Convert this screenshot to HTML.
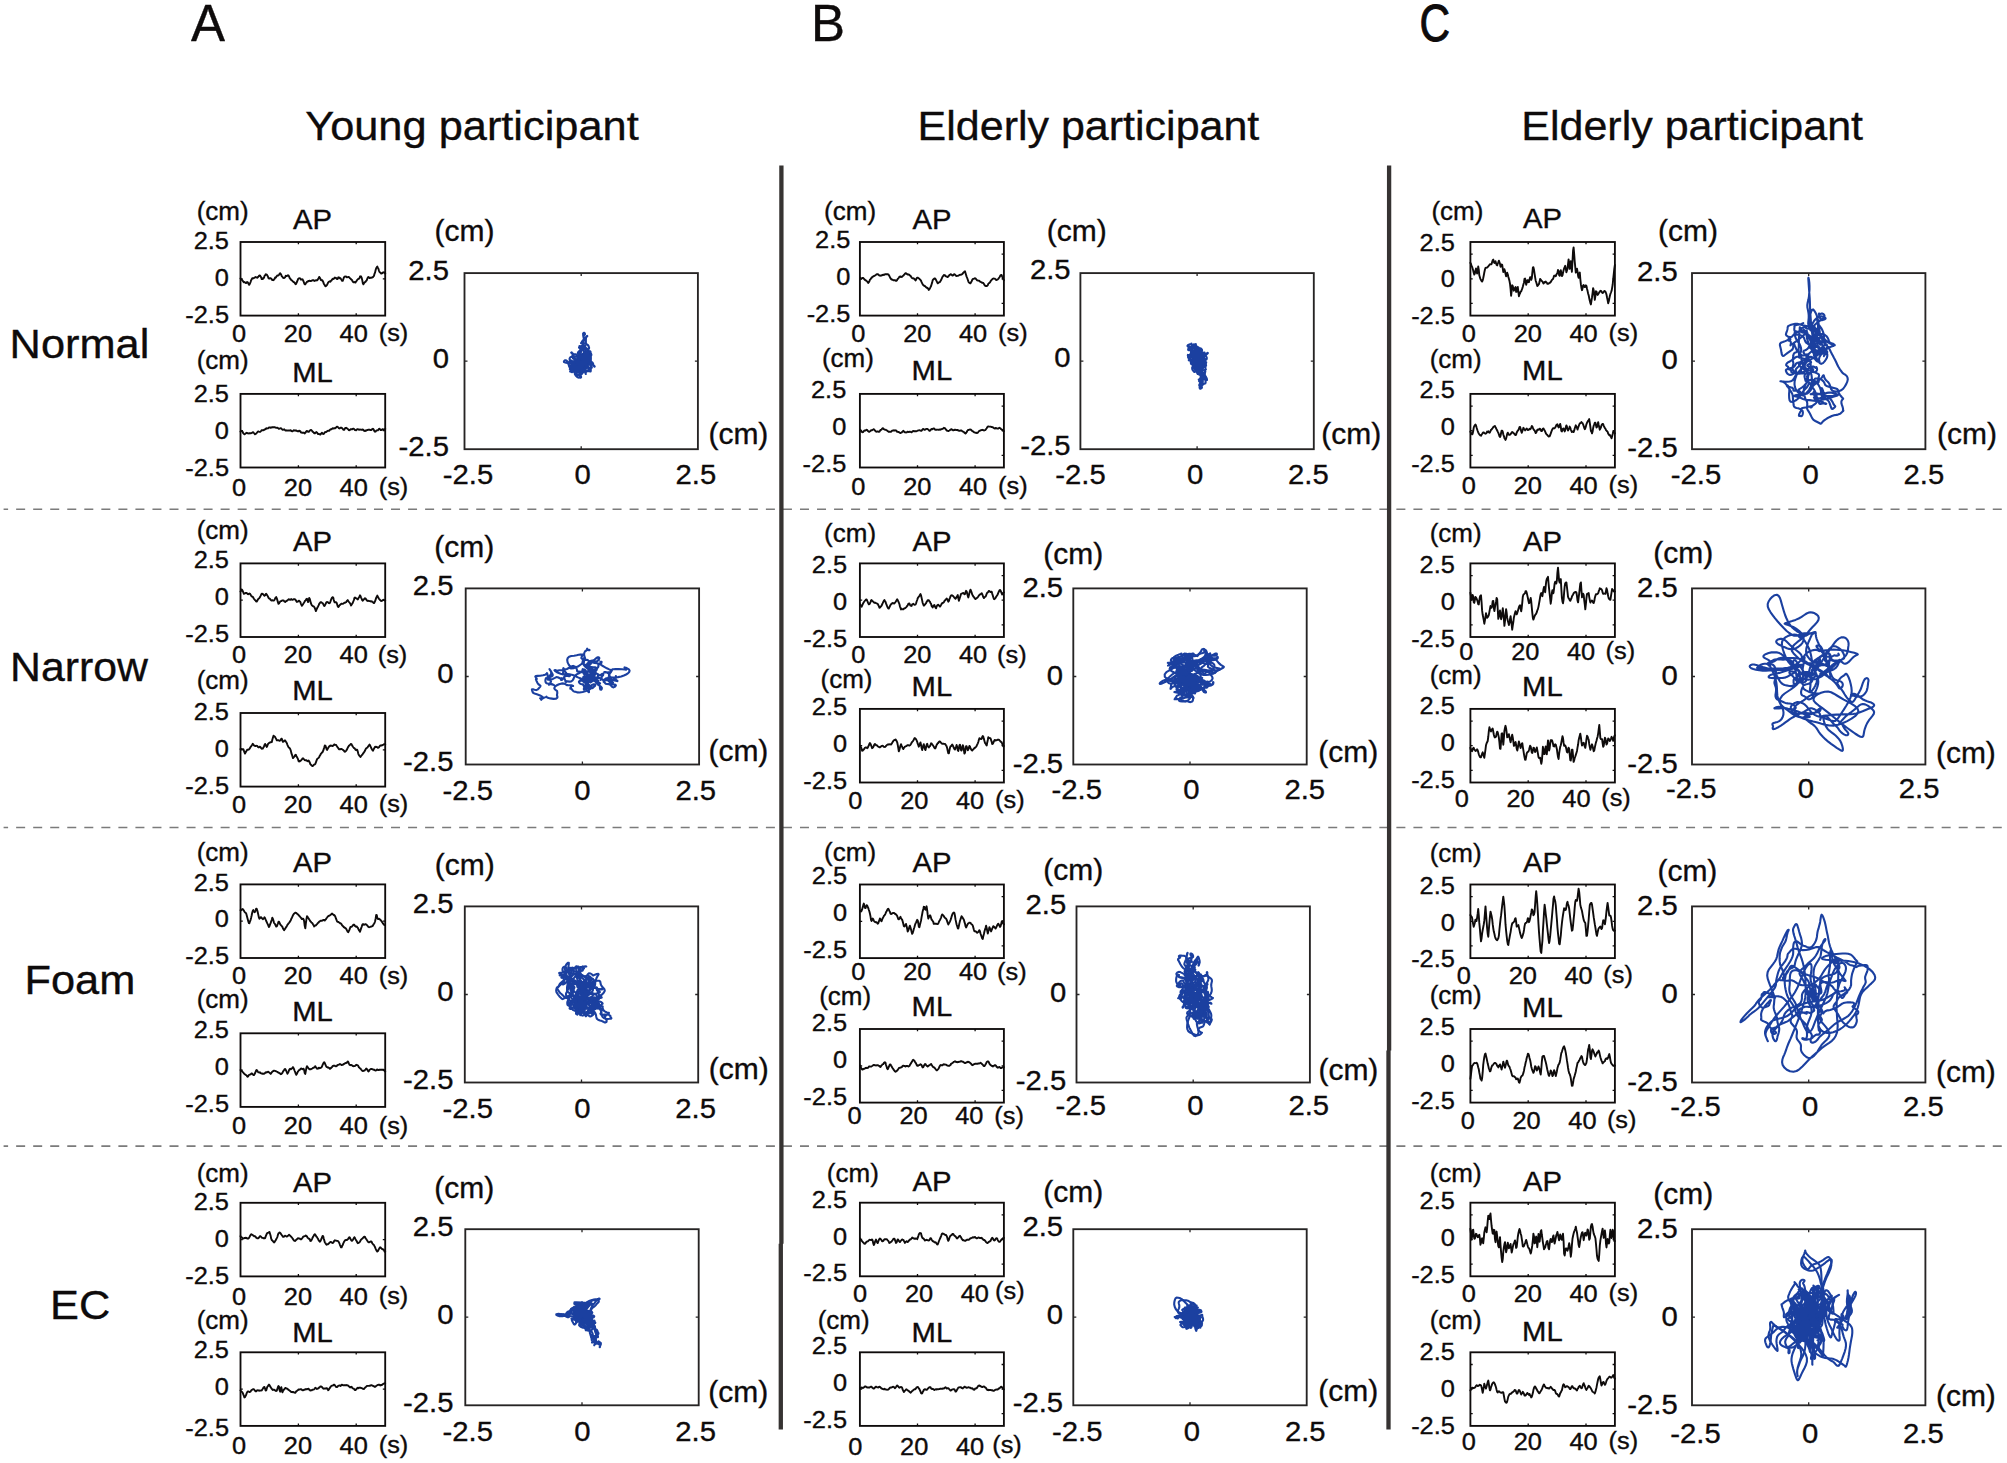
<!DOCTYPE html>
<html lang="en"><head><meta charset="utf-8"><title>Figure</title>
<style>html,body{margin:0;padding:0;background:#fff}svg{display:block}text{stroke:#0e0b0b;stroke-width:.35px}</style></head>
<body>
<svg width="2007" height="1463" viewBox="0 0 2007 1463" font-family='"Liberation Sans", Arial, Helvetica, sans-serif' fill="#0e0b0b">
<rect width="2007" height="1463" fill="#fff"/>
<line x1="3.6" y1="509.3" x2="2004.2" y2="509.3" stroke="#7b7b7b" stroke-width="1.6" stroke-dasharray="9 8.04" stroke-dashoffset="4.5"/>
<line x1="3.6" y1="827.5" x2="2004.2" y2="827.5" stroke="#7b7b7b" stroke-width="1.6" stroke-dasharray="9 8.04" stroke-dashoffset="4.5"/>
<line x1="3.6" y1="1146.1" x2="2004.2" y2="1146.1" stroke="#7b7b7b" stroke-width="1.6" stroke-dasharray="9 8.04" stroke-dashoffset="4.5"/>
<path d="M781.4 165.5V1243.7M780.8 1243.7V1429.5M1389.1 165.5V1050.5M1388.5 1050.5V1429.5" stroke="#363332" stroke-width="4.3" fill="none"/>
<text transform="translate(191 40.6) scale(1.0 1)" font-size="51">A</text>
<text transform="translate(811 40.6) scale(1.0 1)" font-size="51">B</text>
<text transform="translate(1419.6 40.9) scale(0.83 1)" font-size="51" style="stroke-width:.9px">C</text>
<text transform="translate(305.2 140.3) scale(1.045 1)" font-size="41.5">Young participant</text>
<text transform="translate(917.6 140.2) scale(1.036 1)" font-size="41.5">Elderly participant</text>
<text transform="translate(1521.3 140.2) scale(1.036 1)" font-size="41.5">Elderly participant</text>
<text transform="translate(9.6 358) scale(1.045 1)" font-size="41.5">Normal</text>
<text transform="translate(10 680.5) scale(1.031 1)" font-size="41.5">Narrow</text>
<text transform="translate(24.5 994.3) scale(1.045 1)" font-size="41.5">Foam</text>
<text transform="translate(50 1319.4) scale(1.045 1)" font-size="41.5">EC</text>
<path d="M240.5 278.4l.6 .8 .5 .7 .6 .1 .5 .7 .6 .9 .6 .7 .5-.4 .6 .6 .5 .3 .6 .3 .5-.7 .6-.4 .6 .3 .5 1.1 .6 1.3 .5 0 .6-1.3 .6-1.4 .5-1.8 .6-.8 .5-1.1 .6 .1 .5-.2 .6 0 .6-.6 .5-.2 .6-.4 .5 .4 .6 .1 .6 .2 .5-.4 .6-.6 .5-.8 .6-.4 .5-.1 .6 1 .6 1.1 .5 1.6 .6-.4 .5 .3 .6-1 .6-.2 .5-1.9 .6-.6 .5-1 .6 .2 .5 0 .6 1 .6 .9 .5 1.7 .6 .4 .5 .1 .6-.5 .6 .1 .5 .3 .6 1 .5 .5 .6 0 .6 .2 .5-.8 .6-.6 .5-1.3 .6 .2 .5-.8 .6-.7 .6-.8 .5 .1 .6-.2 .5-.5 .6-.9 .6-.7 .5 .7 .6 1.1 .5 1.3 .6 .4 .5 .9 .6 .4 .6 0 .5-.4 .6-.4 .5-1.4 .6 .2 .6-.2 .5 0 .6-.6 .5 .4 .6 .9 .5 1.4 .6 .7 .6 .9 .5 .5 .6 .4 .5 .5 .6 .5 .6 .7 .5 .1 .6 .7 .5 .9 .6 .4 .5-.9 .6-1.3 .6-1.3 .5-1.5 .6-.7 .5-.3 .6 .2 .6 .1 .5 1.1 .6-.2 .5 .1 .6-.2 .6 1.1 .5 1.1 .6 1.7 .5 1 .6 .1 .5-1.2 .6-.2 .6-1.2 .5 0 .6-.7 .5 .2 .6-.4 .6 0 .5 .2 .6 0 .5-.1 .6-.3 .5-.5 .6 0 .6 .1 .5 .8 .6-.4 .5 0 .6-.4 .6-.1 .5 .4 .6-.7 .5-.8 .6-1 .5-1.1 .6 .8 .6 1.1 .5 1.3 .6 .2 .5-.3 .6 .7 .6 1.2 .5 1.5 .6 1 .5 1 .6 .9 .5-.2 .6-.6 .6-.7 .5-1.1 .6-1.2 .5-.6 .6-.2 .6-.4 .5 .4 .6-1 .5-.3 .6-1 .6-.6 .5 .3 .6-.6 .5 .1 .6-1 .5 .3 .6 0 .6 .9 .5 .3 .6-.3 .5-1.3 .6-.2 .6 .4 .5 .7 .6-.2 .5 .8 .6 .9 .5 1 .6-.1 .6-1.5 .5-1.5 .6-1 .5-.3 .6 .1 .6-.1 .5 .8 .6-.1 .5-.1 .6-.1 .5 0 .6 .6 .6 .7 .5 .3 .6 .8 .5 .2 .6 1 .6 .9 .5 .8 .6 0 .5-.1 .6-.2 .5 .5 .6-1.1 .6-.6 .5-.9 .6-.6 .5-.4 .6-.3 .6-.3 .5-1.8 .6-.2 .5 .2 .6 1.4 .6 2.5 .5 2.8 .6 1.1 .5-1 .6-.7 .5-.6 .6-.2 .6-1.1 .5-.3 .6-1.7 .5-1.1 .6-.7 .6 .6 .5 .5 .6 0 .5-.4 .6 0 .5 .1 .6-.5 .6 .1 .5-.8 .6-.7 .5-2 .6-1.4 .6-2.6 .5-1.6 .6-1.1 .5-.6 .6 1.4 .5 .9 .6 2 .6 1.2 .5 .4 .6 .6 .5 .6 .6-.2 .6-.5 .5-.4 .6 .1 .5-.4 .6 .6 .6 .8" fill="none" stroke="#0e0b0b" stroke-width="1.9" stroke-linejoin="round" stroke-linecap="round"/>
<rect x="240.5" y="242" width="144.7" height="73.6" fill="none" stroke="#0e0b0b" stroke-width="1.85"/>
<path d="M298.4 242.0v2.3M298.4 315.6v-2.3M356.2 242.0v2.3M356.2 315.6v-2.3M240.5 278.8h2.3M385.1 278.8h-2.3" stroke="#0e0b0b" stroke-width="1.3" fill="none"/>
<text transform="translate(229 249.2) scale(1.045 1)" font-size="24.3" text-anchor="end">2.5</text>
<text transform="translate(229 286) scale(1.045 1)" font-size="24.3" text-anchor="end">0</text>
<text transform="translate(229 322.8) scale(1.045 1)" font-size="24.3" text-anchor="end">-2.5</text>
<text transform="translate(239 341.9) scale(1.045 1)" font-size="24.3" text-anchor="middle">0</text>
<text transform="translate(297.9 341.9) scale(1.045 1)" font-size="24.3" text-anchor="middle">20</text>
<text transform="translate(353.7 341.9) scale(1.045 1)" font-size="24.3" text-anchor="middle">40</text>
<text transform="translate(378.7 341.4) scale(1.045 1)" font-size="24.3">(s)</text>
<text transform="translate(196.7 219.8) scale(1.045 1)" font-size="24.900000000000002">(cm)</text>
<text transform="translate(312.5 229.4) scale(1.045 1)" font-size="28" text-anchor="middle">AP</text>
<path d="M240.5 431.6l.6-.6 .5-.2 .6 .3 .5 .9 .6 1.3 .6 .5 .5 .5 .6-.3 .5-.3 .6-.6 .5-.3 .6 .2 .6 .4 .5 0 .6 .1 .5-.4 .6 .2 .6-.2 .5 .1 .6-.3 .5-.3 .6-.4 .5 0 .6 .8 .6 .7 .5 .6 .6-.4 .5-.2 .6-.7 .6-.7 .5-.6 .6-.2 .5 .2 .6 .2 .5 0 .6-.5 .6-.6 .5-.6 .6 .2 .5-.1 .6-.1 .6-.4 .5 .1 .6-.7 .5-.1 .6-.9 .5 .4 .6-.2 .6 0 .5-.4 .6-.6 .5 .1 .6 0 .6 .3 .5-.4 .6 .2 .5-.4 .6 .1 .6-.2 .5 .3 .6-.1 .5 .1 .6 .3 .5 .2 .6-.1 .6-.1 .5 .5 .6 .3 .5 .4 .6-.2 .6-.3 .5-.1 .6 .1 .5 .6 .6 .8 .5 0 .6-.2 .6-.3 .5 .4 .6 .6 .5 .2 .6 0 .6-.2 .5 .2 .6 .1 .5-.1 .6 0 .5-.1 .6 .1 .6-.3 .5 .7 .6 .4 .5 0 .6-.3 .6-.7 .5 0 .6 .3 .5-.1 .6 .2 .5-.3 .6 .5 .6 .4 .5 0 .6 0 .5-.6 .6 .3 .6 .1 .5 1.3 .6 .1 .5 .3 .6-.2 .6 0 .5 .3 .6-.1 .5 .6 .6-.6 .5-.6 .6-1 .6-.2 .5 .1 .6 .8 .5 0 .6-.4 .6-.9 .5-.5 .6-.1 .5 .2 .6 .6 .5 .8 .6 .4 .6 .5 .5 .8 .6 .1 .5-.4 .6-.7 .6-.3 .5 .7 .6 .7 .5 .7 .6-.1 .5 .3 .6 0 .6 .2 .5-.9 .6-.3 .5-.6 .6 .9 .6 .4 .5-.1 .6-.8 .5-.8 .6-.1 .5-.2 .6-.2 .6-.6 .5-.3 .6-.1 .5 .1 .6-.1 .6-.9 .5-.5 .6-.1 .5 0 .6-.5 .6-.6 .5 0 .6 .4 .5-.4 .6 .2 .5-.4 .6-.3 .6-.9 .5-.2 .6 .2 .5 .7 .6 .7 .6 .3 .5-.3 .6-.4 .5-.3 .6 .3 .5 .4 .6 .6 .6 .9 .5 0 .6 .1 .5-1.4 .6-.4 .6-.2 .5 .3 .6 .5 .5 .2 .6 .7 .5 .6 .6 .2 .6-.4 .5-.6 .6-.1 .5 0 .6 .2 .6-.6 .5-.2 .6 .3 .5 .5 .6 .7 .5 0 .6 .2 .6-.6 .5-.5 .6-.1 .5 .4 .6 .2 .6 0 .5-.2 .6 .1 .5 .1 .6 .1 .6-.1 .5-.2 .6 .4 .5 .7 .6 .3 .5 .2 .6-.6 .6 .2 .5-.5 .6-.1 .5-.3 .6-.2 .6 .2 .5-.2 .6 .4 .5-.1 .6 .2 .5-.6 .6-.4 .6-.3 .5 .3 .6 1.2 .5 .9 .6 .5 .6-.2 .5-.7 .6-.4 .5 0 .6-.1 .5-.6 .6-.8 .6-.1 .5 .6 .6 .7 .5 0 .6-.2 .6-.7 .5 .1 .6 .2 .5 0 .6 .1 .6-.6" fill="none" stroke="#0e0b0b" stroke-width="1.9" stroke-linejoin="round" stroke-linecap="round"/>
<rect x="240.5" y="393.9" width="144.7" height="73.6" fill="none" stroke="#0e0b0b" stroke-width="1.85"/>
<path d="M298.4 393.9v2.3M298.4 467.5v-2.3M356.2 393.9v2.3M356.2 467.5v-2.3M240.5 430.7h2.3M385.1 430.7h-2.3" stroke="#0e0b0b" stroke-width="1.3" fill="none"/>
<text transform="translate(229 402.3) scale(1.045 1)" font-size="24.3" text-anchor="end">2.5</text>
<text transform="translate(229 439.1) scale(1.045 1)" font-size="24.3" text-anchor="end">0</text>
<text transform="translate(229 475.9) scale(1.045 1)" font-size="24.3" text-anchor="end">-2.5</text>
<text transform="translate(239 495.6) scale(1.045 1)" font-size="24.3" text-anchor="middle">0</text>
<text transform="translate(297.9 495.6) scale(1.045 1)" font-size="24.3" text-anchor="middle">20</text>
<text transform="translate(353.7 495.6) scale(1.045 1)" font-size="24.3" text-anchor="middle">40</text>
<text transform="translate(378.7 495.1) scale(1.045 1)" font-size="24.3">(s)</text>
<text transform="translate(196.7 368.7) scale(1.045 1)" font-size="24.900000000000002">(cm)</text>
<text transform="translate(312.5 382.3) scale(1.045 1)" font-size="28" text-anchor="middle">ML</text>
<path d="M574.3 364.7l-.2-.6-.6-.4-.8-.1-.9 .1-1 0-.9 0-.7 .1-.1-.1 .4-.1 .5-.3 .6-.1 .6 .4 .5 .7 .4 .9 .2 .5-.3 .4-.5 .1-.2-.1-.2-.2-.3-.1-.2 .2 .1 .6 .3 .6 .4 .1 .3-.6 .2-1 .5-.6 .7 .3 .3 1.1 0 1.3 .2 .9 .8 .3 1.5 .1 1.6 .2 1.1 0 0 .1-.7 .3-.9 .4-.8 .4 0 .1 .6-.2 .1-.5-.8-.5-1.6-.2-1.7-.2-1.2-.1-.6 0-.3 0-.3-.1-.3 0-.2 .2-.1 .2 .3 .1 .9-.5 1.8-.9 2.4-1 2-.5 1.4 .1 .7 .6 .4 .9 .2 .7 .1 .1 0-.6-.2-1.5-.6-2-1-2-1-1.3-.9-.5-.7 .1-.7 .2-.6 .1-.8-.1-.9 0-.5 .2-.1 .4 .1 .4 .5 .3 .9 0 1-.3 .9-.3 .1-.3-.7-.2-1.3 .1-1.3-.1-1.1-.2-.4-.3 .2 0 0 .2-.2 .1-.4-.3-.6-1.1-.1-1.3 .6-1.1 1-.6 .9 .2 .6 .4 .3 .3 .1 0 .3-.3 .3-.3-.3-.2-.7-.3-.4-.3 .3-.3 1 0 1.1 .2 .8 .3-.1 .3-.5 .1 .1-.1 1.2 0 1.8 .3 1.8 .1 1.5 0 1.3-.2 1.1 0 1.1 .3 .7 .8 .3 .9 .2 .4-.2-.3-.5-.5-1-.3-1.1 0-.8 .5-.4 .9-.1 .6 .2 .1 .8 0 1-.1 .8 .2 .5 .2 .1 .2 .2-.2 .6-.6 .5-.4 0-.3-.3-.1-.7 .1-.6 0-.7-.3-.5-.9 0-1.2 .3-1.1 .6-.5 .5 .4 .2 1-.5 .9-.4 .6-.2 .5 .2 .4 .8 .1 1.2-.4 1-1.2 .9-1.6 .9-1.5 .4-1.1 .2-.6 .3-.1 .3-.2 .1-.6-.3-.6-.9-.1-1 .7-.6 1-.1 .7 .1 .4 .2-.1 .4 0 .1 .6-.1 .9 0 .7 .3 .2 .7-.2 .9-.3 .7-.3 0-.2-.4-.1-.6 .2-.6 .5-.1 .6 .2 .6 .4 .5 .2 .7 0 1-.1 .6-.4 .5-.8 .4-1 .2-.4 .1 0 .2 .2 .2-.1 .3-.3 .3-.5 0 .1-.1 .5 .2 .7 .4 .8 .5 .9 .3 1 .4 1.4 .6 1.3 .7 1 .9 .3 .5-.2 0-.4-.3-.5-.6-.3-.6-.1-.8-.2-.9-.7-.9-1.2-.9-1.5-.9-1.7-.8-1.7-.6-1.5-.3-1.1-.1-.4 .1 .5 .3 1.1 .5 1.5 .8 1.2 .9 1.1 .4 1.2-.5 .8-1.3 .2-1.5-.4-1.1-1.1-.7-1.2-.1-1.1-.2-.9-.4-1-.3-1.1-.3-1.3-.5-1.6-.6-1.4-.7-.8-.6 .1-.4 1.1-.3 1-.8 .5-.9-.1-1-.1-.7 0-.4-.1-.4-.1-.5 .1-.7 .7-.2 1.6 .5 2 1.2 2 1.5 1.6 1.5 1.2 1.1 .7 1.1 .3 1-.2 .8-1 .2-1.6 .2-1.8 .7-1.4 1.4-.4 1.6 .1 1.2 .2 .4-.2-.3-.4-.6-.3-1 .1-1.3 .6-1.5 .6-1.3 .3-.6 .2 0 .1 .4 0 .5 .1 .6 .5 .4 .8 .1 .2-.1-.4 .2-1.1 .4-1.4 .6-1.2 .7-.7 .3-.8 .1-1 0-.9 0-.8 .1-.4 .3 .1 .3 .4 .3 .3 .3-.1 .1-.3-.1-.1-.6 .1-.7 .4-.3 .4 .1 .5 .4 .1 .4-.3 .1-.8-.1-.8-.2-.2 .2 .3 .3 .5 .5 .3 .5 .2 .5 .3 .3 .2 0-.1-.2-.1-.4 .2 0 .2 .2 .2 .6-.1 .9-.4 .7 0 .3 .3-.1 .1-.5 0-.4-.3-.2-.3 .4 .2 .8 .9 .7 1.1 .5 1.1 .2 1 .2 .7 .4 .3 .8-.3 1.3-1.2 1.2-1.7 1.1-1.3 1-.3 .7 .4 .7 .6 .9 0 .7-.8 .3-.9-.3-.6-.8-.2-1.1-.1-1-.1-.9-.4-1.1-.7-1-.4-1 .2-.8 .8-.7 .7-.3 .2-.2-.1 0-.4 .2 .1-.1 .6-.5 .5-.9 .4-1 .2-1.1 .2-1 0-.7 0-.5-.4-.5-.5-.6-.1-.5 .2-.3 .5 .2 .6 .4 0 .1-.9-.2-1 0-.8 .2-.5 .6-.3 .6-.3 .8-.1 .7 .1 .5 .6 0 .6-.2 .2-.2-.4-.1-.6 .2-.9 .5-.5 .7 .3 .9 .8 .8 1.1 .4 .9 .5 .3 .6-.2 .9-.6 1.1-.9 1.2-1.1 .8-1.3 .6-1.7 .7-1.7 .5-1.5 .2-.9-.1 .1-.3 1-.2 1.8 .1 2.2 .3 2.1 .1 1.6 0 .7-.2-.1-.4-.6-.3-.7-.1-.4 0-.4 0-.2-.1 .3-.3 .8-.3 .9-.3 .4-.2 .1 0 0 .1 .2 .1 .5-.2 .4-.6-.4-.6-1-.4-1 .1-.6 0 .2-.3 .3-.5 .1-.6-.3-.4-.6-.4-.4-.7-.3-.7-.2-.5 .1-.3 .3 0 .3 .1 .3-.1 1-.2 1.1-.3 .9-.2 .5-.1-.3 .1-.7 0-.5-.3-.4-.1-.6 .3-.9 .7-1 .8-.6 .5-.1 .4 .4 .3 .7 .2 .6-.3 .4-.8 .1-.6-.5-.1-.9 .4-1 .3-.3-.2 .5-.6 .8-.4 .6 .1 .3 .8-.2 1.1-.5 .8-.4 .5-.4 .1-.1-.2 .2-.2 .1-.2-.4-.1-.6 .2-.7 .3-.7 .2-.2 0 .2 0 .3 .1 .4 .3 .2 .6-.3 .8-1 .7-1.3 .3-1.3-.4-1.1-1.1-.8-1.7-.4-1.5-.5-1.1-.8-.6-1.2-.3-1.3-.3-.9-.4-.1-.6 .6-.7 .8-.5 .7 .1 1 .8 1.6 1.3 2.3 1.4 2.2 1.2 1.6 .7 .4 .4-.1-.1-.3-.3-.5-.4-.8-.2-.9 .1-.6 .3 .5 .6 1.4 .9 1.6 1.3 1.3 1.2 .5 1-.2 .4-.5 .3-.4 .7 .1 1.3 .2 1.6 .4 1.1 .5 .2 .6-.6 .8-.7 1.1-.6 1-.1 .2 .4-.3 .7-.4 .8-.3 1 .1 .7 .5 .1 .5-.5-.1-1-.7-1-1.3-.7-1.5-.2-1.1-.2-.4-.2 .1-.3 .2-.3 0 .2-.1 .1 .3-.3 .2-.4 .2-.5 .3-.5 .6-.7 .9-.8 1.2-1.1 1.6-.7 1.2-.5 .7-.2 .2-.1-.5-.2-.5-.3-.3-.4 0-.4-.2-.5 0-.9 .2-.9 .6-1 .9-1 .7-.6 .5-.2 .6-.1 .7 .1 .7 .1 .3 0 .1-.2 .1-.3 .4-.3 .7-.3 .5-.1 .1-.2-.5-.3-.7-.3-.6-.2-.3-.1-.2 .2-.2 .4-.3 .3-.4 .4-.4 .3-.5 .2-.4-.1-.5-.3-.2-.3 .4-.1 .5-.1 1-.1 1.1 0 .7 .1-.2 .1-.6 .1-.7 0-.1-.1 .3 .1 .7 .2 .9 0 .8-.3 .6-.4 .1-.3-.3-.3-.3-.4 0-.7 .3-.8 .3-.7 .1-.6-.2-.5-.2-.8 0-1.2-.2-1.3-.3-1.1-.5-.6-.3 .3 0 1.1 .4 1.4 .4 1.3 .1 1.2-.3 1.1-.8 1.1-.9 1-.5 .9 .2 1 .7 1.4 .6 1.5 .3 1.2 0 .6-.2-.2-.2-.7-.2-.6-.2-.3 .4 .1 .5 .3 .6-.1 .6-.4 .4-.7 .1-.9-.5-.9-.9-.7-.9-.7-.3-.5 0 .1 0 .3-.7 .1-1-.5-.6-1.1 0-1.1 .6-.5 .6-.1 .1 .1-.4 .1-.4 0-.3 .1-.2 .3-.1 .2-.4 0-.3-.2-.4 0-.5 .4-.3 .6-.2 .2 .1-.3 .5-.5 .6-.3 .6 0 .7 .2 1-.1 .6-.5 0-.6-.4-.3-.7 .1-.6 .2-.1 .2 .1 .4-.3 .7-.7 .7-1 .9-.9 .7-.3 .2 0 .2 .3 .4 .3 .8 .3 .8 .7 .9 .9 .7 1 .3 1.3 .2 1.1-.2 .6-.5 0-.5 .1-.1 .3 .2 .4 .3-.2 .3-1.1 .4-1.2 .3-.6 .3 .2 .4 .3 .3-.3 0-.7 0-.3 0 .3 .2 .7 .5 .4 .7 0 .6-.5 .5-.6 .3-.4 .2-.4 .3-.1 .4 0 .7 .4 .7 .8 .3 1.3 .1 1.4 0 1 .2 .5 .2 .4-.1 .2-.7-.2-1.2-.9-1.2-1.5-1.1-1.7-.6-1.2-.3-.6-.4 0-.4 .6-.4 1.2-.5 1.4-.7 1.2-.7 .5-.7-.1-.7-.5-.4-1.1 .1-1.6 0-1.7-.2-1.4-.6-1-1.1-.6-1-.1-.5 .4-.2 .5-.5 .7-.8 .5-.4 .6 .1 .8 .6 1 .9 .6 .8-.2 .8-.7 1.2-.7 1.2-.4 1-.3 .9-.5 .8-.2 .9 .1 .8 .1 .6-.2 .4-.7 .5-.9 .9-.8 1-.3 1-.1 .9 .3 .8 .8 .4 1-.1 .8-.5 .5-.7 .1-.2-.4 .4-1.3 .6-1.8 .4-1.6-.2-1-.6-.2-.4 .6-.4 1-.8 1-1.4 .6-1.7 .1-1.5-.5-.9-.7-.4-.5 0-.4 .1-.2 .1 .1-.2 .4-.7 .7-.9 .7-.9 .4-.7 .2-.3 .2 0 .1 .1 .3 .2 .7 .2 .9 .3 .5 .3 .2 .3-.3 .6-.4 .8 .3 .8 .7 .5 .4-.2-.3-.7-1.1-.9-1.3-.9-1.1-1.2-.9-1.2-.5-1-.2-.1-.2 .7-.4 1-.5 .4-.5-.5 .1-1 .8-.8 1.2-.1 1.4 .5 1.2 .6 .9 .3 .6-.1 .1-.3-.3-.2-.4-.1-.4-.3-.6-.6-1.1-1-1.5-1.1-1.6-1.2-.8-1.4 .4-1.2 1.2-1.2 1.6-1.2 1.6-1.2 1-1.3 .2-1.4-.4-1.3-.9-.8-.9-.5-.5-.1 .4-.6 .7-1.2 .9-1.2 .6-.6 .3-.3 0-.4-.3-1.4-.4-2.1-.1-1.8 .6-.9 .7 .1 .5 .7 .1 .7-.7 .7-.6 .9 0 1.2 .6 1.4 .8 1.5 .6 1.5 .1 1.1-.5 .6-.6 .3-.6 .1-.6-.1-.4 0 0 .5 .3 1.1 .4 1.3 0 1.2-.6 .8-1.3 .3-1.4 0-1-.5-.5-.6 .3-.6 .8-.1 1.3 .2 1.6-.2 1.5-.6 .9-.8 .2-.2-.4 .7-.8 1.3-.7 1.3-.3 .9 0 .1 .4-.3 .5-.7 .1-.7 .1-.3-.2 .5-.4 1-.2 1.1 .2 .9 .1 .8-.2 .8-.4 .8-.5 .6-.5 0" fill="none" stroke="#1b40a0" stroke-width="2.1" stroke-linejoin="round" stroke-linecap="round"/>
<path d="M574.1 364.6l0-.2 0-.3-.1-.2-.4-.2-.5-.2-.3 .1-.2 .3-.2 .3-.3 0-.4-.3-.4-.4-.2-.3 0-.2-.2-.1-.2 0 .2 .2 .4 .4 .5 .5 .4 .6-.1 .3-.4 .3-.3 .4-.2 .5-.1 .7-.2 .4-.3 .3-.4 .2 .3 0 .3-.1 .2-.1 .1-.1-.2-.1 .1-.3 .4-.3 .5 .1 .3 .5 .1 .9-.4 1.1-.4 .9-.1 .7 .2 .5 .3 .3 .3 .2 0 .2-.2 .1-.1 0 .1-.2 .4-.3 .6-.2 .5-.2 .2-.4-.2-.7-.2-.8 0-.8 .4-.3 .6 .2 .4 .5 .3 .2 0 .1-.1-.3-.2-.4 0-.5 .3-.4 .3-.4 .3-.5-.1-.8-.5-.8-.5-.8-.2-.7 .1-.5 .2-.5 .3-.4 .2-.5 0-.6 0-.6 .1-.5 .2-.4 .4-.4 .3-.4-.1-.2-.7-.1-.7 .2-.7 .1-.4-.1-.4-.3-.2-.4-.3-.7 .1-.9 .2-1.2 .2-1-.2-.8-.6-.4-.6-.1-.4-.1-.1-.2 .3-.2 .2-.1 .1 .2 .1 .6 .3 .6 .5 .3 .8 .2 .9-.1 .9 0 .6 .2 .5 .4 .4 .4 .3 .5 .5 .6 .7 .5 1.1 .5 1 .2 .4 0 0-.1-.4 .2-.3 .5-.4 .6-.5 .8-.5 .7-.6 .4-.3 .2 0 .2 .2 .2 .9 .3 1.3 .3 1.8 .2 1.6 0 1.1 .1 .7-.1 .2-.1-.1-.2-.4-.2-.5-.3-.5-.4-.1-.6 .3-.9 .5-1.1 .5-1.2 .2-1 .3-.7 .3-.6 .3-.5 .4-.5 .3-.6 .2-.6 .3-.4-.1-.2-.5 .1-.8 .2-.7 .3-.4 0-.1-.1 0-.1 0 .2 .3 .3 .8 .1 .7 0 .4-.3 .2-.3 .3-.1 .4 .2 .4 .3 0 .2-.5 .2-.8 0-.8 0-.7-.2-.5-.1-.4 .2-.4 .5-.1 .7 .1 .5 .6 .4 .8 .3 .9 .5 .6 .7 .4 .6 .5 .3 .7 .1 .7 .2 .5 .5 .2 .8 .2 .7 .1 .4 .1 .2-.3 .2-.5 .3-.3 .5-.1 .3 .1 .2 .2 0 .1-.1 .1-.1 0 .2 .1 .4-.1 .5-.2 .7 0 .8 .2 .7 .3 .5 .2 .4 .3 .6 .3 .7 .4 .6 .3 0 0-.6-.2-1-.3-.9 0-.7 .2-.5 .2-.3 .2-.3-.1-.5-.4-.7-.7-.7-.4-.4-.1-.2 .2-.2 .1-.6 0-1-.2-1.2-.2-1 .1-.5 0-.3-.1-.2-.1-.3-.2-.1-.2 .1 0 .3-.1 .4-.4 0-.7-.6-.5-.7-.3-.8-.2-.8-.2-.9-.4-1-.4-1.1-.2-1.1 0-1-.3-.7-.6-.5-.6-.2-.3 .2 .1 .4 .4 .8 .3 1 .1 .9 .4 .8 .9 .7 1.1 .7 .7 .8-.1 .6-.8 .5-1 .4-.8 .3-.5 .1-.3 .4-.3 .6-.2 .8 0 .8 .2 .7 .4 .7 .4 .7 0 .6-.4 .2-.5-.3-.2-.5 .3-.6 .5-.5 .7-.6 .5-.8 .3-.5-.1-.2-.6-.1-1 0-1-.1-.8-.2-.3-.4 .1-.4 .4-.4 .3-.5 .2-.2-.1 0-.2 .3-.2 .3-.2 .2-.3 .1-.3 .1-.3 .3-.4 .4-.4 .2-.4 .2-.4 .1-.3 .1-.1 .3 0 .2 .2 0 .4-.2 .6 0 .6 .3 .4 .5 .2 .7 .5 .6 .9 .4 1.1 .4 1 .6 .8 .8 .1 .8-.5 .9-.7 .6-.7 .5-.6 .4-.3 0-.2-.2-.4-.4-.3-.3-.1 .2 .2 .5 .1 .4 0 .2-.2 .3-.3 .4-.2 .5 .1 .3 .2 .1 0-.1-.1-.1-.1 .2-.2 .1-.1 .2 0 .2-.1 .3-.4 .4-.3 .2 .1-.2 .1 0-.1 .1-.4 .3-.5 .1-.2-.4-.1-.6 .1-.7 .2-.7 .2-.4-.2-.2-.3 .1-.3 .2 .3-.4 .4-.6 0-.7-.2-.7-.3-.5-.2-.4-.1-.4-.3-.5-.7-.5-.7-.4-.4-.4-.1-.3 .1-.4 0-.7-.2-.7 .2-.5 .4-.2 .5 .1 .4 .1 .3 0 .2 0 .2 .2-.2 .3-.4 .6-.8 .7-.8 .8-.8 .9-.6 .7-.5 .5-.1 .3 .1 .2 .3 .1 .4 .2 .4 .3 .4 .3 .4 .3 .5 .3 .4 .3 .3 .7 0 .9-.4 .9-.6 .8-.6 .5-.7 0-.7-.2-1.1-.4-1.1-.3-.7-.2-.2 0 .4 .2 .6 .4 .4 .3 .3 .1 .3-.2 .5 .1 .5 .3 .5 .7 .2 .5-.1 .2-.3 0-.1-.3 .2-.4 .3-.5 .1-.4 0-.4-.2-.2 .2 0 .5 0 .3-.1 .1-.2-.3-.1-.7 0-.9-.2-.5-.3 0-.3 .3-.2 .2 0 .1 .1-.1-.2 0-.4 0-.4 .1-.5 .3-.2 .3-.2 .3-.2 .2-.4 .1-.4-.2-.4-.2-.2-.2 0-.1 0-.1-.2 .1-.2 .2 0 .3 .1 .3 .1 .6 .2 .6 .2 .5 .1 .3 0 .2-.1 .2-.2 .3 0 0 .3-.3 .8-.6 .8-.4 .8-.1 .5 .2 .3 0 .3-.1 .2-.4 .3-.4 .2-.6 .3-.6 .4-.6 .2-.5 0-.6-.1-.5-.1-.6-.1-.5-.1 0-.3 .1-.7 .2-.9 0-.9-.3-.7-.4-.5-.5-.4-.4-.3-.2-.4 .2-.4 .5-.4 .7-.3 .3 0-.1 .2-.4 .2-.5-.1-.6-.4-.6-.3-.4-.2-.2-.3 .1-.2 0-.1-.2 0-.4 .3-.4 .4 0 .5 .3 .6 .6 .8 .6 .9 .6 .8 .5 .8 .6 .8 .6 .9 .4 1 0 .7-.6 .4-.8 0-.7-.2-.4 0 .1 .2 .3 .6 .4 .5 .3 .3 .4 .1 .4 .2 .5 .5 .5 .8 .3 1 .1 1 .5 .8 .6 .8 .7 .7 .7 .6 .8 .4 .6 .1 .5-.3 .4-.6 .1-.8 0-1 0-1.1-.2-.9-.4-.7-.6-.5-.7-.3-.5-.2-.4-.1-.1-.2 .1-.3 .4-.3 .7-.3 .7-.3 .6-.5 .1-.5-.1-.4 .1-.3 .3-.4 .2-.6 0-.7-.1-.7-.1-.6 0-.3 .2-.2 .3-.2 .3-.3 .4-.3 .7-.5 .9-.5 .8-.6 .6-.6 .2-.4 0-.1-.1 .2-.1 .2 0 .2 0-.1 .2-.3 .3-.5 .4-.5 .3-.4 .2 0 0 .1-.1 .1 .1 0 .4-.2 .6-.3 .5-.4 .4-.5 .2-.6 .3-.7 .3-.6 .4-.3 .3 .2 .1 .7 .1 .7 .1 .4 0 .2 .1-.1-.1 .1-.1 .2-.2 .3 0 .1 .4 0 .6-.2 .5-.4 .4-.5 0-.6 .1-.3 .1-.1-.3 0-.6 .1-.5-.3 0-.6 .4-.8 .5-.5 .2-.1 .2 .3 .1 .4-.1 .2-.7 .1-.9 .3-.8 .6-.1 .9 .4 .9 .3 .9 .2 .7 .1 .6 .1 .5 .2 .5 .2 .5 .1 .5 0 .6 0 .5 .1 .3 .1-.1 0-.4-.1-.6-.2-.6-.3-.7-.4-.7-.1-.3 .2 .1 .6 .5 .3 .5-.2 .1-.8-.3-1-.7-.7-.9 .1-.5 .5-.2 .6-.1 .5 .1 .2-.1-.3-.3-.7-.3-.9-.3-.9-.3-.6-.4-.3-.3 0-.2 .2 .1 .4 .3 .4 .5 .4 .4 .2 .2 .2 0 0-.2-.3-.5-.4-.4-.4-.4-.2-.1 .1 .2 .4 .1 .3 0 .3-.2 0-.1-.2 .1-.1 .2 .1 .1-.2 0-.4 .2-.4 .7-.1 .6 .4 .5 .4 .1 .1-.2-.3-.2-.6-.1-.6 .1-.1 .2 .3 .2 .6 .3 .6 .3 .2 .5-.1 .9-.1 1-.1 .9 0 .6 .1 .3 .2 .2 .1 .2-.2 .2-.4 .2 0 .2 .4 .6 .5 .7 .5 .9 .2 .6 .2 .1 .6-.3 1-.1 .8 0 .3 .4-.2 .5-.4 .4-.7 .3-.9 .3-.9 .6-1 .7-.8 .8-.3 .9 .1 .6 .1 .4-.1 .2-.1-.2-.1-.3-.3-.6-.1-.8 0-.9 .2-1.1 .3-1 .4-1.1 .1-1.2-.3-1.3-.6-1.1-.7-.9-.7-.5-.8-.5-.9-.4-.7-.4 0-.3 .6-.5 1-.5 .9-.5 .9-.4 .9-.3 1.1-.3 1.1-.8 .7-1.1 .2-1-.4-.5-.9 .1-1.1 .8-1.1 1.1-.8 1.3-.3 1.3 0 1.1-.3 .9-.7 .7-.6 1.1-.2 1.1 .2 .9 .3 .6-.1 .7-.4 .7-.4 1.1-.3 1-.2 .7-.1 .3 .1 .1 0-.1-.1-.3-.1-.3-.2-.4-.2-.3-.2-.1-.2 0-.2-.1-.2-.2-.2-.2-.2-.4 .1-.1 .5 .1 .9 .3 .6 .1 .1-.2-.4-.7-.5-1-.5-1.1-.2-1-.1-.6 0-.4 .2-.2 .7-.2 .8-.1 .8-.1 .5 0 .4-.2 .5-.4 .6-.7 .5-.7 .1-.5-.1-.1-.2 .3 .1 .4 .2 .2 .2-.3 .1-.5-.1-.4-.4-.3-.6-.1-.7 0-.3-.2 .3 0 .5 .1 .2 .2-.3-.1-.5-.6-.3-.6-.1-.5 .1-.1 .2 0 .1 .2-.1 .2 0-.2-.1-.3-.3-.6-.3-.6-.3-.4-.5-.3-.5-.3-.5-.3-.4-.6-.2-.9 .1-1 .1-1.1 .1-1.2 .3-1 .5-1.2 .6-1.2 .6-1.4 .4-1.3 0-1-.2-.8-.1-.8 0-.7 .3-.7 .4-.7 .3-.5 .3-.6 .3-.6 .6-.7 .9-.6 .8-.6 .4-.4-.2-.3-.4 .2-.5 .6-.2 1-.1 1.4-.1 1.5-.2 1.2-.1 1 .3 .7 .8 .6 1 .7 .8 .9 .4 1.1 .3 1.1-.1 .8-.5 .4-.7 0-.8-.3-.8-.5-.8-.4-.9-.5-1.3-.3-1.5-.4-1.2-.4-.9-.3-.1 .1 .5 .5 .6 .6 .2 .5-.2 .4-.4 .2-.1 .1 .2 0 .2-.1 0-.3 0-.6 .2-.6 .5-.6 .5-.2 .6 .1 .5 .4 .2 .4 .1 .5-.2 .6-.3 .8-.5 .9-.6 .8-.6 .8-.6 .9-.2 1 .2 .9" fill="none" stroke="#1b40a0" stroke-width="2.1" stroke-linejoin="round" stroke-linecap="round"/>
<rect x="464.5" y="273.1" width="233.4" height="176.1" fill="none" stroke="#262424" stroke-width="1.85"/>
<path d="M581.2 273.1v3.0M581.2 449.2v-3.0M464.5 361.2h3.0M697.9 361.2h-3.0" stroke="#262424" stroke-width="1.3" fill="none"/>
<text transform="translate(449 279.6) scale(1.045 1)" font-size="28" text-anchor="end">2.5</text>
<text transform="translate(449 367.7) scale(1.045 1)" font-size="28" text-anchor="end">0</text>
<text transform="translate(449 455.7) scale(1.045 1)" font-size="28" text-anchor="end">-2.5</text>
<text transform="translate(468 484.2) scale(1.045 1)" font-size="28" text-anchor="middle">-2.5</text>
<text transform="translate(582.7 484.2) scale(1.045 1)" font-size="28" text-anchor="middle">0</text>
<text transform="translate(695.9 484.2) scale(1.045 1)" font-size="28" text-anchor="middle">2.5</text>
<text transform="translate(434.5 240.6) scale(1.045 1)" font-size="28.7">(cm)</text>
<text transform="translate(708.4 444.2) scale(1.045 1)" font-size="28.7">(cm)</text>
<path d="M240.5 591.5l.6-.7 .5-1.4 .6 .6 .5 .9 .6 1.4 .6 1.5 .5-.2 .6-.2 .5-.5 .6 .1 .5 0 .6 .5 .6 .6 .5 .1 .6-.4 .5-.3 .6 .4 .6 .9 .5 .8 .6 .8 .5 .2 .6 .3 .5 .7 .6 1.1 .6 .8 .5 .6 .6 .5 .5 .8 .6 .2 .6-.8 .5-1.1 .6-.9 .5-.3 .6-.6 .5-.9 .6-1.1 .6-1.2 .5-1 .6 .1 .5 .3 .6 .5 .6 .7 .5 .5 .6-.5 .5-1 .6-.5 .5 .7 .6 1 .6 .8 .5 1.3 .6 .8 .5 .2 .6 .5 .6 .8 .5 .5 .6 .2 .5-.4 .6 .3 .6 .1 .5-.1 .6-.8 .5-1.1 .6-1 .5-.6 .6 1.4 .6 1.9 .5 1.9 .6 1.6 .5-.3 .6-1.2 .6-.7 .5-.4 .6-.2 .5-.2 .6-.4 .5 0 .6 0 .6 .7 .5 .6 .6 .3 .5-.4 .6-.5 .6-.4 .5-.2 .6-.7 .5-.5 .6 .1 .5 .1 .6 .4 .6-.4 .5-.4 .6 .6 .5 .2 .6-.2 .6-.6 .5 .1 .6 .1 .5 .1 .6 .8 .5 .9 .6 .9 .6-.3 .5-.2 .6-.6 .5-.2 .6 .6 .6 .6 .5 1.6 .6 1.4 .5 .9 .6-.8 .6-.9 .5-.8 .6-.8 .5-1.2 .6-.5 .5-.7 .6-1 .6-.4 .5 1.5 .6 1.9 .5-1.7 .6-2.4 .6 1 .5 2 .6 2.2 .5 1.3 .6 .9 .5 .5 .6 .4 .6 .1 .5 .6 .6 1 .5 1.5 .6 1.6 .6-1.4 .5-1.2 .6-1.3 .5-.8 .6-1.2 .5-1.3 .6-.8 .6-.7 .5-.3 .6 .3 .5 .5 .6 .2 .6 .9 .5 1 .6 1 .5-.5 .6-1.1 .5-1.1 .6-1.2 .6-.1 .5 .1 .6 .5 .5 .5 .6 .1 .6-.3 .5-1.3 .6-1.7 .5-1.3 .6-1.1 .6-.3 .5 .4 .6 2.4 .5 1.8 .6 .7 .5-.3 .6-.1 .6 .6 .5 1.6 .6 2 .5 .8 .6-.6 .6-1 .5-.4 .6-.7 .5-.4 .6-.4 .5 .3 .6 0 .6-.3 .5-.4 .6-.6 .5 .2 .6-.3 .6-.3 .5-.8 .6-.8 .5-.5 .6 .9 .5 .7 .6 .8 .6 .7 .5 1 .6 1.3 .5-.9 .6-.8 .6-1.1 .5-1.2 .6-1.5 .5-1.9 .6-.5 .5 .4 .6 .2 .6 .4 .5 .4 .6 .4 .5-.8 .6-1.2 .6-1 .5-1.1 .6 1 .5 1.3 .6 1.3 .6 1.4 .5 .4 .6-.7 .5-.6 .6-.7 .5-.5 .6 .4 .6 .9 .5 .8 .6 .6 .5-.3 .6 .3 .6 .1 .5 .1 .6 0 .5 .3 .6 .2 .5-.4 .6 .5 .6 .4 .5 .7 .6 .3 .5-.7 .6-1.2 .6-1.8 .5-1.6 .6-1.2 .5-1 .6 1.2 .5 1.1 .6 .9 .6 .7 .5 .5 .6 .5 .5 .5 .6-.1 .6-.4 .5-.4 .6-.3 .5 .4 .6 .2 .6 .4" fill="none" stroke="#0e0b0b" stroke-width="1.9" stroke-linejoin="round" stroke-linecap="round"/>
<rect x="240.5" y="563.4" width="144.7" height="73.6" fill="none" stroke="#0e0b0b" stroke-width="1.85"/>
<path d="M298.4 563.4v2.3M298.4 637.0v-2.3M356.2 563.4v2.3M356.2 637.0v-2.3M240.5 600.2h2.3M385.1 600.2h-2.3" stroke="#0e0b0b" stroke-width="1.3" fill="none"/>
<text transform="translate(229 567.9) scale(1.045 1)" font-size="24.3" text-anchor="end">2.5</text>
<text transform="translate(229 604.7) scale(1.045 1)" font-size="24.3" text-anchor="end">0</text>
<text transform="translate(229 641.5) scale(1.045 1)" font-size="24.3" text-anchor="end">-2.5</text>
<text transform="translate(239 663.3) scale(1.045 1)" font-size="24.3" text-anchor="middle">0</text>
<text transform="translate(297.9 663.3) scale(1.045 1)" font-size="24.3" text-anchor="middle">20</text>
<text transform="translate(353.7 663.3) scale(1.045 1)" font-size="24.3" text-anchor="middle">40</text>
<text transform="translate(377.7 662.8) scale(1.045 1)" font-size="24.3">(s)</text>
<text transform="translate(196.7 539.2) scale(1.045 1)" font-size="24.900000000000002">(cm)</text>
<text transform="translate(312.5 550.8) scale(1.045 1)" font-size="28" text-anchor="middle">AP</text>
<path d="M240.5 749.1l.6-.2 .5 .2 .6 0 .5 0 .6 .1 .6 1.5 .5 1.5 .6 1.4 .5-1.1 .6-.9 .5-.9 .6-.9 .6-.1 .5 0 .6-.2 .5-.6 .6-1 .6-1 .5-.5 .6-.9 .5-.7 .6-1 .5 .9 .6 .6 .6 .5 .5 0 .6 .2 .5-.2 .6 .1 .6 .1 .5 .8 .6 .3 .5 .3 .6-.6 .5-.1 .6 .5 .6 .9 .5 .7 .6-.3 .5 .1 .6-1.2 .6-1 .5-1.4 .6-1.1 .5 .8 .6 1.3 .5 .9 .6-1 .6-1.7 .5-.6 .6-.6 .5-.3 .6-.2 .6-.3 .5 0 .6-.2 .5-2.2 .6-2 .6-2.1 .5 .4 .6 .4 .5 .4 .6 1.3 .5 .8 .6 1.4 .6-.1 .5 .1 .6-.2 .5 .4 .6 .2 .6-.3 .5-.6 .6-1.1 .5-.1 .6 1.9 .5 1.2 .6-.2 .6-.7 .5-.5 .6 .1 .5 1.1 .6 .6 .6 1.2 .5 1.4 .6 1.3 .5 1.1 .6 .6 .5 .3 .6 .9 .6 1.6 .5 2.3 .6 1.7 .5 1.7 .6 1.8 .6-.7 .5-.5 .6-1 .5-.8 .6-.4 .5 1.2 .6 1 .6 1.2 .5 1.1 .6 1.9 .5 .4 .6-.1 .6-.8 .5 .1 .6-.7 .5-.6 .6-.9 .6-.2 .5 .5 .6 .7 .5 .6 .6 .2 .5-.1 .6-.1 .6 .7 .5 .4 .6 .2 .5-.8 .6 .8 .6 1.1 .5 1.6 .6 .6 .5 .6 .6 .5 .5 .2 .6-.2 .6-.8 .5-.4 .6-.2 .5-.6 .6-1.5 .6-1.6 .5-1.3 .6-.9 .5-.3 .6-.4 .5-.8 .6-1.3 .6-.8 .5-1.2 .6-.5 .5-.8 .6-.3 .6-1.4 .5-1.6 .6-1.8 .5-1.8 .6 .1 .5 1.4 .6 2 .6 .9 .5-.9 .6-1.2 .5-.6 .6-1.1 .6-.1 .5-.5 .6 .3 .5-.2 .6 .2 .6 .2 .5-.5 .6-.4 .5-.7 .6 .4 .5 .1 .6 0 .6 .9 .5 .7 .6 1 .5 .4 .6 1 .6 .5 .5-.1 .6-.1 .5-.2 .6 0 .5 .3 .6 .4 .6 .4 .5 .6 .6 .7 .5 .4 .6-.4 .6-.6 .5-.7 .6-1.1 .5-1.2 .6-1.1 .5-.8 .6-.4 .6-.7 .5-.5 .6-.4 .5 .4 .6 1.3 .6 .9 .5 .7 .6 .8 .5 .2 .6 .7 .5 .9 .6 .2 .6-.4 .5 .3 .6 1.7 .5 2.2 .6 1.2 .6 .9 .5 .5 .6 .5 .5-.9 .6-.7 .6-.6 .5-.8 .6-.7 .5-.9 .6-.7 .5-1.1 .6-1.2 .6-1 .5-.3 .6-.3 .5-.8 .6-.8 .6-.7 .5-.8 .6 1 .5 .9 .6 1.5 .5 .9 .6 1.1 .6 .7 .5-.9 .6-1.2 .5-.9 .6-1 .6 .3 .5-.2 .6 .3 .5 .1 .6 .7 .5-.2 .6-.4 .6-1 .5-.6 .6-.2 .5 .1 .6-.3 .6-.1 .5-.3 .6-.2 .5-.5 .6 0 .6 .3" fill="none" stroke="#0e0b0b" stroke-width="1.9" stroke-linejoin="round" stroke-linecap="round"/>
<rect x="240.5" y="713" width="144.7" height="73.6" fill="none" stroke="#0e0b0b" stroke-width="1.85"/>
<path d="M298.4 713.0v2.3M298.4 786.6v-2.3M356.2 713.0v2.3M356.2 786.6v-2.3M240.5 749.8h2.3M385.1 749.8h-2.3" stroke="#0e0b0b" stroke-width="1.3" fill="none"/>
<text transform="translate(229 720.2) scale(1.045 1)" font-size="24.3" text-anchor="end">2.5</text>
<text transform="translate(229 757) scale(1.045 1)" font-size="24.3" text-anchor="end">0</text>
<text transform="translate(229 793.8) scale(1.045 1)" font-size="24.3" text-anchor="end">-2.5</text>
<text transform="translate(239 812.9) scale(1.045 1)" font-size="24.3" text-anchor="middle">0</text>
<text transform="translate(297.9 812.9) scale(1.045 1)" font-size="24.3" text-anchor="middle">20</text>
<text transform="translate(353.7 812.9) scale(1.045 1)" font-size="24.3" text-anchor="middle">40</text>
<text transform="translate(378.7 812.4) scale(1.045 1)" font-size="24.3">(s)</text>
<text transform="translate(196.7 689.2) scale(1.045 1)" font-size="24.900000000000002">(cm)</text>
<text transform="translate(312.5 700.4) scale(1.045 1)" font-size="28" text-anchor="middle">ML</text>
<path d="M589.4 649.8l.2 .3-.2 .2-.7-.1-.9-.7-.6-.7-.1-.2 0 .4 .1 .6-.2 .5-.7 .4-.8 .5-.6 .6-.5 1-.3 1.4 .1 1.4 .4 1.3 .4 1.4 0 1.3-1.1 1.9-2.4 2.7-3.6 2.6-3.9 1.5-2.9 .3-1.3-.5-.1-.5 .3-.5-.2-.7-1.1-1.6-1.1-2.2-.4-2.5 .6-2 1.3-1.2 2.2-.7 2.8-.3 2.6-.4 1.9-.5 1.1-.3 .3-.1 0 .1 .2 .2 .6 0 .7-.1 .5-.2 .4 .3-.1 .8-.6 1.4-.4 1.2 .7 .7 1.4 .4 1.8 .4 1.6 .3 .8 .1 .1-.1 .2 .3 .7 .7 1.1 1 1.1 1 .1 .9-1.1 .9-1.5 .7-1.3 .5-.3 .3 .3 .3 .1 .3-.5 0-.5-.5-.1-.7 .3-.7 .9-1.1 1.4-1.4 1.7-1.3 2-.5 2.2 .4 1.6 1.2 1.1 1.2 1.1 .7 1.4 0 1.2-.4 .5-.8-.2-.6-.6-.4-.2-.1 .5 0 .7 .1 0 .3-.9 .6-1.1 .8-.9 .8-.3 .8 0 .7 0 .7-.5 .8-1.1 1-1.6 1.2-1.8 .9-2.1 .7-1.8 .1-1.4-.1-1 .3-.3 .8 .4 1 .5 .9 .1 1-.9 1-1.7 1.1-1.4 1.2-.4 1.2 1 .9 1.4 .7 1.2 .4 .8-.1 .4-.1 .1-.2-.3-.4-.7-.7-1.1-.9-.9-1-.3-1.1-.2-1.2-.2-.9-.2-.8-.3-.4-.4-.2 0-.3 .2-.2 .6 .1 1.1 .5 1.3 .5 1.3 .3 1.6-.2 1.4-.5 .9-.7 .3-.7-.3-.7-.5-.8-.4-.5-.8-.5-1.3-.5-1.8-1-1.7-1.5-1.6-1.8-1-1.8-.4-1.7 .3-1.3 .5-1.1 .2-.9 .2-.2 0 .6 0 1 .2 1.3-.1 1.3-.6 .7-.3 .3 .6 .5 1.6 1 1.9 .6 1.4 0 .6-.7 .4-1.1 1.3-1 2.2-.6 2.4-.4 1.5-.5 .8-.4 .5-.5 .4-.4 .4-.1-.1 .2-.4 .3-.2 0-.1-.4 .2-.4 .2-.5 .4-.3 .3-.2 0-.5-.5-.6-.9-.2-1 .5-1.4 1.1-1.6 1.4-1.6 1.2-1.1 .6 0 .3 1.3 .2 2.2 .4 2.4 .4 1.9 .4 1.4 .7 1.6 1.1 2.3 1.3 2.6 1.5 2.3 1.1 1.4 .6 .2 .4-.1 .5 .3 .7 0 .5-.3 .3-.8 0-1.5 0-1.8 .1-1.6 0-.8-.1 .1-.3 1.2-.1 1.6 .5 1.6 1 .8 1.3 0 1.3-.7 1.1-1 .7-1 .3-.7 .1-.4 .3-.2 .3 .4 .3 1 .1 1.3-.4 1.1-.7 1.3-.5 1.7-.2 2.5-.1 3.2-.3 3.2-.6 2.7-1 2.2-1 1.8-1.1 1.3-1.4 .4-1.4-.5-1-1.1-.8-1.3-.7-1.1-.4-.9-.3-.2 .1 .4 .6 .6 .9 .7 .6-.1 .1-1.4-.2-2.6-.3-3.4-.2-3.2 .1-2.1 .1-1 0-.3 .6-.5 1.2-1 1.4-.9 1.2-.5 .9-.2 .6 0 .7 .6 .7 .8 .6 .7 .3 .5 .2 .1 .4-.3 .5-.6 .8-.2 1.1 .5 1.2 1 .7 .9 .2 0-.1-.8-.3-.8-.2 .1-.3 .6-.6 .6-.8 .7-.6 .8-.4 .9-.6 .7-1 .2-1.1-.1-.5 0 .5 0 1.5-.2 1.7-.4 1-.5 0 .1-.2 .8-.2 1.1 .1 .7 .4 0 .3-.7-.1-1.2-.4-1.6-.4-2.2-.4-2.7 0-2.5 .3-1.7 .5-.8 .5-.4 .6-.1 .2 .2-.5 .2-.8 .5-1.1 .9-.5 1.4 .5 1.7 1.4 1.7 1.5 1.6 1.3 1.4 .8 1.3 .1 1 .2 .4 .6-.4 .7-.9 .8-1.1 .5-.9-.3-.9-.7-.9-1-.9-.9-1.3-.4-1.5-.1-1.4-.3-.9-.9-.7-1.4-1.2-1.6-1.8-1.3-2.2-.7-1.9 .1-1.1 .4-.6 .4-.5-.1-.5-1-.3-1.6 .1-1.3 .3-.6 .1-.2-.1-.1 0-.2 .2-.4 .6 .1 .5 .6-.2 .5-1.1 0-1.4-.2-1.4-.1-1.5 .5-1.4 1-1.8 1.3-2.1 1.2-2 .7-1.6-.1-1.6-.6-1.6-.7-1.4-.7-1.4-.8-1.6-.6-1.9-.6-2.1-.4-2-.2-1.4-.1-.3-.1-.2 .1-.8 .3-1.7 .1-2.6-.6-3.1-1.3-2.3-1.3-.8-1 .7-.1 1.3 .4 .9 .4 .2 .1 0-.3 .6-.2 1.3-.2 1.4-.1 1.3 0 1.4 .3 1.6 1.1 1.1 1.3 .2 1.3-.7 1.2-1.2 1.2-1.1 1.4-1 1.4-1 .6-.5-.2-.1-.7 .3-.5 .4-.4 .2 .2-.2 .5 0 .3 .6 .3 .4 .1-.3-.2-1-.6-1.8-.8-1.7-.8-1.3-.1-1.5 .8-2 1-2.1 .7-1.7 0-.6-.6 .3-.6 .3-.2-.5 0-.9 .1-.9 .2-.5-.1-.2-.3-.1 0-.2 .5-.3 1-.1 1.2 .2 1.2 .3 .7 .6 .5 1.2 .3 1.5 .4 2 .3 1.9 .5 1 .4-.7-.3-1.1-.6-1.1-.4-.9 .2-1 .5-.4 .2 .3-.4 .6-.8 .7-.9 .4-.7 .1-.2-.2-.3-.2-.4-.2-.4 0-.1 0-.2-.1-.5-.4-1-.4-1.2 0-.8 .6-.1 1.1-.1 .8-.4 .6-.6 .2-.6-.2-.7-.3-.7-.4-.6-.5-.3-.3 .1 .3 .3 .2-.2 0-.5-.6-.9-.9-1.3-.6-1 0-.1 .5 .7 .9 1.3 .5 1.5-.3 1.4-.9 1.3-1.1 1.3-.6 1.3-.3 1.2-.1 .7-.1-.1-.2-1.1-.1-1.8-.1-1.8-.3-1.2-.2-.5-.2-.1-.1 .2-.4 .5-1.2 .8-2.2 .5-2.8 .5-2.6 .2-1.8 .2-.5 .5 .6 .9 .7 .9 .2 .7-.5 .2-.4 0 .1 .2 .3 .9 .6 1.4 .8 1.5 1 1.2 1.1 .7 .7 .6-.2 .8-.9 1-1 1.1-1 .9-1.2 .5-1.7-.4-1.5-.4-1-.1-.1 .5 .3 1.1 .5 1.3 .5 .8 1.3 .6 2.4 .7 3.2 1.2 2.4 1.4 .7 1.3-1 .4-1.4-.1-.7-.2 .4 .3 .6 .8 .2 .5 .1-.2 .6-.7 1.3-.8 1.7-.7 1.2-.5 .3-.2 .1 .4 1.2 .7 2.5 .6 3.2 .5 2.6-.3 1.3-1 0-1.1-.4-1 0-.9 .2-.8 .1-.9-.1-1-.1-.9-.9-.7-1.2-.8-.7-1.1 .4-1.4 1.7-1.5 2.6-1.3 2.9-.8 2.2 .2 1.5 .7 1.3 .8 1.4 .2 1.6-.1 1.4 0 1 .3 .6 .4 .2 .1-.1-.3-.6 0-1 .6-.8 1-.3 1 .1 .5 .2-.2 .2-.5 .2-.1 .2 .4 .5 .7 .6 .9 .8 .9 .9 .6 .9 .2 .6 .1 .8 .3 1.1 .3 2.2 .1 3.1-.5 3.2-.9 2.9-1.3 1.9-1.1 .8-.9 0-.7-.2-.8 0-.8 .6-.6 1.3-.5 1.4 0 .7 .7-.3 .8-.7 .6-.8 .5-.5 .5-.1 .3-.4 .3-.9-.4-1.1-1.2-1.4-1.5-1.6-1-1.6-.8-1.5-.9-1.3-1-1-.9-.6-.5-.2 .1 0 .2 .2-.1 .6-.1 .7 0 .6 0 1.1-.2 1.6-.3 2.1-.3 2.6 .2 2.5 .9 1.9 1.1 1.4 .6 1.2 .4 .8 .2 .6 .2 .6 .3 .3 .3 0 .2-.4-.2-.5 0-.4 0-.2-.4-.5-.7-1.2-1-1.7-.9-1.4-.9-.5-.6 .5-.7 .7-1.1-.1-1.3-.6-1.3-.7-1-.3-.6 .3-.7 .4-.7 .1-.9 0-.7 .2-.5 .4-.1-.1 .4-.7 1.1-.9 2-.4 2.2 .4 1.7 .9 1.1 1 .8 1 .8 1.1 1 1.2 .6 .7-.1-.2-.5-.7-.3-.6 .3 .1 .6 .1 .2-.2-.3-.9-.5-1.8-.1-2 .2-1.7 .3-1.3 .6-.9 .9-.1 1.3 .2 1.4 .1 .9 .1 .7 .1 1-.1 1.4 .1 1.4 .3 1.1 0 .7-.4-.2-.7-.8-1.2-1.3-1.3-1.5-1-1.5-.3-1.1 .1-.2-.1 .8-.1 1.5-.2 1.2 .2 .3 .6-.3 .9-.5 .4-.1 .2 .1 .3-.1 .4-.4 .7-.4 .9-.3 .5-.1 .3 0 .5 0 .8-.1 .6-.2-.3-.4-1.5-.4-1.9-.4-1 0-.2 .2-.2-.1-.2-.5-.1-.7 .3-.5 .5 0 .5 .7 .3 1 .3 .7 .1 .2-.5 .1-1.3-.2-1.5-.5-1-.7-.3-.6 .2-.4-.3-.1-.9-.1-1.3-.3-1-.7-.6-.7-.3-.7 .2-.5 .8-.6 .8-.4 .2-.1-.5 0-.5 .2 0 .4 1.2-.1 1.9-.7 1.8-1.1 1.4-1.3 .9-.6 .5 .3 .3 .9 .4 .6 .4 0 .1-.5-.2-.7-.7-.9-.6-.9-.2-.7 .3-.1 .9 .6 1.5 .9 1.9 1.1 1.7 1.2 1.3 1.4 .7 1.2 .6 .6 .6-.1 .7-.2 .4 .4 .4 .8 .2 .8-.1 .3-.3 0-.1 .3 .4 .5 1.2 .7 1.5 1 1 1.3-.2 1.1-.6 .7-.7-.2-.4-1-.1-1.3 .1-.9-.5-.6-.7-.7-1-.7-1-.8-.9-1-.4-.9-.2-.8-.5-.6-.7-.4-.8-.7-.8-1.2-.5-1.6-.4-1.8-.6-1.5-1.1-1-1.7-.5-1.8-.3-1.6-.2-1.3-.4-.5-.6 .3-.5 .8-.1 1 .5 .4 .9-.4 .9-.9 .7-.4 .6 .2 .5 .5 .3 .3-.1 .2-.4 .2-.1 .2 .4 .2 .5-.1 0-.8-.8-1.6-.9-2.1-.6-2.1-.2-1.4-.1-.4-.5-.1-1-.4-1.3-.9-1.3-1.2-1-1.2-.5-.9 .2-.9 .4-.5 .2-.1-.3 0-.1-.7 .6-1.4 1.1-1.9 1-1.7 .5-1.1-.4-.5-.6-.2-.3-.2 .5 0 1.1-.2 1.7 .2 1.7 .9 1.2 1.6 .6 2 .3 1.6 .2 .7 .3-.3 .3-.8 0-1.4-.2-1.4-.1-1.1 .4-.7 1 .2 1.6 .9 1.8 .7 1.2 .1 .3-.5-.3-.3-.4 .5-.2 1.7 .2 2 .2 1.6-.2 1.3-.9 .9-1.4 .8-1.9 1.2-1.9 1.7-1.2 1.9-.9 1.7-.8 1.3-1.1 .5-1.2 .1-.8 .1-.2 .1 .5 0 .7 .2 .5 .4 .1 .5-.1 .7-.2 .4 0 .4 .8 .7 1.5 1.1 2 1.2 2.1 .7 1.4 0 .4-.5-.2-.2-.3 .1-.1 .2 .3 .3 .4 .5 .2 .7-.1 .8-.4 .9-.2 .8-.1 .9 .2 1.1 .4 1 .4 .8 .3 .1 .3-1.1 .4-1.7 .3-1.7 .7-1.1 .7-.4 .3-.4-.3-.9-.4-1.3-.6-1.1-.4-.5 0-.1 0-.1 .1-.1 0 .1-.1 .2-.3-.5-.3-1-.2-1.2 0-.8 .2-.2 .3 .2-.2 .3-.4 .4-.9 .2-1.1-.1-.7-.3-.2-.2 .8 .3 1.6 .9 1.9 .8 1.5 .4 .9 .2 .4 .2 0 .1-.6-.1-1.1 .1-1.3 .3-1.3 1.2-1.1 2.2-.8 2.2-.9 1.5-1.1 .6-.8 .1-.4 .1-.2 .7-.2 .8-.5 0-1.2-.6-1.5-1.2-1.1-1.7-.7-1.5-.4-1-.3-.6-.5-.5-.7-.5-.7-.7-.6-.2-.4 .7 .2 1.1 .5 1.4 .5 1.8 .3 1.7 .2 1.4 .2 1.1 .6 .4 1.1-.5 1.2-1.2 1-1.3 .3-1.2-.2-.4-.1 .2 .5-.1 .8-.9 .9-1.2 .8-.7 1 .2 1 .5 .8 .4 .7 .1 .5 .1 .2 .8 .1 1.5-.3 1.5-.5 .8-.3 .4 .1 .5 .1 .8-.3 .7-1 .2-1.3-.3-.9-.2-.3 .5 .4 1.1 .6 1.1 .4 .6-.1-.1-.1-.2-.2 .2-.1 .4-.2 .6-.4 .8-.5 .6 .1 .1 .6-.3 .9-.6 .6-.6 .2-.1 .1 0 .8-.2 1.5-.9 1.4" fill="none" stroke="#1b40a0" stroke-width="2.1" stroke-linejoin="round" stroke-linecap="round"/>
<rect x="465.7" y="588.4" width="233.4" height="176.1" fill="none" stroke="#262424" stroke-width="1.85"/>
<path d="M582.4 588.4v3.0M582.4 764.5v-3.0M465.7 676.5h3.0M699.1 676.5h-3.0" stroke="#262424" stroke-width="1.3" fill="none"/>
<text transform="translate(453.4 594.9) scale(1.045 1)" font-size="28" text-anchor="end">2.5</text>
<text transform="translate(453.4 683) scale(1.045 1)" font-size="28" text-anchor="end">0</text>
<text transform="translate(453.4 771) scale(1.045 1)" font-size="28" text-anchor="end">-2.5</text>
<text transform="translate(467.8 800.4) scale(1.045 1)" font-size="28" text-anchor="middle">-2.5</text>
<text transform="translate(582.5 800.4) scale(1.045 1)" font-size="28" text-anchor="middle">0</text>
<text transform="translate(695.7 800.4) scale(1.045 1)" font-size="28" text-anchor="middle">2.5</text>
<text transform="translate(434.2 557.1) scale(1.045 1)" font-size="28.7">(cm)</text>
<text transform="translate(708.4 760.6) scale(1.045 1)" font-size="28.7">(cm)</text>
<path d="M240.5 910.2l.6 .1 .5-.8 .6 .1 .5-.6 .6 .8 .6 .8 .5 1.1 .6 .6 .5 .5 .6 .4 .5 1.8 .6 2.2 .6 2.3 .5 1.9 .6 1.7 .5 .1 .6-1.9 .6-1.5 .5-1.9 .6-2.6 .5-2.5 .6-2 .5-.7 .6 1.2 .6 .9 .5-.3 .6-1.6 .5-1.5 .6 0 .6 1.8 .5 1.9 .6 2.6 .5 2.5 .6 1.1 .5-.5 .6-1 .6 .1 .5 .6 .6 .8 .5 .5 .6-.5 .6-.5 .5-.9 .6 1 .5 1.2 .6 1.5 .5 1 .6 1.4 .6 1.1 .5 1.3 .6 1.2 .5-.9 .6-1.8 .6-1.4 .5-1.5 .6-1.7 .5-2.1 .6 1.2 .6 1.9 .5 2.1 .6 .7 .5 .8 .6 1.2 .5 1 .6-.2 .6-1.5 .5-1.3 .6-1.8 .5 0 .6 1.3 .6 1.3 .5 .8 .6 .5 .5 .5 .6 .8 .5 1.3 .6 1.1 .6 .9 .5-.9 .6-.5 .5-1.1 .6-.8 .6-1 .5-1 .6-.8 .5-.7 .6-.6 .5-.6 .6-1.1 .6-.9 .5-1.4 .6-1.1 .5-1.1 .6-1.4 .6-.9 .5-.7 .6-.4 .5-.5 .6 .1 .5 .2 .6 .7 .6 .3 .5 .5 .6 .5 .5 .8 .6 .5 .6 .7 .5 .7 .6 .7 .5 .7 .6-.4 .6 0 .5 .6 .6 2.3 .5 4.3 .6 2.5 .5-4.4 .6-4.6 .6-3.1 .5 .4 .6 1.2 .5 .5 .6 1.1 .6 .8 .5 .9 .6 .5 .5 .8 .6 .3 .5 .6 .6 1.1 .6 .9 .5 1.1 .6-.9 .5-.1 .6-.2 .6-.7 .5-.5 .6-.7 .5-.6 .6-.4 .5-.8 .6-.3 .6-.4 .5-.2 .6 0 .5 0 .6-.2 .6-.6 .5 .1 .6 0 .5 .5 .6-.8 .5-.4 .6-1 .6-.8 .5-.7 .6-.6 .5-.2 .6-.4 .6-.3 .5-.4 .6-.5 .5-.4 .6-.5 .6 .8 .5 .1 .6 .8 .5-.2 .6 .8 .5 1.1 .6 1.8 .6 1.5 .5 1.3 .6 .4 .5 0 .6 .4 .6 .4 .5 .5 .6 .1 .5 .3 .6 .7 .5 1 .6 .7 .6 .4 .5 .8 .6 .1 .5 .7 .6 0 .6 .8 .5 .9 .6 1.2 .5 .9 .6 .4 .5-1 .6-1.3 .6-1.8 .5-1.1 .6-.2 .5-.1 .6-.5 .6-.6 .5-.9 .6-.1 .5 .3 .6 1.2 .5 .1 .6 .6 .6-.4 .5 .8 .6 .6 .5 1 .6 1.3 .6 .8 .5 .9 .6-1.8 .5-1.6 .6-1.7 .6-1.9 .5-.7 .6 .1 .5 .6 .6-.3 .5 0 .6-.4 .6 .5 .5 .2 .6 .8 .5 .5 .6 .8 .6 .3 .5-.1 .6-.2 .5-.2 .6-.1 .5-.1 .6-.3 .6-.5 .5-1.1 .6-.8 .5-.8 .6-1.7 .6-3.1 .5-3.3 .6 .2 .5 3 .6 1 .5-.2 .6-.2 .6 .6 .5 .2 .6 .7 .5 .6 .6 .8 .6 .9 .5 .9 .6 .5 .5 .8 .6 .4 .6 0" fill="none" stroke="#0e0b0b" stroke-width="1.9" stroke-linejoin="round" stroke-linecap="round"/>
<rect x="240.5" y="884.4" width="144.7" height="73.6" fill="none" stroke="#0e0b0b" stroke-width="1.85"/>
<path d="M298.4 884.4v2.3M298.4 958.0v-2.3M356.2 884.4v2.3M356.2 958.0v-2.3M240.5 921.2h2.3M385.1 921.2h-2.3" stroke="#0e0b0b" stroke-width="1.3" fill="none"/>
<text transform="translate(229 890.6) scale(1.045 1)" font-size="24.3" text-anchor="end">2.5</text>
<text transform="translate(229 927.4) scale(1.045 1)" font-size="24.3" text-anchor="end">0</text>
<text transform="translate(229 964.2) scale(1.045 1)" font-size="24.3" text-anchor="end">-2.5</text>
<text transform="translate(239 984.3) scale(1.045 1)" font-size="24.3" text-anchor="middle">0</text>
<text transform="translate(297.9 984.3) scale(1.045 1)" font-size="24.3" text-anchor="middle">20</text>
<text transform="translate(353.7 984.3) scale(1.045 1)" font-size="24.3" text-anchor="middle">40</text>
<text transform="translate(378.7 983.8) scale(1.045 1)" font-size="24.3">(s)</text>
<text transform="translate(196.7 861.2) scale(1.045 1)" font-size="24.900000000000002">(cm)</text>
<text transform="translate(312.5 871.8) scale(1.045 1)" font-size="28" text-anchor="middle">AP</text>
<path d="M240.5 1070l.6 .5 .5 .5 .6 .4 .5 .6 .6 .7 .6 .7 .5 .6 .6 .3 .5 .4 .6 .4 .5 .4 .6 1 .6 .3 .5-.7 .6-1 .5-.5 .6 0 .6-.2 .5-.6 .6-.4 .5 .2 .6 .7 .5 .8 .6 0 .6-.9 .5-.9 .6-1.5 .5-1.3 .6-.6 .6 1 .5 .7 .6 .7 .5 .1 .6 .2 .5-.3 .6 .8 .6 .2 .5 .2 .6 0 .5 .4 .6-.1 .6 .1 .5-.5 .6-.3 .5-.8 .6-.2 .5 .4 .6-.4 .6-.3 .5 0 .6 .6 .5 .3 .6 .6 .6 .6 .5-.7 .6-.9 .5-.6 .6-.5 .6-.2 .5-.4 .6 .3 .5 0 .6 .2 .5 .2 .6 .3 .6 .2 .5 .5 .6 .3 .5 .3 .6 .4 .6 .2 .5 .7 .6-.2 .5-.4 .6-.7 .5-1.1 .6-1 .6-.7 .5-1 .6-.1 .5 .8 .6 1.2 .6 1.4 .5 1.4 .6-1 .5-1 .6-1.7 .5-.8 .6-.5 .6 .5 .5-.4 .6-.4 .5-.7 .6-.7 .6 1.1 .5 1.2 .6 1.6 .5 1.2 .6 1.7 .5 .9 .6-1 .6-1.4 .5-.9 .6-.8 .5-.6 .6-.3 .6-.4 .5-.7 .6-.2 .5 .3 .6 .4 .6-.3 .5-.1 .6 1.5 .5 2.7 .6 .9 .5-2.8 .6-3.3 .6-1.6 .5 .7 .6 .8 .5 1 .6 .2 .6 .5 .5-.1 .6-.1 .5-.3 .6-.3 .5-.3 .6-.4 .6 0 .5-.7 .6-.5 .5-.5 .6 1.2 .6 .6 .5 .8 .6-.2 .5 0 .6-.9 .5 .5 .6-.4 .6 .2 .5-.3 .6-.3 .5-.9 .6-1.6 .6-1.3 .5-1 .6-.4 .5 1 .6 1.4 .5 1.1 .6 1.1 .6 .3 .5 .4 .6-.1 .5 .3 .6 .4 .6 .7 .5-.2 .6-.5 .5-.7 .6-.5 .6-.8 .5-.3 .6 0 .5-.1 .6 .1 .5 .3 .6 .3 .6-.2 .5-.8 .6-.4 .5-.1 .6-.3 .6-.3 .5-.3 .6 .4 .5 .2 .6 .5 .5-.1 .6-.3 .6-.2 .5-.5 .6-.2 .5-.4 .6-.4 .6 0 .5-.1 .6-.7 .5-.8 .6 .6 .5 1.4 .6 1.2 .6 .4 .5 .2 .6-.3 .5 .2 .6 .4 .6 .5 .5 .2 .6-.1 .5 0 .6-.2 .5-.3 .6-.6 .6-.2 .5 .3 .6 .2 .5 .8 .6 1.2 .6 .5 .5 .5 .6 .3 .5 .9 .6 .7 .6 .5 .5 .4 .6-.3 .5-.2 .6 0 .5-.6 .6-.7 .6-.8 .5 .3 .6 .9 .5 .9 .6 .8 .6-.5 .5-1 .6-.4 .5-.4 .6-.2 .5 0 .6 .4 .6 .1 .5 .3 .6-.1 .5 .4 .6 .4 .6 .2 .5-.3 .6-.6 .5-.2 .6 .5 .5-.1 .6 .2 .6-.5 .5 .1 .6-.1 .5 0 .6 .3 .6-.2 .5-.1 .6 .1 .5 .5 .6 .8 .6 .5" fill="none" stroke="#0e0b0b" stroke-width="1.9" stroke-linejoin="round" stroke-linecap="round"/>
<rect x="240.5" y="1033.3" width="144.7" height="73.6" fill="none" stroke="#0e0b0b" stroke-width="1.85"/>
<path d="M298.4 1033.3v2.3M298.4 1106.9v-2.3M356.2 1033.3v2.3M356.2 1106.9v-2.3M240.5 1070.1h2.3M385.1 1070.1h-2.3" stroke="#0e0b0b" stroke-width="1.3" fill="none"/>
<text transform="translate(229 1038) scale(1.045 1)" font-size="24.3" text-anchor="end">2.5</text>
<text transform="translate(229 1074.8) scale(1.045 1)" font-size="24.3" text-anchor="end">0</text>
<text transform="translate(229 1111.6) scale(1.045 1)" font-size="24.3" text-anchor="end">-2.5</text>
<text transform="translate(239 1134) scale(1.045 1)" font-size="24.3" text-anchor="middle">0</text>
<text transform="translate(297.9 1134) scale(1.045 1)" font-size="24.3" text-anchor="middle">20</text>
<text transform="translate(353.7 1134) scale(1.045 1)" font-size="24.3" text-anchor="middle">40</text>
<text transform="translate(378.7 1133.5) scale(1.045 1)" font-size="24.3">(s)</text>
<text transform="translate(196.7 1008.1) scale(1.045 1)" font-size="24.900000000000002">(cm)</text>
<text transform="translate(312.5 1020.7) scale(1.045 1)" font-size="28" text-anchor="middle">ML</text>
<path d="M582.7 966.7l-.3-.1 .9 .1 1.6 0 1.4-.2-.3-.2-2.2 .2-3.4 .6-3.5 .7-2.6 .6-1.7 .6-1.1 .5-.8 .2-.6 .2-.1 0 .2-.2-.1-.3-.6 0-.9 .2-1 .4-1 .2-.7 0-.3 0 0 .4 .5 .7 .3 1.1-.4 1.1-1 .7-.7 .6-.4 .5-.2 .5-.3 .8-.7 .9-.8 .4-.5-.3 .1-.4 .9-.3 1.4 0 1.6 .2 1 .6-.2 .8-1.4 1.2-1.9 1.4-1.7 1.4-1.3 1.3-.7 1.5-.5 1.2-.5 .7-.4 .1-.5 0-.5 .5-.4 1.2-.2 1.5 .2 1.4 .7 1.3 1 1.4 1.2 1.6 1.3 1.4 1 1 .9 .5 .9-.3 1.2-.8 1.4-.9 1.5-.8 .9-.3 .7-.1 1.3-.1 1.3-.4 .5-.5-.8-.7-1.6-.9-1.7-1.2-1-1.4-.1-1.7 .1-2.1 .4-2.1 .5-2.1 .3-1.9-.5-1.6-.6-1.3-.4-1.7-.4-1.9-.5-2-.6-1.6-.5-1.6 .3-2.2 1.2-2.4 1.6-1.7 .9-.1 0 1.5-.3 2-.2 1.3 .2 .2 .9 0 1 .2 1 .3 .7-.1 .2-.4-.1-.1-.1 .3 .2 .5 .9 .2 1.5-.6 1.8-.5 1.6 .1 1 .8 .5 .7 .5 .4 .3-.2-.1-.4-.2-.2-.5 0-.6 .1-.2 .1-.2 .2 0 .4 .2 .6 .2 .9-.6 1.1-1.8 1.1-2.5 1-2.3 1.1-1.3 1.1-.1 1.2-.1 1.3-1 1.3-1.7 1.2-1.9 1-1.5 .8-.9 .7-.5 .5 .2 .1 .9-.5 1.6-1 1.3-1.3 .4-1.2 0-.7 .7-.3 1.8 .2 1.9 .8 1.3 1 .2 1-.3 .9 0 .7 .8 .3 1.1-.1 .5-.5-.5-.3-1 .2-1.4 .4-1.2 0-.5-.6-.4-.9-.7-.3-.7 .7-.8 1.3-.6 1.1 .1 .4 .7-.2 1.1-.7 1.3-.7 1.6-.5 1.5-.4 1.5-.4 1-.5 .5-.5-.1-.2-.1 .3-.3 .8-.1 1 .4 .8 .6 .6 .5 .5 .4 .7 .5 .9 .6 .6 .3 0 .2-.1 .1 .6 .6 1.6 .7 2.5 .5 2.7-.1 2-.9 1.4-1.2 1.1-1.3 1.2-.8 .8 0 .4 .5 .5 .5 .5-.2 .9-1.1 1.4-1.2 1.3-.6 1.2 0 1 .7 .8 .9 .4 .6 .5 .4 .2 .8-.8 1.1-1.8 1.2-2 .7-1.8-.5-1-1.8-.3-2.7-.2-3.2-.6-3.1-1.5-2.6-2.3-1.4-2.6-.2-2.1 .4-1.2 .5-.7 .5-.9 .5-1.4 .7-1.9 .9-1.7 .8-1.2 .9-.5 .7 .3 .7 1.4 .5 1.9 .2 2.1-.3 2-.5 1.8 0 1.4 .4 1 .6 .4 .3 0-.1 .2 .1 .7 .9 1.1 1.6 1.2 1.8 .7 1.5-.1 .6-.6-.4-.7-.8-.4-.3 .1 .3 .5 .7 .6 .3 .8-.4 .9-.5 1-.1 1.1 .2 1.2 .5 1.7 .4 2.2 .1 2.3-.1 2 0 1.5 .1 .5 .5-.4 .5-1.1 .3-1.7 0-2.5 .1-2.8 .3-2.4 .4-2-.1-1.5-.5-1.4-.4-1.3-.2-1.1-.4-.5-1.2 .2-1.7 .8-1.9 1-1.6 1-1.1 .8-1 .5-1.4-.1-1-.2-.6-.1-.3 .1-.1 .2-.2 .1-.2 .4 .1 .7 .2 1.2-.1 1.2 0 .7 .3 .1 .8-.3 1.4-.2 1.5 .1 1 .1 .6 0 .5 .3 .3 .8 .2 1.2 0 1.2-.2 .4 .5 .2 .8 .8 1.1 1.5 1.2 1.7 1.2 1.3 1.2 .7 1 .6 .6 .2 .4-.2 1-.4 1.7-.8 2.4-1.2 2.6-1.2 1.7-1.3 0-1-1.3-.8-1.9-.6-1.9-.4-.9 .2 .1 .6 .4 .2 .1-.5-.2-1.3-.4-1.8-.5-1.5-.3-.6-.2-.3-.8-.3-1.3-.8-1.3-.7-.9-.4-.6 .3-.7 .5-.7 .5-.7 .1-.9-.5-.4-1 0-1.2 .1-1.3 .3-1.1 .5-.5 .4 .2 .2 .4 .4 .6 .7 .2 1.2-.5 1.6-1.2 1.7-1.2 1.1-.6 0-.3-1-.2-1.6-.5-1.5-.8-.9-.9 .3-.9 1.1-.8 1.3-.7 1.7-.5 1.8-.5 2-.9 2.2-1.3 1.8-1.4 .9-1.3 .3-1.1 0-1.3-.3-1.2-.6-.8-.8-.2-1.2 0-1.6-.2-2-.7-2.1-.8-2.1-.8-1.5-1.1-.9-1.6-.7-1.7-.6-1.3-.2-.8-.4-.4-.2-.4 .3-.5 .7-.4 .6-.3-.5-.2-1.5-.2-2.3 .1-2.3 .8-2.5 1.6-3 2-3.1 2.1-3 1.3-1.9 .4-.3-.3 1-.1 1.3 0 1.3 .1 1.2 .3 1.1 .2 1.3 .4 1.8 .4 1.5 .6 1.2 .9 1.2 1.4 1.4 1.9 1.2 1.7 1.4 .9 1.4-.3 1.7-1 1.6-.7 .7 .1-.5 0-.8-.4-.5-.8-.2-.6 .1 .1-.1 .3-.4 .1-.3-.1 .2 .1 .6 .7 1.1 1 1.4 .8 .9 .3 .7 .4 .7 .8 .5 1 .3 1 .2 1-.2 .8-.5 .8-.4 1 0 1 .3 1 .9 .8 .8 .6-.5 .6-1.7 .3-2 .1-1.1-.1 .2-.4 1-.7 .5-.9-.3-1.3-.6-1.5-.8-.9-.6-.1-.6 .7-1 1.5-1.2 2.2-1.1 2.7-.9 3-.7 3-.7 2.6-.6 1.6-.1 .6 .9-.5 1.5-1.9 2-2.7 2.2-2.6 2.6-1.9 3-1.3 3.1-1.2 2.3-1.8 1.3-2.5 .2-2.5-.8-1.5-1.8-.6-2.1-.5-2.1-.6-1.5-.6-.6-.4-.2 .1-.2 .5-.5 .3-1 0-1.3 .1-1 .4-.4 .6 .1 .4 .8-.2 .7-.5 .6 .2 .9 1.3 1.2 1.9 1.1 1.7 .9 .6 .8-.1 .3 0-.1 .5-.4 .9-.9 1-1.2 .6-.7 .5-.7 .5-.6 .6-.7 .6-.4 .3-.1 .2 .7 .4 1.4 1 1.6 1.7 .8 1.4-.3 .5-.5-.1-.3-.2 .3 .4 1.5 1.1 1.8 1.4 1.2 1.3 .2 .9-.2 .2 .1-.2 .9-.6 1.6-.6 1.3-.4 .2-.1-.5-.1-.7-.3-.6-.7-.5-1.2 .5-1.3 1-.8 1 .1 .3 .1-.8-.3-1.3-.2-1.2 .1-.2 .8 .8 1.2 1.3 1.8 .9 1.6 .2 1.2-.4 .4-.6-.5-.4-1.2-.3-1.1-.2-.8 .2-.5 1.1-.8 1.5-.8 .8-.8-.4-1-1.3-.8-1.5-.5-1.5-.2-1.6-.2-1.7-.4-1.5-.6-.9-.6-.6-.4-1-.5-1.6-.6-1.2-.7-.4-.5 .3 .1 .9 .7 1.3 .4 1.5 0 1.5-.5 1.1-.3 .5 .5-.5 1.1-1.4 1.1-1.7 .7-1 .4 .2 0 1.5-.6 2.6-1.1 2.1-1.5 .9-1.3 .5-.5 .8 .2 1.2 .6 1.6 .5 1.6 .4 .9 .6 0 1 0 1 .6 .3 1-.4 1.4-.8 .7-.4-.3 .2-.4 0 .5-.2 1.7-1.1 1.9-1.9 1.1-2-.4-1.6-1.3-1.5-1.3-1.4-.9-1.5-.4-1.8-.3-1.5-.8-.7-1.3-.1-1.4 .1-.9 .3-.5 .9-.1 1.2-.2 1.4-.6 1.4-.8 1.1-.7 .6-.9 .3-.9 .5-.7 .8-.8 .6-.4 .1 .1-.4 .5-.8 .9-.7 1.3-.7 1.2-.8 .4-1-.8-.6-1.6-.2-1.9-.1-1.8-.6-1.7-1.5-1.4-2.1-1.4-1.9-1.7-1.1-1.8-.3-2-.1-1.4-.4-.5-.7 .2-.6 .9-.4 1.6-.1 2.1 .4 2.7 .7 2.5 .2 1.5-.7 .7-1.2 1.1-.9 1.7 .1 1.5 1 .7 .9 .8 0 1.3-.7 1.8-.6 1.6-.2 .3 .5-.8 1.3-1.1 1.9-.7 1.9-.8 1.3-1.2 .7-1.4 .4-1.8 .7-2.2 1.4-2.2 1.8-1.3 1.5-.2 .5 .7-.2 .8-.3 .8-.4 .6-.2 .9 0 1.5-.2 1.5-.3 1-.1 .2 .3-1 .9-1.5 1.4-1 1.8 .2 1.7 1.3 1.2 1.4 1 .7 .9-.6 1-1.4 .9-1.3 .7-.3 .6 1.1 .5 2.1 .4 2.2 .4 1.6 .1 .9-.2 .7-.5 .4-.9-.1-1 .1-.7 0-.3 0 .4-.2 .6-.2 .5 0 .1 .1 0-.2 .2-.8 .3-1.5 .2-1.4-.1-.5-.5 .2-.5 .5-.1 .4 .4 .3 .7 .1 .9 .3 .8 .6 .6 .3 .4-.2 .5-.8 1-.6 1.1 .2 1.1 1.3 1 1.9 .7 1.5 .3 .8-.2 0-.2-.4 .1-.1 .5 0 .7 .4 .6 .9 .3 .9 .1 .8 .3 .2 .4-.4 .2-.8 .2-.5 .3-.2 .9-.1 1.2-.1 1.2-.4 .6-.3-.3 .2-.5 .4 0 .4 .6 .1 .8 .1 .7 .4 .1 .6-.3 .7-.4 .9-.2 .9 0 1.1 0 1.2-.3 .9-.6 .2-.2-.5 .4-1.2 .9-1.3 1-.7 .9 .2 1 .9 1.3 .8 1.6-.2 1.2-.9 .6-.8 0-.7-.2-.8-.5-1.3-.6-2-.6-1.9-.8-1.3-1.1-.5-1.6-.3-1.9-.6-1.8-1-1.5-1.1-1.2-.8-.8-.3-.5-.4-.5-.4-.3-.2 0 .2-.1 .6-.1 .6 0 .2 0-.4-.2-.5-.3-.1-.5 .6-.7 1.1-.5 1.8-.4 2.2-.6 1.3-.8 .1-.5-1-.2-1.1 .1-.6 .1 .1-.2 .3-.5 0-.5 0 .3 .1 1.2-.1 1.5-.1 1.3-.5 .2-.6-1 .2-1.4 .9-1.1 1-.4 .5-.3-.1-.4 .4-.7 1.2-.2 1.7 .5 1.2 .9 .2 .6-.5 .4-.5 .3-.2 .5 .1 .2 .2-.1 0-.2-.6 .3-1.2 1.3-1.5 1.4-1 .7-.3-.4-.3-.8-.8-.4-1.5 .6-1.7 1.4-1.1 1.4 0 1 .4 .6 .2 .5 0 .4-.4 .4-.4 .4 .2 .1 .4-.3 .5-.5 .8-.2 .5 .3-.1 1-.8 1-1.1 .9-1 .5-.7 .2-.6-.2-.9-.6-1.6-.9-2-.8-1.8-.8-1.4-1.2-.9-1.6-.1-1.6 .6-1.5 .9-1.1 .7-.8 .1-1.1 0-1.4-.1-1.8-.3-1.5-.5-1.2-.6-.5-.4 .1 0 .5 .7 .8 .9 .6 .6 .4 .2 .6 .1 .7 0 .9 0 .9 .2 .7 .5 .5 1 .1 1.5-.5 1.3-1.6 .5-1.9-.3-1.3-.8-.1-1.5 .4-1.4 .4-1.4 .4-1.3 .8 0 1.5 1.2 2.2 1.5 2.2 .8 1.3-.5 .3-2.1 0-2.9-.1-2.3 .1-1.5 .4-.7 .6 .2 .2 .7-.1 .4-.7-.4-.9-1.1-.8-1.3-.3-.3 .4 1.2 .7 1.9 .5 1.9 .2 1.4-.2 1-.2 1.1-.2 1 0 .4 .3-.6 .5-1.2 .7-1.2 .6-.3 .1 .8-.4 .9-.4 .5-.3 .2 .3 .3 .9 .6 1.2 1 .8 .8 .3 .4-.3 .6-.7 1-.8 .9-.9 .3-1.1-.5-.7-.9 0-1 .1-.9-.2-.5-.9 .1-1.8 .3-2 .2-1.4-.5-.7-.6-.2-.4-.1-.1 .1 .1 .3 0 .5 0 .3 .1 0 .6-.3 .9-.3 1-.2 .3-.1-.8-.4-1.8-1.2-1.7-2-.3-2.8 .8-3.2 .8-3.3-.3-2.9-1.3-2.8-1.8-3-1.9-2.9-1.6-2.2-.9-.8 0 .9 .7 2.4 .8 2.7 .5 2.5 .3 2.1 .6 1.2 1.4 .6 1.5 .4 1.2 .2 .5 .2 .1 .3 .1 .5 .5 .7 1.2 .8 1.2 .8 .7 .4 .3-.1-.3-.6-.6-.4-.7-.4-.3 0 .1 .7 .3 1 .2 .8-.4 .5-1.2 .1-1 .3-.7 .7-.5 .8-.1 .3-.1-.1-.2 .1 .3 .3 .6 .3 1 0 1.2-.5 .6-.8-.1-.5-.6 0-.7 .3-.2 .7 .5 1.2 .7 1.2 0 1-1 .7-1.9 .3-2.3 .1-1.5 .1-.5 .2 .7 .6 1.5 .6 1.4 .4 .4-.2-.5-.4-1-.3-.8 .5-.3 1.1 .3 .9 .6 .3 .3-.3" fill="none" stroke="#1b40a0" stroke-width="2.1" stroke-linejoin="round" stroke-linecap="round"/>
<path d="M584 968.4l-.5-.9-.7-.3-.6 .1-.5 0-.3-.1 .1 .2 .5 .5 .6 .9 .5 .9-.1 .4-.5 0-.4-.1-.1 .1 .2 .2 .4 .2 0 .1-.5 .1-1.2 .3-1.6 .6-1.5 .7-.9 .4-.2-.1 .3-.6-.1-.6-.8-.1-1.4 .2-1.1 .7-.4 1-.2 1.2-.5 1.3-1.4 1-1.9 .6-1.7 0-1-.1-.7 .1-.8 .2-.8 .1-.7 .1-.3 .2 .3 .6 .3 .9 .3 1-.1 .8-.6 1-1.2 1.2-1.7 1.4-1.8 1.4-1.1 1.2-.4 1 .3 .9 .7 .9 .6 1 .7 1 1 1 1.2 1 1 1 .9 .9 .7 .9 .8 .6 1.4 .3 1.8-.2 1.9-.6 1.8-1.1 .8-1.4-.3-1.4-.9-1.3-.7-.9-.4-1-.2-.9-.1-.8-.3-.6-.3-.6 0-.6 .3-.7 .1-.7 0-.6 .2-.9 .3-1.6 .3-2 0-1.9-.5-1.7-.9-1.7-1-1.9-.7-2.1-.8-2-.8-1.4-1-.6-1.1 .1-1 .8-.5 1.3 0 1.4 .4 1 1 .5 1.5-.1 1.6 0 1.4 .4 1.1 .8 .6 1 .5 .3 .4-.5 .2-1.1 .1-1.2 .4-1.1 1-.8 1.3-.6 1.4-.6 1.2-.8 1-.7 .7-.3 .1 0-.4 .1-.7-.2-.7-.2-.5 .3-.1 1.1 .3 2.1 .6 2.1 .6 1.6-.1 1.1-.9 1-1.4 1.3-1.4 1.6-1 1.5-.6 1-.7 .5-.7 .6-.5 1 0 1.5 .2 1.5 .2 1.2-.1 .7-.3 .2 .2-.1 .6-.2 .7-.2 .6-.2 .1-.3-.1-.5-.4-.7-.3-.8-.4-.7-.5-.6-.5-.7-.6-.8-.3-.7 .2-.4 .5 .3 .4 .7 0 1.2-.4 1.3-.6 1.4-.1 1.1 .1 .8 .2 .5 .6 .2 .8 0 .8-.3 .5-.4-.2-.6-.7-.6-.8-.5-.2-.6 .5-.9 .7-.7 .7-.6 .4-.1 .2 .3 .2 .9 .1 .9-.1 1.1 0 1.2 0 1.2 .4 1.2 .5 .9 .4 .6 0 .1-.1 0 .4 .1 .6 .3 .5 .7 .1 1-.3 1.4-.4 1.5-.1 1.1 .3 .9 .3 .5 .4 .9 .3 1.1 .3 1.1 .3 .8 .1 .5-.1 .4 0 .8 .2 1 .5 .9 .3 .6-.3 .4-1 .1-1.7-.1-2.2-.4-2.2-.7-1.4-.7-.9-.8-.4-.9-.1-1.2 .2-1.1 .1-1 .3-1 .1-1 .2-1.2 .3-1.4 .6-1.4 .8-1.2 .7-1.2 .6-1.1 .3-.9 .2-1 .1-.8 .4-.9 .8-.7 .8-.3 .2 .6-.6 1.4-1.2 1.7-1.3 1.6-1 1.5-.2 1.2 .4 1.2 .5 1.3 .6 1.1 .8 .8 1 .4 .9 .4 .7 .5 .5 .7 0 .7 .2 .6 .3 .4 .4 .4 .4 .7 .4 .9 .1 1.2-.2 1.8-.4 2.2-.3 1.9 .1 1.4 .4 .8 .4 .3 0-.4-.2-.8-.3-1.4-.4-1.4-.4-1-.3-.6-.2-.6 0-1 .2-1.5 0-1.6-.2-1.5-.5-1.4-.7-1.4-.3-1.3 .3-1.3 .4-1-.1-.6-.9-.2-1.3-.1-1.3-.1-.8 0-.5 .2-.3 .6-.3 1.1-.4 1.3-.4 1-.5 .8-.5 1-.2 1.1 0 1.3 .2 1 .3 .5 .5 .1 .6 .1 .4 .3 .4 .6 .5 .8 .9 .8 .8 .7 .6 .7 .6 .6 .6 .2 .9 .4 .9 .5 .6 .8 .2 .5 .1 .2 .1-.1-.2 0-.3 .5 .1 .8 .6 .4 1.3-.4 1.4-1.1 1-1.4 .5-1 .4-.5 .4-.4 .3-.8-.1-1-.7-.7-.8-.3-.8 0-.9 .1-.9 0-.9 .1-.8-.2-.8-.4-.7-.8-.9-.7-1-.5-1-.2-1.1-.3-1.2-.3-.9-.1-.3-.1 .6 0 1-.4 1.1-.7 .9-.7 .8-.7 .6-.5 .8-.3 1.2-.6 1.7-.8 1.9-.8 1.6-.2 1 .1 .1 .4-.3 .3-.1 .1 .4-.3 .7-.7 .8-.8 .5-1 .3-1 .6-.8 1-.8 1.3-.7 1-.5 .9-.4 .7-.4 .5-.7 .6-.8 .1-.9-.4-.9-.6-1-.5-1.1-.4-1.1-.2-1 .2-.7 .6-.6 .8-.6 .7-.5 .5-.5 .2-.6 .1-.5-.1-.5-1-.5-1.9-.4-2.1-.6-1.7-.7-1.2-.9-1.6-1-2.2-1.2-2.4-1.3-2.3-1-1.4-.6-.9-.3-1-.1-1.2 .1-1.4 .2-1.6 .5-1.8 .5-2 .5-1.9 .4-1.7 .2-.9 .3 .2 .4 1.2 .6 1.8 .8 1.8 .7 1.1 .7 .6 .5 .6 .5 1.2 .4 1.6 .5 1.6 .6 1.5 .7 1.8 .8 2.1 .9 2.2 .8 1.8 .5 1.3 .4 .6 0 .2-.2 .3-.1 .2-.2-.2-.2-.4-.3-.6-.2-.8 .2-.9 .8-.6 1-.4 .7 .2 .1 .9-.4 1.6 0 1.8 .5 1.4 .9 .6 .8 0 .4-.1 .3 .2 .1 .3 .1 .1 .1-.3-.1-.7-.3-.6-.3-.4 0-.1 .2-.1 .4-.3 .1-.4 0-.5-.1-.5 0-.6 .1-.8 .1-1.1 .3-.9 .7-.8 1.8-.5 2.8-.8 3.3-1.4 3.3-2 2.9-2 2.3-1.3 2.1-.3 1.6 1 .5 1.8-.7 2.3-1.6 2.5-1.9 2.6-1.9 2.3-2.1 2.2-2.8 2.4-3.5 2.7-3.4 2.5-2.9 1.9-2 .8-1.1-.2-.6-.9-.3-1.4-.1-1.9 0-1.9 .3-1.7 .6-1.2 .6-1.1 .6-1.3 .5-1.6 .4-1.5 .2-1.2 0-.7-.1-.6-.2-.1-.4 .6-.1 1.2 .2 1.5 .6 1.3 .8 .6 .9 .3 .6 .2 .6 .4 .9 .6 .9 .6 .7 .3 .5 .1 .5 .1 .6 .1 1.1 .3 1.2 .6 1 .6 .8 .5 .6 .1 .5-.3 .6-.4 .7-.2 .4 .2 .4 .7 .2 .9 .3 .8 .6 .4 .7 .1 .7 .1 .6 .1 .5 .2 .1 0 .1-.1 .3-.1 .5 .4 .4 .9 .4 1.2 .3 1.2 .2 .8 .3 .6 .2 .6-.3 .6-.7 .3-.8-.2-.9-.6-.8-.7-.7-.7-.6-.6-.4-.7-.2-.7-.1-.7-.3-.7-.2-.5-.3-.1-.3 .5-.4 1-.6 .9-.7 .2-.7-.5-.8-.7-.4-.5-.2-.2 .1-.2 .3-.4 .1-.7-.2-.7-.1-1 .2-1.1 .5-1.4 .5-1.5 .3-1.1-.1-.7-.5-.6-.4-.4-.6 0-.9 .8-1.3 1.4-1.2 1.4-.7 1.4-.3 .9-.1 .9 .1 1.5 .1 2.1 .1 1.9 .1 1.2 .2 .4 .3-.3 .1 .1-.1 1-.4 1.2-.4 1.1-.4 .4-.3-.1-.4-.4-.6-.4-.7-.5-.6-.3-.7 .1-.4 .4-.2 .8 0 1.1 .1 1.1 .2 1 .2 .7 0 .3 0 .2-.3 .3-.4 0-.1-.6 0-.9 .2-1 .4-.9 .3-.5 .4-.5 .3-.6-.1-.4-.5 .1-.7-.1-.8-.4-.7-.9-.3-1.3-.3-1.4-.3-1.4-.5-1.4-.7-1.3-.4-.9 .1-.7 .5-.8 .5-1.1 .1-1.4-.5-1.1-.8 0-.8 1.2-.5 1.6-.3 1.5-.5 1-.8 .7-1 .6-.6 0-.2-.5 0-.8-.3-.7-.7-.3-.6-.1-.3-.4-.1-.7 .1-.3 0 .2-.1 .7-.2 .8 0 .5 .1 .2-.1 .2-.4 .1-.5-.1-.5 .1-.3 0-.2 0-.1-.1-.1-.3 .1-.1 .1 .5 .1 .8 .1 .8 .6 .7 .8 .5 .8 .5 .4 .6 .2 .8 .6 .6 1.2 .6 1.5 .4 1.3 .1 .7-.1 .5-.4 .4-.6 .4-.5 .3-.2 .4 .2 .3 .3 .4 .1 .5 .1 .2 .4 .1 .9 0 .9 .3 .6 .6 .6 .9 .8 .9 .9 .7 .7 .6 0 .5-.5 .2-.5 .2-.2 .6 .1 .9 .3 1 .3 .5 .2-.1 0-.4 0-.2-.3 .3 0 .8 .1 .7 .1 .3 .3 .1 .2 .1 0 .2 .1 .2 .5 .1 .7-.1 .5-.3-.2-.4-.4-.6-.4-.5-.2-.1-.3 .2-.3 .7-.3 .9-.4 .9-.5 .9-.9 .8-1 .6-.3 .6 .5 .6 .9 .6 .7 .4 .1 .2-.1 .2 .1 .4 .5 .6 .5 .6 .2 .2-.2 .2-.8 0-.9 .1-.8 .2-.6 0-.3 .2 .4 .1 .9 .1 1.6 .1 1.7 0 1.2 .1 .6 .2 0 .6-.3 .8 0 .8 .2 .7 .5 .6 .7 .6 1 .7 1.2 .7 1 .4 .9 .2 .6 .1 .3-.1 .1 0-.3 .3-.2 .8 .4 1 .8 .7 .6 .3 .3 .2 0 .5 0 .7 .4 .6 .5 .5-.4 .3-1.3 .2-1.9 .2-2.1-.3-1.9-.7-1.1-1-.4-1-.1-.7-.1-.4-.2-.4-.4-.6-.2-.9-.1-1-.2-.9-.4-.9-.5-.8-.9-.7-1.1-.5-1.4 .1-1.5 .7-1.5 .9-1.4 .7-1.3 .2-1.1-.3-.4-.5 .4-.7 .8-1.2 1.1-1.3 1-1.4 .6-1.1 .1-.7-.5-.5-1.2-.3-.9-.1 .3 .4 1.3 .6 1.4 .6 .9 .2 0-.2-.3-.3 0-.2 .2 .1 0 .1 .1-.1 .3-.1 .4-.1 .4 .1 0 .4-.6 .5-1.3 .4-1.1 .4-.7 .3-.1 .1 .5-.1 .5-.3 .3-.2 .2 .1 .4 .6 .8 .7 1 .6 1 .3 .8-.1 .6-.4 .6-.4 .5-.4 .3-.2-.1 .1-.7 .2-1.1 .4-1.3 .4-1 .4-1 .3-1.1 .5-.9 .9-.4 1.1 .2 1 .3 .5-.3 .1-.7 .1-.8 .5-.8 .6-1.1 .4-1.2 .3-1.1 .5-.8 .9-.1 .7 .3 .3 .3-.3 0-.9-.5-1-.6-1.1-.4-1.3 0-1.4 .1-1.7-.2-1.5-1-1.2-1.5-.8-1.3-.7-.7-.6-.2-.7 0-.6 .3-.3 .1 .1-.1 .4 0 .7-.1 .5-.5 .5-.9 .6-1 .5-.5 .1 .4-.2 1-.4 1-.3 .8 .1 .3 .1 .2-.4 .3-.5 .1-.3-.2 .2-.1 .3 .2 0 .5-.3 .7-.4 .5 0 .2 .3 .3 .3 .6 .1 .4 0 .3 0 .1 .3-.1 .5-.3 .6-.5 .5-1 .4-1.5 .1-1.6 .1-1.3 .1-.8 .4-.4 .7 0 .9 .3 .9 .2 .9 .2 .7 0 .6-.1 .2 .1 .1 .7-.1 .9-.2 .9-.2 1-.5 .6-.8 .2-1 .1-.9 .4-.6 .5-.1 .5 .1 .6 0 .8-.2 1-.2 .8 0 0 .3-.6 .4-1 .1-.8-.2-.4-.5-.1-.7 0-.6 .1-.1-.2 .1-.3 .2-.2 0 .1-.4 .5-.7 .8-.9 .5-1 .2-.7-.3-.3-.7-.2-1.2-.2-1.4-.3-1.2-.6-.7-1-.1-1.2 .3-1.3 .1-.8-.5-.3-.9-.4-.8-.9-.7-1.3-.5-1.5 .1-1.4 .6-1.3 1.3-1.8 1.8-2 1.8-2 1.1-2 .8-1.7 .8-1.3 .6-.5 .5 .6 0 1.5-.6 1.7-1.3 1.6-1.4 1.7-1.2 1.8-.5 1.7 .1 1 .6 .2 .9-.2 .7-.3 .6 0 .3 .4 .1 .7 .1 .4 .4 .2 .6-.1 .8 .1 .5 .6 0 1-.5 .6-.4-.1-.6-.4-.6-.4-.4 0-.1 .1 .1-.2 0-.2-.1-.5-.1-.7-.1-1.1-.1-1-.6-.7-.7-.3-.4 .3 .1 .5 0 .8-.4 1-.8 1.3-1 1.2-1.2 .6-1.3 .1-1 .1-.6 0 .1 .2 .4 .5 .4 .6 .2 .6 .1 .8 .3 .8 .4 .5 .6 .3 .5 0 .3 .2 .1 .6 .1 .9 0 .7-.1 .1-.5-.6-.7-.8" fill="none" stroke="#1b40a0" stroke-width="2.1" stroke-linejoin="round" stroke-linecap="round"/>
<rect x="464.8" y="906.4" width="233.4" height="176.1" fill="none" stroke="#262424" stroke-width="1.85"/>
<path d="M581.5 906.4v3.0M581.5 1082.5v-3.0M464.8 994.5h3.0M698.2 994.5h-3.0" stroke="#262424" stroke-width="1.3" fill="none"/>
<text transform="translate(453.5 912.9) scale(1.045 1)" font-size="28" text-anchor="end">2.5</text>
<text transform="translate(453.5 1001) scale(1.045 1)" font-size="28" text-anchor="end">0</text>
<text transform="translate(453.5 1089) scale(1.045 1)" font-size="28" text-anchor="end">-2.5</text>
<text transform="translate(467.7 1118.4) scale(1.045 1)" font-size="28" text-anchor="middle">-2.5</text>
<text transform="translate(582.4 1118.4) scale(1.045 1)" font-size="28" text-anchor="middle">0</text>
<text transform="translate(695.6 1118.4) scale(1.045 1)" font-size="28" text-anchor="middle">2.5</text>
<text transform="translate(434.8 875.1) scale(1.045 1)" font-size="28.7">(cm)</text>
<text transform="translate(708.7 1078.6) scale(1.045 1)" font-size="28.7">(cm)</text>
<path d="M240.5 1236.2l.6 .7 .5 .5 .6 .4 .5 .8 .6-.1 .6-.1 .5-.5 .6 .1 .5-.2 .6 0 .5 .2 .6 .5 .6-.1 .5 .1 .6-.5 .5-.8 .6-1.2 .6-1 .5-.7 .6 .1 .5 .5 .6 .1 .5 .6 .6 .3 .6 .5 .5-.1 .6 .5 .5 .8 .6 .4 .6 .3 .5-.2 .6 .2 .5-.7 .6-.8 .5-.6 .6 .1 .6 .6 .5 .5 .6 .5 .5 0 .6 .3 .6 .1 .5 .1 .6-.3 .5-1.5 .6-1.5 .5-1.1 .6-1 .6-.1 .5-.3 .6-.4 .5-.3 .6 2.1 .6 2.1 .5 2.6 .6 1.4 .5 .3 .6 .7 .6 .7 .5 .6 .6-.5 .5-.8 .6-.8 .5-1.1 .6-1.1 .6-1.3 .5-1.9 .6-1.6 .5-.3 .6-.6 .6 .6 .5 .5 .6 1 .5 .6 .6 .7 .5 .9 .6 .1 .6-.2 .5-.6 .6-.3 .5 .3 .6 .3 .6 .3 .5-.4 .6-.4 .5-.5 .6-.5 .5 .4 .6 .4 .6 .8 .5 .4 .6 .7 .5 .7 .6 .9 .6 1 .5 .5 .6 .3 .5 .1 .6-.8 .5-.4 .6-.7 .6-.4 .5-.5 .6 .3 .5-.1 .6 .2 .6 .5 .5 .3 .6-.1 .5-.8 .6-.7 .6-.9 .5-.5 .6 0 .5-.2 .6-.2 .5-.6 .6 .5 .6 .6 .5 1.1 .6 .6 .5 .5 .6 .1 .6 .5 .5 1.6 .6 .1 .5-.7 .6-1.2 .5-1.3 .6-1.1 .6-1 .5-.9 .6-.6 .5 .5 .6 1 .6 1.1 .5 .3 .6 1.1 .5 .8 .6 1.3 .5 .6 .6 .9 .6-.6 .5-1 .6-1.5 .5-1.4 .6-1.4 .6 .4 .5 2.2 .6 1.9 .5 1.9 .6 .7 .5 1 .6 .8 .6-.4 .5-.2 .6 0 .5-.5 .6-.8 .6-.6 .5-.3 .6 0 .5 .5 .6 .1 .6 .5 .5-.5 .6-.7 .5-1.2 .6-.4 .5 .2 .6 .1 .6 .2 .5 .1 .6 0 .5 .4 .6 .8 .6 1.2 .5 1.5 .6 1.4 .5 1.2 .6-.1 .5-1.2 .6-1 .6-1.7 .5-1.1 .6-1 .5-.7 .6-.5 .6-.3 .5 .3 .6-.2 .5-.5 .6-.8 .5-.7 .6-.7 .6 .7 .5 1.1 .6 1 .5 .8 .6-.1 .6-.7 .5-.9 .6-1 .5-.9 .6 .9 .5 1 .6 1.1 .6 .9 .5 1.2 .6 .9 .5-.2 .6-.3 .6-.4 .5-.8 .6-1.2 .5-.6 .6-.7 .6-.3 .5-.7 .6-.4 .5-.8 .6-.2 .5 .2 .6 1.5 .6 .7 .5 .8 .6 .8 .5 1 .6 .6 .6 0 .5 0 .6-.3 .5-.5 .6 .1 .5 .5 .6 1.3 .6 .7 .5 .7 .6 .3 .5 1.2 .6 1.1 .6 1.5 .5 1.1 .6 1 .5 .7 .6-.5 .5-1.1 .6-1.1 .6-1 .5-.7 .6 .4 .5 .6 .6 .6 .6 .5 .5-.1 .6 .4 .5 .6 .6 1.4 .6 .3" fill="none" stroke="#0e0b0b" stroke-width="1.9" stroke-linejoin="round" stroke-linecap="round"/>
<rect x="240.5" y="1202.8" width="144.7" height="73.6" fill="none" stroke="#0e0b0b" stroke-width="1.85"/>
<path d="M298.4 1202.8v2.3M298.4 1276.4v-2.3M356.2 1202.8v2.3M356.2 1276.4v-2.3M240.5 1239.6h2.3M385.1 1239.6h-2.3" stroke="#0e0b0b" stroke-width="1.3" fill="none"/>
<text transform="translate(229 1210) scale(1.045 1)" font-size="24.3" text-anchor="end">2.5</text>
<text transform="translate(229 1246.8) scale(1.045 1)" font-size="24.3" text-anchor="end">0</text>
<text transform="translate(229 1283.6) scale(1.045 1)" font-size="24.3" text-anchor="end">-2.5</text>
<text transform="translate(239 1304.7) scale(1.045 1)" font-size="24.3" text-anchor="middle">0</text>
<text transform="translate(297.9 1304.7) scale(1.045 1)" font-size="24.3" text-anchor="middle">20</text>
<text transform="translate(353.7 1304.7) scale(1.045 1)" font-size="24.3" text-anchor="middle">40</text>
<text transform="translate(378.7 1304.2) scale(1.045 1)" font-size="24.3">(s)</text>
<text transform="translate(196.7 1181.6) scale(1.045 1)" font-size="24.900000000000002">(cm)</text>
<text transform="translate(312.5 1191.5) scale(1.045 1)" font-size="28" text-anchor="middle">AP</text>
<path d="M240.5 1390.4l.6 .7 .5 .5 .6 .6 .5 .6 .6 1.6 .6 1.6 .5 1.4 .6-.3 .5-1.1 .6-1 .5-1.6 .6-1.3 .6-.6 .5 0 .6 .1 .5 .5 .6-.2 .6-.4 .5-.9 .6-.5 .5-.4 .6-.4 .5-.2 .6 .1 .6 .8 .5 .8 .6 .5 .5 .1 .6-1 .6 0 .5-.1 .6 .3 .5-.2 .6 .4 .5-.3 .6 .1 .6-.1 .5-.1 .6-.9 .5-.7 .6-1.1 .6-.7 .5 0 .6 1.8 .5 1.7 .6-.1 .5-1.6 .6-2 .6-.6 .5-.9 .6-.7 .5 .6 .6 1 .6 1.2 .5 .6 .6 .9 .5 .6 .6 .5 .6-.3 .5 0 .6 .3 .5 .4 .6 .4 .5 .2 .6-.4 .6-1.9 .5-1.5 .6-1.2 .5 .6 .6 3.7 .6 1.4 .5-3.1 .6-1.4 .5 2.3 .6 2.9 .5-1.3 .6-.8 .6-.9 .5-.5 .6-.9 .5 0 .6 .3 .6 .4 .5 0 .6 .6 .5 .6 .6 .3 .5 .4 .6 .4 .6 .6 .5 .5 .6-.2 .5 .3 .6-.3 .6 .2 .5 .4 .6 .2 .5 .2 .6-.8 .5-.9 .6-.2 .6-.7 .5-.2 .6-.7 .5 .2 .6-.1 .6-.1 .5-.2 .6 0 .5 .7 .6 .3 .6 .1 .5-.4 .6-.1 .5 .1 .6-.7 .5 .1 .6-.2 .6 .3 .5-.5 .6-.1 .5-.1 .6 .9 .6 .4 .5 .5 .6-.1 .5-.1 .6-.1 .5-.5 .6-.1 .6 0 .5-.4 .6-.6 .5-.8 .6 .4 .6 .3 .5 .5 .6-.3 .5-.2 .6-.3 .5-.9 .6-.2 .6-.6 .5 0 .6 .2 .5 .4 .6 .7 .6 .7 .5 .2 .6-.1 .5-.2 .6 .2 .5 0 .6-.5 .6 .3 .5 .7 .6 1.1 .5-.4 .6-1 .6-.9 .5-.8 .6-.9 .5-.3 .6-.2 .6-.2 .5-.2 .6-.5 .5-.1 .6 .7 .5 .6 .6 .9 .6 .1 .5 0 .6-.5 .5-.7 .6-.2 .6-.1 .5 .2 .6 .3 .5-.5 .6-.8 .5 0 .6 .5 .6 .2 .5-.2 .6-.1 .5 .3 .6-.2 .6 .1 .5-.3 .6 .3 .5 .1 .6 .4 .5 .5 .6 .5 .6 .6 .5-.4 .6 0 .5-.2 .6 1.1 .6 .4 .5 .3 .6 .1 .5 .8 .6 .6 .5 0 .6-.7 .6-.8 .5-.4 .6-.4 .5 .4 .6-.4 .6 0 .5-.2 .6 .1 .5 .3 .6 .2 .6 .2 .5 .4 .6 0 .5 .2 .6-.6 .5-.7 .6-.6 .6-.4 .5-.5 .6-.3 .5 0 .6 0 .6 0 .5-.1 .6-.1 .5-.2 .6-.3 .5-.1 .6 .6 .6 0 .5 .4 .6 .1 .5 .7 .6-.1 .6-.3 .5-.6 .6-.4 .5-.3 .6-.2 .5-.3 .6 .1 .6 0 .5 .6 .6-.4 .5 .2 .6-.2 .6-.4 .5-.6 .6-.3 .5 0 .6-.4 .6 .1" fill="none" stroke="#0e0b0b" stroke-width="1.9" stroke-linejoin="round" stroke-linecap="round"/>
<rect x="240.5" y="1352.3" width="144.7" height="73.6" fill="none" stroke="#0e0b0b" stroke-width="1.85"/>
<path d="M298.4 1352.3v2.3M298.4 1425.9v-2.3M356.2 1352.3v2.3M356.2 1425.9v-2.3M240.5 1389.1h2.3M385.1 1389.1h-2.3" stroke="#0e0b0b" stroke-width="1.3" fill="none"/>
<text transform="translate(229 1357.6) scale(1.045 1)" font-size="24.3" text-anchor="end">2.5</text>
<text transform="translate(229 1394.8) scale(1.045 1)" font-size="24.3" text-anchor="end">0</text>
<text transform="translate(229 1436.2) scale(1.045 1)" font-size="24.3" text-anchor="end">-2.5</text>
<text transform="translate(239 1453.9) scale(1.045 1)" font-size="24.3" text-anchor="middle">0</text>
<text transform="translate(297.9 1453.9) scale(1.045 1)" font-size="24.3" text-anchor="middle">20</text>
<text transform="translate(353.7 1453.9) scale(1.045 1)" font-size="24.3" text-anchor="middle">40</text>
<text transform="translate(378.7 1453.4) scale(1.045 1)" font-size="24.3">(s)</text>
<text transform="translate(196.7 1328.5) scale(1.045 1)" font-size="24.900000000000002">(cm)</text>
<text transform="translate(312.5 1341.6) scale(1.045 1)" font-size="28" text-anchor="middle">ML</text>
<path d="M577 1306.5l-1.3-.2-1.3 .4-1.3 .9-1.3 .8-.8 .6-.1 .5 .1 .7 .1 1-.2 1.2-.5 1-.6 1-.4 1.2-.3 1.1-.6 .6-.8 0-1-.5-1-.5-.9-.4-.6-.1-.6 .1-1 .4-1.6 0-1.9-.2-1.8-.6-1-.7 0-.5 1-.2 1.2-.2 1.4 .2 2 .3 2.5 .2 1.9 .1 .7 .2-.3 .2-.6 0-.2-.1 .6-.4 .7-.6 .8-.3 .9-.1 .9-.1 .7-.1 .1-.3-.5-.2-.3-.1 .2 .2 .4 .4 .9 .4 1.2 .3 1.6 0 1.5-.3 1.2-.1 .7 .2 .4 .3 .5-.1 .9-.5 1.1-1 .7-.9-.1-.9-.4-1-.4-1 .1-1 .5-.9 .3-.9 .2-1 0-1.2 .1-.7-.1 0-.6 .7-1 .5-.9 0-.3-.4 0-.2 .3 .7 .4 1.3 .3 1.5 .5 .8 .5 .2 .5-.3 .5-.5 .5-.5 .2-.6-.1-.5-.2-.3-.3 .4-.7 .9-1.2 1.1-1.7 1-1.9 .8-1.5 .4-1.1 .3-1 .2-1.1 0-1.4 .3-1.6 .5-1.4 .9-.8 1.2-.2 .7 .3 .1 .8-.2 1.4-.2 1.7-.1 1.9-.3 1.5-1 1.1-1.4 1.2-1 1.4-.2 1.4 .8 1.1 1.2 1.1 .8 1 0 .7-.5 .5-.8 .3-.8 .1-.3-.1 .1-.5 .4-.9 .2-1.2 0-1.8-.1-2-.2-1.7-.3-1.2-.2-.4 0 .4 .1 .9 .3 1 .5 .8 .2 .1-.5-.2-1 .1-1 .6-.4 1 .3 1.1 .9 .8 .9 .5 .8 .6 .5 1 .4 1.2 .3 1.2 .2 1.1 .2 1.1 .4 1.1 .2 1.1 .2 .9 .1 .8 0 .9-.4 .5-.8-.5-.8-1.8-.7-2.5-.3-2.9 0-2.5-.1-1.9-.6-1.7-1-1.3-1-1-.9-.6-.7 0-.4 .5 0 1.2 0 1.8-.1 2.3-.4 2.1-.6 1.4-.9 1-.9 1.2-1 1.8-1.1 2.5-.9 2.4-.6 1.8-.4 1.1 0 .7 .3 .6 .2 .7 0 .7-.4 .2-.6-.5-.2-.9 .4-1.2 .9-1.1 1.4-1.1 1.6-1.4 1.7-1.4 1.9-1 2-.6 2.1-.5 2.2-.8 2-1.1 1.3-.9 .9-.5 .6 .1 .8 0 .9 .1 .7-.1 .2-.4-.2-.5-.1-.5 0-.3 0 .1 0 .3 .2-.1 .2-.6 .5-1 .7-.9 .9-.5 .8-.3 .5-.6 .1-.6-.4-.4-.9 .1-.8 .4-.5 .1-.2-.5 .1-1.1 0-1.4 0-1.1 .1-.3 .3 .2 .6 .2 .2-.2-.5-.8-1.1-1.3-1.1-1.1-1.1 .1-1.3 1.4-1.8 2.3-2.3 2.6-2.4 2.2-2 1.9-1.5 2.1-1.1 2.2-.8 2.1-.8 1.4-.4 .6-.2-.3 0-.7-.2-1.5-.3-2.4-.3-2.6-.2-2.9-.2-3.2 .1-2.9 .3-1.7 .5 .1 .4 1.9 .4 2.7-.1 2.8-.4 3.1-.3 2.8-.1 1.3 .3-.8 .9-2.6 1.1-3.4 1-2.8 1-2 .7-1.7 .3-1.8 .2-1.6 .3-1 .1-.1-.1 1.2-.3 2-.3 2.3-.2 2-.1 1.6 .1 1.1 .3 .9 .6 .8 .9 .2 1-.3 .5-.7 0-.5-.4 .1-.6 .3-.8 .3-.6 .3-.4 .7-.3 .6-.2 .3-.3 .1-.2-.2 0-.2 0-.3-.2-.4-.5-.7-.8-.8-.8-.4-.6 .4-.3 .9-.3 .8-.3 0-.2-.8 .1-1.1 .3-.7 .3-.1 .3 .2 .3 .2 .4 .1 .5-.2 .3-.3 .4-.1 .6 .4 .5 .6 .4 .2 .5-.4 .3-.8 0-.8-.2-.6-.3-.4 .2-.3 .8-.3 .9-.3 .9-.5 .8-.5 1.1-.4 1.6-.2 1.8 .1 1.4 .5 .7 .7 .4 .5 .1 .2-.1-.6-.2-1.3-.3-1.6-.4-1.4-.1-1.2 .1-.8 .2-.2 .2 .4 .4 .8 .4 .8 .1 .2-.2-.3-.4-.6-.2-.7 .3-.2 1 .6 1.4 .9 1.6 .8 1.2 .7 .3 .5-.5 .6-.8 .7-1.1 .9-1.1 .9-1.1 .8-.9 .7-.8 0-.5-.7-.7-.9-1-.6-1.3 .3-1.4 .5-1-.1-.4-.7-.3-.9-.1-.5 .2 .2 .5 .8 .8 .5 1.2-.3 1-.7 .5-.3 .4 1 .5 2.3 .3 2.9 0 2.4-.1 1.5-.1 .5-.1-.1 0-.7 0-1.3-.2-1.4-.3-1.1-.1-.7-.1-.4-.1 0-.4 .1-.9 .1-1 .2-.7 .2-.4-.2 0-.2 0-.2 0-.2-.1-.3-.4-.4-.5-.3-.7-.2-.6-.1-.4-.1-.4-.2-.3 .1-.1 .1 .2 0 .2-.3 .3-1-.1-1.5-.7-1.3-.8-.5-.5 .3-.3 .5-.3 .5-.6 .1-1.2 0-1.5 .2-.6 .3 .3 .2 1.2 0 1.3 0 1.1 .3 .5 .6 .1 1.1 0 1.4-.1 1.7 0 1.4 .3 .5 .8-.4 .9-.9 1.1-.6 1.1-.2 1-.2 1.1-.6 .8-.5 .7-.2 .4 0 .5-.3 .7-.9 .8-.8 .8-.3 .7 .5 .7 .5 .6 .2 .2-.7-.1-1.2-.3-1.2-.2-.8 0-.5-.2-.4-.5 .1-1 .4-1.5 .2-2-.1-1.9-.7-1.7-1-1.5-.2-1 .5-.7 .6-.4 .5-.4 .6-.4 1.2-.3 1.4-.4 1.3-.2 .7 .4 0 .5-.3 .3-.1 .1 .3-.2 .6-.6 .7-.7 1.4-.8 1.9-.7 1.8-.6 1.5-.2 1.1 .3 .5 .7-.2 .8-.6 .8-.9 1-1.1 1.5-1.3 1.5-1.3 1.1-1.3 .6-1.3 .5-1.2 1-.9 1.8-.5 2 .3 1.8 1.2 1.4 1.4 .7 1.4-.1 1-.6 .9-.6 .9 0 .6 .5-.1 .6-.9 .2-1 .1-.2 .1 .7 .4 1.1 .5 .7 0 .1-1 0-1.7 .4-1.9 .5-1.7 0-1.3-.7-.9-1.1-.9-.7-1.4-.2-1.7-.2-1.6-.6-1.1-.8-1-.7-.8-.5-.9-.4-1-.2-.7 .1-.3 .2 .2 0 .9-.1 1.9-.1 2.6 .2 3 .4 3 .2 2.7-.1 2.3-.4 2.5-.4 2.1-.1 1.6 .7 .8 1.5 .4 1.8 .5 1.9 1.2 1.6 1.5 1 1 0 .2-.8-.5-1.2-.6-1-.4-.4 0 .3 .1 .9-.3 .9-.3 .6-.3 .1-.2-.3-.4-.7-.7-1-.8-.5-.7-.3-.6-.6-.8-1.1-.8-1.5-.2-1.2 .2-.3 .2 .8-.1 .9-.6 .2-.7-.3-.3-.3 .2 .1 .2 .6 0 1.1-.1 1.3-.3 1.1 0 1.2 .1 1.2 .2 1.1 .2 .6 .2-.2 .4-.6 .6-.5 .7 .1 .3 .3 .1 .1-.2-.1-.1 .3 .1 .6 .1 .8-.1 .3-.1-.5-.1-1-.3-1.1-.8-.7-1.1 .2-1.2 .8-.9 .8-.4 .6 .1 .4 .5 .2 .6 .1 .5 0 .6-.3 .3-.2 .3-.4 .4-.8 .5-1.2 .4-1.4 0-.5-.8 .3-1.2 .5-1.2 0-.8-.9-.5-1.6-.1-1.3 .3-.5 .7 0 .8 .3 .7 .6 .1 .9-.5 1.3-.7 1.4-.6 1.1 .1 .6 .9 0 1.3-.5 1.3-.7 .8-.4 .4-.1 .6 .2 .7 .2 .6 .3 .4 .7 .3 1.3 .4 2 .6 1.9 .8 1.3 .8 .5 .8 0 1-.5 1.3-.6 1.3-.1 1.3 .5 1.1 .8 .6 .5-.3-.1-1-.6-1.7-.8-1.9-.6-1.6-.7-1.3-.2-1 .1-1-.2-1-.7-.5-1 0-1.2 .3-1.1 .2-.7 .2-.3-.1 0-.3 .2-.3 0-.5-.7-.7-.8-.7-.4-.5 .2-.5 .4-.6 .3-.5 .1-.5 .2-.3 .5-.5 .4-1 .3-1.6 .2-1.4-.1-1-.1-.3-.2 0 .1 .2 .1-.1-.2-.7-1-.9-1.4-.6-1.2 .1-.2 .6 .8 .5 1.2 .3 1 .2 .5 .4 .2 .9 0 1 0 .6 .3-.1 .3-.7 .4-.7 .4-.2 .6 .4 .4 .7-.1 .2-.7-.2-.8-.2-.8 .1-.5 .7-.5 1.2-.9 1.2-1 1-1 .7-.9 .5-.9 .4-.9 .3-.8 .1-.3-.3 0-.6 .1-1 .3-1.3 .4-1.3 .4-1 0-.8-.3-.4-.6-.3-.6-.4-.5-.5-.2-.6 .1-.6 .4-.6 .6-.3 .2-.1-.4-.2-.8-.5-1-.4-.8-.2-.2 .3 .3 .9 .3 1.3 .1 1.7 0 1.9 .2 1.7 .5 1.3 .8 1 1 .9 1.2 .7 1.3 .1 .9-.5 .1-.8-.6-.4-1.1 .1-1.1 .4-1 0-.9-.7-.4-1.3 .2-1.4 .9-.8 1-.1 .6 .4 .4 .6 .5 .3 .8-.3 .6-.5-.2-.3-.9 0-1 .2-.7 0-.2-.6 0-1 .1-.7 .1-.4 0-.2-.2 0-.1-.1-.1-.1-.2-.1 .2-.2 .8-.4 1.5-.3 1.6 0 1.1 .3 .2 .3-.1 .1 .4 .1 .8-.1 .5-.2-.1-.2-.4-.1-.7-.2-.4-.5 .1-.7 0-.6-.5-.1-.6 .6-.5 .5-.3 .1 .3-.4 .5-.4 .4 0 .6 .2 .5 .4 .3 .4 .1 .5 .3 .6 .2 .6 .4 .6 .6 .2 .5 .1 .3 .1 .2 .2 .2 .2-.1 .2-.5 .5-.8 .6-.5 .7 .1 .8 .8 .6 .8 .6 .4 .6-.2 .2-.6-.2-.9-.6-.9-.4-.5 .2-.1 .7 .2 .7 .2 .1 .1-.5 0-.6 .1 0 .2 .6 .1 .6-.2 .3-.1-.1-.2-.1-.5 .1-.6 0-.1 0 .5 0 .9 0 .3 .1-.5 .2-1 .1-.8 .2-.2 .5 .3 .8 .4 1.1 .4 1.2 .4 1.2 0 .9-.6 .7-.9 .3-1 .1-.5 .1 .2-.2 .7-.2 .7 .1 .8 .5 .9 .5 1.2 .4 1.1 .3 .7 .6 .3 1.2 .6 1.8 1 1.9 1 1.6 .5 1.3-.4 1-1.2 .7-1.3 .5-.6 .3 .3 0 .7-.1 .7-.5 .5-1 .2-1.2 .3-1.4 .5-1.2 .5-.8 .2-.1-.2 .2-.4 .3-.8 .4-1.1 .2-1.4-.1-.8-.3 .1-.9 .6-.9 .5-.5-.2 0-.6 .3-.1 .9 1 1.2 1.5 1.2 1.4 1.3 .7 1.1-.2 .7-.3 .1-.1-.1 .2 .1 .4 .6 .4 .7 .1 .6 .2 .4 .5 .1 .7 0 .7-.2 .3-.5 .1-.8-.2-.7-.2-.3-.2 .1-.3 .3-.2 .3 .2 .2 .4 0 .5 .2 .4 .4 .1 .5 0 .4-.2 .3-.4 .4" fill="none" stroke="#1b40a0" stroke-width="2.1" stroke-linejoin="round" stroke-linecap="round"/>
<path d="M578.6 1306.6l0 .4-.2 .5-.7 .4-1.1 .4-1.1 .3-1 .4-.6 .3-.5 .4-.7 .5-1.2 .6-1.4 .5-1.1 .7-.6 .7-.3 .7-.1 .6-.3 .3-.6 .2-1.1 .1-1.2 0-.9-.1-.5-.2-.5-.1-.8 .1-.8 .1-.5 .2 .3 .2 1 .3 .9 .2 .6 0 .2-.3 .1-.3 .4-.1 .7 .1 1.1 .2 1.2 .3 1.3 .3 1.1 .4 .9 .3 .9 .1 .7 0 .8 0 .7 .1 .6 .4 .3 .5 .5 .4 .3 .4 .2 .5-.1 .6-.2 .5-.2 .1 .2-.5 .2-1 .1-1.1 .2-.9 .5-.8 1-1.1 1.3-1.4 1.2-1.6 .8-1.8 .5-1.6 .2-1.5 0-1.4 .1-1 .2-.5 .2-.1 .5 .5 .7 .8 .7 1 .6 .8 0 .7-.5 .4-.5 0-.6-.4-.7-.6-1.2-.5-1.3-.3-1.3-.1-.8 0-.3 .1 .3 0 .6-.1 .9-.1 1.1 .1 1 .6 .5 .9 .3 1.2-.3 1.1-.6 1-.9 .7-.9 .5-.8 .5-1 .5-1.2 .5-1.4 .2-1.1 0-.6 0 .1 .3 .5 .4 .5 .3 .3 0 .1-.2 .2-.5 .4-.6 .5-.6 .4-.3 .4-.3 .5-.2 .9-.1 1.1 0 1.2-.1 1.1-.1 .8-.3 .7-.2 .5-.1 .6 .1 .3 .2-.2 .3-.5 .4-.4 .4-.2 .2-.1-.1-.3-.1-.5-.1-.3-.1-.3 .2-.2 .2-.5 .3-.7 .3-.6 .4-.2 .4 .1 .6 .2 .4 .6 .2 .9-.1 .9-.4 .6-.5 .5-.5 .3-.5 .7-.3 .9-.2 .9-.3 .6-.3 .5-.2 .7-.1 .9 .1 1 .2 1 .2 .5 .3-.1 .7-.7 .6-.9 .5-1 .3-1-.2-.6-.6-.2-.9-.1-.9-.3-.9-.5-.8-.5-1-.3-1.1 .2-1.2 .9-1.1 1.5-1.1 1.6-1.2 1.5-1.2 .9-.8 .2-.5-.2-.2 .1-.2 .4-.2 .6-.1 .6-.1 .6-.1 1-.1 1.5 0 1.6 .3 1 .6 .1 .7-.6 .7-.8 .8-.8 .8-.6 .9-.8 .9-1 .8-1.1 .7-.9 .8-.7 .9-.5 1.4-.2 1.6-.2 1.7-.3 1.5-.7 1.1-1 .8-1.2 .5-1.2 .7-1 .7-.9 .8-.8 .8-.6 .7-.6 .8-.5 .7-.4 .7-.4 .5-.4 .5-.3 .7-.3 .5-.2 .1 0-.4-.2-.8-.1-.8-.1-.7-.1-.7-.1-.5-.3-.3-.6-.3-.5-.1-.4-.2 0-.3 .4-.4 .5-.5 .1-.7-.2-1-.2-1.2 0-1.4 .5-1.5 1.1-1.8 1.2-1.7 1.3-1.3 1.4-1.2 1.6-1.1 1.3-1.3 .8-1.5 .2-1.3 .3-.5 .8 .3 1.4 .9 1.6 .9 .3 .3-1.3-.3-2.5-.5-2.8-.6-2.9-.4-3.1-.3-2.9-.2-1.8 0 .2 .2 1.9 .5 2.6 .5 2.7 .3 2.8 .3 2.4 .6 1.5 .8-.3 .9-1.9 .8-2.7 .7-2.8 .6-2.7 .5-2.7 .4-2.6 .3-1.9 0-.5-.2 .9-.4 1.6-.3 1.6 0 1.1 .2 .8 .2 .4 .1 .2-.1 .1-.4 0-.5 .1-.4 .2-.4 .5-.2 .9-.1 1.3 0 1 .1 .6 .2 .4 .2 .3 .1 .2 .2 .4 0 .6 .1 .5 0 .5-.2 .3-.1 .3 0 .3 .2 .3 .2 .2 0-.3-.3-.8-.5-1.2-.4-1.1-.3-.5-.2-.1-.1 .1 0-.4-.2-.8-.4-.8-.4-.6-.1-.4 .4 .1 .8 .3 1 .2 .7 .2 .6 0 .4 .1 .4 .1 .5-.1 .4-.7 .4-.9 .4-.8 .1-.3 0 .1 0 0 .1-.2 .4-.5 .7-.2 .7 .2 .5 .4 .2 .2 .3 0 .4 .1 .6 .1 .6 .2 .6 .1 .4-.2 .4-.4 .3-.5 .2-.6 .4-.6 .5-.4 .5-.2 .3 .2 .3 .3 .3 .3 .6 .3 .8 .1 .7-.1 .3 .2-.3 .2-.5 .2-.6 .4-.6 .3-.9 .2-.8 .5-.8 .3-.8 .2-1 0-1.1 0-1-.1-.7-.1-.2 0-.2 .2-.1 .4 0 .8 .3 .8 .2 .5 .3 .1 .2 .1 .3 .4 .7 .3 .8 0 .8-.6 .5-1 .2-1.1-.1-.9-.3-.5-.1-.3 .2 0 .5 .4 .5 .6 .3 .5-.1 .3-.6 0-.7-.3-.8-.3-.5-.1-.1-.1 .1-.2 0-.2 0-.1-.2 .1-.4 .3-.5 .4-.7 .3-.8 .2-1 0-.8 0-.6 0-.4-.1-.1-.2-.1-.2-.3-.4-.4-.5-.5-.1-.6 0-.7-.1-.7-.1-.7-.3-.3-.2 0 .1 .2 .7 .2 1 .1 .9-.1 .5-.1 .4 .1 .5 .1 .6 .2 .5 .1 .1 .2-.5 .6-.7 .8-.4 1.2-.1 1.2 .1 .9-.2 .8-.5 .3-.6 .1-.6 .1-.5 .1-.4 .3-.3 .5 .1 .7 .3 .7 .4 .9 .4 1 0 1-.2 1.1-.1 .9 .1 .7 .3 .7 .5 .5 .7 0 .6-.3 .3-.6 .2-.6-.3-.4-.8-.3-1.1-.7-1.1-1.1-.7-1.3-.3-1.3 0-1.4 0-1.1 .1-.8 .7-.4 1.1-.2 1.3-.2 1.2-.5 .8-.8 .4-1.1 .2-.9-.2-.9-.6-.8-.5-.8-.3-.6 0-.6 .1-.4 .2-.3 .2-.2 .5 0 .8 .4 1 1 .8 1.1 .2 1.3-.2 1.2-.5 1.1-.2 .9 0 .9 .2 .7 0 .6-.1 .6-.1 .6-.1 .7-.2 .6-.2 .3 0 .2 .3 .2 .6 .4 .7 .6 .7 .8 .6 .7 .4 .7 .2 .9 0 1 .1 .8 .4 .5 .6 .3 .5 .2 .4 .2 .1 .3-.2-.3-.3-.8-.6-1.2-.9-1.4-.9-1.4-.8-1.4-.5-1.3-.3-1.2-.2-.9-.5-.7-.4-.7-.2-1.1 .4-1.3 .6-1.5 .3-1.3 .1-1-.1-.5 .1 0 .1 .6 .1 1.5-.2 1.9-.3 1.8-.1 1.5 .1 1.5 0 1.6-.1 1.7-.5 1.7-.6 1.5-.5 1.4-.2 1.1 .4 1 .6 .7 .7 .5 .8 .8 .7 .8 .8 .7 .7 .6 .5 .5 .1 .7-.1 .7-.2 .4-.2 .1-.4-.2-.6-.4-.8-.5-.6-.7-.6-.6-.6-.3-.9-.1-1-.2-1.2-.6-1.1-.8-.6-.9 .1-.5 .7-.2 .9-.1 1.1-.1 1-.2 1.1-.5 1-.3 .8-.2 .5 .1 .3 .4 .5 .4 .7 .3 .8 .3 1 .2 1.1 .2 .7 .1 .2 .1-.2 .1-.3 .1-.3 0-.1 .2 .1 .1 .1 .1 .2-.3 .4-.3 .4-.4 .2-.2-.1-.1-.3-.1-.2-.3 .1-.4 .5-.1 .7-.1 .9 0 .9 0 .6-.3 .1-.5-.3-.5-.6-.4-.6-.2-.4 0-.3 .1-.3 0 .2-.2 0-.3-.3-.2-.6-.2-.7 0-.7 0-.5 0-.4-.1-.5-.1-.7 0-.6 .2-.5 .5-.1 .4 .2 .1 .5-.2 .4-.2 .1 0 0 .4 .2 .6 .6 .6 .9 .4 1.2 .4 1.3 .5 .9 .6 .6 .6 .4 .8 .1 .9 .1 1.1-.1 1.2 .1 1.2 .3 1.1 .4 1.1 .5 1 .2 .7-.1 .3 .1 0 .6-.2 .8-.3 .7-.5 .1-.6-.6-.8-.8-1-.9-1-.9-1-.9-.9-.5-.8-.2-.9 .1-1 .2-1-.2-1-.2-.7-.2-.4 .1-.2 .1 .1-.3-.1-.5-.4-.7-.6-.3-.7 0-.5 .2-.6 .1-.6 .1-.8 .1-.7 0-.7 .1-.5 0-.3-.2-.2-.1 0-.1 .1 0 .1 0-.1 .1 .1 .2 .3 .3 .4 .4 .4 .4 .1 .3-.1 .3-.3 .2-.4 0-.4-.5-.3-.9-.4-1.2-.4-1-.4-.8-.5-.6-.4-.8 .1-.7 .6-.5 .8 0 .7 .1 .4 .2 .4 .1 .4 0 .6 .1 .6-.1 .6-.1 .6-.1 .7 .1 .7 .1 .8 .1 .8-.1 .6-.6 .2-.9-.3-.8-.7-.5-1-.2-1.1 0-1.1 0-1-.2-.9-.2-1.1-.2-.9-.2-.7 0-.4 .1-.4 0-.4-.4-.4-.4 0-.4 .3 0 .4 .4 .5 .5 .7 .4 .6 .2 .5-.1 .2-.2 .1 .2 .1 .4 .4 .4 .5 .2 .5-.1 .7-.3 .9-.2 1 .3 1 .4 .5 .3 .2 .2-.1 .1-.1 .4-.2 .5-.2 .7-.2 .1-.3-.4-.5-.4-.4-.3-.6 0-.5 .2-.3 .2-.2-.3-.1-.7-.2-.9-.4-.6-.6-.2-.6 .2-.6-.1-.3-.5-.2-.6-.2-.5-.1-.2-.4-.1-.3-.2-.1-.2 .2-.3 .4-.3 .1-.2-.1 .3-.1 .8 .2 1.1 .4 1 .4 .7 .1 .5-.2 .5-.4 .8-.6 .8-.5 .6-.3 0-.2-.4-.1-.5-.2-.5 0-.4-.1-.4-.3-.3-.7-.4-.8-.1-.5 .3 .2 .5 .7 .6 .6 .5 .2 .4 .1 .2 0 .1 .3 0 .6 .1 .8 .3 .8 .5 .8 .5 .7 .4 .5 .4 .2 .4-.1 .6 0 .5 .2 .1 .4-.4 .3-.6 0-.8-.4-.7-.3-.3 0-.1 .6 .1 1.2 .3 1.2 .5 1 .5 .4 1 0 1.4-.1 1.3-.1 .7-.1 .1 0-.5-.1-.4-.2 .2-.4 .4-.3 .2-.1-.2 .2-.7 .4-.9 .4-1 .3-.6 .3-.1 .4 .3 .6 .7 .7 .6 .7 .5 .5 .4 .5 .1 .5-.1 .6-.3 .8-.3 .7-.2 .6-.2 .5-.6 .4-.8 .6-.9 .8-.4 .9 .1 1.1 .4 1.1 .3 1.1 .4 1.2 .4 1.2 .2 1.2 .1 .9 .2 .6 .3 .4 .6 .4 .8 .5 .7 .6 .5 .8 .1 .6-.1 .7-.4 .7-.2 .2 .1-.3 .4-.5 .6-.6 .4-.5 0-.4-.2-.5-.2-.5-.1-.6 .2-.7 .3-.7 .1-.8 .1-.8 .2-.7 .3-.4 .1-.3-.4-.3-.8-.4-.8-.2-.4 .3 0 .5 0 .5-.4 .3-.7 .2-.8 .2-.5 .3 0 .2 .5 0 .8 0 .9 .5 .8 .9 .8 .7 .4 .4 .2 .3-.1 .2 .2 .4 .4 .4 .8 .1 1-.2 1-.2 .8 .3 .6 .6 .1 1-.3 .9-.4 .9-.3 .7-.2 .5 0 .2 .2 0 0-.1" fill="none" stroke="#1b40a0" stroke-width="2.1" stroke-linejoin="round" stroke-linecap="round"/>
<rect x="465.3" y="1229.2" width="233.4" height="176.1" fill="none" stroke="#262424" stroke-width="1.85"/>
<path d="M582.0 1229.2v3.0M582.0 1405.3v-3.0M465.3 1317.2h3.0M698.7 1317.2h-3.0" stroke="#262424" stroke-width="1.3" fill="none"/>
<text transform="translate(453.4 1235.7) scale(1.045 1)" font-size="28" text-anchor="end">2.5</text>
<text transform="translate(453.4 1323.8) scale(1.045 1)" font-size="28" text-anchor="end">0</text>
<text transform="translate(453.4 1411.8) scale(1.045 1)" font-size="28" text-anchor="end">-2.5</text>
<text transform="translate(467.7 1441.4) scale(1.045 1)" font-size="28" text-anchor="middle">-2.5</text>
<text transform="translate(582.4 1441.4) scale(1.045 1)" font-size="28" text-anchor="middle">0</text>
<text transform="translate(695.6 1441.4) scale(1.045 1)" font-size="28" text-anchor="middle">2.5</text>
<text transform="translate(434.2 1198.1) scale(1.045 1)" font-size="28.7">(cm)</text>
<text transform="translate(708.2 1401.6) scale(1.045 1)" font-size="28.7">(cm)</text>
<path d="M859.9 277.6l.6 .5 .5 .8 .6-.6 .5-.2 .6-.2 .5 0 .6 .8 .5 .4 .6 .9 .6 0 .5 .6 .6 .4 .5 .3 .6 1 .5 .6 .6-.6 .6-1 .5-1.6 .6-.4 .5-1 .6-.4 .5-.8 .6-.3 .5-.5 .6-.1 .6-.3 .5-.2 .6-.6 .5-.3 .6-.4 .5-.2 .6-.1 .5 .4 .6 .5 .6 .5 .5 .1 .6 .1 .5-.2 .6 .1 .5-.6 .6 0 .6-.3 .5 .4 .6-.7 .5 .1 .6-.4 .5 .3 .6-.1 .5 0 .6-.1 .6 .2 .5 .7 .6 1 .5 1 .6 1.2 .5 .8 .6 .5 .5-.1 .6 .4 .6 .2 .5 .3 .6-.2 .5 0 .6 .2 .5 .6 .6-.3 .6-.8 .5-.9 .6-.6 .5-.7 .6-.9 .5-.1 .6-.2 .5 .5 .6-.2 .6-.1 .5-.7 .6-.3 .5-.8 .6-.5 .5-.7 .6-.5 .5 0 .6 .5 .6 .5 .5 .4 .6-.2 .5 .3 .6 .1 .5 .7 .6 .4 .6 .9 .5 .8 .6 .6 .5 0 .6 .1 .5 .2 .6 .5 .5 .5 .6 .9 .6-.8 .5-1.2 .6-.7 .5 0 .6 .3 .5 .3 .6 .6 .5 .5 .6 .6 .6 .9 .5 1.3 .6 1.2 .5 1 .6 .7 .5 .3 .6 .6 .6-.1 .5 .8 .6 .6 .5 .4 .6 .1 .5 .3 .6 1 .5 .8 .6-.7 .6-1 .5-1 .6-1.2 .5-1.7 .6-1.9 .5-2.3 .6-.6 .5-.5 .6-.5 .6-.1 .5 .6 .6 1.2 .5 1 .6 1.2 .5 .9 .6-.3 .5-.5 .6-.3 .6-.3 .5-.8 .6-1 .5-1.2 .6-1.2 .5-1.4 .6-.3 .6-1 .5 .3 .6-.2 .5 1 .6 .3 .5 .1 .6 .4 .5 .2 .6-.8 .6-.4 .5-1 .6 0 .5-.7 .6 .2 .5 .2 .6 .9 .5 0 .6-.1 .6-1.1 .5-.2 .6 .6 .5 .5 .6 .7 .5 .1 .6-.1 .6-.1 .5-.2 .6-.3 .5-.4 .6 0 .5-.3 .6 .2 .5-.3 .6-.4 .6-.6 .5-.8 .6-.5 .5-.6 .6-.3 .5 1.7 .6 2 .5 1.6 .6 1.4 .6 1.8 .5 1.5 .6 1.2 .5 .3 .6 .4 .5 .1 .6-1.2 .6-.9 .5-1.3 .6-1 .5 0 .6 0 .5-.5 .6-.1 .5 .1 .6 .8 .6 .6 .5 .6 .6 .1 .5 .1 .6 .1 .5 .2 .6 .6 .5 .4 .6 .2 .6 .5 .5 .1 .6 .1 .5 .2 .6 .8 .5 1.1 .6 .7 .6 .4 .5 0 .6 .1 .5-.3 .6-.6 .5-1.5 .6-.4 .5-.5 .6-.4 .6-1.1 .5-.9 .6-.6 .5-.5 .6-.5 .5-.3 .6 .1 .5 0 .6 .1 .6 .8 .5 .4 .6 .1 .5-.4 .6-.2 .5-.5 .6-.9 .6-.8 .5-.9 .6-1 .5-.4 .6 .3 .5 1.4 .6 1.3 .5 1.6 .6 .7" fill="none" stroke="#0e0b0b" stroke-width="1.9" stroke-linejoin="round" stroke-linecap="round"/>
<rect x="859.9" y="242" width="144" height="73.6" fill="none" stroke="#0e0b0b" stroke-width="1.85"/>
<path d="M917.5 242.0v2.3M917.5 315.6v-2.3M975.1 242.0v2.3M975.1 315.6v-2.3M859.9 278.8h2.3M1003.9 278.8h-2.3M1003.9 303.4h-2.3M1003.9 254.2h-2.3" stroke="#0e0b0b" stroke-width="1.3" fill="none"/>
<text transform="translate(850.4 248.2) scale(1.045 1)" font-size="24.3" text-anchor="end">2.5</text>
<text transform="translate(850.4 285) scale(1.045 1)" font-size="24.3" text-anchor="end">0</text>
<text transform="translate(850.4 321.8) scale(1.045 1)" font-size="24.3" text-anchor="end">-2.5</text>
<text transform="translate(858.4 341.9) scale(1.045 1)" font-size="24.3" text-anchor="middle">0</text>
<text transform="translate(917.3 341.9) scale(1.045 1)" font-size="24.3" text-anchor="middle">20</text>
<text transform="translate(973.1 341.9) scale(1.045 1)" font-size="24.3" text-anchor="middle">40</text>
<text transform="translate(998.1 341.4) scale(1.045 1)" font-size="24.3">(s)</text>
<text transform="translate(824.1 219.8) scale(1.045 1)" font-size="24.900000000000002">(cm)</text>
<text transform="translate(931.9 229.4) scale(1.045 1)" font-size="28" text-anchor="middle">AP</text>
<path d="M859.9 429.8l.6 .1 .5 1.3 .6 .5 .5 .4 .6 .1 .5-.2 .6-.8 .5-.6 .6-.2 .6 .2 .5-.4 .6-.4 .5 .1 .6 .8 .5 .6 .6 .4 .6 0 .5-.4 .6-.3 .5-.8 .6 0 .5 0 .6-.4 .5-.3 .6-.3 .6 .6 .5 .5 .6 .9 .5 .4 .6 .1 .5-.2 .6 0 .5 .1 .6 .3 .6-.3 .5-.7 .6-.9 .5-.1 .6-.5 .5-.7 .6-.5 .6 .2 .5 .8 .6 .3 .5 .2 .6 .2 .5-.1 .6 .6 .5 .1 .6 .7 .6 .3 .5 .4 .6-.2 .5 .1 .6-.1 .5 0 .6-.5 .5-.5 .6-.1 .6-.3 .5 .2 .6-.2 .5 .2 .6-.2 .5 .2 .6 .4 .6 1 .5 0 .6 .1 .5 0 .6 .5 .5 .3 .6 .3 .5-.5 .6 0 .6-.7 .5-.3 .6-.9 .5 .8 .6 .2 .5 .6 .6 .1 .5 .1 .6-.1 .6-.5 .5-.2 .6 .2 .5 .2 .6-.2 .5-.3 .6 .3 .6 .2 .5 .2 .6-.7 .5-.3 .6-.4 .5 .4 .6-.2 .5 .2 .6-.2 .6 .2 .5-.2 .6-.2 .5-.2 .6-.3 .5 0 .6-.1 .5 .1 .6 .2 .6 .2 .5-.1 .6-.8 .5-.6 .6-.4 .5 .4 .6 .5 .6-.1 .5-.3 .6-.5 .5 0 .6 0 .5 .2 .6 .6 .5 .5 .6 .6 .6-.1 .5-.6 .6-.7 .5-.5 .6 .3 .5-.1 .6-.5 .5-.2 .6 .4 .6 .8 .5 .1 .6 .2 .5-.2 .6-.1 .5 0 .6 .2 .5 0 .6-.1 .6-.3 .5 .3 .6-.3 .5-.2 .6-.2 .5-.3 .6-.2 .6-.7 .5 .2 .6 .1 .5 1 .6 .4 .5 1.1 .6 .1 .5 .2 .6 .1 .6-.2 .5-.3 .6-.4 .5-.5 .6-.3 .5 0 .6 .5 .5 .1 .6 .5 .6-.3 .5 0 .6-.5 .5 .3 .6 .2 .5-.1 .6 0 .6 0 .5 .5 .6 .2 .5 .1 .6 0 .5-.4 .6 .2 .5-.1 .6 .8 .6 .1 .5 .5 .6 .1 .5 .8 .6 .2 .5 .5 .6-.5 .5-.7 .6-1.3 .6-.8 .5-.2 .6-.2 .5-.2 .6-.1 .5 .2 .6 .1 .6 .7 .5 .4 .6 .5 .5 0 .6 .7 .5 .3 .6 .2 .5 .1 .6-.1 .6 .5 .5-.1 .6-.3 .5-.7 .6-.8 .5-.3 .6-.3 .5-.1 .6-.4 .6-.1 .5-.2 .6 .2 .5 .2 .6 .3 .5-.1 .6-.2 .6-.5 .5-.7 .6-.8 .5-.9 .6-.7 .5-.2 .6 .2 .5 0 .6 0 .6 0 .5 .2 .6 .2 .5 .2 .6 0 .5 .3 .6 .6 .5 .2 .6 .2 .6-.6 .5 .3 .6-.1 .5 .5 .6 0 .5 0 .6-.5 .6-.3 .5 .4 .6 .2 .5 .8 .6 .2 .5 .5 .6 .3 .5 .9 .6 .1" fill="none" stroke="#0e0b0b" stroke-width="1.9" stroke-linejoin="round" stroke-linecap="round"/>
<rect x="859.9" y="393.9" width="144" height="73.6" fill="none" stroke="#0e0b0b" stroke-width="1.85"/>
<path d="M917.5 393.9v2.3M917.5 467.5v-2.3M975.1 393.9v2.3M975.1 467.5v-2.3M859.9 430.7h2.3M1003.9 430.7h-2.3M1003.9 455.3h-2.3M1003.9 406.1h-2.3" stroke="#0e0b0b" stroke-width="1.3" fill="none"/>
<text transform="translate(846.3 397.9) scale(1.045 1)" font-size="24.3" text-anchor="end">2.5</text>
<text transform="translate(846.3 434.7) scale(1.045 1)" font-size="24.3" text-anchor="end">0</text>
<text transform="translate(846.3 471.5) scale(1.045 1)" font-size="24.3" text-anchor="end">-2.5</text>
<text transform="translate(858.4 494.7) scale(1.045 1)" font-size="24.3" text-anchor="middle">0</text>
<text transform="translate(917.3 494.7) scale(1.045 1)" font-size="24.3" text-anchor="middle">20</text>
<text transform="translate(973.1 494.7) scale(1.045 1)" font-size="24.3" text-anchor="middle">40</text>
<text transform="translate(998.1 494.2) scale(1.045 1)" font-size="24.3">(s)</text>
<text transform="translate(821.9 366.7) scale(1.045 1)" font-size="24.900000000000002">(cm)</text>
<text transform="translate(931.9 380) scale(1.045 1)" font-size="28" text-anchor="middle">ML</text>
<path d="M1201.3 356.4l.5-.2-.3-.1-1.1 .1-1.1 .5-.6 .6 .1 .9 .5 1 .2 .9-.3 .8-.7 .6-.7 .5-.7 .4-.8 .3-.6 .3-.2 .3 .1 .4 .4 .7 .6 .8 .2 .5 .2-.1 .6-.7 1-.9 .9-.8 .6-.8 0-.8-.5-.6-.6-.5-.2-.1 0 .5-.2 .2-.5 0-.5 .2 0 .6 .5 .7 .7 .8 .5 1 .3 .9 .3 .9 .2 .7-.3 0-.5-.4-.6-.4-.4-.3-.4-.2-.2-.1-.2-.1 0 .3 .2 .9-.2 1.5-.8 1.6-.9 1.2-.7 .8-.5 .3-.5-.2-.6-.7-.8-1-.5-1.2 0-1.1 .4-.9 .5-1.1 .6-1.2 .5-1 .3-.6 0-.5-.2-.5-.3-.6-.3-.7-.4-.4-.6 .3-.6 .9 0 1.3 .9 1.2 1.6 .8 1.8 .1 1.8-.3 1.2-.5 .5-.7-.2-.9-.2-1.2-.3-1.3-.5-1.3-.8-1.2-1.1-.8-1.3-.4-1-.1-.3 .2 0 .2 .2-.3 0-.8 0-.8-.2-.6-.2-.4-.2-.2-.2-.5-.1-.9 .4-.9 .6-.5 .2-.2-.4 .2-1.1 .2-1.5 0-.8 .1 .4 .3 1 .1 .8-.2 .5-.4 .1-.4-.3-.2-.7 .3-.8 .8-.5 .9-.2 .6 .7 0 1.2-.5 .8-.5 .1-.4-.5-.3-.8-.3-.6-.2-.2 0 0 .1 .2 .3 .3 0 .3-.3 .3-.4-.2 .6 0 1.1 .5 .9 .6 .1 .5-.6 .4-.9 .4-.3 .7 .2 1.1 .5 1.2 .3 .9-.2 .6-.2 .7-.1 .8 0 .4 .3-.2-.1-.8-.3-1.2-.4-1.4-.2-1.5 .2-1.4 .4-.8 .5 .3 .5 1 .2 1.2-.3 .9-.5 .7-.7 .4-.5 .5-.4 0-.3-.6-.5-.8-.5-.6-.3-.6-.3-.8 0-.9 .1-.4 .1 .4 0 .8 .2 .6 .4 .1 .8-.5 .9-.6 .8-.6 .7-.7 .9-.7 .9-.5 .8-.4 .6-.5 .2-.4 .2-.1 .6 .4 .6 1 .4 1.3-.2 1.2-.6 1.1-.5 .4-.4-.1-.1 0-.2 .2-.1 .6-.2 .9 .2 1.1 1.1 .8 1.4 .9 1.2 .9 .7 .7 .2 .4 0 .2 .3-.1 .3-.3 .2-.5 .3-.6 .3-.3 .2 .3-.1 1-.3 1.2 .2 .7 .9-.4 1.2-1 .9-.9 .5-.6 .2-.4 .4-.2 .4-.1 0-.3-.3-.2-.1-.1 .4-.2 .6 .1 .5 .1 .4-.3 0-1 .1-1.2 .1-1 0-.4 .2 .5 .3 .4 .3-.4-.1-1.2-.7-1.5-1-1.1-1.3-.4-1.2 0-1.1-.1-1.1-.3-1-.3-.7-.3-.2-.3 .4-.4 1-.4 1.3 .1 1 .7 .5 .9-.3 .5-.6 0-.7-.6-1-1.2-1.2-1.6-1.3-1.2-1.1-.5-.7 .3-.3 .5-.1 .1-.2-.5-.3-.5-.4-.1-.6 .7-.5 1.1-.2 1.3 .2 1.3 .7 1.1 .5 .7 .1 .5-.5 .3-.9-.1-.9-.3-.9-.2-.6-.1-.1-.2 .3-.1 .6 .1 .6 .3 .5 .6 0 .5-.5 .2-.9 .2-1.3 .2-1.2 0-1-.3-.8-.5-.6-.7-.6-.7-.7-.8-.8-1-.8-.7-.9 0-.6 .2-.3 0 .2-.5 .3-1 .3-1.2 .4-.9 .5-.5 .6 .4 .5 1.4 .4 1.8 .1 1.3 0 .6 .2 .3 .1 .5 0 .4-.1 .1-.1-.4 .1-1 .5-1.4 .7-1.1 .5-.7 .2-.3-.1 .1-.2 .5 .1 .6 .6 .8 .8 .7 .9 .5 .9-.1 .6-.6 .4-.7 .3-.5 .3-.1 .2 .4 .1 .6 0 .5 .1 .3 .3-.3 .2-.7-.1-.5-.1 .1 .1 .9 .5 1.7 .5 1.7 .7 .9 .7-.3 .8-.8 .8-.6 .7-.1 .4 .1 .3 .2 .4 0 .3-.2 .3-.2 .5 .1 .9 .3 .9 .3 .7 .2 .5 .2 .5 .5 .5 1.3 .4 1.6 .5 1.1 0 .2-.4-.6-.9-1-1.4-.7-1.5-.4-1.3-.5-.9-.4-1.1-.6-1.2-.8-1.2-.7-.8-.4 0 0 1.1 .7 1.7 1.2 1.5 1.4 .9 1.4 .5 1.1-.1 .9-.1 .9 .3 .8 .4 .6 .3 .4 .1 0-.1 .1-.3 .4-.1 .4 0 .1 .1-.7 .1-1.4 .3-.6 .7 .5 1.4 1 1.7 .3 1.4-.9 .5-1.9-.4-1.8-.8-.8-.5-.2 .2-.3 .8-.3 1-.2 1 .2 1 1.1 .9 2.2 1 2.3 .9 1.6 .7 .4 .7-.6 .8-.9 1-.5 1.1 0 1-.4 .8-.9 .4-1.3 .2-1.1 .1-.4 0 .3 0 1.1-.2 1.5-.3 1.7-.2 1.3 .3 .7 .7 .3 1.1 0 1.4-.3 1-.9 .4-1.3 0-1.3-.3-.9-.2-.5-.1-.4-.1-.2 0 .4 .3 1 .4 1.2 .2 .8 .1 0 .2-.8 .5-1.2 .8-1 .8-.6 .9 .1 .9 .5 .6 .4 0 .1-.6-.1-1-.7-.8-.6-.8-.1-.7 .4-.7 .8-.8 1.2-1 .7-1.4 0-1.1 0-.7 .1-.3-.3-.6-.2-.9-.2-1.1-.3-1.1-.5-1.5-.5-1.9-.6-2.3-.6-2.2-.5-1.6-.5-1.2-.3-1 .3-1 1-.6 1.2-.3 .6 .1-.4 .1-.5 0 .3-.2 1.3-.3 1.5-.2 1 0-.2 .1-.8 .3-1.1 .2-.9 0-.7-.2-.7-.2-.8 .1-.7 .6-.6 .5-.5 .3-.7 .1-.4 .2 0 .7 .4 1.3 .7 1.4 .5 .9 0 .5-.2 .7-.1 1 .2 1.1 .5 .9 .8 .6 .7 .5 .6 .3 .7-.1 .7-.7 .5-.6-.1-.3-.4 .1-.3 .3 0-.2 0-.5-.2-.8-.5-.5-.4-.2 0-.2 .7-.4 1-.7 .9-.7 .7-.3 .5 0 .6-.3 .6-.9 .2-1.5-.1-1.7-.2-1.4 0-.8 .2-.3 .1-.1-.1-.3 0-.5-.3-.5-1-.6-1.6-.7-1.5-.8-.7-.6 .2-.4 .6 0 .2 .5 .2 .7 .4 .7 .6 .3 .7-.3 .5-.7 .2-.9 0-.8 0-.4-.3-.1-.3 .2-.2 .5 0 .6 0 .5-.1 .3-.7-.2-1.2-.4-1.3-.6-.7-.4 .1-.3 .4 .2 .3 .3-.2 .1-.4-.3-.5-.5-.1-.6 .1-.5 .1 0 0 .3 .2 .4 .2 .6 0 .5-.2 .2-.4-.2-.2-.7 .1-.7 .3-.6 .7-.6 .7-.5 .6-.4 .5-.2 .3-.2 0-.3 0-.4 .1-.3-.4 .3-.7 .6-1.1 .3-1.1-.5-.3-.8 .7-.5 1.3 .2 1.3 .3 .7-.2-.2-.7-.6-.8-.6-.4-.3 .2-.3 1.1-.5 1.4-.6 1.1-.7 .6-.1-.2 .7-.6 .9-.3 .4 .2-.5 .5-1.2 .4-1.3 .3-1.2 .2-.7 .1-.2 .3 .2 .1 .6 .1 .6 .3 .3 .5 .6 .7 .9 .8 1.1 .7 .9 .6 .4 .3-.3 .2-.9 .4-1.1 .4-.9-.1-.8-.9-.4-1.5 .1-1.4 .4-.9 .6-.4 .9-.3 .9-.6 .8-.7 .5-.7 .1-.4-.3 0-1 .3-1 .6-.8 .3-.4 0 .3-.2 .9-.2 .9 0 .4 .1-.1 0-.4-.1-.7 .2-.3 .7-.3 .8-.5 .4-.5-.3-.3-.9 0-1.4 .2-1.5 .4-1.4 .2-1.1 0-.5-.3-.1-.7 .2-.5 .4-.2 .1 .1-.4 .2-.9 0-1.1-.1-.7 0-.2 0 .2-.1 .4-.2 .1-.4-.2-.7 0-.5 .1-.6 .3-.7 .9-.5 1.6-.5 2-.2 2.2 .5 1.7 1 1.4 1.4 1 1.7 .8 1.6 .4 1.4 .1 1.2 .1 .8 .2 .5 .7 .4 1.4 .7 2.1 .6 1.8 .1 1.2-.6 .6-1.4 .4-1.9 1-1.9 1.5-1.3 1.2-.3 .4 .4-.1 .7-.5 .4-.3-.2 0-.7 .2-.6 .2-.5 .5-.1 .8 .5 .7 .9 .7 .8 .8 .5 .4 .1 0-.4-.5-.6-1-.6-1.2-.6-.9-.5-.5-.2-.3-.2-.7-.4-1.3-.3-1.6 0-1.8 .4-2.1 .7-2 .6-1.2-.3-.1-1 .7-1.1 .8-1.2 .3-1 0-1 0-1.1 .2-.6 .3 .1 .1 .6 .2 .6 .1 .3 0 .1 .1 .5 .1 1.2 .2 1.8-.2 1.5-.3 .2 0-1.2 .5-2.2 .9-1.4 .7 0 .6 1.1 .5 1.2 .8 1.1 .9 1 1 .9 .6 1.1 0 .7-.4 .1-.6-.3-.5-.6-.2-.8 .2-.6 .2 .1-.2 .9-.4 1-.4 1-.4 .9-.1 .5 .3 .1 .5-.6 .5-1 .3-.8 .1-.3 0 0 .3 .2 .3 .2 .3 .1 .5 .3 1 .2 1.3 .2 1.3 .5 .9 .8 .2 .9 0 .9 .2 .8 .8 .1 1 0 1.1-.1 .9 .1 .6 .2 .1 .5-.3 .5-.8 .1-1.1-.1-.9-.4-.4-.3 .4-.1 .6 .3 .2 .6-.1 .5 0 .1 .5-.2 .7-.2 .6-.3 .1-.1-.3-.3-.2-.1 .1 .2 .3 .2 .2 .1 0 .1 0 .4 .1 .7 .3 .3 .5-.2 .4-.2 .5 .1 .6 .6 .6 .8 .3 .4 .3 .1 .1 0-.2-.1-.6-.3-1-.6-1.2-.9-1.2-1.1-.9-.9-.6-1-.5-1.1-.4-.9-.6-.5-.8-.1-1.1 .5-.8 .9-.4 .6-.2 .2-.5-.1-.6 0-.7 .5-.7 .7-.2 .5 .3 0 .7-.4 .7-1 .3-1.1-.5-.7-1-.1-.8 .5-.4 .9-.1 .6-.3 .1-.6-.4-1-.7-1.2-.7-1.2-.2-1.1 .5-.7 .8-.2 .5 0-.1 0-.5-.1-.2-.2 .3-.2 1 .1 1.1 .4 .4 .6-.6 .7-1.3 .6-1.2 .2-.7-.3 .1-.7 .7-.8 .8-.4 .4 .4 .1 .8 .1 .8-.2 .2-.2-.1-.3-.3-.5-.2-.6-.4-.4-.9-.1-1 .2-1.1 .8-.8 1.4-.6 1.5-.6 1.6-.9 1.5-.8 .8-.7 .1-.4-.2 0-.4 .3-.7 .3-.7 .5-.7 .6-.3 .5 0 .5-.1 .5-.1 .5-.3 .3-.5 0-.6-.6-.9-1.1-.7-1.2-.2-1.2 .2-.8 .4 .1-.1 1-.6 1.3-.5 1.2 0 .8 .1 .6-.1 .9-.4 1.3-.1 1.6 0 1.5-.2 1.2-.7 .6-1.4 .1-1.5-.3-.9-.4 0-.3" fill="none" stroke="#1b40a0" stroke-width="2.1" stroke-linejoin="round" stroke-linecap="round"/>
<path d="M1199.4 356.3l-.2-.1-.2-.4-.1-.4-.1-.2 0 .2-.2 .7-.4 .8-.7 .9-.8 .7-.7 .4-.6 .2-.7 .4-.6 .5-.3 .5-.1 .5 .2 .3 .4 .2 .3 .1 .3 .2 .4 .2 .4 .4 .4 .5 .3 .7 0 .5-.4 .3-.4 .2-.4 .3-.4 .4-.3 .4-.2 .1 0-.2 .2-.1 .2-.4 .4-.2 .8 .2 1.1 .7 1.2 .8 .8 .8 .2 .5-.2 .3-.4 .2-.2 .1-.2-.2-.1-.1 0 .1-.1 .4-.2 .4-.1 .3-.1 .1 0 .1-.1 0-.2-.1-.2-.2-.4 0-.5 0-.9-.1-1.1-.3-1-.6-.4-.9 .2-1.1 .5-.7 .7-.4 .7-.2 .6-.3 .5-.7 .2-.9-.1-.9-.2-.9-.3-.9-.1-.9 0-.5 0-.4 0-.3 0-.3 0-.4 .1-.5 .1-.1 .3 0 .4-.2 .5-.2 .4-.3 .4-.4 .4-.4 .5-.3 .3-.3-.1-.6-.3-.5-.4-.2-.4-.1-.2 .2 .2 .2-.4-.1-.6-.2-.9-.2-.6-.4 .2-.5 .7-.7 .6-.6 0-.3-.6-.1-.7-.1-.4-.4 0-.3 .4-.1 .4 .2 .1 .5-.5 .4-.8 .1-1 0-.8 .1-.3 .1-.1-.1-.2 0-.2 .1-.5 .3-.4 .4-.1 .2 .1 .1 0 .1-.1 .2 0 .4 .1 .3 .1 .1 .1-.2 .2-.1 .8 0 1.2 .4 1.3 .4 1.1 .3 .9 .2 .7 0 .4 .3 .5 .4 .6 .2 .8-.2 .7-.6 .5-.7-.2-.6-.5-.2-.6-.2-.3-.2-.2-.3 0-.3 0-.1-.1 0-.1 .1 0 .1 .1 0-.1-.1-.2-.3-.3-.3 .1-.4 .5-.5 .6-.3 .5-.2 0-.1-.2-.3-.3-.6-.4-.8-.5-.6-.5-.3-.4 .1 .1 .5 .4 .5 .5 .3 .3 .5-.1 .5-.1 .6-.3 .6-.3 .3-.6 .2-.7 .1-.8 .2-.6 .3-.5 .4-.4 .5-.3 .5-.5 .5-.4 .5-.1 .3 0 .5 .1 .6 .1 .7 .1 .6 .1 .5 .3 .6 .7 .6 1.1 .6 1.2 .3 1.1 .3 .8 .3 .5 .5 .1 .5-.1 .3-.3 0-.2-.2-.4 .1-.5 .4-.6 .6-.5 .5-.1 .3 .1 .1 .1 .2 .1 .3 .4 .5 .5 .4 .6 .4 .4 .3 .3 .4-.1 .3-.2 .2-.4 0-.3 0-.3-.1-.2 .1-.4 .1-.5 .3-.2 .3 0 .3 .1 .2 0 .3-.1 .4-.3 .5-.5 .4-.6 0-.5-.4-.4-.6 0-.6 .2-.5-.1-.6-.3-.8-.4-.8-.5-.6-.3-.3-.3-.3-.3-.4-.2-.7-.2-.7-.2-.6-.3-.4-.4-.6-.4-.9-.5-1.1-.4-1-.1-.9-.1-.6-.3-.3-.6-.2-.6-.3-.4-.1 0 .3 .2 .6 .3 .7 .5 .5 .6 0 .5-.3 .2-.3-.1-.3 0-.6 .4-.8 .7-1 .8-1.1 .8-.9 .7-.6 1-.3 1.2-.1 1.1 .1 .8 .2 .2 .1 0 .1 .1 .1-.2 .2-.7 0-1-.1-1.2-.1-1.2-.3-1.1-.2-.9-.5-.6-.7-.5-1-.5-1-.6-.6-.6-.3-.3-.1 .1 0 .1 0 0 .1 0 .4 0 .5-.1 .5-.2 .6-.2 .6-.1 .6 .5 .3 .8 .1 1-.1 1-.1 .9 .1 .7 .4 .6 .4 .6 .3 .4-.1 .1-.2-.3-.3-.6 .1-.6 .3-.3 .2-.1 .2 0 .1-.2 0 0 .1 .1 .2 .4 .2 .5 0 .4-.1-.1 .3-.4 .4-.5 .6-.1 .6 .6 .4 .9 .4 .8 .6 .3 .8 0 .8-.1 .6 .4 .5 .5 .4 .4 .6 .2 .7 .5 .6 .9 .6 1.1 .6 .7 .5 .1 .6-.2 .7-.2 .7-.1 .7 0 .4-.1 0-.1-.1 .1 0 .2 .1 .1 .1 .1-.2 0-.5 0-.7 .2-1 .2-1.2 .3-1.2 .4-1 .6-.7 .1-.7-.3-.6-.6-.3-.4-.1-.2 .2 0 .3-.4 .3-.9 .3-.9 .3-.6 .4 0 .5 .3 .6 .2 .8 0 .9-.2 .9-.1 .8-.1 .8 .2 .6 .7 .4 .9 .3 .6 .3 .4 .3 0 .4 0 .3 .3 .1 .5 0 .4-.1 .1-.1 0 .2 0 .5 0 .8-.1 .9-.4 .9-.5 .8-.2 .5 0 .2 .1 .2 .1 .2 .1 .6 .1 .9 .3 1.1 .4 1 .5 1.1 .8 .8 .8 .6 .4 .1-.1-.2-.3-.1-.3 .2-.3 .4-.3 .5-.6 .5-.8 .4-.6 .3-.5 .3-.3 .2-.2 .1-.4 .1-.4 .2 0 .2 .5 .3 .9 .1 .7 0 .4-.1-.1 0 .1 .3 .2 .7 .1 .9-.3 .9-.6 .7-.5 .7 .2 .5 .5 .5 .6 .6 .3 .5-.2 .3-.3 0-.1-.2 0-.4 .3-.9 .4-1.2 .4-1.5 .2-1.6 0-1.4-.2-1.4-.4-1.5-.7-1.4-1-1.3-.9-1-.5-.8-.1-.9 .1-1.1 .2-1.4-.1-1.5-.1-1.3-.3-1.2-.2-1.1 .1-1 .3-.9 .7-.7 .8-.4 .6-.1 .3 .1 .2 .3 .1 .3 .2 0 0-.4 0-.6 0-.7-.5-.6-1-.4-1.1-.3-1-.2-.3-.1 .4 .3 .8 .4 1 .6 .9 .8 .5 .8 0 .8-.3 .8-.5 .9-.3 1-.2 1 0 1.1 .1 1.1 .1 1.1 .2 1.1 .2 .9 .1 .7-.2 .3-.2-.1-.2-.2 0-.1 0-.1-.3 0-.2-.1 0-.2 .3-.2 .5-.1 .2-.2-.3-.3-.6-.2-.6-.2-.6-.3-.4-.3-.4-.6-.5-.7-.4-.9 0-.9 .4-.8 .7-.6 1-.8 1.1-1.1 .9-1.4 .5-1.6 0-1.5-.1-1.3-.1-1.1 .4-.9 .6-.7 .6-.4 .5-.1 .4 .2-.3-.3-.7-.4-.9-.4-1-.1-.7 .1-.5-.1-.3-.3 0-.4 .1-.4 .1-.1-.2 .2-.2 .5 0 .6 .4 .7 .6 .7 .5 .5 .1 .3-.4 .3-.5 .4-.3 .6-.1 .5 .2 .3 .4 .2 .2 .2 .1 .5 0 .5 0 .4 0 .1-.1-.3-.3-.7-.7-.9-.7-.9-.7-.8-.5-.6-.3-.7-.2-.6-.2-.4 0-.1 .1 .1 .2-.2 .4-.5 .6-.8 .5-.8 .2-.6-.1-.3-.3-.2-.4 0-.3 .1-.2 .1-.3-.1-.1-.3 .1-.5 .4-.4 .5-.1 .7 .1 .6 .2 .6 .1 .6 .1 .4 .5 .3 .9 .3 1.1 .6 .8 .7 .2 .6-.1-.1-.1-.8 .1-1.1 .4-1 .3-.7 .1-.5 0-.7 0-.9 .1-.5 .3 .1 .3 .5 .2 .5 .1 .2 .2 .3 0 .2-.1 .1-.2-.1-.2-.2-.1-.2 .2-.1 .2 0 .2 .1 .1 .3-.1 .5-.4 .6-.5 .5-.5 .3-.5 .1-.7-.4-.9-.4-1.3-.4-1.1-.3-.7-.4-.1-.5 .3-.5 .4-.1 .5 .1 .4 0 .4-.4 .3-.6 .1-.6-.1-.2-.2 .3-.2 .6 .1 .9 .2 1 .3 .6 .2 .3 .1 .1 0-.1-.2-.2-.5-.4-.8-.5-.9-.7-.7-.7-.4-.7-.1-1 0-1.2-.1-1.3-.1-.9-.3-.4-.3 0-.2 .3 0 .5 0 .4-.1 .5-.3 .4-.5 .4-.7 0-.6-.4-.4-.7 .2-.7 .7-.5 1.1-.2 .9-.1 .6-.1 .5 0 .6 .1 1 .2 1.4 .3 1.5 .2 1.6 .2 1.2 .4 1 .7 .9 .9 1.1 .9 1.3 .6 1.4 .3 1.3 .4 1.3 .6 .9 .8 .9 .8 .8 .6 .8 .6 .8 .5 .7 .3 .5 .2 .3 .1 .1 .4 0 .5 0 .1-.1-.5-.2-.8 0-.9-.2-.9-.4-.4-.7-.2-.8-.3-.4-.6-.2-.8-.1-.7-.3-.7-.6-.5-.7-.3-.6-.2-.5-.2-.5-.3-.4-.3-.6-.4-.9-.2-.9-.1-.6 .1-.2-.2 .1-.3 .3-.5 .3-.5 .2-.4-.1-.4-.1-.5-.2-.5-.2-.3-.3 0-.3 .2-.2 .4-.1 .5 .3 .5 .7 .5 .6 .6 .3 .4 0 .3-.1 .3-.1 .5 .1 .7 .1 .6 0 .5 .1 .3 .3 .1 .4-.1 .7-.3 .7-.5 .4-.7 0-.8-.4-.7-.4-.1-.1 .3 .4 .5 .6 .7 .5 .6 .3 .6 .3 .9 .3 .8 .4 .5 .4-.1 .4-.6 .2-.6 .1-.2 0 .1-.1 .2 .1 .3 .3 .7 .1 1-.1 .9 0 .7 .3 .5 .5 .1 .6-.2 .5-.6 .4-1 .3-.9 .4-.6 .6-.3 .8 0 .8 .2 .7 .1 .5 .3 .3 .4 .1 .5 0 .4 .1 .1 .3 .1 .3 .2 .1 .4-.1 .4 0 .3 .2 .1 .6 .1 .7 0 .6-.1 .5-.2 .6-.3 .5-.1 .3 .3 .1 .8-.1 1.1-.1 .9-.1 .6-.2 .2-.4 0-.4 .2-.3 .2-.1 .2-.3 .1-.4-.1-.9 .1-1.2 .3-1.2 .3-1.1 .1-.7-.1-.3-.4 0-.5-.1-.5-.3-.1-.3 .3-.2 .7-.2 .8-.2 .4-.3-.1-.3-.2-.3-.1-.4-.1-.5 0-.6 0-.6 .2-.5 .4-.6 .1-.5-.3-.4-.2-.5 0-.6 .3-.5 .3-.5 0-.4-.6-.2-.7-.2-.5-.2-.3-.4-.1-.4 0-.3-.1 .1-.1 0 .3 0 .4 .2 .3 .2 .2 0-.2-.1-.4-.1-.2 .3 0 .5 .1 .4-.2-.3-.1-.4 0-.2 .2 .1 .1 .3-.4 .3-.6 .2-.4-.1 0-.6 0-.8 .2-1 .3-.6 .7 0 .8 .4 .9 .3 .7-.1 .2-.6 .1-.7-.1-.8-.4-.7-.4-.7-.1-.6 0-.6 .2-.6-.1-.4-.4-.2-.5-.3-.5-.3-.1-.2 0-.2 .1 0-.1 0-.3 0-.7 .2-1 .3-1.2 .2-1.2 .3-1 .3-.8 .6-.4 .8 0 .9 .2 1 0 1.2 0 1.2-.2 1.1-.1 1-.1 1-.3 .9-.4 .7-.1 .5 .4 0 .3-.2" fill="none" stroke="#1b40a0" stroke-width="2.1" stroke-linejoin="round" stroke-linecap="round"/>
<rect x="1080.4" y="273.1" width="233.4" height="176.1" fill="none" stroke="#262424" stroke-width="1.85"/>
<path d="M1197.1 273.1v3.0M1197.1 449.2v-3.0M1080.4 361.2h3.0M1313.8 361.2h-3.0" stroke="#262424" stroke-width="1.3" fill="none"/>
<text transform="translate(1070.6 279) scale(1.045 1)" font-size="28" text-anchor="end">2.5</text>
<text transform="translate(1070.6 367.1) scale(1.045 1)" font-size="28" text-anchor="end">0</text>
<text transform="translate(1070.6 455.1) scale(1.045 1)" font-size="28" text-anchor="end">-2.5</text>
<text transform="translate(1080.5 484.2) scale(1.045 1)" font-size="28" text-anchor="middle">-2.5</text>
<text transform="translate(1195.2 484.2) scale(1.045 1)" font-size="28" text-anchor="middle">0</text>
<text transform="translate(1308.4 484.2) scale(1.045 1)" font-size="28" text-anchor="middle">2.5</text>
<text transform="translate(1046.8 240.6) scale(1.045 1)" font-size="28.7">(cm)</text>
<text transform="translate(1321.3 444.2) scale(1.045 1)" font-size="28.7">(cm)</text>
<path d="M859.9 604l.6 1.1 .5 .8 .6 .9 .5-1.1 .6-1.4 .5-1.1 .6-1 .5-.7 .6-.8 .6-.4 .5-.8 .6 0 .5 1 .6 1.4 .5 1.2 .6 1.2 .6-.2 .5-.7 .6-1.3 .5-1.5 .6-.5 .5 .7 .6 .4 .5 .5 .6 .5 .6 .7 .5-.1 .6 0 .5 .3 .6 .2 .5 .3 .6 .2 .5 1.2 .6 1 .6 1.7 .5-.1 .6-.7 .5-.6 .6-.7 .5-1.1 .6-1.3 .6-1.4 .5-1 .6-.8 .5 1 .6 .9 .5 1.5 .6 1.5 .5 1.3 .6 1.4 .6 1 .5 0 .6-1.2 .5-1.2 .6-1.2 .5-.6 .6-.7 .5-.2 .6-.5 .6 .2 .5 .3 .6 0 .5-.7 .6-.8 .5-.8 .6-1 .6-1 .5 1 .6 1.2 .5 1.2 .6 1.4 .5 2.3 .6 1.6 .5 1.6 .6-.7 .6 .3 .5 .2 .6 .1 .5-.6 .6-.4 .5-.1 .6-.4 .5-.5 .6-.6 .6-.9 .5-.6 .6-1.4 .5-.3 .6-.2 .5 1.4 .6 .8 .6 .1 .5 .2 .6-1.6 .5-.2 .6-.3 .5 .6 .6 .3 .5 0 .6-.2 .6-1.2 .5-1.8 .6-1.5 .5-1.7 .6-.9 .5-.7 .6-.7 .5-1 .6-.9 .6 1.5 .5 2.3 .6 2.7 .5 2.4 .6 1.5 .5 1.1 .6-.3 .6-.8 .5-.8 .6-.5 .5-1.3 .6-.7 .5-1.1 .6 0 .5 0 .6 1.3 .6 .4 .5 1.4 .6 .7 .5 2 .6 .9 .5 .7 .6-1.4 .5-.8 .6-.3 .6 1.6 .5 1.1 .6 .6 .5-1.9 .6-1 .5-.5 .6-.1 .5 .7 .6 .2 .6 .9 .5-.6 .6-1.1 .5-1.1 .6-.8 .5 .2 .6-.6 .6-.4 .5-1.2 .6-.5 .5-.8 .6-.6 .5-.6 .6 .6 .5 1.3 .6 1.3 .6-.8 .5-1.7 .6-1.3 .5-1.6 .6-.8 .5-.2 .6 .1 .5 .3 .6 .5 .6 .8 .5 .8 .6 .5 .5 .5 .6-.8 .5-1.1 .6-.8 .6-1 .5 3 .6 2.6 .5-1.5 .6-1.9 .5-1.6 .6-1.9 .5-.2 .6-.2 .6-.3 .5-.1 .6 .6 .5 .7 .6-.2 .5-1.7 .6-1.6 .5 .5 .6 2.3 .6 2.4 .5 1.4 .6-2.2 .5-2.1 .6-2.2 .5-1.2 .6 1.5 .6 1.5 .5 1.7 .6 1.2 .5 .8 .6 .5 .5 1 .6 .8 .5 .4 .6-.6 .6-.4 .5-.3 .6-.7 .5-.6 .6-1 .5-.4 .6-.7 .5-.3 .6-.4 .6-.5 .5 1 .6 1.5 .5 1.4 .6 1 .5-.6 .6-.7 .6-.3 .5-1.1 .6-1.7 .5-.9 .6-.4 .5-.6 .6-.9 .5 .2 .6 .6 .6 .4 .5-.4 .6 0 .5 1.9 .6 1.9 .5 1.8 .6 1.7 .5 .2 .6-.6 .6-.7 .5-1 .6-.9 .5-.7 .6-1.1 .5-1.4 .6-1.3 .6-1.2 .5-.4 .6 .7 .5 1.2 .6 1.6 .5 1.1 .6-.5 .5-1.2 .6-.5" fill="none" stroke="#0e0b0b" stroke-width="1.9" stroke-linejoin="round" stroke-linecap="round"/>
<rect x="859.9" y="563.4" width="144" height="73.6" fill="none" stroke="#0e0b0b" stroke-width="1.85"/>
<path d="M917.5 563.4v2.3M917.5 637.0v-2.3M975.1 563.4v2.3M975.1 637.0v-2.3M859.9 600.2h2.3M1003.9 600.2h-2.3M1003.9 624.8h-2.3M1003.9 575.6h-2.3" stroke="#0e0b0b" stroke-width="1.3" fill="none"/>
<text transform="translate(847.1 573.2) scale(1.045 1)" font-size="24.3" text-anchor="end">2.5</text>
<text transform="translate(847.1 610) scale(1.045 1)" font-size="24.3" text-anchor="end">0</text>
<text transform="translate(847.1 646.8) scale(1.045 1)" font-size="24.3" text-anchor="end">-2.5</text>
<text transform="translate(858.4 663.3) scale(1.045 1)" font-size="24.3" text-anchor="middle">0</text>
<text transform="translate(917.3 663.3) scale(1.045 1)" font-size="24.3" text-anchor="middle">20</text>
<text transform="translate(973.1 663.3) scale(1.045 1)" font-size="24.3" text-anchor="middle">40</text>
<text transform="translate(997.1 662.8) scale(1.045 1)" font-size="24.3">(s)</text>
<text transform="translate(824.1 541.7) scale(1.045 1)" font-size="24.900000000000002">(cm)</text>
<text transform="translate(931.9 550.8) scale(1.045 1)" font-size="28" text-anchor="middle">AP</text>
<path d="M859.9 745.7l.6 .6 .5 1.1 .6 1.3 .5 2 .6-.1 .5-.6 .6-.5 .5-.6 .6-1.1 .6-.3 .5-.1 .6 .2 .5 .6 .6-.4 .5-1.2 .6-1 .6-1.9 .5-.7 .6 .8 .5 1.4 .6 1.5 .5 1.5 .6-.4 .5-.7 .6-1.1 .6-1.6 .5-.4 .6 .5 .5 .7 .6 .1 .5 .1 .6 .8 .5 .4 .6 .3 .6 .3 .5 .1 .6-.3 .5-.6 .6-.5 .5 0 .6-.1 .6 .5 .5 .6 .6 0 .5 .1 .6-.5 .5-.5 .6-.7 .5-.5 .6-.3 .6-.2 .5 .2 .6-.2 .5 .1 .6-.1 .5 .2 .6-.6 .5-.9 .6-1.1 .6-1 .5-.5 .6-.3 .5-.2 .6-.5 .5 .7 .6 .9 .6 1.3 .5 2.4 .6 3.4 .5 3.3 .6-1.6 .5-2.1 .6-2.1 .5-1.4 .6 1.4 .6 1.2 .5 1.3 .6 1 .5-1 .6-.8 .5-.7 .6-.1 .5-.3 .6-.2 .6-.7 .5-.1 .6 0 .5 .2 .6 .2 .5-.3 .6-.7 .6-.9 .5-.9 .6-.9 .5-.5 .6-.9 .5-.8 .6-1.3 .5-.3 .6 .6 .6 .7 .5 1 .6 1.4 .5 1.9 .6 1.4 .5 1.6 .6-1.4 .5-1.4 .6-1.5 .6 2.8 .5 2.9 .6 2 .5-2.3 .6-2.3 .5-1.3 .6 2.6 .6 2.4 .5 .9 .6-2.8 .5-2.4 .6-1.1 .5 1.7 .6 1.4 .5 .6 .6-1 .6-.4 .5-1.2 .6-1.6 .5 .2 .6 .9 .5 .6 .6 .8 .5 1 .6 1 .6 .7 .5-.4 .6-1.7 .5-1.4 .6-.9 .5-.9 .6-.2 .5-1 .6-.5 .6-.1 .5 .8 .6 .6 .5 .7 .6 .1 .5 .2 .6-.2 .6 .3 .5 0 .6 0 .5 .7 .6 1 .5 .6 .6 2 .5 2.5 .6 2.7 .6-.1 .5-2.7 .6-2.8 .5-1.4 .6-.3 .5-.7 .6-.9 .5 .7 .6 1.4 .6 1.5 .5 .9 .6 .6 .5-1.7 .6-1.4 .5-1.5 .6 2 .6 3.3 .5 .7 .6-2.6 .5-3 .6-.7 .5 2.8 .6 2.8 .5 .2 .6-3 .6-2.3 .5 .9 .6 4 .5 3.5 .6-.8 .5-3.4 .6-3.3 .5 .1 .6 2 .6 2.1 .5-.7 .6-2 .5-1.7 .6 .7 .5 1.6 .6 1 .6 1 .5 .4 .6-.8 .5-.5 .6-.5 .5-.8 .6-.2 .5-.6 .6-.4 .6-1.1 .5-1.1 .6-1.3 .5-1.3 .6-2.2 .5-1.5 .6 .1 .5 .5 .6 .2 .6-.4 .5-1.7 .6-1 .5 .6 .6 2.5 .5 1.7 .6 2.1 .6 .7 .5 1 .6 .9 .5-2.8 .6-2.7 .5-2.8 .6 .6 .5 .2 .6 .1 .6 .5 .5 1.6 .6 1.6 .5 2.2 .6-.1 .5-1.1 .6-1.4 .5-1.1 .6-.4 .6 .6 .5-.1 .6-.3 .5-.1 .6-.4 .5 .2 .6 0 .6 .5 .5 .5 .6 .8 .5 .4 .6 .2 .5 1.5 .6 1.6 .5 1 .6-.3" fill="none" stroke="#0e0b0b" stroke-width="1.9" stroke-linejoin="round" stroke-linecap="round"/>
<rect x="859.9" y="708.9" width="144" height="73.6" fill="none" stroke="#0e0b0b" stroke-width="1.85"/>
<path d="M917.5 708.9v2.3M917.5 782.5v-2.3M975.1 708.9v2.3M975.1 782.5v-2.3M859.9 745.7h2.3M1003.9 745.7h-2.3M1003.9 770.3h-2.3M1003.9 721.1h-2.3" stroke="#0e0b0b" stroke-width="1.3" fill="none"/>
<text transform="translate(847.1 715.4) scale(1.045 1)" font-size="24.3" text-anchor="end">2.5</text>
<text transform="translate(847.1 752.2) scale(1.045 1)" font-size="24.3" text-anchor="end">0</text>
<text transform="translate(847.1 789) scale(1.045 1)" font-size="24.3" text-anchor="end">-2.5</text>
<text transform="translate(855.4 808.8) scale(1.045 1)" font-size="24.3" text-anchor="middle">0</text>
<text transform="translate(914.3 808.8) scale(1.045 1)" font-size="24.3" text-anchor="middle">20</text>
<text transform="translate(970.1 808.8) scale(1.045 1)" font-size="24.3" text-anchor="middle">40</text>
<text transform="translate(995.1 808.3) scale(1.045 1)" font-size="24.3">(s)</text>
<text transform="translate(820.5 687.9) scale(1.045 1)" font-size="24.900000000000002">(cm)</text>
<text transform="translate(931.9 696.3) scale(1.045 1)" font-size="28" text-anchor="middle">ML</text>
<path d="M1186.7 687l-.4-1.7-1.1-1.4-1.7-.3-1.5 .8-.9 1.2-.3 1.1 0 .6-.3 0-1.2-.5-2.1-.6-2.3-.1-2 .6-1.3 1.1-.8 .9-.3 .1 .1-.7 .3-.9 .1-1 .1-1.1 .3-1.3 1-1.4 1.9-1.2 2-.7 1.6-.1 1 0 .4-.3 .2-.5 .5-1.2 1.2-1.5 1.6-1.6 1.8-1 1.4 0 .3 1.2-.8 1.5-1.3 1-1.5 .3-1.8-.2-1.6-.4-.7-.2 .2 0 1-.2 .8-.4 0-.9-.6-1.3-1-1.2-1-.5-.6 .2-.4 .7-.4 1.1-.4 .9-.4 1-.3 1 .2 1.2 1 1.2 1.6 1.3 1.6 1.1 1.6 1.2 1.6 1 1.5 .8 1.1 .6 .8 .4 .7 .3 1.1 .4 1.8 .2 2.9-.2 3.1-.5 1.8-.6 .2-.8-1.1-.8-1.7-1-1.5-1.1-.6-1-.5-.6-1.3-.6-1.8-.7-1.6-1.1-.3-1 .9-.6 1.2 0 .2 .2-1.3-.1-2.1-.4-1.8-.5-.8-.3-.2-.3-.1-.4 .2 .1 .3 1.1 .4 1.7 .7 1.9 1 1.5 1.3 .8 1.5 .6 1.6 .7 1.4 .4 .5-.3-.6-.7-.9-1.1-.5-.9-.2-.6 0-.7-.5-.7-1.4-.5-1.6 0-.7 1-.1 1.7 .7 1.5 .9 .6 .8 .2 .7-.2 .4-.4 .2-.4-.1-.3-.7-.1-1.7 .3-2.3 .4-2.2-.4-1.4-.9-.5-.9 .1-.3 .3 .4 .1 .8-.3 1.3-.6 1.6-.7 1.2-.5 .6 .5-.1 .6 .6 .4 1.6-.1 1.6-.2 .6 0-.1 .4-.4 .1-.1-.5 .4-1.6 .7-2.2 .6-1.7 .3-.6 .2 .6 .2 1.2 .1 1.3 .2 .9 0 .9-.6 1.4-.9 2.2-.6 2.4-.1 1.9 0 1.5-.5 .9-1.1 .4-1.5 0-1-.5-.4-.8-.3-.5-.3 0-.3-.1-.5-.4-.8-.7-1.2-.8-1.6-.7-1.4-.2-1 .2-.7 .6-.4 .7-.1 .7 0 .5 .1 .6 .2 .5 .3-.1 .3-1.1 .5-1.4 .7-1.1 .6-.2 1 .5 1.1 .7 .8 .7 .6 .5 .6 .7 1 .6 1.6 .5 1.6 .7 1 .5 .5 .1 .3-.4 .5-.7 .8-.5 .6 0 .2 .2-.2 0-.2 .2 0 .5 .1 1.1 .3 1.7 .5 1.5 .5 .8 .3-.1-.2-.9-.5-1.2-.4-.9 .3-.4 .6-.2 .5-.3 .3-.5 0-.4-.2 .5-.2 .8-.6 .7-1.4 0-2.1-.9-2.4-.9-2.2-.3-1.4 .1-.7 .2-.2 0-.1-.2 .1 0 .8 .3 1.3 .1 1.2 .1 .5 .7 .3 1.7 .1 1.8-.3 1.9-.7 2.1-.7 2.4-.6 2.8-.1 2.7 .6 1.4 .4 .2-.2-.1-.5-.2-.6-.6-.7-1-.2-1 .1-.6 .1 .2-.2 .7-.3 .6-.2 .2-.1-.3 .2-.6 .3-.6 0 0-.3 .7-.5 1.1-.4 1.1 0 .8 .1 .8-.3 1.2-.8 1.3-1.3 .5-1.6-.6-1.7-1.3-1.6-1.2-1.7-1.4-1.6-2-.8-2.9 .3-3.7 1-3.6 1.4-2.7 1.4-2.1 1.1-2 .7-2.7 .7-3.2 .9-3.6 1.2-3.1 1.3-1.9 1.2-.3 1.3 .6 1.2 1 1.6 .9 1.8 1 1.4 1 1 1 .6 1 .5 1.2 .8 1.4 1.2 1.7 1.2 2.4 1.2 2.5 .8 1.8 .5 1.2 .4 .6 .4-.1-.1-.5-.8-.6-1-.8-.1-.8 .9-1 1.8-1.8 1.9-2.7 1.1-3.1 0-2.3-.3-.9-.6 .1-.6 .5-.5 .5-.6 .2-.7 0-.6-.1 0 0 .4 .3 .5 .5 .5 .6 0 .5-.8 .2-1.2-.3-1.1-.6-1-.6-.8 0-.5 .6 0 .7 .5 .4 1 .1 1.1-.1 1.1 0 .7 .6 .4 1-.3 1.6-.6 1.7-.3 1.2 .3 .6 .3 .3-.6 .4-1.4 .1-1.7 .4-1 .5-.3 .9-.1 .9-1.1-.1-2.2-1.1-2.2-1.4-1.1-1.3 0-.7 .9-.2 .5-.3-.1-.2 .1 .6 .4 1.5 .3 2.2 .1 1.9-.2 .9-.3-.1 0-.2 .5 .5 .9 1 1 .8 .7 .2 0 .1-.7 .5-.6 1-.4 1.2-.3 .6-.2-.3-.3-.7-.1-.9-.3-1.1-.5-1.1-.8-.7-.6 .1-.1 .7 .5 1 1.1 .7 1.3 .4 1 .8 .3 1.6-.4 1.8-1.2 1.4-1.2 1-.9 1.5-.4 2.2-.2 2.4-.4 1.7-1 .5-1.2-.1-1 .1-.3 .3 .2 0 .7-.2 1-.4 .6-.6 .1-1-.2-1.1-.4-1 0-.6 .7-.4 1.1-.9 .8-1.2 0-.8-.8-.6-1.5-.8-1.6-1-1.5-1.2-1.2-1.3-1.2-1.3-1.5-2.1-1.6-3.4-1.2-3.3-.8-2.3-.5-.7-.4 .6-.2 .7 0 .1 .1-.4-.4-.4-1.4 0-1.8 .3-1.5 .8-.9 1.1-.3 1.1 0 .6-.3 .5-.2 .7 .2 1.3 .3 1.5 .1 1-.4 .5-.7 .4-.6 .3-.2-.6 .3-1.7 .7-2.5 1.5-2.7 2.1-2 2.2-1.1 1.5-.8 .8-1.1 .8-1.4 1.2-1.2 1.5-.9 1.2 0 .9 .8 .4 .6 .3 .2 .3 .6 .7 1.5 1.3 2.5 1.8 2.9 1.4 2.7 .5 1.6 0 .2-.1-1.3 .1-2.5 .1-3.4-.3-4-.8-4-.9-3.5-.6-2.7-.2-2.1 .2-1.9 0-1.6-.6-1.1-1.3 .2-1.5 1.8-.8 2.2 .3 1.7 1.4 1.8 1.4 2.5 1 3 .5 3.1 .2 2.7 .1 1.8 .2 1-.1 .2-.3-.8-.5-1.7-.8-1.3-1.2-.1-1.2 .3-1.2-.3-1.2-1.8-1-3.1-1-2.9-1.2-.9-1.1 1.6-.6 3 .3 3.3 1 2 1 .5 1.1 .3 1.6 .8 2 1.6 2.4 1.4 2.1 1.1 1.1 1 .4 1.5-.2 1.6-.4 .9-.8-.4-.7-.9-.2-.2 .5 .5 .9 .7 1 .1 1-.8 .8-1.8 .5-1.9 .4-1.4 .3-.6 .5 .2 .6 .2 .8-.6 .8-1.2 .7-.7 .2 0-.3 .2-.7 .1-1-.3-.8-1-.7-.7-.3-.2 .4 0 .8 .3 .4 .6-.4 .3-.8-.5-.8-1.2 0-2.2 .8-2.7 1.2-1.8 1.2-.8 1 0 .8 .4 .4 1.1 .4 1.4 .4 1.6 .4 1.6 .4 1.4-.1 1.2-.5 1-.6 1.3-.8 1.5-.8 1.8-.5 2-.4 1.7-.4 .5-.2-.2 0-.2 0 .2 .1 .9-.1 1.3-.7 1.3-1.1 1-.8 .6 .1 .5 .8 .5 1.4 .9 1.2 1.2 .5 .8-.2-.2-.9-1.1-1.1-1.3-.9-.7-.4-.3 .1-1.6 0-2.2-.4-1.3-.6-.1-.6 .3-.8 .2-1-.4-1.2-.7-1.3-.5-1.2-.3-.6-.4 .1-.1 .2 .5 .1 1 0 .9-.2 .8-.1 1-.1 .6 .3 .4 .3 .7 .2 .6-.4-.2-1-.6-1.4-.9-1-.9-.4-.2-.2 .9 0 1.1 0 .7 0 .3 0 .2 .1-.1 .1-.8-.2-1.6-.3-2.2-.4-1.8-.6-1-.7-.7-.6-.7-.6-1-.2-1.2-.1-1.1 .1-.9-.3-.8-.8-.8-1-1-.6-1.9 .1-2.8 .8-3.1 1.3-2.6 1.4-1.9 1.2-1.7 1.4-2.2 1.6-3 1.5-3.3 1.5-2.7 1.1-1.4 .3-.2-.6 .8-1 1.6-1.1 1.7-.9 1.8-.7 1.9-1.2 2.1-1.7 2-1.9 2.3-1.5 2.7-1.3 3.1-1.5 3-2.3 2.2-2.5 1.2-1.9 .6-.5 .4 .7 .5 .8 .4 .1-.2-.6-.4-.3-.3 .7 .1 1.4 .2 1.2 .1 .8-.2 .4 0 .1 .2 .2 .5-.1 .8-.4 .6-.5-.1-.4-.6-.4-.9-.3-1.2 .2-1.4 .9-1.5 1.4-1.8 1.2-2 .5-1.5-.4-.8-.8-.4-.5-.3 .2-.3 1-.4 1.4-.1 1.5 .9 1.1 1.7 0 1.5-.7 1-.9 .4-.5 .4 0 1.4 .5 2.2 .2 2.3-.3 1.6-.4 .5-.2-1-.3-2.2-.9-3.2-1.4-3.6-1.4-3.2-.7-2.3 .2-1.7 .7-1.7 1.1-2.2 1.2-2.5 1.4-1.7 2.2 .1 2.4 2.4 2.3 4.3 1.9 4.6 1 3.6-.4 1.8-1.6 .8-2.1 .6-2.1 1-1.6 1.1-.9 .6-1 .1-1.2-.6-1.4-1.2-1-1.9-.5-2.5-.4-2.6-1.1-2.2-1.9-1.8-1.8-1.3-1.4-.7-1 .1-.9 .6-.8 .9-.8 1.5-.2 2.1 .5 2.6 1.1 2.9 1.4 2.9 1.4 3.1 .9 3.2 .2 3-.1 2.1-.2 .6-.3-1.3-.3-2.7-.1-3.7 0-3.7 0-3.5 .3-2.8 .5-2.2 .9-2 1.1-1.8 1.2-1.6 .8-1.1 .4 0-.2 1.3-.4 2.2-.9 2.1-1 1.8-1 1.7-1.4 1.9-2.1 2.5-2.5 2.9-2.6 2.3-1.6 1.4-.1 .7 .9 .1 .9-.9 .1-1.7-.6-2.7-.4-3.3 .9-3.3 2-3.3 2.4-3.4 1.8-2.6 .9-1.6 .3-.4 0 1.2 .6 2.3 .9 2.5 .7 2.6-.1 2.3-.8 2-1.5 2.1-1.9 2.8-1.8 2.7-1.7 2.1-1.6 1.2-1.1 .4-.2-.3 .3-.8 .3-1.1 0-1.5-.6-1.9-.7-2-.1-1.4 .8-1 1.1-.8 .9-1.1 .5-1.8 .1-2.1 .5-1.5 1-.6 1 .3 1.2 1.3 1.2 1.6 1.4 1.8 1.9 1.8 2.3 1.4 2.3 .9 2 .5 1 .2-.1-.1-.9-.6-.9-1.1-.2-1.1 .3-.4 .5 .1 .4 .6-.4 .8-1.1 .7-1.4 .4-.8 .2-.1-.1 .9 0 2 .9 2.4 1.8 2 1.7 1.1 .8-.5-.2-1.5-.5-1.9 0-2 .7-2 .6-1.7 .2-1.2 0-.6 .5-.5 1.1-.8 1.5-.8 1.4-.1 1.2 1.1 .9 1.9 .6 2 .8 1.7 .9 .9 .8 0 .9-.8 .8-1 .6-.9 1-.9 1.6-1.1 2-2 2-2.7 1.9-2.6 .9-1.8-.2-1-.8-.6-1.2-.4-1.5-.2-1.2 .1-.2 .2 .3 .2 .7 .2 .8 .5 .4 .8-.5 .8-1 .3-1 0-.1 .2 1.4 .5 2.7 .6 2.9 .1 2.1-.4 1.3 .4 1.2 1.7 1.8 2.2 2.2 2 2.1 1.3 1 .7-.4 .6-1.8 1-2.3 1.3-2.1 1-1.6 1-1 .8-.8 .4-1.1-.3-1.3-.8-1.9-.9-2.4-.7-2.5-.4-2.7-.4-2.6-.5-2-.6-1.2-.3-.5 .2-.4 .3-.4 .3-.7 .1-.9-.4-.7-.9-.9-1.2-1.4-1-1.7-.8-1.5-.7-.3-.5 1-.3 2.1 0 2.3 .1 1.9 0 1.7-.5 1.8-.6 2-.8 2-.9 2-.6 2.1-.2 2-.1 1.4-.5 .4-1.4 .2-2.1 .3-1.7 .1-.5 .2 .7 0 1.3-.2 1.1-.1 .4 .9-.6 1.4-1.1 1.5-.9 1.3-.7 1.1-.1 .6 .3 .1 .8-.5 .8-1.5 .4-2.6-.3-2.6-.9-1.9-.6-1.4 .5-1.5 1.4-1.5 1.7-1.6 1.1-1.8 .8-1.3 1-.7 1.3-.4 1.5-.1 1.6 .2 1.2 .3 .9 .6 .8 .9 .9 1.1 .8 1 .9 .7 1.3 .7 1.2 1 .6 1.1-.3 1.3-1.1 1.3-1.1 1.4-.6 1.3-.2 1.3-.2 1.1-.4 .7-.4 .4-.3 0 .1-.2 .2-.1-.2 0-.6 0-.6-.5-.9-1.3-1-1.3-1-.6-.9-.1-1.1 .2-.7-.1-.6-.8-.4-.7 0-.3 .2 .3 .2 .8 0 1-.3 .8-.5 0-.8-.9-.9-1.2-1.2-1-1.5-.5-1.9-.5-1.9-.5-1.5-.7-1-.9-.6-.6-.4-.4-.3 .1 .2 .2 .7 .2 .8 .1 .4 .1 .3 .1 .3-.4 .7-1.4 .8-2.1 .6-1.8 .7-1 1-.4 .8-.4-.1-1-.6-1.7-.8-1.6 .1-.9 1.2 .1 1.7 .5 1.6 .1 1.1-.9 .6-1.7 .3-1.4 .1-.6-.2 0-.1 .2-.3 0-.8 0-1.2-.2-1.3 .2-.9 .6-.3" fill="none" stroke="#1b40a0" stroke-width="2.1" stroke-linejoin="round" stroke-linecap="round"/>
<path d="M1189 685.7l-.9-.5-1.1 .3-1.3 .6-1.1 .7-.8 .5-.6 .8-.1 1.2 .1 1.6-.2 1.4-.6 .9-1.2 .3-1-.1-.7-.2-.4-.3-.2-.4-.3-.6-.5-.7-.6-.6-.7-.6-.3-.5 .3-.8 1-1.3 1.5-1.8 1.2-1.8 .3-1.4-.1-1 .1-.5 .8-.1 1 .2 .7 .3-.1 .2-.7-.4-.6-.9-.1-.9 0-.8-.2-.7-.4-.7-.3-.9 .1-.8 .7-.5 .7-.3 .7-.5 .3-.5-.2-.3-.8 .1-1.3 .5-1.5 .8-1 .7-.5 .5-.1 .5 .3 .6 .5 .6 .8 .7 1.3 .6 1.5 .6 1.4 .6 1.2 .5 1.1 .6 1.2 .6 1.7 .7 2.3 .6 2.5 .4 2.4-.1 1.6-.6 .6-.9 0-.7 0-.6-.2-.5-.4-.5-.8-.3-1.4-.2-1.5 0-1.1 0-.8 0-1 .2-1.1 .4-.9 .1-.8-.5-.6-.7-.6-.3-1.1 0-1.3 .1-1.2 0-.8-.1-.4-.1-.1 .3 .1 .5 .2 .7 .5 .8 .5 1.1 .7 1 .8 .7 1 .1 1.3-.4 1.3-.3 1.3 0 .8 .6 .4 1 .2 .7 .2 .1-.2-.2-.5-.3-.3-.3 0-.1 .2 0 .2 0 .1-.2-.1-.2-.3-.1-.4-.2-.6-.6-.6-1.1-.4-1.3-.1-1 .4 .1 .6 .8 1 1 .9 .6 .3 .1-.8 .2-1.4 .7-1.4 1.1-1 .9-.7 .3-.7-.1-.8 0-.5 .4-.1 .9 .1 1.1 0 1.1-.4 1-.7 .9-.3 .7 0 .7 .4 .6 .3 .4 .2 0 .1-.5 .1-.9 .1-1 .2-1.1 0-1.1 0-1.2-.1-1.5 .2-1.4 .7-1.1 1-.4 .9 0 .5 .5 .1 .6-.1 .7 .3 .5 .6 .3 .6 0 .9-.1 1-.4 1-.7 .6-.8-.2-.9-1.1-1-1.2-.9-.7-1-.2-1.2 .2-1.2 .1-1-.2-.8-.3-.3-.4 .2-.5 .4-.7 .9-.7 1.1-.5 1.1-.3 1.1-.1 .9-.1 .5-.4 .1-.2-.1 .3 0 .7 .3 .6 .5 .3 1-.3 1.1-.3 1.1 0 .9 .4 .5 .4 .2 .5 .5 .4 .8 .7 .8 .7 .4 .8 .1 .8 .1 .8 .4 .9 .6 1.1 .6 1 .3 .4 .3-.4 .3-1.1 .3-1.6 .2-1.6 0-.8-.1-.3-.2 .2-.3 .6-.6 .7-.5 .6-.4 .4-.4 .1-.3-.1-.4 .1-.7 .2-.7 .3-.4 .5-.4 .4-.3 .2-.1 .3-.1 .3 0 .7-.1 1.1-.3 1.1-.3 .5-.2-.3 .2-.9 .2-1 .2-.6-.1 .1-.2 .9-.4 1.1-.2 1.2-.3 1.4-.6 1.5-.8 1.3-.6 1.2-.3 .7 .1 .3-.1 .4-.1 .6-.4 .6-.4 .7-.3 .7-.1 .3 .1 .1 .7-.2 1.1 0 .9 .3 .3 .3-.2-.1-.5-.7-.7-1.1-.9-1.4-1-1.4-.9-1.3-.4-1.4 0-1.1 .1-.7-.4-.4-.9-.6-.7-.7-.4-1.3 0-1.8 .2-1.7 .3-1.5 .1-1.6 0-2.2 0-3 .1-3.5 .2-3.2 0-2.4 .1-1.1 .4 .1 .8 1 1.4 1.5 1.6 1.7 1.5 1.6 1.4 1.7 1.7 1.8 1.8 1.8 2 1.7 1.9 1.6 1.2 1.6 .9 1.5 .9 .9 1.1 .3 1.4-.2 1.4-.5 1-.8 .6-1.1 .3-1.1-.1-1.1-.4-.9-.3-.7-.2-1.2 .1-1.5-.2-1.6-.5-1.6-.8-1.9-.6-2-.2-1.5 .3-.8 .1 .3-.5 .8-1.1 .7-1.2 .5-.8 .5-.2 .8-.3 1-.6 1-.7 .7-.4 .7 0 .7 .2 .6 .3 .6 .3 .7 .4 .7 .1 .7-.2 .7-.5 .6-.5 .2-.1 .2 0 0-.1-.2 .1-.2 .1 0 .2 .5 .2 .6-.1 .6-.4 .4-.6 .2-.5 0-.4 .3-.5 .7-.6 1.1-1 1.3-.9 1.1-.4 .3 0-.5 .3-.9 .2-.7-.1-.1-.5 .3-.7 .4-.8 .3-.7 .1-.4 .4 0 .8 .2 1 .3 .9 .6 .6 .7 .5 .7 .4 .4 .3 .3 0 .2-.7 .2-.8 .1-.6 0-.5-.3-.1-.2 .6-.2 .9-.2 1.3-.3 1.4-.2 1.4 0 1.6-.2 1.7-.2 1.7-.1 1 0 .1 0-.2-.2 .4-.2 .6-.4 .4-.5-.1-.6-.5-.4-.2-.2 .6 0 1.1 .1 1.1-.1 .6-.2 .1-.1-.4 0-1.1 .1-1.4 .1-1.6-.1-1.7-.5-1.2-.5-.6-.7 0-.6 .3-.7 .3-.7-.4-.6-1-.8-.9-.7-.3-.8 0-.8 .1-.6-.3-.5-.1-.4 .2-.4 .1-.4-.3-.7-.8-.8-1.5-1.1-1.6-1.3-1.6-1.1-1.7-1-1.8-1.2-1.6-1.3-1.1-1.1-.8-.9-.3-.2 .2 0 .5-.3 1.1-1 1.8-1.4 2.6-1.1 2.7-.5 2.2 0 1 0-.2 .1-1.1 .4-1.4 .6-1.7 1-2 1.1-2.4 1.2-2.9 1.1-2.8 1.2-2.4 1.6-2.1 1.8-1.8 1.9-1.3 1.6-.4 1.4 .5 1.4 1.1 1.4 1.4 1.3 1.4 1.4 1.6 1 1.9 .9 2.6 1.2 2.8 1.6 2.5 1.9 1.4 1.8-.2 1.2-1.2 .5-1.8 .2-1.8 0-1.7-.3-1.8-.5-1.9-.3-1.8-.1-1.8 .1-1.9-.1-1.5-.8-.5-1.5 .9-1.4 1.8-1 2.4-.4 2.1-.1 2-.2 1.8-.5 1.5-.8 1.2-.8 1-.5 1-.2 .8 0 .1-.2-.8-.1-1.7-.3-1.9-.5-1.8-.7-1.6-.9-1.7-.9-1.6-1-1.1-.9-.3-.5 .3-.1 .6 .3 .6 .6 .6 .4 .8 .5 1.2 .8 1.3 .8 1.3 .6 1.1 .5 .8 .3 .8 .6 .8 1 1 1.1 1.3 .9 1.4 .8 1.2 .5 .7 .5 .1 .5-.4 .6-.6 .5-.6 .3-.2 .3-.1 .3-.2 .6-.6 .8-.8 .7-.9 .7-.9 .4-.9 0-1-.3-1.1-.3-1-.5-.6-.5-.1-.5 .2-.2 .2-.2-.1 .1-.3 0-.3-.4-.3-.7-.4-.6-.8-.3-1.1 .1-1.1 .5-1 .7-.7 1-.3 1.1 .1 1.2 .5 1.1 .7 1 1.1 1 1.5 .6 2.1 0 2.5-.4 2.5-.8 1.8-1.1 1.1-1.2 .8-.8 1.1-.6 1.5-.3 1.4-.1 1.1-.4 .7-.5 .5-.5 .1-.2-.4 .1-.8 .4-1 .3-.8 .1-.6 0-.6 0-.8-.1-.4-.5 .3-.8 .9-.7 1.1-.4 .8 .1 .5 .4 .4 .5 1 .4 1.4 .3 1.1 .1 .3 .2-.7 .1-1.3-.2-.9-.3-.2-.6 .2-.7 0-.7-.6-.5-1.3-.7-1.4-.8-1.5-.9-1.5-.9-1.4-.9-1-.6-.5-.4 0-.1 .4 0 .6 .1 .7 .3 .4 .1 .3 0 .4-.2 .8-.4 .9 0 .4 .1 .2 .2 0 .4 .3 .5 .5 .4 .5 .4 .5-.1 .6-.4 .8-.8 .6-.9 0-.7-.7-.6-1.1-.3-1.3-.4-1.4-.6-1.4-.7-1.5-.4-1.1 0-.9 .5-1 .5-1.5 .1-2-.3-2-.5-1.4-.2-.8 .3-.4 .7-.7 .5-1.2 .1-1.4 0-1.7 .4-2.1 .8-2.5 .9-2.4 .4-1.4-.2 .2-.7 1.4-.9 1.6-.9 1.7-1.1 1.7-1 2.1-1.2 2.6-1.3 2.6-1 2.3-1 1.9-1.2 1.5-1.5 .9-1.6 .3-1.5 0-1.2-.2-.8-.3-.4-.4-.1-.6 .1-.3 .1 .1 0 .6 0 .5 .3 .4 .6 .2 .5 .1 .2 .2 0 0 .4-.1 .9-.4 1.3-.7 1-.9 .6-1.1 .3-1.4 .3-1.7 .3-1.5 .2-1.2 .2-.8 0-.8 .1-.9 .2-.9-.1-.6-.3 .1-.3 .4-.1 .7 .2 1.1 .5 1.6 .6 1.9 .3 1.7 .1 1-.2 .4-.5 .4-.8 .6-.4 .9 0 1.2 .1 1-.2 .4-.9-.5-1.1-1.5-.9-2.4-.4-2.8 .1-2.8-.1-2.7-.2-2.6-.2-2.5 .3-2.1 1-.9 1.4 .9 1.6 2.3 1.4 2.7 1.3 2.4 1 2.2 .4 2.2-.3 2.3-.6 2.4-.9 2.2-.7 1.8-.7 1.1-.5-.2-.7-1.5-.7-2.2-.9-2.1-.9-1.3-.9-1-.9-1.4-1.2-2.1-1.1-2.3-1.1-1.9-.6-1-.1-.1 0 .7-.2 1-.3 .9-.4 .9-.3 1-.3 1.2-.4 1.6-.3 2.2-.3 2.6-.4 2.7-.3 1.8-.2 .2-.1-1.6 .3-2.9 .8-3.4 1-3.3 .9-2.9 .9-2.8 .9-2.5 .8-2.1 .8-1.5 .7-.8 .3 .5-.4 1.5-1 2.2-1.5 2.4-1.6 2.2-1.3 2.4-.9 2.9-.8 3.2-1 3.1-1.4 2.5-1.4 1.7-.8 .8 0 .1 .5-.6 .9-1.8 1-2.7 1.2-3 1.3-3.1 1.3-2.8 1.1-2 1.1-1.3 1.2-.6 1.5 0 1.6 .7 1.5 1.2 .9 1.9 0 2.1-.8 2-1.2 1.9-1.3 1.8-1.4 1.4-1.3 1.1-1.2 .6-.7-.1-.2-.8-.1-1.5-.4-2-.9-2.1-1.2-1.5-1.2-.6-1.1-.3-1 0-.7 0-.3-.5 .1-.9 .4-1.6 .7-2.3 .9-1.9 1.1-.8 1.5 .4 1.9 .7 1.7 .6 1.3 .2 1 .1 .8 .5 .7 .8 .8 .6 .7 .5 .4 .8 .2 .8 .1 .8 .3 .4 .6-.2 .7-.9 .7-.7 .5-.3 .5 .2 .3 .8 .1 .8-.1 .5 0 .3 .3 .6 .8 .9 .9 1.3 .5 1.5 .1 1.3-.5 1.2-.9 1.3-1.1 1.2-1.1 1-1 .6-.8 0-.6-.5-.4-.4-.4-.2-.5 .1-.5 .3-.3 .6 0 1.2 .3 1.8 .2 1.8-.4 1.4-.7 .9-.8 .8-.4 .8-.2 .6-.5 .4-.5 .5-.3 .9 .2 1.5 .5 1.9 .5 1.7 .1 1-.2 .3-.3-.2-.4-.1-.5 .3-.8 .4-.9 0-.7-.7-.3-1.3 0-1 .2-.4 .3 .1 .1 .4 .3 1 .4 1.2 .4 1.4 .7 1.6 .7 1.3 .7 .8 .9 .2 1.1 .1 1.1 .5 .7 1.4 .4 1.7 .3 1.4 .4 .4 .7-.8 .7-1.5 .2-1.8 .1-2 .3-2.3 .7-2.2 .6-1.9 0-1.6-.6-1.4-.8-1.6-.7-1.9-.4-1.8-.4-1.3-.8-1.1-.9-.9-.9-.6-.6-.5-.4-.6-.3-.7-.4-1.2-.5-1.8-.8-1.8-.8-1.4-.8-.8-.5-.1-.1 1.2 .2 2.2 .3 2.7 .2 3.1 .3 2.9 0 2.6-.3 2.7-.4 2.9-.5 3.1-.5 3.1-.4 2.6-.4 1.7-.8 .7-.9 0-.8-.2-.5-.2 0-.1 .3-.2 .1 .1 0 .3-.1 .1 .2-.6 .5-1.2 .6-1.4 .3-1.1 0-.6-.3-.4-.6-.3-.3-.5 0-1.1 .4-1.5 .4-1.6 .2-1.3 0-1-.3-.7-.1-.9 .2-1.3 .6-1.7 1.1-1.9 1.3-1.9 1.4-1.6 1.2-.8 .8 .2 .6 1.1 .2 1.5 .3 1.3 .7 .6 1.3 .3 1.5 .3 1.4 .4 1.3 .7 1.2 1.1 1.2 1.7 .7 2.4 0 2.9-.4 2.8-.6 1.9-.4 1.1-.5 .8-.4 .4-.5 .1-.4-.4-.5-1-.8-1.7-1-1.9-1-1.5-.7-1-.6-.4-.9 .2-1.1 .3-1.1 0-.9-.1-.6-.3-.1-.5 .1-.3-.2 .2-.4 .5-.7 .7-.4 .4 .1-.1 .4-.5 0-.6-.7-.6-.9-.7-1-.4-.6-.2-.5 0-.8-.1-.9-.2-1.2-.2-1.5-.2-1.7-.4-1.4-.9-.9-1.1-.2-.9 .4-.4 .7-.4 1-.9 1.2-1.2 1.5-1.5 1.3-1.6 .8-1.8 .3-1.5 .2-1 .3-.4 .4 0 .6-.1 .7-.3 .6-.3 .7-.2 .5 0 .2 .1-.3 .2-.4 0-.3-.1 .2-.1 .4 0 .5-.1-.1-.6-.7-.6-.8" fill="none" stroke="#1b40a0" stroke-width="2.1" stroke-linejoin="round" stroke-linecap="round"/>
<rect x="1073.3" y="588.4" width="233.4" height="176.1" fill="none" stroke="#262424" stroke-width="1.85"/>
<path d="M1190.0 588.4v3.0M1190.0 764.5v-3.0M1073.3 676.5h3.0M1306.7 676.5h-3.0" stroke="#262424" stroke-width="1.3" fill="none"/>
<text transform="translate(1063.1 597.1) scale(1.045 1)" font-size="28" text-anchor="end">2.5</text>
<text transform="translate(1063.1 685.2) scale(1.045 1)" font-size="28" text-anchor="end">0</text>
<text transform="translate(1063.1 773.2) scale(1.045 1)" font-size="28" text-anchor="end">-2.5</text>
<text transform="translate(1076.8 798.5) scale(1.045 1)" font-size="28" text-anchor="middle">-2.5</text>
<text transform="translate(1191.5 798.5) scale(1.045 1)" font-size="28" text-anchor="middle">0</text>
<text transform="translate(1304.7 798.5) scale(1.045 1)" font-size="28" text-anchor="middle">2.5</text>
<text transform="translate(1043.3 563.5) scale(1.045 1)" font-size="28.7">(cm)</text>
<text transform="translate(1318.3 762.4) scale(1.045 1)" font-size="28.7">(cm)</text>
<path d="M859.9 910.6l.6 .4 .5 .5 .6-.7 .5-1.4 .6-2.2 .5-1.8 .6-1.8 .5 1.5 .6 2.8 .6 .2 .5-1.5 .6-1.3 .5 .1 .6 1.4 .5 1.1 .6 1.9 .6 1.7 .5 2 .6 2.9 .5 3.4 .6 1.2 .5-1.5 .6-1 .5 .6 .6 1.6 .6 .8 .5 .4 .6 .3 .5-.1 .6 .1 .5 .7 .6 .8 .5-.4 .6-1.6 .6-1.7 .5-1.5 .6 1 .5 1.2 .6 .5 .5-1.5 .6-1.5 .6-1 .5-1.1 .6-.5 .5-.8 .6-1.2 .5-1.4 .6-1 .5-.9 .6-1.2 .6-.4 .5 1 .6 1.2 .5 .8 .6 1.9 .5 .4 .6-.2 .5-.5 .6-.1 .6-.3 .5 .1 .6 .2 .5 .6 .6 .2 .5 .5 .6 .6 .6 1 .5 1.4 .6 1.7 .5 .2 .6-.8 .5-.7 .6-1.1 .5 1.4 .6 .8 .6 .9 .5 1.6 .6 2.2 .5 2.3 .6 .5 .5-.9 .6-.8 .5-.9 .6 2.4 .6 2.5 .5 2.8 .6-1.2 .5-1.3 .6-2.3 .5-1.1 .6 1.8 .6 2.2 .5 2.2 .6 2 .5-.9 .6-2 .5-2 .6-1.8 .5-1.9 .6-1.8 .6-1.2 .5-1.1 .6-1.4 .5 .5 .6 2.9 .5 3.5 .6 .5 .5-2.1 .6-2.5 .6-2.4 .5-3.1 .6-3.1 .5-2.8 .6-2.2 .5-2.2 .6 .2 .6 2.1 .5 .7 .6-1.8 .5-1.7 .6 4 .5 4.4 .6 3.9 .5-1.2 .6-1.3 .6-.8 .5 .8 .6 1.9 .5 1.7 .6 .4 .5 .9 .6 .9 .5 2 .6-.4 .6 .3 .5-.2 .6 .1 .5 .2 .6 .2 .5-.1 .6-.5 .5-1.3 .6-1.4 .6-.8 .5-1.2 .6-1.2 .5-1.9 .6-1.3 .5 .4 .6 .7 .6 .7 .5 1 .6 .7 .5 .3 .6 .5 .5 .9 .6 1.8 .5 1.5 .6 1.6 .6-1.1 .5-.9 .6-1.2 .5-1.2 .6-1.7 .5-1.8 .6-1.9 .5-1.1 .6-.7 .6-.4 .5 .4 .6 3.1 .5 3.4 .6 2.7 .5 2.4 .6 1.7 .6 2.1 .5 .2 .6-2.8 .5-2.3 .6-2.6 .5-1.4 .6-1.9 .5-1.3 .6 .8 .6 1 .5 .9 .6 .8 .5 2.2 .6 1.7 .5 2.5 .6 1.4 .5-1 .6-1.4 .6-1 .5-.8 .6-.3 .5-.4 .6 .2 .5 .1 .6 .9 .6 .6 .5 .2 .6 1.1 .5 1.9 .6 2.2 .5 1.5 .6 0 .5 0 .6 .3 .6 .8 .5 .4 .6-.5 .5-.3 .6-1.2 .5-.6 .6 1.3 .5 2 .6 1.8 .6 1.7 .5 1.5 .6 .4 .5-2.7 .6-2.2 .5-2.2 .6-2.2 .6-1.9 .5-2 .6 2.3 .5 2.6 .6 2.9 .5-2 .6-2 .5-2.4 .6 1.5 .6 1.6 .5 1.2 .6-1.4 .5-1.4 .6-1.3 .5-1.1 .6 .3 .5 .8 .6 .5 .6 .8 .5-1.1 .6-1 .5-1.3 .6-1 .5-.5 .6 1.1 .6 1.1 .5 1 .6-.8 .5-1.9 .6-2.5 .5-.6 .6 1.2 .5 1.5 .6 .5" fill="none" stroke="#0e0b0b" stroke-width="1.9" stroke-linejoin="round" stroke-linecap="round"/>
<rect x="859.9" y="884.5" width="144" height="73.6" fill="none" stroke="#0e0b0b" stroke-width="1.85"/>
<path d="M917.5 884.5v2.3M917.5 958.1v-2.3M975.1 884.5v2.3M975.1 958.1v-2.3M859.9 921.3h2.3M1003.9 921.3h-2.3M1003.9 945.9h-2.3M1003.9 896.7h-2.3" stroke="#0e0b0b" stroke-width="1.3" fill="none"/>
<text transform="translate(847.1 884.2) scale(1.045 1)" font-size="24.3" text-anchor="end">2.5</text>
<text transform="translate(847.1 921) scale(1.045 1)" font-size="24.3" text-anchor="end">0</text>
<text transform="translate(847.1 957.8) scale(1.045 1)" font-size="24.3" text-anchor="end">-2.5</text>
<text transform="translate(858.4 980.4) scale(1.045 1)" font-size="24.3" text-anchor="middle">0</text>
<text transform="translate(917.3 980.4) scale(1.045 1)" font-size="24.3" text-anchor="middle">20</text>
<text transform="translate(973.1 980.4) scale(1.045 1)" font-size="24.3" text-anchor="middle">40</text>
<text transform="translate(997.1 979.9) scale(1.045 1)" font-size="24.3">(s)</text>
<text transform="translate(824.1 861.4) scale(1.045 1)" font-size="24.900000000000002">(cm)</text>
<text transform="translate(931.9 871.9) scale(1.045 1)" font-size="28" text-anchor="middle">AP</text>
<path d="M859.9 1065.3l.6 1.1 .5 1.4 .6 .9 .5 .8 .6 0 .5-.5 .6-.2 .5 .1 .6-.4 .6-.5 .5-.2 .6 .1 .5 .2 .6-.2 .5-.3 .6-.9 .6-.3 .5 0 .6 .2 .5 0 .6-.3 .5-.3 .6-.4 .5-.4 .6-.2 .6-.1 .5 .4 .6 .1 .5 .1 .6-.1 .5-.3 .6 .2 .5 0 .6 .6 .6 0 .5 .7 .6 .4 .5-.8 .6-.9 .5-.5 .6-.7 .6 0 .5-1 .6-.5 .5-.4 .6 .5 .5 2.3 .6 1.6 .5 1.8 .6 .8 .6-1.1 .5-1.2 .6-1.4 .5-1 .6 0 .5 1 .6 .9 .5 1 .6 .9 .6 .8 .5 .8 .6 .8 .5 .6 .6 .5 .5-.3 .6-.4 .6-.5 .5-.7 .6-.9 .5-.8 .6-.3 .5-.1 .6-.3 .5 0 .6-.4 .6-.4 .5-.9 .6-.2 .5 .2 .6 .2 .5-.1 .6 .7 .5-.4 .6-.3 .6 .1 .5 .2 .6 .3 .5-.2 .6-.4 .5-.8 .6-1.1 .6-.9 .5-.9 .6-1 .5-.9 .6-.5 .5 .5 .6 .5 .5 .9 .6 .9 .6 .9 .5 1.3 .6 1 .5 .1 .6-.3 .5-.5 .6-.1 .5-.1 .6-.7 .6 .5 .5 .5 .6 1.5 .5 .8 .6-.3 .5-1.2 .6-1.1 .6-.9 .5 .1 .6 1 .5 .7 .6 .2 .5 .5 .6-.5 .5-.6 .6 0 .6-.6 .5-.4 .6-.5 .5 .9 .6 .9 .5 .9 .6 .4 .5 .4 .6 .1 .6 .9 .5 .6 .6 .8 .5 .5 .6-.1 .5-.5 .6-.7 .5-.8 .6-1.4 .6-1.1 .5-.7 .6 .3 .5 0 .6 .1 .5-.4 .6-.6 .6-.1 .5 .3 .6-.1 .5 .1 .6 .1 .5 .5 .6 .3 .5 .2 .6 .2 .6-.2 .5 .1 .6-.5 .5-.3 .6-1.3 .5 0 .6-.6 .5-.2 .6-.6 .6-.5 .5-.2 .6-.3 .5 .2 .6 .5 .5-.1 .6 .4 .6-.3 .5 .1 .6-.4 .5 .2 .6-.2 .5-.2 .6-.4 .5 .1 .6 .4 .6 .1 .5 .2 .6 .5 .5 .3 .6 .4 .5-.1 .6-.3 .5-.4 .6-.1 .6-.4 .5 0 .6 .2 .5 .4 .6 .4 .5 .4 .6 .5 .6 1 .5 .5 .6-.2 .5-.4 .6-.4 .5-.1 .6-.4 .5 .1 .6-.1 .6 .2 .5-.1 .6 0 .5-.3 .6 .1 .5-.3 .6-.2 .5-.3 .6 .5 .6 .5 .5 .4 .6 .6 .5 .7 .6 .6 .5 0 .6-.9 .6-1 .5-.8 .6-1.4 .5-.3 .6-.3 .5 .1 .6 .9 .5 1.2 .6 .7 .6 .8 .5 .3 .6 .4 .5 .4 .6 .3 .5-.5 .6-.1 .5-.6 .6 0 .6 0 .5 .6 .6 1 .5 .5 .6 .3 .5-.2 .6-.3 .6-.2 .5 .4 .6 .6 .5 .1 .6-.3 .5-.4 .6-.2 .5-.1 .6 .1" fill="none" stroke="#0e0b0b" stroke-width="1.9" stroke-linejoin="round" stroke-linecap="round"/>
<rect x="859.9" y="1029" width="144" height="73.6" fill="none" stroke="#0e0b0b" stroke-width="1.85"/>
<path d="M917.5 1029.0v2.3M917.5 1102.6v-2.3M975.1 1029.0v2.3M975.1 1102.6v-2.3M859.9 1065.8h2.3M1003.9 1065.8h-2.3M1003.9 1090.4h-2.3M1003.9 1041.2h-2.3" stroke="#0e0b0b" stroke-width="1.3" fill="none"/>
<text transform="translate(847.1 1031.3) scale(1.045 1)" font-size="24.3" text-anchor="end">2.5</text>
<text transform="translate(847.1 1068.1) scale(1.045 1)" font-size="24.3" text-anchor="end">0</text>
<text transform="translate(847.1 1104.9) scale(1.045 1)" font-size="24.3" text-anchor="end">-2.5</text>
<text transform="translate(854.6 1124.4) scale(1.045 1)" font-size="24.3" text-anchor="middle">0</text>
<text transform="translate(913.5 1124.4) scale(1.045 1)" font-size="24.3" text-anchor="middle">20</text>
<text transform="translate(969.3 1124.4) scale(1.045 1)" font-size="24.3" text-anchor="middle">40</text>
<text transform="translate(994.3 1123.9) scale(1.045 1)" font-size="24.3">(s)</text>
<text transform="translate(819.2 1004.8) scale(1.045 1)" font-size="24.900000000000002">(cm)</text>
<text transform="translate(931.9 1016.4) scale(1.045 1)" font-size="28" text-anchor="middle">ML</text>
<path d="M1188.9 966.5l.5-1.1 .7-.3 .9 .6 .9 1.3 1.2 1.4 1.3 .8 .9 .4-.3 .1-1.5 .2-2.4 .2-2.8 0-2.6-.5-2.2-1.2-1.7-1.9-1.4-2.3-1-2-.8-1.5-.6-.9 .1-.7 .8-.7 1-.6 .3-.5-.5-.3-.7-.4-.1-.5 .7-.5 1.4-.1 1.4 .2 1.1 .1 .9 .1 1.1 .5 1 1.1 .7 1.4 .6 1.5 .9 1.1 1.1 .4 1.2 0 .8-.2 0-.4-.6-.4-.4-.3 .3-.7 .4-.9 .3-1-.1-1.1-.7-1.2-.6-1.3 .1-.8 .9-.1 1 .8 .7 1.5 0 1.2-1.2 .8-1.7 .2-1.3 .3-.5 .6 .2 1.1 .7 1.4 .5 1.4-.1 1.2-.7 1-1.2 1.5-1.7 1.8-1.1 1.6-.1 1.3 .5 .9 .4 1 .2 1.9 .1 2.7 .2 2.8 .6 2.4 1 1.7 1.5 .8 1.9 .4 1.9 .5 1.1 1.1-.1 1.7-.6 1.8-.3 1.6 .5 1.2 .7 .3 .1-.4-1.2-1-2.2-1.5-2.3-1.9-2-1.6-1.3-1.2-.3-.7 .6-.1 1.1 .5 1.8 .6 2.1 .8 1.7 .9 .8 .6-.3 .4-1.6 .3-2.2 .6-1.5 .8-.3 .6 .6 .4 .3 .4-.5 .4-1.5 .9-1.5 .9-.6 .8 .4 .5 .8 .8 .6 .9 .2 .7-.1 .5 0 .1 .3-.4 1-.6 1.7-.5 1.8 0 1.7 .2 1.3 .1 1.1-.2 1.3-.3 1.7 .2 1.7 1 1.1 1.2 .6 1 0 .6-.2 .1 .2-.4 .3-.7-.3-1.1-1.2-1.2-1.7-1-2.1-.9-2.2-1.1-2.4-.8-2.1-.6-2-.6-1.7-.7-1.3-.7-.7-.5 .2 .1 1 .8 1.2 .7 .8-.1 .6-1 .8-.8 1.3 0 1.7 .9 1.8 .9 1.4 .3 1.3-.2 1.1-.3 .6-.3 .1-.2 .2 0 .5 .4 1.2 .3 1.7-.1 1.5-.8 .6-1.2 .1-1.1 0-.9 .3-.9 .6-1 .6-.7 .1-.4-.1 .2-.4 .2-1 .1-1.7-.1-1.7-.6-1.4-1-.3-1 .9-.8 1.3-.7 .9-.5 .3-.5-.1-.8-.5-1.3-.9-1.9-.9-2-.8-1.8-.7-.9-.6 .5-.2 1.5-.4 1.5-1.6 .6-2.7-.6-3.3-1.2-2.9-1.1-1.6-.6-.2-.5 .5-.5 0-.5-.3-.2-.5 .2 0 .1 1-.2 2.1-.2 2.3 .2 1.8 .5 .8 .7-.7 .5-1.8 .7-1.7 1.5-.9 1.9 .1 1.4 1 .3 .9-.3 .5-.2 .8 .5 1.2 .6 1.7 .4 1.5-.3 .8-.8-.2-1-.2-.8 0-.4 .1-.2-.5-.1-1.5-.3-2.1-.4-1.7-.6-1-.9-.5-.6-.3 .1-.5 .8-.2 1.2 .4 1.2 .9 .7 1.1 .3 .9 0 .5-.3 0-1 .1-.9 .1-.2-.4 .3-1.2 .6-2 .3-2-.3-1.1-1-.3-.7-.3-.4-.7-.3-.9-.5-1.1-.5-1.2-.6-1.3-.1-1.4 .6-1 1.2 .2 1.3 1.4 1.1 1.9 .8 1.9 .6 1.8 .8 1.7 1.6 1.3 2.2 .7 2.2 .2 1.6-.5 .6-.8-.3-1-.2-1.3 .2-1.8 .5-1.9 .5-1.6-.1-1.2-.5-.6-.7 .4-.9 1.1-.9 1.8-.6 1.5-.1 1 .7 .4 1.2 .7 1 1.5 .4 1.5 0 .4 .4-.6 .8-1 .6-.3-.2 .9-1.1 1.3-1.4 .5-1.1-.7-.5-1.1 .1-.9 .3-.7 .9-.8 1.4-1.2 2-1.2 1.9-.8 1.3 0 .4 .3-.1 .6-.4 1 0 1.3 .5 .9 .9 .1 1.4-.2 1.6 .1 1.5 .9 1 1.6 .5 1.6 .1 1.4 .5 1.3 1.2 1.2 1.6 .9 1.7 .5 1.4 .3 .7 .4 .4 .9 .2 1.3 0 1.1-.3 .2-.6-.7-1.3-1.2-2-1.3-2.3-1.3-1.8-1.3-.5-1.3 .9-1.1 1.9-.8 2.3-.4 2.2 .3 2.2 .6 1.9 .5 1.5 .2 1.2-.7 .9-.9 .6 .3 .7 1.8 .6 2.8 .5 2.9 .6 2.5 .5 1.5-.3 .6-1.5-.4-2.1-1.2-2.4-1.1-2.2-.5-1.4 .2-.9 .5-.8-.2-.7-.7-.2-.9 .2-.4 .2 .4 0 1.4-.3 2-.1 1.5 .9 .8 1.8 .3 2.1 .2 1.5 .4 .7 1 .4 .9 .1 .6 .3 .5 .7 .3 .9 0 1-.2 1.3-.1 1.7 .4 2 1.2 1.6 1.6 .4 1.2-.7 .1-1.5-.9-1.5-1.3-.4-1.4 .2-1.1 .1-.9-.6-.9-1.5-.5-2 .1-2-.1-1.8-.7-1.5-1.4-1.2-1.4-1.1-.5-1.1 .9-1.3 1.3-1.8 .3-1.8-.9-1.2-1.6-.7-1.6-.3-1.3-.3-1.1-.1-1.1 0-1.1 .3-1.1 .7-1.1 .6-.8 .4-.1-.3 .5-.9 .6-1.3 .1-1.1-.9-.8-1.5-.3-1.3 .2-.2 .4 .8 .3 1.5 .2 1.3 .5 1.1 1.1 1.1 2.7 1.7 3.7 2.4 3.7 2.2 2.9 1.3 2.3 0 1.9-.6 1.5-.5 .7 .3-.5 1-1.6 .9-2.4 .3-2.5-.5-2.6-.6-2.9-.3-2.8-.5-2.3-1.1-1.8-2.1-1.5-2.5-1.5-1.8-1.9-1-2.2-.5-2.4-.6-2.4-.8-2.8-.5-3 .1-2.9 .7-2.3 1-1.7 1-1.4 .7-1.4 .8-1.3 .5-1.2-.1-.9-.6-.7-.8-.3 .1-.1 1.2-.5 1.7-1.2 1-1.9-.1-1.9-.5-.9-.3 .3-.1 .9-.1 .7-.4 .4-.7 .8-1 1.2-.9 1.7-.8 1.5-.6 .8 .1 0 .5-.8 .4-1.4 .5-1.8 .7-1.7 1-1.4 1.1-1 1-.4 .3 .3-.8 1.1-1.3 1.7-1.3 1.6-.9 1.4-.6 1-.4 1.4-.4 2.4-.1 3.3 .3 3.9 .4 3.6 .5 2.4 0 .9-.8 0-1.5-.4-1.4-.2-.8 0 .2 0 0-.1 .5 0 1.2 0 1.8 0 1.5-.4 .9-.6 .3-.4 .7 .2 1.2 .9 1.4 1.3 1.3 1.3 .8 1 .2 .8 0 .4-.1 .3 .2 .2 .1 .4-.3 .8-.9 1.2-.9 1.3-.8 1.3-.6 1.1-.9 .8-1.3 .4-1.3 .3-1.1 .5-.4 .7-.1 .8 .2 .9 .5 1 .5 1 .2 1.1-1 .8-2.4 .5-3-.1-2.4-.5-1.5-.7-1.1-.9-1.1-1.3-1.2-1.5-.5-1.7 .6-1.6 1.3-1.3 .9-.8 .5-.6 0-.1-.1 .6-.5 1.6-.6 1.8-.4 1.5-.3 .8 0-.1 .3-.5 .6-.7 .7-.4 .6 .2 .5 .6 .7 .5 .7-.3 .6-1.2 .3-1.7 0-1.4-.3-1.1-.5-1.1-.2-.9-.1-.3 .1 .3 .2 .6-.4 .7-1.3 .2-1.5-.5-.8-.5 .6-.4 2.1-.4 2.9-.5 2.6-.7 2-.9 1.9-.9 2.1-1 2.7-1.2 2.3-1.2 .7-1-.9-.7-1.5-.7-.9-.7 .3-1 1.5-1 1.5-1 .6-1.2 .1-1.2-.3-.6-.4-.3-.3 .1 .2 .4 .2 .4-.2 .3-.7 0-.9-.3-.5-.1 .2 .6 .3 1.3-.2 1.3-.9 1.1-.5 .7 .1 .2 .8 .3 1.3 1 1.1 1.5 .8 1.4 .5 1.1 .3 .3-.3-.4-.8-.1-1.1 .7-.9 .8-.6 .8-.3 .8-.4 .7-.8 .5-1.4-.1-1-.2-.3-.2 0 .4-.4 1-.6 1.1-.5 .8-.2 1 .5 1.5 .3 1.4-.3 1.4-.3 1-.2 .9 0 .9 .1 1.1-.2 .7-.5-.3 .2-1.3 .8-1.8 1.2-1.9 1.6-1.4 1.7-1.1 .9-.8 .3-.6 0-.4 .2-.3 .8-.2 1.2-.4 .8-.3 .1-.4-.2-.4 .2-.6 .7-.7 1-.6 1-.9 .7-1.1 .2-1.3-.5-1.4-.6-1.4-.6-1.3-.2-1.1-.2-1.1-.4-.8-.5-.6-.6-.3-.7 0-1-.3-1-.5-.2-.3 .8-.1 1.8-.1 2.3-.1 1.9-.7 1.3-1.4 .4-1.3-.3-.8-.3 .2 .3 1.5 .7 2 .6 2.3-.2 2.2-1.1 2.1-1.3 2.1-.7 2.4 .2 2.6 .8 2.7 .8 3.2 0 3.4-.2 3.3-.2 2.3-.1 .8-.3-.5-.5-.9-.5-.6-.1-.1 .2 .1-.4 .2-.9 .2-.8 .7-.7 .7-.4 .5 .4-.1 .6-.7 .6-1.1 1.1-1.2 1.7-1.1 2.3-1 2.4-1.1 1.7-.8 .1-.5-1.1-.6-1.4-.9-.9-.7-.5-.6-.5-.6-.5-.7 0-1 .1-.6-.3-.4-.9-.4-1.3-.7-1-.6-.1-.3 .5 .1 .6 .1 .5-.2 .5-.9 .3-1.2-.2-1.2-.6-.9-.4-.4-.3 0-.2 .5-.4 .5-.3 .4 .2 .3 .6 .2 .5 .5-.3 .6-1.1 .9-.9 1.1 .1 1.3 .7 1.6 .7 1.5 .3 .9-.1 .8-.3 1.1-.1 1.5 .1 1.7 .5 1.4 .8 .7 1.4 .2 1.4 0 1.1 .4 .8 .3 .5 .1-.1-.4-.9-.6-1.7 0-2.2 1.2-1.5 2.1-.5 2.4 .2 1.7-.1 .7-.8 0-1.7-.2-1.8-.1-1.2-.3-.3-.7 .4-.8 .7-.5 .4-.4-.3-.9-.9-1.8-.6-2.6-.1-2.4 .8-1.4 1.2 .2 1.1 1.1 .9 1.1 1.2 .2 1.4-.4 1.4-.7 1-.5 .3-.1-.5-.2-.8-.2-1.1 0-1.5 .3-1.4 .4-1.5 0-1.5-.4-1.6-.8-1.5-.6-1.3-.1-.7 .4-.4 .7-.2 1.2 .3 1.4 .3 1.8 .1 2.6 0 2.6 .4 2 1.1 1.2 1.6 .5 1.7-.1 1.2-.3 .2-.3-.5-.4-.3-.5 .2-.1 .8 .3 1.5 .6 1 .6-.2 .3-1-.2-1.3-.4-1 0-.7 .5-.4 .6-.4 .3-.2-.3 .3-.4 .4 0-.4 .9-1.1 1.2-1.3 1.1-.8 1 0 1.7 .7 2.3 1.3 1.9 1.9 .8 2.3-.7 2.2-1.3 1.8-.5 1.4 .7 1.3 1.3 1.1 .9 .2 .1-.5-.6-1.2-.7-1.3-.7-1-.4-.7-.4-.6-.6-.7-.2-.5 0-.6 .1-.8-.1-.8 0-1 .2-.9 .8-.8 1-.4 .6-.2-.1-.1-.3-.2 0-.2 .6 0 1.2 .3 1.7 .5 2 1 2 1 1.4 1 .7 .9 .4 .4 .1-.1 0-.3 .4-.7 .8-1.1 .9-1.9 .5-2.5-.5-2.6-1-2.2-1-1.4-.8-.7-.6-.3-.4-.3-.6-.5-1-.3-1.8 .1-2.8 .6-3.1 .9-2.7 .8-2 .8-1.2 1-.6 1.1-.3 1-.4 1.2-.5 1.7-.5 2.3-.1 2.5 .2 2-.1 1.3-.7 .4-1.2 0-1.1-.2-.2-.3 .9-.3 1.4-.5 1.4-1 1-1.3 .8-1 1-.5 1.1 .3 1.5 1 1.6 1 1.2 .6 .4 .1-.4-.4-1.3-.8-2.1-.8-2.3-.8-2.5-.3-2.2 .9-1.8 1.9-1.2 1.9-.8 1.1-.4-.4 .3-1.6 .7-2.1 .6-1.9 .1-1-.2 1.1 .5 1.3 .8 .4 1-.6 1.4-1.2 1.8-1.6 1.6-1.6 .9-1.9 0-2.4-.5-2.4-.8-1.6-1.1-.8-1.2 .2-1.1 1.4-1.1 1.6-1.3 1.3-1.2 .7-.9-.1-.7-1-.3-1.3-.3-1.2-.5-.8 0 0 .6 0 .8-.3 .7-.7 .2-.9-.4-.5-.6 .4-.3 1-.1 1.6-.1 1.9 0 2-.3 2-.4 1.5-.4 .6-.2-.3 0-.9 .1-.9 0-.9 .1-1.2-.1-1.7-.3-1.6-.5-.9-.5-.2-.5 .5-.4 .5-.1-.1 0-.4 0-.4-.5-.4-1.2-.5-1.5-.8-.9-1.1 .2-1 1 .1 1.1 1.3 .7 1.6 .2 .8 .1-.3 .2-1.3 .5-1.2 .8-.4 1 .2 .7 .1 .2 .3-.1 .2 .1 .3 .6 .6 .8 .8 .2 .8-.6 1-1.3 1.1-1.4 1-1.6 .4-1.9 .1-2 .1-1.9 .3-2 0-1.9-.6-1.6-.8-.8-.5 .4 .3 1 .5 .9 .3 .3 .1 0 0 .3 0 1-.1 1.5 0 1.7-.1 1.5-.2 1-.5 .5-1.1 .3-1 .4" fill="none" stroke="#1b40a0" stroke-width="2.1" stroke-linejoin="round" stroke-linecap="round"/>
<path d="M1190.9 969.1l0 .2-.4 .1-.8 .2-.6 0 0 .1 .5 .1 .3 0-.3-.3-.7-.6-.7-.7-.6-.8-.5-.7-.8-.6-.9-.5-.8-.6-.3-.8 .3-1.3 .6-1.6 .7-1.7 .4-1.6 .4-1.4 .1-1 .1-.9 .1-.8 .3-.7 .2-.3 .1 0-.1 .4-.3 .9-.3 1.2-.4 1.5-.1 1.6 .2 1.6 .2 1.7 .4 1.5 .4 1.1 .3 .4 .1-.3 .3-.7 .2-.7-.2-.7-.2-.6-.3-.7-.4-.4-.4 0-.1 .1 0 .3 .2 .3 .5 .3 .3 .2-.1 .2-.4 .1-.3 .3 .4 .2 .9 0 .9-.3 .4-.3 0-.1-.3 .1-.4 .4-.2 .8-.4 1.3-.2 1.8 .1 2.1 .2 2.1 .2 2.2-.1 2.2-.3 1.9-.4 1.7-.2 1.4 .1 1.3 .3 1.5 .5 1.8 .5 1.8 .5 1.7 .5 1.7 .6 1.4 .3 1 .2 .7-.1 .2-.4-.3-.5-.6-.3-.5-.5 0-.4 .4-.4 .4-.4 .1-.3-.4 .3-.8 .6-.5 .6 .2 .4 .6 0 .9 .1 .7 .6 .5 1.4 .3 1.7 0 1.6-.3 1-.6 .8-.5 .8-.2 .8 0 .6 .2-.2 .1-.9 .2-1.3 .5-1 .7-.3 .5 0 .6-.1 .7-.3 .8-.1 .9 .2 .7 .3 .5 .2 .5 .4 .5 .6 .4 .6 .5 .6 .5 .1 .5-.4 .2-.9 0-1 .1-.9 .3-.8 .3-.6-.1-.3-.7-.3-1.1 0-1.1 .1-.8-.1-.4-.6-.3-.9-.6-.7-1.3-.3-2.1-.1-2.1-.2-1.7-.8-1.1-1-.5-.5 .1 .2 .5 .8 1.2 1.1 1.3 1.1 1.1 1 .7 1 .6 .7 .7 .4 .9 .3 .7 .6 .1 .9-.4 .8-.8 .7-.9 .5-1.1 .6-1.3 1-1.6 1.1-1.8 .8-1.8 0-1.7-.8-1.1-.8-.6-.5-.3 .2-.3 .6-.6 .5-1 .4-1.1 .4-1 .3-.7-.1-.6-.3-.5-.2-.2 .2-.1 .3 0 .4 0 .2 0-.3-.1-.7-.1-1-.1-1.3-.5-1.1-.7-.5-.8-.1-.6 0-.5-.2-.4-.4-.6-.7-1-.9-1.2-1.3-.9-1.8-.7-2-.5-2-.4-1.4-.4-.7-.6-.2-.8 0-.5 .4-.1 .9 .7 1.6 1.1 1.8 1.2 1.5 .8 1 .8 .8 .7 .9 .7 1.1 .8 .9 .7 .6 .7 .4 .6 .4 .4 .5 .2 .2 .2-.5 .4-1.2 .7-1.5 .9-1.6 .7-1.1 .1-.6-.3-.5-.4-.5-.2-.5 0-.6 .1-.6 0-.5-.1-.6-.3-.9-.5-.8-.6-.6-.6-.4-.4-.2-.2 .2-.3 .3-.1 .3 .2 .2 .7-.2 1.1-.7 1-1.2 .6-1.5 .1-1.5-.2-1.2-.3-.8-.2-.5-.4-.3-.6 0-.5 .1-.3 .4-.2 .1-.2-.1-.2-.7 0-.9 .8-.8 1.4-.3 1.6-.1 1.6 .1 1.4 .5 1.3 .5 .7 .4 .3 .1 0 .1 .1 .2 .5 .5 .6 .6 .6 .6 .2 .4-.1 .4-.3 .2-.5-.2-.2-.7 .2-1.1 .5-.8 .4-.3-.1 .3-.9 .7-1.5 1-1.5 1.4-1.2 1.2-.3 .9 .3 .5 .7 .1 .7 .2 .6 .4 .4 .5 .2 .5-.1 .7-.1 .8-.2 .5 0 0 .1-.4 .5-.5 .9-.3 1.3 .2 1.3 .5 1 .4 .8 .1 .7 .1 .6 .3 .3 .5 .2 .8 .3 .8 .8 .6 1.5 .1 1.9-.2 2.2 .2 2.2 .7 2 1.3 1.9 1.6 1.6 1.6 1.2 1.3 .7 .7-.1 .4-.4-.1-.6-.4-.5-.7-.2-.9-.2-.7-.4-.7-.5-.9-.8-1.3-.9-1.4-.8-.9-.6 .1-.2 .9 .4 1.2 1 .9 1.4 .5 1.6 .2 1.7 .2 1.9 0 2-.1 1.9 .1 1.8 .2 1.8 .4 1.5 .2 1.1-.3 .4-.7-.3-.5-.8 0-.8 .3-1 .2-1.5 .1-2 .1-2.1 .7-2.1 1.2-1.9 1.3-1.6 1.2-1 .8-.7 .7-.4 .7-.1 .6 0 .4-.1 .4 .1 .4 .4 .6 .8 .7 1 .6 1.3 .4 1.6 .4 1.9 .4 2 .4 2.2 .4 2.2 .4 1.8 .5 1.7 .7 1.8 .8 1.6 .7 1.1 .2 .3 .1-.4 .4-1 .7-1.2 .6-1.2 .3-1.1-.4-1.1-.3-.9 0-.7 .2-.7 0-1.1-.2-1.3-.6-1.4-.6-1.3-.7-1.3-.9-1.3-.9-1.3-.7-1.4-.7-1-.5-.8-.8-.9-1.3-1.3-1.4-1.4-1-1.3-.5-.9-.1-.6 .2-.5-.2-.8-.7-1.1-.8-1.3-.9-1.3-1-1.2-.8-1.2-.6-.7-.8-.2-1 .6-.8 1.2-.3 1.4 .2 1.2 .9 1.2 1 1.2 1 1.5 .7 2 .3 2.3 .2 2.3 .7 2.1 1 1.5 .9 .3 .7-.5 .2-1-.2-1-.1-1 .4-1.1 .5-1.3 .2-1.8-.1-2-.3-2-.2-2.1 .1-2 .1-1.5-.6-1.4-1.3-1.7-1.5-1.9-1-2-.7-1.8-.2-1.6-.1-1.6-.6-1.8-.9-1.8-1-1.7-.6-1.8 .2-1.8 .7-1.5 .4-1 0-.6 0-.8 .2-1.3 .8-1.8 .8-1.8 .6-1.4 .3-.5 0 .2 0 .6 .1 .8 .4 .6 .8 .5 .8 .8 .6 .9 0 1.1-.4 .7-.2 .1 .2-.7 .5-1.1 .5-1.5-.1-1.5-.4-1.5-.4-1.3-.4-1-.4-.3-.6 .7-1.1 1.9-1.4 2.8-1.5 3.1-1.3 3.2-1 3.2-.9 3.4-1 3.3-1 3.1-.9 2.6-.6 2.2-.5 1.7-.2 1.1 .3 .3 .9-.4 1.1-.9 1.1-1 1.2-1 1.4-.7 1.7-.4 1.8-.1 1.3 .1 .5 0 .1-.2-.5-.3-.5-.3-.4-.2-.5 0-.4 .3-.3 .3-.3 .3-.3 .2 .1 .3 .8 .5 .6 .9 .1 1.3-.7 1.1-1.3 .9-.9 .6-.1 .4 .6 .6 .4 1 0 1.4-.5 1.4-.9 1.2-1 1.2-.8 1.1-.4 1.2-.1 1 0 .7-.3 .6-.5 .4-.7 .1-.6-.2-.8-.5-.7-.4-.5-.5-.1-.8-.1-1.1-.3-1-.7-.5-.8-.1-.4 0 0-.3-.2-.2-.4-.1-.7 .1-1.1 .3-1.3 .4-1.2 .3-.6 0 .2-.1 .8-.2 .9-.1 .8 .1 .4 .3 0 .4-.5 .1-.4-.3-.2-.8 .3-.9 .6-.7 .6-.7 .3-.9 .3-1 .4-1 .9-.8 1.4-.7 1.8-.5 1.7-.4 1.6-.2 1.9-.1 1.8-.3 1.4-.5 .5-.4-.3-.1-.6-.1-.3-.1-.1-.3-.1-.8-.6-1.1-1-1.3-1.1-1.2-.5-1.2 .3-1.1 1-1 1.6-.9 1.6-.6 1.6-.3 1.4 .2 .8 .7 .2 .7-.1 .3 .1-.2 .5 0 .7 .2 .5 .3 .3 .2 .1 .1-.6 .4-1.1 .5-1.2 .5-1.2 .7-.9 .7-.4 .8-.1 .7 0 .4 .1 .3 .1 .3 0 .7 0 .9 .4 .9 .9 .9 1.4 .9 1.1 1.2 .4 1.3-.6 1.2-1.1 .9-.9 .5-.3 .2 .1 .1 0 .1-.4 .3-.8 .6-.7 .9-.3 .8-.2 .5-.2 .2-.2 0-.1 0 .4-.2 1-.4 .8-.2 .4 0 .3 .2 .3 .2 .3-.3 .3-.8-.3-1-.8-.9-.7-.6 0-.6 .4-.6 .3-.9-.2-1.1-.6-1.4-.7-1.5-.1-1.6 .4-1.4 .5-1.1 .5-1 .7-1.1 .8-1.3 .7-1.4 .2-1.4-.3-1-.4-.6-.1-.3 .4 .1 .7 0 .5-.4 .1-.4 .3-.3 .9 0 1.5 .1 1.4-.3 .8-.6 0-.4 .1 .1 .8 .5 1.5 .9 1.8 1.2 1.5 1.2 .7 1.2 0 1.5-.4 1.5-.3 1.7 .1 1.7 .3 1.8 .2 1.7-.2 1.8-.7 1.8-.9 1.5-1.1 1-1.3 .6-1.3 .9-1 1.5-.3 1.8-.1 1.7-.2 1.2-.5 .7-.6 .6-.3 .8 .2 1.3 .5 1.4 .5 1.2 .5 .7 .5-.1 .7-.8 .8-1.4 .7-1.7 .3-1.5-.3-1-.3-.6-.2-.7 .4-1.1 .6-1.6 .4-1.7-.1-1.3-.7-.8-1.1-.5-1-.5-.5-1-.5-1.6-.5-1.9-.1-2 .5-1.5 1.1-1.2 1.1-.8 .7-.6-.1-.5-.6-.3-.7 0-.4 .5-.1 .8 .5 .9 .4 .6-.1 .1-.9-.2-1.4 0-1.7 .2-1.5 .5-.8 .4-.2 .4 .3 .2 .3 .6 .2 .9-.1 1.2 0 1.3 .3 1.3 .4 1 .3 .9 .4 .9 .9 1 1 1.3 1.1 1.4 1.1 1.5 .8 1.6 .6 1.7 .1 1.8-.3 1.7-.4 .8 .1 0 .7-.6 .8-.8 .3-.8-.4-.6-.8-.5-.6-.6-.1-.6 .3-.6 .2-.7 .1-.7-.2-.5-.4-.1-.5 .2-.6 .4-.7 .5-.7 .5-.5 .2-.3 .1 0-.1 .6-.4 .6-.6 .3-.5 0-.4-.2-.4-.6-.5-.8-.5-.8-.5-.9 0-.9 .3-.7 .2-1 .1-1.5 .2-1.9 .2-2 .1-1.7-.1-1.2-.5-.6-.5-.1-.1 .3 .5 .4 .4 .5 .1 .5 .2 .8 .5 1.1 1 1.2 1.2 1.1 .8 1.1 .3 1.4 .2 1.9 .6 1.7 .9 1.1 .8 .4 .6 .2 .3-.1 0-.6 .1-1.5 .2-2.1 .5-1.8 1-.9 1.2 .1 1.5 .5 1.6 .3 1.6 .2 1.2 .3 .9 .8 .5 1.3 .2 1.1 .2 .7 .4 .1 .5-.3 .4-.5 .1-.5 0-.5-.1-.4-.1-.3 0-.3-.3-.2-.6-.2-.5-.2-.5-.2-.5-.3-.6-.2-.5 .1-.3 .5 0 .7 .2 .9 .3 1 .1 1-.2 1.3-.3 .9-.2 .5 .2-.3 .9-.6 1.4-.2 1.3 .3 .9 .3 .6 0 .6-.2 .9-.3 1-.3 1-.3 .7-.5 .6-.8 .5-1.3 .5-1.3 .5-1 .6-.5 .8 .1 1.2 .3 1.2 0 1-.3 .9-.6 1.1-.8 1-1.2 .5-1.4-.3-1.3-1.5-1.1-2.1-1.1-2-.9-1.6-.6-1.2-.4-1.4-.7-1.9-.7-2.2-.7-2.2-.3-1.8 .6-1.5 1.3-1.2 1.6-1.1 2.1-1.1 2.3-.9 2.1-.6 1.5-.5 1.2-.8 .7-1.2 .6-1.8 .8-1.7 1.1-1.2 1.2-.4 1.2 .1 .8 .4 .2 .8 .1 1.2 .6 1.5 .7 1.7 .7 1.5 .6 1.7 .3 1.8 .2 1.7 .2 1.6-.3 1-.8 .2-1.1-.7-.7-1.2-.2-1.1 0-.7 0-.3-.3 0-.3-.1 0-.7 .1-1.2 0-1.5-.3-1.2-.6-.7-.5 0 .1 .3 .2 .4 .1 .7 0 1.1-.4 1.4-.6 1.4-.9 1.2-1.5 .9-1.8 .9-1.4 .6-.8 .1-.1-.4 .2-.9-.1-1-.5-1.2-.7-1.4-.9-1.3-1.1-1.4-1-1.4-.9-1.3-.4-1 0-.8 .3-.5 .6-.3 .7-.3 .2 0-.3 .3-.8 .4-1.2 .3-.9 .3-.6 .3-.3 .1 .1 0 .4 0 .3 .2 .3 .3 .4 .3 .5 .2 .7-.2 .5-.5 .4-.5 .4-.3 .2 0 .1 .2 0 .2-.2 .1-.2-.1-.2-.3-.1-.7 0-.8 .4-1.2 .5-1.3 .2-1.4-.5-1.3-.9-1.2-.9-.9-.4-.4-.1-.1-.1 .2-.3 .2-.6 .2-.4 .3-.1 .8 .1 1.4-.3 1.4-1 1.2-1.6 .9-1.9 .8-1.5 1-.8 .9-.1 .7 .2 .2 .4-.5 .3-1 .3-1.1 .2-1.2 0-1.4 .2-1.5 .5-1.7 1.1-2 1.2-2.1 1-1.8 .6-1.3 .1-.6-.4 .1-.6 .7-.5 .9-.4 .9-.1 .9 0 .8 .2 .9 .7 1 .9 1.1 1 1.2 1 .9 .9 .3 .7-.1 .7-.2" fill="none" stroke="#1b40a0" stroke-width="2.1" stroke-linejoin="round" stroke-linecap="round"/>
<rect x="1076.5" y="906.4" width="233.4" height="176.1" fill="none" stroke="#262424" stroke-width="1.85"/>
<path d="M1193.2 906.4v3.0M1193.2 1082.5v-3.0M1076.5 994.5h3.0M1309.9 994.5h-3.0" stroke="#262424" stroke-width="1.3" fill="none"/>
<text transform="translate(1066.2 914) scale(1.045 1)" font-size="28" text-anchor="end">2.5</text>
<text transform="translate(1066.2 1002.1) scale(1.045 1)" font-size="28" text-anchor="end">0</text>
<text transform="translate(1066.2 1090.1) scale(1.045 1)" font-size="28" text-anchor="end">-2.5</text>
<text transform="translate(1080.8 1114.7) scale(1.045 1)" font-size="28" text-anchor="middle">-2.5</text>
<text transform="translate(1195.5 1114.7) scale(1.045 1)" font-size="28" text-anchor="middle">0</text>
<text transform="translate(1308.7 1114.7) scale(1.045 1)" font-size="28" text-anchor="middle">2.5</text>
<text transform="translate(1043.3 880.2) scale(1.045 1)" font-size="28.7">(cm)</text>
<text transform="translate(1318.4 1079.8) scale(1.045 1)" font-size="28.7">(cm)</text>
<path d="M859.9 1238.3l.6 1 .5 .8 .6 .7 .5 .4 .6 .8 .5 .4 .6 .5 .5 .8 .6 .2 .6-.6 .5-1 .6-.4 .5-.4 .6-.1 .5-.4 .6-.6 .6-.6 .5 .1 .6 0 .5 .2 .6-.4 .5-.3 .6 1.3 .5 2.4 .6 1.9 .6-1.1 .5-1.8 .6-1.4 .5-1.1 .6 1.6 .5 1.2 .6 .7 .5-1.5 .6-1.4 .6-1.3 .5-.4 .6 .5 .5 .5 .6 .8 .5 .9 .6 0 .6-.3 .5-.8 .6-.7 .5-.2 .6 0 .5 0 .6 .1 .5 .2 .6 .8 .6 .6 .5 .9 .6 1.2 .5-.4 .6-.3 .5-.4 .6-.4 .5-.7 .6-.8 .6-.9 .5-.4 .6-.1 .5 1.3 .6 1.5 .5 1.5 .6-.4 .6-1.7 .5-1.4 .6 .4 .5 1.1 .6 .6 .5 .6 .6-.9 .5-.5 .6-.7 .6-.6 .5 .2 .6 .2 .5 .9 .6 1 .5 1.2 .6-.7 .5-.4 .6-.6 .6 .3 .5 .5 .6-.5 .5-.6 .6-1 .5-.4 .6 0 .6-.6 .5-.4 .6-.9 .5 .4 .6 .1 .5 .5 .6-.2 .5 .5 .6-.5 .6 .2 .5-.1 .6 .7 .5-1.3 .6-1.8 .5-1.7 .6-1 .5-.4 .6 .1 .6 .5 .5 2.3 .6 1.6 .5 .9 .6-.1 .5 .6 .6 .9 .6 .8 .5-.5 .6-.1 .5-.3 .6 .4 .5 .1 .6 .2 .5 .2 .6-.5 .6-1.2 .5-.8 .6 .2 .5 1.4 .6 .8 .5 .7 .6-.1 .5 .6 .6 .4 .6 .4 .5-.3 .6 .7 .5 .6 .6 1 .5-.1 .6-1.5 .5-1.4 .6-1.5 .6-1.4 .5-1.1 .6-1.4 .5-1.6 .6-1 .5 0 .6 .3 .6 .1 .5 .6 .6 .2 .5 .4 .6-.1 .5 .9 .6 1.5 .5 2.1 .6 1.3 .6-1.1 .5-1.7 .6-1.5 .5-.8 .6-.3 .5-.2 .6-1 .5-.2 .6 0 .6 1 .5 .6 .6 .4 .5 .5 .6 .6 .5 .9 .6 .5 .6-.7 .5-.5 .6-.9 .5-.3 .6-.4 .5 1.1 .6 .5 .5 1.4 .6 .5 .6 1 .5-.2 .6 .4 .5 .3 .6 .2 .5-.1 .6-.7 .5-.1 .6-.4 .6 .3 .5-.2 .6 0 .5-.3 .6-.7 .5-.5 .6 0 .6-.3 .5-.3 .6-.4 .5 .4 .6-.1 .5-.4 .6-.1 .5 .5 .6 .5 .6 .4 .5-.3 .6-.3 .5-.3 .6 .2 .5 0 .6 .4 .5-.1 .6 .2 .6-.4 .5 .5 .6 .7 .5 .9 .6 .1 .5 0 .6 .6 .6 .8 .5 .7 .6 .6 .5 .3 .6 0 .5-.7 .6-.4 .5-.4 .6-.2 .6-.5 .5-1.3 .6-1 .5-.8 .6 .6 .5 1 .6 1.1 .5 .1 .6-.3 .6-1.3 .5-.6 .6-.2 .5 .6 .6 1.4 .5 .9 .6 .8 .6 0 .5-.2 .6-.8 .5-.7 .6-.8 .5-.4 .6-.6 .5-.3 .6-.1" fill="none" stroke="#0e0b0b" stroke-width="1.9" stroke-linejoin="round" stroke-linecap="round"/>
<rect x="859.9" y="1202.7" width="144" height="73.6" fill="none" stroke="#0e0b0b" stroke-width="1.85"/>
<path d="M917.5 1202.7v2.3M917.5 1276.3v-2.3M975.1 1202.7v2.3M975.1 1276.3v-2.3M859.9 1239.5h2.3M1003.9 1239.5h-2.3M1003.9 1264.1h-2.3M1003.9 1214.9h-2.3" stroke="#0e0b0b" stroke-width="1.3" fill="none"/>
<text transform="translate(847.1 1207.7) scale(1.045 1)" font-size="24.3" text-anchor="end">2.5</text>
<text transform="translate(847.1 1244.5) scale(1.045 1)" font-size="24.3" text-anchor="end">0</text>
<text transform="translate(847.1 1281.3) scale(1.045 1)" font-size="24.3" text-anchor="end">-2.5</text>
<text transform="translate(860.1 1301.8) scale(1.045 1)" font-size="24.3" text-anchor="middle">0</text>
<text transform="translate(919 1301.8) scale(1.045 1)" font-size="24.3" text-anchor="middle">20</text>
<text transform="translate(974.8 1301.8) scale(1.045 1)" font-size="24.3" text-anchor="middle">40</text>
<text transform="translate(995 1298.8) scale(1.045 1)" font-size="24.3">(s)</text>
<text transform="translate(826.8 1181.7) scale(1.045 1)" font-size="24.900000000000002">(cm)</text>
<text transform="translate(931.9 1191.4) scale(1.045 1)" font-size="28" text-anchor="middle">AP</text>
<path d="M859.9 1388.9l.6-.6 .5-.5 .6-.3 .5 .2 .6 .3 .5-.2 .6-.3 .5-.5 .6-.6 .6 .1 .5 .2 .6 .5 .5 .1 .6 .2 .5 0 .6 0 .6 .1 .5-.3 .6-.5 .5-.2 .6 .1 .5 .8 .6 .4 .5 .6 .6 0 .6-.2 .5-.7 .6-.7 .5-.2 .6 .2 .5 .5 .6 0 .5 .1 .6-.5 .6-.2 .5-.1 .6 .8 .5 .4 .6 .7 .5 0 .6 .4 .6 .1 .5 .2 .6-.5 .5 .4 .6 .1 .5 .2 .6 .1 .5 .1 .6-.1 .6 0 .5-.5 .6-.5 .5-1 .6-.1 .5-.1 .6 .1 .5-.3 .6-.2 .6-.3 .5 .3 .6 .5 .5 .8 .6-.6 .5-.7 .6-.9 .6-.7 .5 .6 .6 .5 .5 .8 .6 .4 .5-.3 .6-.3 .5-.1 .6 .1 .6 1 .5 1.7 .6 1 .5 1.2 .6-.5 .5-.8 .6-.6 .5-.6 .6-.2 .6 .6 .5 .4 .6 .5 .5 .1 .6 .8 .5 .4 .6 .6 .6-.5 .5-.6 .6-.5 .5-.4 .6-.6 .5-.4 .6-.4 .5 .1 .6-.4 .6-.9 .5-.8 .6-.2 .5-.1 .6 .4 .5 .8 .6 .9 .5 1.1 .6 1.3 .6 1.7 .5 .3 .6-.2 .5-1.3 .6-.9 .5-1.4 .6 0 .6-.6 .5 .5 .6 0 .5 .3 .6-.4 .5-.8 .6-.5 .5-.4 .6-.5 .6-.1 .5 .1 .6 1.1 .5 .4 .6 .2 .5-.2 .6 .3 .5 .5 .6 .4 .6-.4 .5-.2 .6-.3 .5 .4 .6-.4 .5 .1 .6 0 .5-.1 .6 0 .6-.4 .5 .2 .6-.2 .5 .1 .6 .1 .5-.4 .6-.1 .6 .2 .5-.4 .6-.7 .5-.3 .6 .6 .5 .8 .6-.4 .5 .1 .6 0 .6 .5 .5 .5 .6 .7 .5 .6 .6-.2 .5-.7 .6-.1 .5-.2 .6-.1 .6-.2 .5 .2 .6 1.1 .5 1.1 .6 0 .5-.9 .6-1.1 .6-1 .5-.9 .6-.2 .5 0 .6-.2 .5 0 .6 0 .5 .8 .6 .1 .6 .3 .5-.7 .6-.3 .5-.7 .6 .1 .5 .6 .6 0 .5 .5 .6-.3 .6 0 .5-.4 .6 .2 .5 .1 .6 .3 .5 0 .6 .7 .6-.1 .5-.2 .6 .5 .5 .7 .6 .3 .5 0 .6-1 .5-.2 .6 0 .6-.3 .5-.6 .6-1.1 .5-.6 .6-.3 .5-.2 .6 .6 .5-.1 .6 .7 .6 .2 .5 .3 .6-.4 .5 0 .6-.2 .5 .1 .6 .7 .6 .3 .5 .6 .6 1 .5 .6 .6 .2 .5-.2 .6 .4 .5-.2 .6-.1 .6 .1 .5 .2 .6-.1 .5 .1 .6 .3 .5 .4 .6 0 .5-.5 .6-.4 .6-.3 .5-.1 .6-.1 .5 .1 .6-.1 .5-.7 .6-.1 .6-.8 .5 0 .6-.7 .5-.5 .6 .2 .5 .6 .6 1 .5 .5 .6 .3" fill="none" stroke="#0e0b0b" stroke-width="1.9" stroke-linejoin="round" stroke-linecap="round"/>
<rect x="859.9" y="1352.3" width="144" height="73.6" fill="none" stroke="#0e0b0b" stroke-width="1.85"/>
<path d="M917.5 1352.3v2.3M917.5 1425.9v-2.3M975.1 1352.3v2.3M975.1 1425.9v-2.3M859.9 1389.1h2.3M1003.9 1389.1h-2.3M1003.9 1413.7h-2.3M1003.9 1364.5h-2.3" stroke="#0e0b0b" stroke-width="1.3" fill="none"/>
<text transform="translate(847.1 1353.9) scale(1.045 1)" font-size="24.3" text-anchor="end">2.5</text>
<text transform="translate(847.1 1390.7) scale(1.045 1)" font-size="24.3" text-anchor="end">0</text>
<text transform="translate(847.1 1427.5) scale(1.045 1)" font-size="24.3" text-anchor="end">-2.5</text>
<text transform="translate(855.3 1454.9) scale(1.045 1)" font-size="24.3" text-anchor="middle">0</text>
<text transform="translate(914.2 1454.9) scale(1.045 1)" font-size="24.3" text-anchor="middle">20</text>
<text transform="translate(970 1454.9) scale(1.045 1)" font-size="24.3" text-anchor="middle">40</text>
<text transform="translate(992.2 1452.9) scale(1.045 1)" font-size="24.3">(s)</text>
<text transform="translate(817.7 1329.2) scale(1.045 1)" font-size="24.900000000000002">(cm)</text>
<text transform="translate(931.9 1341.6) scale(1.045 1)" font-size="28" text-anchor="middle">ML</text>
<path d="M1191.6 1315.4l.8-.5-.1 .3-.2 1.2 .3 1.2 .1 .6-.2 .4 .1 .7 .5 .9 .7 1.3 .2 1.3 .2 1.4 .9 1.5 1.3 1.2 1.1 .2 .3-.4 .1-.3 .3 .4 0 .9-.7 .7-.9 .3-.3 0-.2-.3-.5 0-.1 .2 1 0 1.8-.5 1.6-.7 .7 .1 0 .2 .1-1.1 .4-1.7 .4-.9 .6 .1 .2-.3-.7-.9-.8-.5 .1 .4 .6 1.2-.6 .9-1.7 0-1-.5-.3-1-.2-1-.4-.5-.4-.4-.1-.4 .4-1.1 .2-1.1-.9-.6-1.5-.1-.9-.3 .1-.9 .6-.6 .4-.1-.7 0-1.4-.5-.5-.8 1.3-.8 1.4-1.1 .4-.8-.2-.1 0 .6 .8 .8 .7 .3 .1 0-.6-.5-.9-.4-.6 .3-.1 1.9 .3 2.6 .5 2.5 .4 1.9 .2 1.8-.3 1.9-.5 1.7 .3 1.8 .6 1.4 .2-.1 0-1.8 .6-2.3 .6-1.9-.1-1.2-.2-1 .2-1.3 .3-1.2-.5-1.2-.9-1.3-.3-.9 .8-.1 1 .9 .2 1.3-.3 1.1-.1 1.3 .7 1.4 .9 1.4 .9 1.2 .6 .8 .5 .2 .5-.7 .1-1.5-.1-1.4-.6-.8-.9-.6-1.1-1.5-1-1.6-.1-.3 .5 .8 .5 .2 0-1.1-.3-1.1-.9 .5-1.5 1.6-1 1.1-.2 .6 .3 .1 .2 0 .2 0 0 .5-.8 .5-1.3-.2-1.1-.6-.8-.2-.9 .2-1.2 .7-1.5 .7-1.8 .1-1.5-1-.7-1.3 0-.9 .8-.4 1-.2 .5-.3-.4-.5-.6-.5 .1-.7 .6-.8 .6-.6 .6 .2 .9 .9 1 .8 .2 .4-.5 .4-.8 .6-.6 .8 0 .1 .9-.4 1.3-.6 1.3-.6 .7-.8 .2-.9 0-.7-.3-.1-.8 .8-1.5 1.6-1.7 2-1.7 1.6-.9 1.2 .1 1.5 .7 1.9 .4 1.6-.2 1.2 .2 .4 .8-.3 1.1-.5 1-.7 .7-.7 .5-.9 .3-.6 .5-.4 1-.8 .9-1 .6-.7 .7-.3 1.2-.5 .8-1.1 .2-1.3 .2-1.3 .7-.7 .7-.2 .5 .1 .3 .4-.4 1.1-.5 .8 .5 .3 1.3 .3 .3 1-1.9 .9-2.8-.1-2.1-.6-1.2-.3 0-.1 .5-.6-.2-.3-.9 .3-.4 .7 .5 .6 .3 .5-.8 1-.2 1.2 1.1 .7 1.7-.4 1.3-1 .4-.9-.1-.5-.1-.5 .5-1.3 .9-1.4 .7-1 .2-.6-.2-.9-.4-1-.1-.3 .1 .1-.1 .4-.4 .8-1 1.5-1.2 2-.7 1.9 .2 1.3 .7 .6 1-.1 .8-.4 .4-.4-.2-.3-.6-.3-.5-.6-.2-1.4 0-1.6-.3-.8-.9-.2-.7-.5 0-.9 .6-.4 .2 .3-.7 1-1 1.8-.6 2.1-.6 1.2-.7 .1-.4 .2-.3 .9-1.2 .9-1.6 0-.8-.4-.2-.2-.3 .4-.6 .9-.2 1 .4 .6 .6 .2 .5-.1 .8-.2 .8 .4 .2 .8-.1 .1 .4-.3 1 0 .9 .4 .3 .2-.2-.2-.2-.2-.2-.5-.7-1.1-1.1-1.6-.9-1.4-.4-.8-.1-.4 .5-.1 1.1-.2 .1-.5-1.8-.9-2.4-1.3-2.2-1.1-1.7-.6-1.4-.3-1-.3-.7-.5-.7 .2-.6 .9-.4 .9 0 .3 .7-.6 1.2-.9 1-.7 .1-.1 .2 .3 1.4 .4 2.1 .1 1.1-.5-.1-1.2-.5-1.1 0-.4 1 .1 1.5-.3 .7-.7-1.1 0-1.6 .5-.7 .1 .1-.7 .3-.9 .7-.4 1.1-.5 .9-.8 .2-.6-.1 .2 0 1.1 .2 1.1 0 .5 .3 .4 1.6 .9 2.3 1.2 1.8 .6 1.1-.3 1.2-.5 1 .3 .2 .8-.7 .1-1.1-.6-1-1-.8-.8 .1-.7 .7-1 .3-1.4-.2-1.2-.6-.8-.7-.2-.4-.2-.1-.6-.1-.6-.6-.3-1.1-.3-1.8-1.2-2.1-2.1-1.9-1.9-1.6-1.5-1.6-1-2.1-.6-1.7-.1-1.1 .8-.7 1.7-.5 2.1-.1 2.3 .6 2.5 1.1 2.3 1.3 1.5 .9 .9 1.2 .7 1.2 .5 .6 .4 0 .6-.3 .9-.2 .5-.4 .1-.2-.2 .9-.4 2.1-.4 2.4-.2 1.9-.2 1.5 0 1 .2 .9 .2 0 .5-1.1 .7-1.5 .4-1.3-.2-.8-.5-.5-.4-.4-.4 .3-.7 1-.4 1.6 .2 1.7 .8 1.8 1.7 1.9 1.5 2.2 .7 1.6 0 .4 .2-.7 .8-1.2 .8-.7 .6-.3 .8-.5 .4-.7-.8-.7-1.5-.1-1.4 .3-1.1 .3-1 .1-1.1 .2-.8 .3 .1 .1 .3 0 .1 .1 .4 .1 .7-.2 .7-.3 0-.3-.1-.7 .6-1.1 .8-1.7 .3-1.9-.5-1.3-.8-.1 .1 .7 1.2 .6 1.4 .1 .7 0 .4 .3 .9 .8 1.1 .5 .8-.5 .4-1.3 .5-1.5-.1-1.3-1.1-.8-1.1-.1-.2 .1 .2-.9-.1-2.1-.2-1.2 .3 .7 .5 1.4 .5 1 .9 .9 1.1 1.5 .6 1.2-.1 .9-.5 1.2 0 1.3 .7 .8 1.3 .4 .5 .3-.6 .3-1.2 .3-1.1-.3-1-.6-1.2 .1-1.2 .4-1.2-.2-1.2-.7-1.5-.2-1.4 .8-1.2 1-.8 .1-.6-.5-.3-.2-.3 .9-.4 1-1 0-1.4-.1-1.2 .3-.8 .4-1 .4-1.5-.1-1.3-1.2-1-2-.5-.9 .2 1.1 .5 1.8 .3 .7 .1-.2 .4 .1 .5 .8 .5 .6 .4-.2 .3 .6-.4 .7 .1 0 .8-1.1 .9-1.3 .5-.7-.4 .4-.9 .6-.1 .1 .9-.1 .7-.8-.2-1.4-1.3-1-1.1 .4 0 .5 .7-.1 .5-.2 .4 .8 1.1 1.8 1.8 1.4 1.6 .3 1.2-.4 1.1 .1 1.1 .6 .5-.2-.1-1.2-.4-1.4-.5-1.2-1-.7-1.1-.2-.6-.7 0-1.8 .2-2 .4-1.3 .7-.6 .5-.2-.3 .5-.6 1 0 .1 .3-.6-.4-.5-1.4 0-1.3 0-.7-.6-.1-.7 .1-.3-.2 .5-.3 .8-.2 .4-.4-.1-.4-.4-.1-.3 .4-.1 .9-.3 .4-.3-.1 .2-.3 .2-.2-.5 .3-1.4 .6-.5 .5 .6 .7 1 1 .8 1.1 .3 .6 .4 .1 1 .1 1.9 0 1.7-.4 .6 .2 .5 1.1 .8 .7 .4-.5-.3-.7-.4 0 .3-.2-.2-.9-1-.7-.4 .1 1.3 .2 2.1-.4 1.1-1.3-.5-1.8-1-1.4-.6-.6 0 .2 .1 .4 .2 .3 .6 .2 .9 .2 1.4 0 1.6-.2 .6-.4-.3-.2-.6 .2-.2 .7 0 .7-.4 .2-.6-.3-.4-.5 .2 .1 .4 1.4 0 2.3-.2 1.9 .3 1 0 .9-.9 1-.6 .6 .5 .4 1.7 .2 1.4-.4 .2-.5-1 .5-1.3 .9-1 .1-.3-.2-.1 .1-.9 0-1.3-.7-.6-.7 .6-.1 .4-.3-.6-1.2-.8-.9-.1 .7-.1 1.6-.2 1.4 .5 .3 1.3-.2 1.3-.1 .1-.2-.1-.2 .4-.3 .6 .2 .3 .6 .1 .5 .1-.2-.2-.5-1.3 .1-1.4 .6-.1 .2 1.1-.2 .9-.1-.8 .3-2.5 .1-2.4-.1-.3 .3 1.6 .9 .7 .4-1.3-.8-1.4-1.4-.3-1.5 0-.8-.1-.3 .5-.5 1.1-1.6 .7-2.1 .4-1.8 .6-.9 .9-.7 .3-.3-1.1 .2-1.7 .6-1 .8 .8 .9 1.3 .7 .3 0-1.1-.9-1.4-1.2-1-1.1-.2-.9 .5-.6 .8 .2 1.1 1 1.5 .4 1.9-.5 1.3-.1 .3 .4-.3 .3-.4 .1-.2 .6 .1 1.2 .3 1.5 .3 1.4-.1 .5 .6-.6 1.3-.7 .9-.1-.3 .1-.7-.5 .1-.9 .9-.8 1.5-.3 1 0-.3 .8-.6 1.3-.1 .7-.3-.7-1.2-1.1-1.7-.4-.8 0-.2 .7-.8 1.3-1.2 1.1-.6 .1 .4-.3 .6 .4 .6 .9 1.2 .6 1.5 .1 .8-.2 .1-.6 .4-1 .5-.7-.7-.3-1.3 .2-.6 .4 .7 .6 1.1 .9 .1 1-.4 .5-.2 .2 0-.1-.2-.2-.5-.6-.6-.2-1.1 .6-1.3 1.5-.8 1.7-1.3 1.1-1.6 0-1.5-.1-.2 .4 .7 .7 1 .2 1.3-.2 .8 .2-.2 1-1.1 1.5-1.1 1.2-.6 .7 0-.1-.2-.7-.5-1.2-.5-1.3-.5-.9-.9-.9-1.5-.9-1-1 .6-.6 1.6 .3 1.7 .9 .7 .6 .2 .1 1.2-.3 1.4-.2 .3 0-1.3-.3-1.6 .2-1.2 .5-1 .5-1 .3-.3-.3 .4-1 .5-1.4 .5-.8 .7 0 1.2 0 .8 0-.2 .4-.9 1-1 1-.7 .1-.9-.7-1.1-1.1-.6-.5 .5-.2 1.3-.3 1.2-.3 .9 .3 .2 .9-.3 1-.5 1-.4 .8-.9 .1-.9-.8 0-1.2 .8-.6 .6-.4 .3-.8 .3-1 .9-.8 1-.7 .1-.9-.9-1.1-.4-.7 1.6 .1 2.8 .5 1.6 .7 .2 .6-.4 1.1-.2 2.1-.1 2.3-.1 1.4-.4 .5-.8 .1-1.1 .2-.8 .4-.5 .4 .1 .2 .5 0-.1-.4-.4-.7 .6-1.3 2-1.7 2.4-1.3 1.4-1.2 .4-.8 0-.7-.7-.2-1.2 .3-.8 .5-.1 .5 .7 0 .6-.5 .6-.1-.4 .4-1.5 .4-1.8-.1-1.7-.6-.5-.2 1.1 .5 1.9 .8 1 .4" fill="none" stroke="#1b40a0" stroke-width="2.1" stroke-linejoin="round" stroke-linecap="round"/>
<path d="M1191.3 1312.4l.2 0 .4 .3 .2 1.4-.5 2.1-.5 1.8 .1 .6 .8 0 .7 .3-.4 .7-.9 .8-.5 .6 .3 .2 .9 .2 1.1 .4 .7 .6 .3 1 .3 .9 .6 .5 .7 .2 .3 .2-.3 .4 .1 .6 .8 .5 .8 .6 .3 .5-.3 .5-.1 .1 .3-.4 .3-.9 .2-.6 .5 0 .3 .1 .1-.6-.1-1-.4-.8-.8-.7-.7-.6-.4-.4 0-.5 .1-1 0-1.1 .1-.8 .6-.4 1.1 0 .8 .2 .2 .2-.3 .5-.4 .5-.4 .4-.2 .4-.2 .2-1.1 0-1.7 0-1.6 .1-1-.2-.4-.9-.1-.7 .1-.1 .2 .4 0 .3 .2-.3 .4-.8 .7-.9 .5-.5 .1 0 0-.2 .2-.6 .5-.3 .3 .3 0 1.2-.2 1.5-.6 1.6-.3 1.6 .2 1.9 .6 1.7 .8 .8 .5 .1-.2 .1-.3 .1 .8-.2 1.6-.8 1.1-1.2 .2-1.2-.2-1.2-.1-1-.1-.9-.6-.8-.7-.5-.7-.3 0 .2 .3 .5 0 .9-.3 1.3-.4 1.4-.1 1.3-.1 1.1-.4 .8-.7 .2-.9-.3-.7-.9-.2-1.4 .4-1.9 .3-1.6 0-1.2-.4-.9-.5-.7 .1-.8 1.1-.5 1.6-.2 .7 .6-.9 .9-1.4 .7-.7 .2-.1 0 .1 .2 .3 .3-.2 .3-.6 .4-1 .6-.7 .8-.3 1.1-.1 1.1-.1 .7 0-.1-.3-.8-.7-1-1-.9-1.2-.6-1-.5-.4-.4 .4-.4 .4-.5-.5-.2-.9-.3-.7-.4-.5-.4-.5-.4-.2-.1-.1 0-.1 .3 .1 .2 .7 .3 .6 .2-.1 0-.4 0 .6-.3 .6-.4 .6-.4 .7 .1 .9 .3 .7 .5 .2 .4 0 .5 .2 .8 .5 1 .4 .7 0 .5-.3 .4 0 .6 .4 .9 .1 1.3-.4 1.2-.8 .5-.5 0 .1-.2 .8-.4 1.1-.9 1-1 1-.8 1.3-.8 1.3-.7 .5-.5-.4-.2-.7-.7-.6-1-.5-.8-.5-.4 0-.1 1-.1 1.6 0 1.1 0 .4-.1 .8-.2 1.6-.3 .9-.1-.7 .2-1.6 .3-1.3 .1-1.2-.2-1.5 .1-1.8 .7-1.6 1-.9 .9-.3 .7 .2 .8 .4 .8 .8 .7 1.9 .7 2.2 .8 1.6 .6 .6-.1 .4-.8 1.2-1.1 1.8-1.2 1.5-1.2 .8-1.5-.1-1.6-.6-1.6-.2-1.3 0-.7-.5 .1-1.2 .4-1.7 .5-1.7 .7-1.5 1-1.2 .8-.5 .5 0 .3 .3 .3 .3 .4 .5 .5 1.1 .3 1 0 .3-.4-.1-.4 0-.6 .1-.9-.2-1.1-.3-.9-.3-.2-.3 .2-.3-.1-.8-.3-1.4-.4-1.8 .1-1.8 .7-1.7 .9-1.6 .9-1.1 .9-.8 1-1 1.2-1.4 1.3-1.3 1.3-.8 .8 0 .6 .6 .6 .8 .9 .9 .6 1.1-.1 1.3-.4 1.2-.4 .3-.1 0-.1 .5 .1 1.1 .1 1-.3 .6-.7 .4-.6 .2-.2-.5 .3-.8 .1-.6-.4-.2-.7-.5-.6-.9-.6-.6-.8-.3-.8-.3-.5-.5-.4-1.3-.5-1.1-.4-.3-.3 .3-.3 .1-.3-.8-.3-1.4-.5-1.5-.6-1.6-.5-1.4 .1-1.1 .3-.5 .2 .5 .2 .9 .5 1.1 .5 .5 .2 .3-.4 .6-.9 .6-.7 .2-.3 .1-.2 .3-.1 .4-.1 .1 0 .2-.1 .6-.3 .7-.2 .5-.3 .8-.1 1.6-.2 2.1-.2 1.5 .3 .5 .6 0 .4 .2 .1 .3-.2 0 .1 .7-.2 1.3 0 1.2 .3 .5 .5 0 .2 .4-.1 .6 .1 .5 .1 .4-.5 .2-1.1 .4-1.3 .7-1.2 .9-1.1 .4-1-.4-1-.9-1.3-.8-1.6-.6-1.7-.7-.8-1-.3-1.4-.6-1.8-1.2-2-1.2-1.8-.4-1.3 .1-1.1-.2-1.2-.3-1.4 .2-1.3 .8-.9 .9-.2 .8 .2 1.1 .4 1.6 0 1.9-.7 1.9-.8 1.6 .1 1.3 .6 1 .4 .6 .2 .2 .3-.2 .8-.3 1.2 0 1.5 .5 1.5 .7 1.3 .6 .8 .6 .6 .7 .1 .8-.2 .6-.5 .2-.8-.6-.6-1 .2-1.2 1.1-.8 1.1-.3 .6 .2 .5 .4 .5 .2 .6 .1 .3-.1-.2-.1-.6 0-1.1 .3-.7 .4-.1 .1 .5 0 .8 .2 .8 .6 .3 .9-.1 .9 .2 .9 .8 .9 1.1 .8 .4 .6-.2 .1 .3-.3 .8-.9 .8-1.3 .8-1.4 .6-1.2 .8-1 .7-.5-.1-.1-1.2-.1-1.5-.2-.7-.3 .2 .1 .1 .6-.6 1-1.2 1.3-.9 1-.4 .3-.5 .1-.4 .5-.1 .6 .5 .5 .9 .4 .6 .3 .3 0 .1-.3 .3-.2 .1 0-.5 .1-.7 .4-.5 .6 .3 .7 .2 .5-.6 .4-1.5 .5-1.2 .7-.2 .5 0 .3-.5 .6-.7 .6-.4 .3 .1 0 .5 0 .6 .5 .5 .7 0 .3-.3-.2 0-.8 .4-1.3 .6-1.6 .3-1.6 .1-1.2 0-.7 0-.4 0-.7 .2-1.1 .3-1.3 .3-.9-.2-.6-.3-.5 .1-1.1 .7-1.4 .6-1.4-.2-1.1-.4-.9 .3-1 .6-.9 .3-.9 .1-.7 .1-.7 .4-.9 .1-.8-.5 .2-.8 1-.6 1.1 .1 .6 .4 .3 0 .4 0 .5 .6 .6 .9 .7 .5 .4 .3 0 .7-.4 .8-.7 .5-.8-.1-.9-.3-.5 0-.1 0 .3-.1 .2 .1 .1 .3 .1 .3 .1 .4 0 .4 .2-.1 .6-.5 .6-.5 .4-.1 .7-.1 1.2-.6 1.3-1.1 .8-.9 .7 0 .8 .7 .4 .6-.3 .2-.8 0-.7 .1-.3 .1-.3-.3-.4-1-.4-1.3-.4-.9-.2-.2-.2 0-.5-.3-.4-.5-.6-.1-.6 .3-.4-.6-.1-1-.1-.4-.5 .3-.9 0-.7-.2-.2 .5 .4 1.1 .8 .6 .7-.2 .5-.7 .4-.5 .2-.1 .1 .4 0 .1 .2-.3 .5-.4 .7-.3 .6-.5 .4-1 .3-.7 .4-.1 .7-.1 .5-.2 .3 .1 .4 .8 .6 1.1 .9 .4 .9 0 .4 .5-.1 1.1-.4 1-.4 .5-.5 .3-.6 .7-.7 .8-.6 .1-.4-.4-.1 0 .2 .9-.1 1.3-.3 .9-.1 .4-.1 .4-.7 .4-1.4 0-1.4-.3-.6-.6 .3-.3 .8 .1 .6 .1 .2-.1 .4-.2 .6-.2 .7 .2 .7 .8 .5 .9 .3 .5 .4 .3 .6 .2 .7-.1 .7-.3 .2-.2 0 .1-.2 .2 .3-.1 .5-.2 .3-.1-.1 .3-.2 .1 0-.4-.1-.6 0-.1 .1 .3 .4 .3 .4 .5 .4 1 .3 .7 .3 .2-.1 .1-.1 .2 .1 0-.2-.8-.7-.9-.3-.8 .1-1.1 .3-1-.1-.5-.4-.3-.6-.4-.6 0-.3 .3 .1 .2 .2 .1 0 .3 .1 .4 0-.1 .5-.5 .7-.6 .8-.1 .5 .3-.3 .2-1-.3-.9-.8-.1-.8 .2-.6-.2-.3-.4-.2-.2-.1-.5 .1-.6 .4-.8 .4-.7 .5-.5 .2-.2-.1-.1-.4-.3 .2-.7 .3-.7 .2-.7-.3-.8-.3-.8 .2-.7 0 .2-.4 .8 0 .6 .3 .2 .4 0-.3-.2-.5-.4-.2-.5 .1 0 .1 .4 .1 .3 .2 .3 .4 .4 .4 .3 .4 .4 .7 .5 1.1 .8 1.3 .7 .9 .6 .7 .4 1.1 0 1.1-.4 .8-.3 .3-.1 0-.4-.5-.7-.6-.3 0 .1 .1-.1 0-.4 .2-.1 .5 .5 .4 .9-.3 .7-.9 0-1 0-1.1 .3-1 .3-.4-.1 .4-.3 .7-.4 .3-.3-.4 .1-.5 .4-.5 .4-.3 .3-.4 .2-.4 .6-.2 .7 .2 .3 .4 .2 .4 .8 .6 1.2 .3 1.2 .1 .4 .4-.5 .9-.9 .9-.4 .6 .4 .1 .7-.2 .6-.3 .7-.5 .8-1.1 .5-1.6 .2-1.5 .4-.5 .4 0 .2-.5 .4-1.2 .4-1.2 .1-.7-.5-.4-.2-.6 .1-.8 .1-.7 .3-.4 .3-.1 .4-.3 .6 .1 .9 .3 .8 .6 .3 .5-.2 .5-.4 .2-.4-.3-.4-.7-.7-.5-.9-.1-.8 0-.7-.1-.4-.2-.1-.2-.1 .2-.3 0-.3-.4-.4-.8-.7-.6-1-.2-.6-.2-.3-.3 0-.2 .3-.1 .2 .5 .2 .7-.1 .2-.5-.4-.5-.4-.1 .2 .3 .7 .2 .8-.1 .5 0 .3 .2 .7-.1 .7 0 .2 .3 .1 .7 0 .8-.1 .7-.5 .6-.4 .5-.3 .2 .1-.2 .6-.7 .8-.8 .7-.4 .4-.2 .6-.5 .6-.9 .4-.4 .7 .7 .8 .7 .4 .1-.2-.7-.7-.7-.2 0 .2 .7 .3 .7 .3 .4 0 .3-.1 .5 0 .6 0 .3-.1 .4-.1 .6-.1 .3-.3-.3-.4-.6 0-.4 .2-.4-.1-.5 .3-.6 1.1-.6 1.4-.4 .5-.1-.4-.1-.7-.2-.6-.2-.1-.1 .1 0 0-.2-.7 0-.8-.2-.3-.2-.1-.5-.4-1.1-.8-1-1.1-.7-.8-.4-.3-.4-.1 .1" fill="none" stroke="#1b40a0" stroke-width="2.1" stroke-linejoin="round" stroke-linecap="round"/>
<rect x="1073.3" y="1229.2" width="233.4" height="176.1" fill="none" stroke="#262424" stroke-width="1.85"/>
<path d="M1190.0 1229.2v3.0M1190.0 1405.3v-3.0M1073.3 1317.2h3.0M1306.7 1317.2h-3.0" stroke="#262424" stroke-width="1.3" fill="none"/>
<text transform="translate(1063.1 1235.7) scale(1.045 1)" font-size="28" text-anchor="end">2.5</text>
<text transform="translate(1063.1 1323.8) scale(1.045 1)" font-size="28" text-anchor="end">0</text>
<text transform="translate(1063.1 1411.8) scale(1.045 1)" font-size="28" text-anchor="end">-2.5</text>
<text transform="translate(1077.3 1441.2) scale(1.045 1)" font-size="28" text-anchor="middle">-2.5</text>
<text transform="translate(1192 1441.2) scale(1.045 1)" font-size="28" text-anchor="middle">0</text>
<text transform="translate(1305.2 1441.2) scale(1.045 1)" font-size="28" text-anchor="middle">2.5</text>
<text transform="translate(1043.3 1201.8) scale(1.045 1)" font-size="28.7">(cm)</text>
<text transform="translate(1318.3 1401.1) scale(1.045 1)" font-size="28.7">(cm)</text>
<path d="M1470.4 262.8l.6 1.2 .5 1.8 .6 1.1 .5 1.6 .6 2 .5 2.2 .6 1.9 .6-1.2 .5-2.7 .6-2.2 .5 1.7 .6 3.4 .6-2.3 .5-4.8 .6 3.3 .5 5.5 .6 2 .5 1.6 .6 1.1 .6 1.1 .5 .5 .6-1.3 .5-2 .6-3 .5-2.8 .6-2.8 .6-1.8 .5-.1 .6-.2 .5 0 .6-.6 .6-.7 .5-.6 .6-.8 .5-.7 .6 .2 .5 0 .6-.3 .6-2.4 .5-1.5 .6-.6 .5 2.4 .6 .9 .5-1.1 .6-.6 .6 2.3 .5 1.3 .6 .6 .5-1.9 .6-1.2 .6-1.6 .5 1.3 .6 1.9 .5 2.8 .6-.5 .5-1.7 .6 .4 .6 4 .5 3.1 .6-1.2 .5-1.6 .6 1.9 .5 2.8 .6 2.5 .6-1.4 .5-2.2 .6 1.7 .5 2.2 .6 2 .6 2.4 .5 2.6 .6 5.5 .5 6.6 .6-5.2 .5-5.4 .6 .9 .6 2.5 .5 2.1 .6-1.3 .5-1.4 .6-1 .5 4.8 .6 0 .6-3.5 .5-1.3 .6 4.8 .5 4.4 .6-1.8 .6-1.1 .5-1.7 .6-.3 .5-1.3 .6-1.6 .5-1.6 .6-2.4 .6-2 .5-3.5 .6-.3 .5 2.9 .6 3.3 .5-2.1 .6-2.4 .6-.1 .5 2 .6-.2 .5-2.4 .6-2.5 .6 .5 .5 2.3 .6-1.8 .5-5 .6-5.7 .5-.1 .6 2.5 .6 4.1 .5 3.3 .6 3.5 .5 1.4 .6 2.1 .5 1.9 .6-.5 .6-1.1 .5-.5 .6-2.4 .5-2.7 .6 .7 .6 .9 .5 .4 .6 .5 .5 1 .6 1 .5-.4 .6-1.1 .6 .4 .5-.7 .6 .8 .5 .2 .6 1.3 .6-.1 .5-.2 .6-.4 .5-.6 .6 .1 .5-.6 .6-1.1 .6-1.1 .5-.4 .6-.5 .5-1.4 .6-1.9 .5 .2 .6-.2 .6 .5 .5-1.4 .6-1 .5-.7 .6-3.2 .6 1.1 .5 4.2 .6 .6 .5-2.9 .6-2.8 .5 2.9 .6 3.1 .6-.9 .5-2.5 .6-2.5 .5-1.8 .6-1.4 .5-1.2 .6 2.8 .6 3.7 .5-1.5 .6-2.1 .5-4.3 .6-5 .6 4.4 .5 5 .6-3.4 .5-4.1 .6 5.5 .5 5 .6-10.6 .6-10.9 .5-2.9 .6 7 .5 6.8 .6 6.3 .5 5.1 .6-1.2 .6-2.7 .5 2.7 .6 4.6 .5 1.8 .6-4.2 .6-1.1 .5 6.3 .6 5.6 .5 3.3 .6 2.5 .5-1.6 .6-3 .6-.5 .5 1.1 .6 .9 .5-.4 .6-1.4 .5 .5 .6 3 .6 2.3 .5 2.4 .6 1.9 .5 2.6 .6 2.8 .6 2.3 .5 1.3 .6-3.9 .5-3.1 .6-4.6 .5-4.7 .6 2.2 .6 4.3 .5 5.2 .6-3.6 .5-4.9 .6 .3 .5 1.8 .6 1.5 .6-.8 .5-.6 .6-1.4 .5-.2 .6-1.1 .6 .2 .5 .5 .6 1 .5 .5 .6-.3 .5-.7 .6-1 .6 .2 .5 .3 .6 1.5 .5 1.6 .6 3.2 .5 2.3 .6 3.1 .6-1.9 .5-2.8 .6-2.8 .5-1.8 .6-1.4 .6-1.7 .5-2.7 .6-3.6 .5-5.4 .6-5.5 .5-4.8 .6-3.8" fill="none" stroke="#0e0b0b" stroke-width="1.9" stroke-linejoin="round" stroke-linecap="round"/>
<rect x="1470.4" y="242" width="144.5" height="73.6" fill="none" stroke="#0e0b0b" stroke-width="1.85"/>
<path d="M1528.2 242.0v2.3M1528.2 315.6v-2.3M1586.0 242.0v2.3M1586.0 315.6v-2.3M1470.4 278.8h2.3M1614.9 278.8h-2.3M1470.4 303.4h2.3M1614.9 303.4h-2.3M1470.4 254.2h2.3M1614.9 254.2h-2.3" stroke="#0e0b0b" stroke-width="1.3" fill="none"/>
<text transform="translate(1454.9 250.5) scale(1.045 1)" font-size="24.3" text-anchor="end">2.5</text>
<text transform="translate(1454.9 287.3) scale(1.045 1)" font-size="24.3" text-anchor="end">0</text>
<text transform="translate(1454.9 324.1) scale(1.045 1)" font-size="24.3" text-anchor="end">-2.5</text>
<text transform="translate(1468.9 341.9) scale(1.045 1)" font-size="24.3" text-anchor="middle">0</text>
<text transform="translate(1527.8 341.9) scale(1.045 1)" font-size="24.3" text-anchor="middle">20</text>
<text transform="translate(1583.6 341.9) scale(1.045 1)" font-size="24.3" text-anchor="middle">40</text>
<text transform="translate(1608.6 341.4) scale(1.045 1)" font-size="24.3">(s)</text>
<text transform="translate(1431.4 219.8) scale(1.045 1)" font-size="24.900000000000002">(cm)</text>
<text transform="translate(1542.4 228.4) scale(1.045 1)" font-size="28" text-anchor="middle">AP</text>
<path d="M1470.4 431.7l.6 1.5 .5 .6 .6 .6 .5-.6 .6-2.8 .5-3.2 .6-1.8 .6-.8 .5-.6 .6 .8 .5 1.9 .6 1.9 .6 1.8 .5 1.3 .6 1.2 .5 .8 .6 .7 .5 .4 .6 .3 .6-1.1 .5-.6 .6-1 .5-.6 .6 .1 .5 .5 .6 .4 .6 .3 .5-.3 .6-.5 .5-1.3 .6 .4 .6-.7 .5 1 .6 .4 .5-.2 .6-1.5 .5-1.1 .6-.4 .6-.9 .5-.5 .6-1.1 .5-.4 .6-.2 .5-.5 .6 1.3 .6 1.1 .5 1.2 .6 1 .5 1.1 .6 1.1 .6 1.7 .5 1.7 .6 .9 .5-1 .6-3 .5-2.3 .6-.1 .6 1.3 .5 2.6 .6 1.6 .5 2 .6 .7 .5 1.1 .6-1.3 .6-2.5 .5-2.1 .6-1.3 .5 .9 .6 1.2 .6 .1 .5-.1 .6-.8 .5-.5 .6-1.2 .5-.3 .6 .4 .6 .5 .5 .6 .6 .5 .5 .9 .6 .2 .5-.3 .6-2.3 .6-.9 .5-1.1 .6-.4 .5-1.3 .6-1.6 .6-.3 .5 1.8 .6 2.5 .5 1.6 .6-1.5 .5-1.4 .6-2.1 .6 1 .5 .5 .6 1.1 .5-.9 .6-.3 .5-.6 .6 .9 .6 .6 .5-.2 .6-.5 .5-.7 .6 .5 .6-.5 .5-1.1 .6-1.5 .5 .3 .6 1.5 .5 1.1 .6 .9 .6 .5 .5 1.3 .6 1.4 .5-.5 .6-1.5 .5-1.2 .6-.4 .6 .4 .5-.1 .6-1.1 .5 .2 .6 .8 .6 1.4 .5 0 .6-1.4 .5-1.1 .6-.1 .5 1.1 .6 .7 .6 1.4 .5 1.3 .6 1 .5 .6 .6 .5 .6 .7 .5 .7 .6-.2 .5 0 .6-1.3 .5-1.4 .6-1.7 .6-1.7 .5-.9 .6-.9 .5-.3 .6 .3 .5-.1 .6-.8 .6-1 .5-1.3 .6-.7 .5-.3 .6 2.1 .6 1.1 .5-.3 .6-2 .5-1.2 .6 2.9 .5 4 .6 .7 .6-1.6 .5-1.3 .6-.1 .5 1.5 .6 1.4 .5-1.2 .6-2.9 .6-1.9 .5 1.1 .6 2.4 .5 1.6 .6-1 .6-1.5 .5-1.4 .6 1.2 .5 1.8 .6 1.4 .5 1 .6-.3 .6-.2 .5 .6 .6-1.7 .5-1.9 .6-1.8 .5-1.4 .6 1.5 .6 1.1 .5 1.7 .6-1.8 .5-1.4 .6-1.7 .6-1.2 .5-.4 .6-.4 .5-.6 .6 .6 .5 .4 .6 1.2 .6 1.8 .5 1.7 .6 1.4 .5-.9 .6-1.9 .5-2.1 .6-1.5 .6-1 .5-1.1 .6-.5 .5-1.1 .6 3.7 .6 4.2 .5 3.9 .6 .9 .5 1.6 .6-2 .5-3.1 .6-2.6 .6-1.3 .5-1.6 .6 0 .5 2.2 .6 2.5 .5-.4 .6-2.7 .6-2.3 .5 2.8 .6 2.6 .5 2.2 .6-1.2 .6-1.3 .5-2 .6-1 .5-.3 .6 .3 .5 1.4 .6 1.4 .6 1.2 .5 .5 .6 1.4 .5 .5 .6 .7 .5 .4 .6 1.9 .6 .8 .5 .8 .6-.3 .5 1.1 .6 1.1 .6 1.1 .5-1.9 .6-2.4 .5-2.3 .6 .7 .5 .4 .6 .7" fill="none" stroke="#0e0b0b" stroke-width="1.9" stroke-linejoin="round" stroke-linecap="round"/>
<rect x="1470.4" y="393.9" width="144.5" height="73.6" fill="none" stroke="#0e0b0b" stroke-width="1.85"/>
<path d="M1528.2 393.9v2.3M1528.2 467.5v-2.3M1586.0 393.9v2.3M1586.0 467.5v-2.3M1470.4 430.7h2.3M1614.9 430.7h-2.3M1470.4 455.3h2.3M1614.9 455.3h-2.3M1470.4 406.1h2.3M1614.9 406.1h-2.3" stroke="#0e0b0b" stroke-width="1.3" fill="none"/>
<text transform="translate(1454.9 398.3) scale(1.045 1)" font-size="24.3" text-anchor="end">2.5</text>
<text transform="translate(1454.9 435.1) scale(1.045 1)" font-size="24.3" text-anchor="end">0</text>
<text transform="translate(1454.9 471.9) scale(1.045 1)" font-size="24.3" text-anchor="end">-2.5</text>
<text transform="translate(1468.9 493.8) scale(1.045 1)" font-size="24.3" text-anchor="middle">0</text>
<text transform="translate(1527.8 493.8) scale(1.045 1)" font-size="24.3" text-anchor="middle">20</text>
<text transform="translate(1583.6 493.8) scale(1.045 1)" font-size="24.3" text-anchor="middle">40</text>
<text transform="translate(1608.6 493.3) scale(1.045 1)" font-size="24.3">(s)</text>
<text transform="translate(1429.7 367.6) scale(1.045 1)" font-size="24.900000000000002">(cm)</text>
<text transform="translate(1542.4 380) scale(1.045 1)" font-size="28" text-anchor="middle">ML</text>
<path d="M1803.3 323.1l-.9 .4-1.2 .4-1.4 .4-1.6 .3-1.5 .4-1.2 .3-.8 .4-.3 .5 0 .6 .1 .5-.1 .5-.1 .6 0 .7 0 .9 .3 .8 .4 .9 .2 1.2 .2 1.1 .2 .6 .3 .2 .5-.1 1.1-.1 2 .3 2 .8 1.6 1 1 1.5 .6 1.7 .7 1.7 1.1 1.4 1.8 1.2 2.1 1.1 2.4 .8 2.5 .6 2.4 .6 2.4 .7 2.1 .7 1.9 .8 1.5 .8 1.2 .9 .5 .9-.6 1-1.1 .9-.9 .8-.6 .9-.2 .5 .2-.5 .2-1.4-.2-1.6-.8-1.7-1.5-1.6-1.9-1.6-1.7-1.5-.9-1.6-.1-1.7 .6-1.8 1-1.8 1.1-1.7 .6-1.8-.5-1.9-1.4-2.1-1.8-2.1-1.6-2-1.1-1.6-.5-.2 .1 1.2 .7 2.1 1.2 2.5 1.2 2.5 .5 2.3-.5 2-1.1 1.8-1.4 1.6-1.1 1.7-.7 1.7-.3 1.3-.1 .5-.2-1.1-.4-2.4-1-3-1.6-2.8-2-2.7-1.9-2.1-1.8-1.6-1.3-1.3-1-1.3-.7-1.2-.4-.5-.1 1.1 0 2.3-.3 2.8-.3 2.7-.2 2.6 0 2.1 0 1.9-.1 1.5 0 1.4 0 1.5-.2 1.9 .1 2.3 .2 2.2 .2 1.4 .1 .8-.3 .4-.8 .3-1 .3-.9 .3-.7 .4-.7 .5-.8 .7-.7 .7-1 .7-1.2 .7-1.4 .8-1.4 .7-1.1 .8-.7 .9-.3 .8 0 .6 .5 .5 .8 .5 .6 .5 .1 .5-.1 .4 0 .4 .3 .1 .8 .1 1.2-.2 1.4-.3 1.3-.6 1.1-.7 .8-1 .6-1 .5-.9 .6-.5 .7-.3 .9-.2 1.3-.4 1.5-.5 1.4-.7 1.2-.9 .7-.8-.2-.5-1.2-.4-1.5-.4-1.3-.2-.8-.1-.3-.1 .1 0 .2-.2 .1-.3-.1-.4-.1-.5-.1-.7 .4-1 .6-1.3 .7-1.5 .3-1.8-.2-2-.6-1.9-.8-1.8-1-1.5-1.1-1.4-.9-1.4-.8-1.6-.6-1.8-.5-1.6-.2-1.4 .2-.9 .5-.6 .7-.4 .3-.3-.1-.1-.2 0-.1 .3 .4 .2 .9 .2 1.5 0 1.8-.2 1.6-.2 1.2-.3 .9-.2 .6 0 .6-.1 .6 0 .6 0 .3-.1 0 .1 .1 .4-.1 .6-.2 .8-.2 .7 0 .4 .2 .1 .4-.2 .3-.2 .2-.3-.1-.3-.3-.1-.6-.1-.7 .2-.7 0-.7 .1-.9-.2-1-.3-1-.5-.8-.9-.5-.9 .2-1 1-.9 1.6-.7 1.5-.5 .9-.3 .2-.1-.2 .1-.1 .3 .1 .5 .5 .4 1.1 .4 1.2 .3 1 .1 .6 .2 .2 .2 .1 .4 .3 .4 .4 .5 .7 .5 .6 .6 .7 .5 .4 .6 0 .5-.2 .6-.3 .3-.3-.3-.3-.7-.1-.9-.1-1.1 .1-1.2 .1-1.1 .3-1.1 .7-1 1.1-1.2 1.5-1.5 1.9-1.6 2.1-1.6 2-1.4 1.6-1.4 1-1.3 .2-1.1-.4-.9-.9-.8-1-.4-.9 .1-.7 .3-.5 .1-.5-.1-.4-.3-.3-.1-.1 .3 .2 .9 .3 1.3 .4 1.4 .7 1.4 .8 1.1 .7 .4 .7-.2 .8-.3 .7-.3 .8-.3 .5-.3 .2-.4-.2-.5-.5-.5-1-.5-1.4-.4-1.7-.4-1.7 .2-1.6 .9-1.7 1.6-1.6 1.9-1.2 2-1 1.8-.4 1.5 0 .9 .5 .5 .8 .1 .8-.1 .5-.3 0-.4-.3-.2-.5-.2-.7 0-.6 .4-.4 .8-.2 .9-.1 .6-.3 .1-.6-.1-.8-.2-.6-.3-.3-.4 .1-.3 .5-.2 .8-.2 .9-.3 .7-.3 .3-.1 .1 0 0 .1-.3 .1-.6 0-.9-.1-1.2-.2-1.8-.4-2.2-.5-2.2-.5-2-.5-1.8-.6-1.9-.4-2.1 .1-2.1 .4-2 .5-1.5 .6-1 .5-.6 .5-.3 .7-.1 1.1-.2 1.3-.5 1.6-.6 1.7-.4 1.5 .5 1.2 1.3 .9 1.4 .4 1.1 .2 .8 .1 .7-.3 .9-.9 1.1-1.2 1.3-1.2 1.4-1 1.4-.8 1.3-.5 1-.4 .9-.1 .8 .1 .9 .3 1 .3 1.1 .4 .7 .6-.5 1.3-1.2 1.4-1.3 1.3-1.4 1.1-1.5 1.1-1.5 1.3-1.6 1.2-1.5 1.1-1.4 1-1.2 .7-.9 .5-.7 .4-.3 .4 0 .2 .2-.7 .2-1.3-.1-1.3-.5-.9-.6-.4-.6-.1-.2 .1 .3 0 .5-.2 .4-.5 .3-.8-.2-.8-.5-.7-.5-.2-.5 .6-.2 .8-.2 .6-.4 .4-.6 .3-.8 .3-1.2 .5-1.2 .5-1.3 .5-1.3 .4-.9 .5-.6 .9-.1 1.3 .5 2 .6 2.5 .4 2.6 .5 2.4 .9 1.3 1.2-.3 1.5-1.2 1.8-1.4 1.8-1.3 1.4-1 1.1-.7 .8-.7 .4-.7 .2-1 .2-1.3 .2-1.3 .3-1 .3-.3 .4 .9 .6 1.5 .8 1.8 .8 1.7 .4 1.3-.2 .9-.7 .4-.6 .2-.6 .2-.6 .4-.5 .7-.4 1-.1 1.2-.2 1.4-.2 1.3-.2 1.2 .1 1 .3 1 .2 .9 .1 1.1-.3 1.1-.3 1.2-.3 1.2 0 1.1 .3 1.2 .7 1.3 1.1 1.2 1.3 1.1 .7 1-.1 .9-.5 1.5-.8 2.3-.6 2.6-.1 2.7 .4 2.5 .7 2.2 .9 1.7 1.1 1.2 1.2 .8 1.2 1.1 1.4 1.3 1.6 .4 1.6-.9 1.7-1.5 1.5-1.5 1.3-1.8 1.1-2 .9-2.2 .6-2.4 .2-2.3 0-2.2-.2-2.1-.3-2-.6-1.5-.7-.3-.7 .7-.6 1.1-.5 1.2-.2 1.2-.1 1.4-.2 1.5-.7 1.8-1.2 2.1-1.8 2-1.9 1.5-1.8 1.2-1.4 .9-.7 .6 .1 .4 .6 .5 .6 .4 .5 .5 .1 .2-.5-.3-1.1-.4-1.3-.3-1.4-.2-1.1 0-.8-.1-.5-.2-.1-.5-.1-.8-.3-.7-.7-.7-1.2-.4-1.3-.3-1.3-.3-1.1-.3-.5-.6 .1-.6 .6 0 .7 1 .7 1.5 .3 1.6 0 2-.2 2.1 0 2.3 .1 2.3 .4 2.3 1.1 1.4 1.6 .1 2-.7 2.1-1.2 1.8-1.5 1.3-1.6 1.1-1.7 1-1.8 1.3-1.8 1.6-1.8 1.7-1.7 1.2-1.6 .9-1.4 .6-1.4 .5-.8 .8 .7 1 1.7 1.2 2 1.4 1.9 1.1 1.9 .8 1.8 .6 1.9 .5 1.8 .5 1.5 .5 1.4 .5 1.4 .5 1.5 .7 1.3 .9 .3 1-.2 1.2-.3 1.3-.1 1.2 0 .9 .2 .3 .1-.1 .2-.5 .1-.7-.2-.7-.4-.5-.5-.5-.5-.7-.4-.8-.1-.9-.2-1.3-.2-1.7-.4-1.9-.2-2.2-.3-2.2-.2-2-.3-1.9-.1-1.7-.3-1.5-.3-1.5-.4-1.5-.7-1.6-.7-1.9-.7-2-.5-1.5-.3-.2-.2 .4-.3 .6-.3 .9-.2 1.4-.2 1.7-.1 2-.2 2.1-.2 2.1-.3 1.9-.7 1.7-1.2 1.4-1.8 1.1-2 .9-1.6 .7-1.1 .8-.8 1.1-.8 1.3-.9 .8-1.2 .4-1.6 .6-1.8 .6-1.7 .3-1.4-.3-1.1-1.2-.8-1.7-.8-1.8-.8-1.6-1-1.3-1.2-.6-1.5-.1-1.6 .2-1.7-.1-1.9-.5-2-1.1-2.1-1.2-1.7-.7-.6-.4 .1-.3 .7-.3 .9-.3 1.4-.4 1.7-.4 1.8-.3 1.8 .3 1.7 .9 1.4 1.5 1.2 1.7 .9 1.8 .9 1.7 .8 1.6 .3 1.3-.4 1-.9 .5-.9 .1-1-.2-1-.3-.7-.2-.4-.1 .1-.1 .3-.1 .4-.3 .2-.5-.2-.7-.6-.9-.6-1.2-.1-1.4 .5-1.4 .7-1.3 .8-1.1 .8-1 .8-1 .8-1.1 .6-1.2 .6-1.1 .3-.9 .1-.4 .1-.1-.4 .2-1.1 .5-1.4 .7-1.3 .8-1 .8-1 .8-1.1 1-1.3 1.1-1.6 .9-1.4 .6-1.4 .2-1.2 0-.8 .1-.4 .4-.2 .5 0 .7 0 .9-.1 1.3 .2 1.6 .9 1.6 1.3 1 1.2 .7 .7 .6 .4 .6 .2 .6-.1 .5-.1 .3-.2 .1-.2-.3-.3-.3-.5 0-1.1 .4-2.1 1.3-2.2 1.7-1.6 1.9-1 1.5-.7 .6-.4-.2-.6-.7-.9-.8-1.3-.8-1.3-.6-1-.6-.9-.5-.8-.7-.8-.7-.9-.7-1.3-.7-1.7-.6-1.5-.6-.4-.6 .3-.6 .3-.8 .3-1.2 .6-1.4 1-1.5 1.5-1.4 1.8-1.1 2-1 1.7-1.1 1.4-1.2 .9-1.1 .5-1 .4-.7 .6-.2 .8 .5 1 .9 1.2 1.3 1.5 1 1.6 .5 1.5 .1 1.4-.5 1.1-1 .8-1.6 .6-1.8 .4-1.5 .5-1.1 .8-.5 1 .3 .9 1.1 .9 1.3 .9 1.5 .9 1.4 .9 1.1 .8 .8 .7 .5 .7-.2 .5-.8 .6-.9 .7-.7 .7-.4 .8-.1 1 .2 1.1 .3 1.1 .3 1.3 .3 1 .2 .2 .3-.5 .4-1.1 .6-1.2 .5-1.1 .4-.9 .1-.3-.2 0-.4 .4-.4 .4-.2 .2 0-.2 .2-.6 .5-.8 .8-.9 .4-.8-.2-.7-.5-.5-.7-.4-.9-.6-.7-.5-.7-.5-.6-.7-.4-1.2-.3-1.6-.5-1.9-.8-2.2-.8-2.2-.4-2.2-.2-2-.1-1.3 .1-.4 .5 .3 .7 .3 .9 .1 1-.1 1-.5 1.1-.4 .9-.1 .7 .5 .5 1 .2 1.3 .1 1.4 .4 1.3 .7 .9 .6 .6 .5 .4 .2 .3-.1 .4-.5 .6-.8 .5-.9 .6-.9 .5-.6 .5 0 .5 .5 .4 1 .4 1.4 .6 1.4 .7 1.1 .9 .5 .8-.1 .7-.9 .3-1.5 .1-1.5-.2-1.3-.3-1.1-.4-.6-.5-.2-.2-.1 .1 .1 .6 .1 .9 .4 .9 .6 .8 .6 .6 .8 .3 .9 .1 .6-.1 .1-.1-.7 .1-1.5 .1-2.2 .2-2.3 0-2.3 0-2 .1-1.3 .2-.7 .1-.4-.2-.3-.4-.2-.5-.3-.6-.4-.6-.3-.4-.1 0 .3 .4 .4 .7 .5 .5 .4 .2 .5-.1 .6-.1 .4-.1 0 .1-.2 .3-.4 .4-.4 .5-.2 .3 0 .1-.1-.2-.2-.4-.5-.5-.8-.5-.7-.4-.3-.3 0-.3 .5-.1 .7 0 .5 0 .1 0-.5 .3-1 .4-1 .4-.8 .1-.6-.2-.5-.3-.4-.4-.2-.5 .1-.4 0-.4 0-.3-.4-.3-.8-.4-1.2-.4-1.2-.2-1.1 .1-.7 .7 0 1 .6 1.4 .9 1.3 1.2 .9 1.4 .4 1.5-.2 1.4-.6 1.4-.8 1.1-.9 .7-.6 .1-.5-.1-.4-.4-.4-.1-.5 .3-.8 .8-.9 .8-.8 .8-.7 .5-.6 .2-.5 0-.7-.1-.8 0-.7 .4-.4 .8-.1 1.1 0 1 .1 .9-.1 .9-.1 .9-.2 .9-.5 1-.4 1.1-.5 1.1-.7 1.5-.9 1.7-1.2 2-1.3 2.3-1.4 2.1-1.4 1.8-1.4 1.2-1.1 .3-.9-.8-.5-1.3-.3-1.7 .1-1.5 .4-1.1 .4-.7 .3-.3 0-.2-.3-.2-.3-.2 0-.2 0-.2 .2 0 .2 .3 .4 .4 .2 .5 .2 .2 .1 .2 .2 .3 0 .2 0 .2-.1 .5-.1 .7-.2 .9-.1 .8 0 .7 .3 .4 .6 .3 .5 0 .2-.1-.1-.1-.4 .2-.9 .4-1.2 .6-1.3 .5-1.1 .4-.9 .4-.7 .5-.7 .6-.5 1-.3 1.1-.2 .8-.1 .5 0 .2 0-.3-.2-.9-.7-1.4-1-1.6-.9-1.8-.8-1.9-.9-1.9-1.2-1.6-1.3-1.2-1.3-.9-.6-.8 .7-.6 1.6-.4 1.9-.1 2.2 .1 2.1 .6 1.8 1 1.4 1.3 1.2 1.2 1.2 1.2 1.2 1.1 1.2 1.1 1.3 1.2 .6 1.2-.5 1.2-1.1 1.1-1.2 1.1-1.3 1.3-1.3 1.4-1 1.8-.9 1.9-.7 1.7-.5 1.1-.6-.3-.6-2.1-.9-3-1.2-3-1.1-2.7-.4-2.3 .2-2 .6-1.8 .6-1.8 .9-1.5 1.2-1.1 1.1-.7 1.2-.4 1.3 .5 1.3 .9 1.4 .8 1.3 .1 1.3 0 1.1 0 .6 .5-.3 1-.9 1.5-.8 1.4-.7 1-.3 .6-.2 .2-.2-.1-.3-.3-.5-.5-.9-.4-1.2-.5-1.2-.7-1-1.3-.4-1.8 .3-1.8 .5-1.6 .5-1.2 .2-.6-.3 .1-.9 .7-1.2 1.2-1.4 1.2-1.2 1.1-1 .6-.9-.1-1-.8-.8-1.1-.5-1.3-.3-1-.1 0-.3 1.4-.5 2.3-.7 2.8-.9 2.8-1.1 2.7-.7 2.5 .5 1.9 1.4 1.3 1.7 .8 1.7 .4 1.4 .6 1.1 .7 .7 .9 .4 1.1 .4 1.1 .4 1 .7 .6 .7-.5 .2-2-.7-2.6-1.4-2.3-1.6-1.9-1.7-1.6-1.6-1.4-1.3-1.4-1.1-1.5-1-1.8-1.3-1.9-1.3-1.8-1.3-1.4-1.2-1-1.2-.7-1.2-.4-1.3-.3-1.4-.6-1.6-.4-2.1 .1-2.4 .5-2.5 .6-2.4 .7-2.3 .9-1.8 1-.3 1.2 1.4 1.3 2.1 1.1 2.5 .9 2.9 .7 3.2 .5 3.6 .4 3.7 .6 3.5 .7 3.1 .9 2.5 1.1 2.2 .9 1.1 .5-.7 0-2 0-2-.1-1.6-.3-1.4-.4-1.4-.6-1.6-.9-1.8-1.3-1.9-1.4-2-1.1-2-.6-2 .1-.7 .3 1.5 .3 2.5 .2 2.3-.3 2.1-.8 2.1-.9 2.1-.9 2.2-.6 2.3-.4 2.6-.3 2.5-.2 .9-.4-2.4-.6-4.1-.7-4.3-.5-4.2-.5-4.1-.2-4.2-.3-4.2-.3-4.4-.2-4.5-.1-4.4-.2-4.3-.3-4-.3-4.1-.3-4.1-.3-4.4-.2-3.3 .2-.5 .4 1.8 .4 2.8 .2 3.4 0 3.9-.3 3.8-.3 3.6-.6 3.1-.7 2.7-.3 2.3 .1 2.4 .5 2.4 .5 2.6 .3 2.7 0 2.6-.2 2.2-.2 1.9-.1 1.7 .3 1.8 1 2 1.4 2.2 1.6 2.3 1.4 2.4 1.1 2.3 1.2 2.4 1.3 2.4 1.6 2.1 1.2 1.2 .8 .1 .3-.1-.3-.3-.9-.5-1.3-.9-1.4-1.1-1.6-1.4-1.7-1.4-1.9-1.4-1.7-1.3-1.5-1.1-1.2-.9-.9-.8-.6-.2 0 1.3 .4 1.9 .3 2.1 .6 2.3 1 2.5 1.2 2.6 1.1 2.3 1.1 2.1 1 2 1 1.8 1.1 1.8 1.4 2.1 1.4 2.5 1.6 2.3 1.6 .9 1.8-.8 1.6-1.7 1.3-1.9 1-1.8 .4-1.8 0-1.6-.4-1.4-.4-1.3-.2-1.3 .2-1.5 .4-1.6 .7-.7 1 .9 1.1 2.1 1.1 2.3 1.1 2.1 1 1.9 1 2 1.1 2 1.1 2.2 1 2.2 1.1 2.3 1.4 2.3 1.5 2.2 1.4 1.8 1.3 1 1.4 .9 1.3 1.1 .9 1.4 .4 2-.5 2.4-1.1 2.5-1.4 2.4-1.4 1.9-1.4 1.3-1.4 .9-1.4 .5-1.5 .3-1.9 .2-2-.3-1.7-1-1-1.3-.5-1.3-.3-1.3-.5-1.4-.5-1.2-.7-1.1-.9-1-1.1-.9-1-1.1-.8-1.1-.5-1.2-.3-1.2-.3-.8-.5-.1-.5 .7-.5 .9-.5 .9-.7 .7-.8 .3-1.1 0-1.2-.1-1.2-.2-1 0-.8 .3-.5 .7-.4 1.2-.2 1.4-.3 1.4-.6 1.4-.9 1.1-.8 .7-.2-.2 .3-.7 .7-.9 .9-.8 1.1-.6 1.2-.4 1.2-.1 1-.1 .8-.3 .4-.4 .1-.8 .3-1.3 .7-.9 1.1 .1 1.3 .8 1.1 1 .8 1 .5 1.1 .4 1 .5 1 1.3 .8 2.1 .7 2.5 .6 2.5 .6 2 .6 1.3 .5 .7 .8 .4 .9 .2 1.2 .6 1.5 .9 1.5 1.2 1.4 1 1.2 .8 .8 .3 .5-.3 .3-.5 .5-.6 .8-.4 1.1 0 1.6 .5 1.8 .7 2 .4 1.7 .1 1.2-.1 .5-.2 0 0-.1 .3 0 .3 .4-.5 .7-1.1 .9-1.1 1.1-1.3 .8-1.5 .5-1.7 .3-2.1 .3-2.3 .8-2.5 1.2-2.4 1.3-2 1.4-1.7 1.3-1.1 1.2-.7 .9-.8 .4-1.4-.7-1.9-1-2-1-1.8-1.1-1.2-1.5-.9-1.8-.9-1.9-.9-1.7-1-1.6-.9-1.4-.6-1.4 0-1.5 .1-1.7 .1-1.8-.3-1.8-.9-1.7-.8-1.7-.6-1.8-.6-1.7-.4-1.7-.1-2 .4-2.3 .7-2.3 1-2.4 1.5-2.1 2.1-1.8 2.3-.9 2.6 1 2.4 2.1 1.9 2.4 1.4 2.5 .8 2.5 .4 2.4 .3 2.1 .5 1.7 .9 1.2 1.1 .8 1.3 .6 1.3 .6 1.2 .8 1 1.2 .8 1.6 .7 2 .7 2.1 .8 1.7 1 .2 1-.8 1.1-.9 .5-.8-.5-.7-.7-.7-.6-.9-.4-1-.6-1.2-.9-1.4-1.2-1.6-1.6-1.5-2-.9-2.3 .3-2.3 .8-2 .5-1.6 .1-1.2-.3-1-.4-1.1-.3-.9-.1-.5 .4 .7 .8 1.4 1 1.4 .8 1.2 .4 1.1 0 1.4-.4 1.6-.5 1.9-.4 2.5-.5 2.7-.8 2.7-1 2.5-.7 1.8-.5 1-.4 0-.5-1.1-.5-1.4-.5-1.3-.4-1.5-.4-1.6-.4-2 0-2.2 .3-2.2 .6-2.1 .6-1.8 .2-1.3 0-1.2-.2-1.1-.2-1.4-.2-1.7 0-1.7 .2-1.3 .2-.2 .1 1.3 0 2.2-.2 2.6-.1 2.7-.1 2.2-.2 1.4-.3 .7-.3 .2-.2-.2-.1-.5-.1-.6 .1-.4 .2-.1-.2 0-.6 0-1.1-.1-1.3-.2-1.1-.1-.6 .2 .3 .5 1.1 .6 1.5 .3 1.5 .1 1-.4 .4-.4 .2-.5 0-.2 0 .4 .2 1.1 .5 1.7 .7 1.8 .7 1.8 .5 1.6 .2 1.3-.1 1.1-.2 .8-.5 .6-.4 .7-.3 .8 0 .2 .2-.7 .3-1.1 .2-1.6 .1-1.8 0-2.1-.1-2.5-.3-2.6-.5-2.4-.6-2.2-.5-1.9-.5-1.5-.3-1.1-.4-.4-.4-.1-.3 .1-.4 .3-.3 .2-.3 0-.1 0 .2-.4 .4-.5 .5-.3 .7 .1 1 .6 1 1 1.1 1.2 1.2 .8 1.3 .3 1.5-.3 1.6-.9 1.4-1.3 1.2-1.4 1-1.3 .9-1 .7-.5 .4 0 .2 .4 0 .5-.2 .4-.4 0-.3-.8-.2-1.6 .2-2 .4-2.1 .5-1.7 .4-1.2 .3-.6 .2-.3 .3-.1 .5-.2 .8-.6 1.3-.8 1.4-.8 1.6-.2 1.3 .3 .5 .5-.1 .5 0 .5 .1 .4 .2 .4 0 .5-.3 .4-.8 .4-1.3 .1-1.4-.3-1.4-1-1.1-1.6-1-1.8-.6-1.7-.4-1.4-.5-.9-.7-.4-.8-.2-.9-.1-1.1-.1-1.4-.2-1.5-.2-1.7-.1-1.6-.1-1.4-.2-1.3-.4-1.3-.8-1.4-.9-1.5-1.1-1.7-1.3-2-1.4-1.9-1.2-1.6-1.2-1.1-1.2-.7-1.4-.4-1-.2-.3 0 .3 .1 1 .2 1.4 .1 1.9 .1 2.3 0 2.4-.2 1.9-.5 1.4-1.1 1.2-1.8 1.2-2.1 1.5-2 1.8-2.1 1.8-2.3 1.6-2.4 1.3-2.4 1.1-2.5 1.1-2.6 1-2.5 1.4-2.4 2-2.1 2.2-1.8 1.9-1.8 1-1.8 .3-1.8-.6-1.7-1.2-1.7-1.4-1.6-1.2-1.3-1.1-1.2-.9-1-.9-1.1-.9-1.2-1-1.5-1.2-1.8-1.3-1.7" fill="none" stroke="#1b40a0" stroke-width="2.1" stroke-linejoin="round" stroke-linecap="round"/>
<rect x="1692" y="273.1" width="233.4" height="176.1" fill="none" stroke="#262424" stroke-width="1.85"/>
<path d="M1808.7 273.1v3.0M1808.7 449.2v-3.0M1692.0 361.2h3.0M1925.4 361.2h-3.0" stroke="#262424" stroke-width="1.3" fill="none"/>
<text transform="translate(1677.7 281) scale(1.045 1)" font-size="28" text-anchor="end">2.5</text>
<text transform="translate(1677.7 369.1) scale(1.045 1)" font-size="28" text-anchor="end">0</text>
<text transform="translate(1677.7 457.1) scale(1.045 1)" font-size="28" text-anchor="end">-2.5</text>
<text transform="translate(1696 484.2) scale(1.045 1)" font-size="28" text-anchor="middle">-2.5</text>
<text transform="translate(1810.7 484.2) scale(1.045 1)" font-size="28" text-anchor="middle">0</text>
<text transform="translate(1923.9 484.2) scale(1.045 1)" font-size="28" text-anchor="middle">2.5</text>
<text transform="translate(1658 240.6) scale(1.045 1)" font-size="28.7">(cm)</text>
<text transform="translate(1937 444.2) scale(1.045 1)" font-size="28.7">(cm)</text>
<path d="M1470.4 592.6l.6 3.7 .5 3.4 .6-1.3 .5-3.5 .6 1.4 .5 5.9 .6 .7 .6-3.2 .5-2.8 .6 .7 .5 .8 .6 1.6 .6 1.8 .5 2.3 .6 .3 .5-4 .6-3.6 .5-1.1 .6-.4 .6 7.3 .5 7.8 .6 4.4 .5 2.5 .6 3.1 .5 3.3 .6-3.2 .6-3.5 .5-3.8 .6 2.5 .5 2.1 .6-.6 .6-1 .5-1.1 .6-3.2 .5-2.8 .6-3.1 .5 .7 .6 1 .6-2.5 .5-4.1 .6-.2 .5 6.6 .6 3.5 .5-3.3 .6-3.3 .6-3 .5-3.5 .6 1.2 .5 9.7 .6 10.1 .6-2.7 .5-3 .6-2.7 .5 4.5 .6 4.2 .5-1.9 .6-4.8 .6-4.2 .5 4.6 .6 6.2 .5 6.8 .6-4.9 .5-5.8 .6-6.1 .6 3.9 .5 4.9 .6 2.9 .5 1.8 .6 2.4 .6-2.4 .5-3.5 .6-3 .5 4.3 .6 4.8 .5 4.5 .6-4.3 .6-3.9 .5-4.1 .6-2.3 .5-2 .6-2 .5 1.6 .6 1.6 .6-1.5 .5-1.6 .6-2.3 .5-1.7 .6-1.4 .6-.5 .5 3.3 .6 2.8 .5-3.4 .6-5.6 .5-5.7 .6-2 .6-.6 .5-.4 .6-.6 .5-2 .6 .1 .5 1.5 .6 2.7 .6 2.6 .5 2.8 .6 2.4 .5-.3 .6-2.7 .6-2.2 .5 3.1 .6 6.6 .5 5.2 .6 5.2 .5 1.5 .6-1.6 .6-1.8 .5-1.1 .6-.8 .5-.6 .6-1.5 .5-1.8 .6-1.3 .6-2.5 .5-2.7 .6-3.4 .5-3.2 .6-3.1 .6-1.2 .5 2 .6 1.2 .5-3.4 .6-3.7 .5-2.2 .6 2.6 .6 2.7 .5-6.1 .6-5.2 .5-1.8 .6-1 .6-1.3 .5 6 .6 6 .5 4.7 .6 5.4 .5 4.8 .6-4.1 .6-6.8 .5-2.5 .6 3.1 .5-.4 .6-4.8 .5-4.4 .6-2.1 .6 1.3 .5 .6 .6-3.3 .5-7.5 .6-5.1 .6 7 .5 6 .6 1.9 .5-2.9 .6-.6 .5 9.1 .6 9.6 .6 3.9 .5 1.6 .6-3.6 .5-6.9 .6-6.5 .5-2.9 .6-.7 .6-.3 .5 4.2 .6 5.2 .5 4.8 .6 1.7 .6 .6 .5 1.2 .6 .7 .5-1.1 .6-1.3 .5-1.7 .6-1.3 .6-1 .5-1 .6-.8 .5-.5 .6 .3 .5-.5 .6 .6 .6 3.7 .5 4.2 .6 2 .5-4.3 .6-4.8 .6-5.1 .5-4.6 .6-1.2 .5 7.5 .6 7.4 .5-1.5 .6-2.2 .6 1.3 .5 5.2 .6 4.6 .5 4.6 .6-5.3 .5-5.5 .6-4.5 .6-.4 .5-.1 .6-.4 .5 3.7 .6 3.4 .6 2.4 .5-1.4 .6-.6 .5-.1 .6 .9 .5 1.1 .6 .6 .6-2.1 .5-3.1 .6-2.2 .5-1.4 .6 .1 .5-.3 .6-.3 .6-.6 .5-1.8 .6-1.6 .5-1.6 .6 .8 .6-.2 .5 .5 .6 1.1 .5 2.1 .6 1.2 .5 0 .6-.1 .6 0 .5 .2 .6-2.9 .5-2.6 .6 1.8 .5 3.2 .6 2.9 .6 2.2 .5 .7 .6 .6 .5 .1 .6-4 .6-3.6 .5-3.2 .6 1 .5 .2 .6 1.2 .5-.4 .6 .5" fill="none" stroke="#0e0b0b" stroke-width="1.9" stroke-linejoin="round" stroke-linecap="round"/>
<rect x="1470.4" y="563.4" width="144.5" height="73.6" fill="none" stroke="#0e0b0b" stroke-width="1.85"/>
<path d="M1528.2 563.4v2.3M1528.2 637.0v-2.3M1586.0 563.4v2.3M1586.0 637.0v-2.3M1470.4 600.2h2.3M1614.9 600.2h-2.3M1470.4 624.8h2.3M1614.9 624.8h-2.3M1470.4 575.6h2.3M1614.9 575.6h-2.3" stroke="#0e0b0b" stroke-width="1.3" fill="none"/>
<text transform="translate(1454.9 573.4) scale(1.045 1)" font-size="24.3" text-anchor="end">2.5</text>
<text transform="translate(1454.9 610.2) scale(1.045 1)" font-size="24.3" text-anchor="end">0</text>
<text transform="translate(1454.9 647) scale(1.045 1)" font-size="24.3" text-anchor="end">-2.5</text>
<text transform="translate(1466.4 659.9) scale(1.045 1)" font-size="24.3" text-anchor="middle">0</text>
<text transform="translate(1525.3 659.9) scale(1.045 1)" font-size="24.3" text-anchor="middle">20</text>
<text transform="translate(1581.1 659.9) scale(1.045 1)" font-size="24.3" text-anchor="middle">40</text>
<text transform="translate(1605.5 659.4) scale(1.045 1)" font-size="24.3">(s)</text>
<text transform="translate(1429.7 541.8) scale(1.045 1)" font-size="24.900000000000002">(cm)</text>
<text transform="translate(1542.4 550.8) scale(1.045 1)" font-size="28" text-anchor="middle">AP</text>
<path d="M1470.4 747.8l.6 2.8 .5 .3 .6 .3 .5-2.3 .6-.7 .5-.4 .6 1.8 .6 .4 .5 .9 .6-.4 .5 .1 .6-1.3 .6 .9 .5 1.9 .6 2.1 .5 1.5 .6 1.2 .5 .4 .6-.1 .6-2 .5-1.5 .6-1.4 .5 1.9 .6 1.9 .5 1.7 .6-4.1 .6-4.3 .5-4.2 .6-2 .5-.9 .6-1.3 .6-4.5 .5-5.1 .6-4.1 .5 1.6 .6 1.7 .5 .8 .6-1.4 .6-1 .5-.4 .6 3.1 .5 2.8 .6 2.2 .5 .8 .6-.3 .6-.8 .5-2.7 .6-2.1 .5 .5 .6 2.8 .6 2.9 .5 4.4 .6 6.4 .5 .2 .6-7.3 .5-7.7 .6-.5 .6 6.7 .5 4.7 .6-6.7 .5-7.1 .6-3.1 .5-2 .6 2.6 .6 4.4 .5 4.5 .6-.4 .5-1.3 .6-1.4 .6 2.8 .5 2.7 .6 2.7 .5-2.5 .6-2.9 .5-2.3 .6 2.9 .6 4.2 .5 4.1 .6-.8 .5-1.9 .6-1.2 .5 2.8 .6 3.9 .6 1.8 .5-2.5 .6-3.9 .5-2.6 .6 2.1 .6 2.5 .5 1.9 .6-2 .5-2.1 .6-.7 .5 3.6 .6 3.5 .6 4 .5 2.7 .6 2.9 .5-.2 .6-3.1 .5-3.1 .6-1.3 .6-.4 .5-.2 .6-1.6 .5-1.9 .6-2.4 .6 .8 .5 2.9 .6 3.2 .5 .4 .6-2.5 .5-2.7 .6 .2 .6 2.2 .5 1.9 .6-1.2 .5-1.6 .6-1.8 .5 2.6 .6 3.2 .6 3.8 .5 .9 .6-.1 .5-.1 .6 2.8 .6 3.1 .5-2.3 .6-7.1 .5-7.5 .6 3.3 .5 3.9 .6 .1 .6-5.1 .5-2.5 .6 4.3 .5 3.5 .6-6.9 .6-7 .5 3.4 .6 6.7 .5-1.8 .6-5.1 .5-3.4 .6 .2 .6-.2 .5 1.2 .6 2.4 .5 2.4 .6 .3 .5-1.1 .6-1.1 .6 .4 .5 2.1 .6 2.4 .5 4 .6 3.8 .6 2 .5-5.1 .6-4.1 .5-2.9 .6-1.7 .5-2.5 .6-3.3 .6-3.2 .5 1.7 .6 4.8 .5 3.2 .6-.3 .5-.2 .6 1.4 .6 2.5 .5 2.7 .6 .4 .5-2.6 .6-2.2 .6 1.3 .5 5.4 .6 5.8 .5 .3 .6-4.5 .5-6.2 .6 .1 .6 6.6 .5 5.5 .6-1.6 .5-2.3 .6-1.5 .5-1.6 .6-2 .6-2 .5-3.3 .6-3.1 .5-4.1 .6-2.7 .6-2.3 .5-1.8 .6 3.7 .5 4.4 .6 3.9 .5-1 .6-1.4 .6-.5 .5 1.7 .6 2.3 .5 1.1 .6-3.6 .5-4.6 .6-3.8 .6 .8 .5 1.6 .6 1.7 .5 4 .6 3.2 .6 2.8 .5-2.1 .6-2.1 .5-1.4 .6 2 .5 2.3 .6 2.6 .6-.8 .5-2.7 .6-3 .5-2.1 .6-1.9 .5-2.2 .6-1.8 .6-3.4 .5-4 .6-4.3 .5 6.1 .6 7.2 .6 .8 .5 0 .6 .1 .5 3.9 .6 3.8 .5-1.1 .6-4.3 .6-3.7 .5 .8 .6 3.4 .5 2.6 .6-1.1 .5-2.5 .6-2.5 .6 .5 .5 .8 .6 1.2 .5-.8 .6-1.6 .6-1.8 .5 1.1 .6 1.2 .5 1.8 .6-2.9 .5-1.8 .6-1" fill="none" stroke="#0e0b0b" stroke-width="1.9" stroke-linejoin="round" stroke-linecap="round"/>
<rect x="1470.4" y="708.9" width="144.5" height="73.6" fill="none" stroke="#0e0b0b" stroke-width="1.85"/>
<path d="M1528.2 708.9v2.3M1528.2 782.5v-2.3M1586.0 708.9v2.3M1586.0 782.5v-2.3M1470.4 745.7h2.3M1614.9 745.7h-2.3M1470.4 770.3h2.3M1614.9 770.3h-2.3M1470.4 721.1h2.3M1614.9 721.1h-2.3" stroke="#0e0b0b" stroke-width="1.3" fill="none"/>
<text transform="translate(1454.9 714) scale(1.045 1)" font-size="24.3" text-anchor="end">2.5</text>
<text transform="translate(1454.9 750.8) scale(1.045 1)" font-size="24.3" text-anchor="end">0</text>
<text transform="translate(1454.9 787.6) scale(1.045 1)" font-size="24.3" text-anchor="end">-2.5</text>
<text transform="translate(1461.7 806.8) scale(1.045 1)" font-size="24.3" text-anchor="middle">0</text>
<text transform="translate(1520.6 806.8) scale(1.045 1)" font-size="24.3" text-anchor="middle">20</text>
<text transform="translate(1576.4 806.8) scale(1.045 1)" font-size="24.3" text-anchor="middle">40</text>
<text transform="translate(1601.2 806.3) scale(1.045 1)" font-size="24.3">(s)</text>
<text transform="translate(1429.7 684.3) scale(1.045 1)" font-size="24.900000000000002">(cm)</text>
<text transform="translate(1542.4 696.3) scale(1.045 1)" font-size="28" text-anchor="middle">ML</text>
<path d="M1804.6 657.4l-.2 1.7-.3 1.9-.3 2-.4 1.8-.3 1.6-.3 1.5-.1 1.6 0 1.5 .2 1.6 .2 1.7 0 1.7-.3 1.6-.7 1.2-1.1 .8-1.3 .3-1.3-.1-.9-.8-.6-1.3-.4-1.6-.3-2-.5-2.3-.7-2.6-.8-2.5-.7-2.4-.3-2 .2-1.5 .5-.8 .7-.1 .9 .6 1 1.1 1.2 1.5 1.3 1.6 1.4 2 1.6 2.4 1.7 2.6 1.6 2.7 1 2.6 .2 2.2-.5 1.8-1.1 1-1.5 .6-1.8 0-1.9-.3-1.7-.5-1.3-.8-1-1.1-1-1.2-1-1.3-.9-1.2-.9-1-.9-.7-.7-.6-.6-.6-.3-.6 0-.5 .4-.6 .5-.3 .5-.1 .8 .2 1.1 .2 1.2 .4 1.1 .6 1 .6 .7 .6 .6 .6 .5 .5 .5 .4 .4 .3 .4 .2 .5 .3 .3 .4 0 .4-.2 .5-.1 .7-.1 .9-.2 .8-.6 .9-.9 1-1.1 1.2-1.2 1.1-1.3 .9-1.3 .7-1.1 .4-1.1 .1-1.2-.1-1.4-.3-1.6-.3-1.7-.4-1.5-.6-1.4-.9-1.3-1.3-1.1-1.6-1-1.7-.8-1.5-.6-1-.4-.7-.2-.5-.3-.9-.1-1.2-.1-1.5-.2-1.7-.5-1.9-.9-1.7-1.2-1.3-1.5-.8-1.4-.4-1.2 0-.7 .3-.1 .5 .2 .6 .4 .4 .3-.1 0-.6-.3-.7-.4-.9-.2-.5 .1-.1 .4 .6 .7 1.4 1 2.3 1.3 2.8 1.5 3.1 1.4 3.3 1 3.4 .7 3.3 .4 3.4 .2 3.3 .1 3.1 .3 3.2 .8 3 1.2 3 1.4 2.9 1.3 2.6 1 2.4 .4 2.5-.1 2.3-.6 2.1-.9 1.8-1 1.3-1 .9-1.1 .7-1.2 .5-1.5 .4-1.4 .4-1.3 .4-.8 .6-.2 .6 .1 .6 .3 .6 .2 .7-.1 .8-.2 .9 0 .7 .4 .5 1.1-.1 1.7-.6 2.4-1.2 2.6-1.6 2.5-1.7 2.3-1.7 1.9-1.4 1.6-1.2 1.4-.9 1.3-.8 1.6-.9 1.9-1.1 2.5-1.2 3-1.4 2.9-1.4 2.4-1.4 1.9-1.1 1.4-.8 1.1-.4 1.1 .1 1.3 .4 1.6 .6 1.8 1.1 1.8 1.4 1.4 1.6 .7 1.9 .2 1.7-.1 1.4-.2 1-.1 .5 .1-.1 .2-.5 .2-.7 0-.6 .1-.6 .2-.6 .7-.5 1.5-.4 2.5-.3 3.3-.3 3.7-.4 3.8-.3 3.7-.1 3.5-.1 3.3 0 3.1-.2 3.1-.2 3.1-.5 3.2-1 3.2-1.2 3-1.3 2.9-1.2 2.5-.9 1.8-.9 1.1-1 .3-.9-.4-.8-1-.8-1.5-.9-2-.7-2.2-.7-2.3-.9-2.2-1.1-2-1.5-1.9-1.6-1.7-1.2-1.7-.8-1.5-.2-1.3 0-1 .4-.5 .4 .1 .4 .6 .3 .9 .2 .7 .1 .6 0 .4 .1 .4 .2 .6 .2 .9 .3 1.3 .3 1.9 0 2-.5 2.1-1.2 1.7-1.8 1.3-2.1 .7-2.1 .4-1.9 .2-1.7 .2-1.4 .1-1.2 .2-1 .2-1.1-.1-1.2-.5-1-.9-.5-1.2 .3-1.2 1-.9 1.7-.9 2.1-.8 2.4-.8 2.4-1 2.3-1.2 2.2-1.3 2.3-1.4 2.2-1.1 1.8-1 1.6-.8 1.1-.8 .4-1-.1-1.2-.7-1.2-1.1-1.3-1.2-1.2-1.5-1.2-1.6-1.2-1.9-1.1-1.9-1.2-1.7-1.3-1.7-1.3-1.6-1-1.6-.7-1.3-.4-.9 .1-.6 .3-.3 .3-.3 .2-.4 .2-.5 .5-.9 .8-1.1 1-1.2 1.2-1 1.2-.8 1-.6 .6-.5 .4-.5 .4-.5 .5-.2 .8 .5 .9 1.4 1.1 2.2 1 2.8 .9 3.4 .7 3.4 .3 3.5-.3 3.4-1 3.6-1.7 3.7-2.3 3.9-2.6 4.1-2.6 3.9-2.2 3.4-1.9 2.6-1.8 1.4-2 .2-2.3-.5-2.8-1-2.9-1.1-2.9-1-2.8-.8-2.5-.8-2-.8-1.5-.9-1.2-1.1-1.3-1.2-1.4-1.6-1.3-1.7-1.6-2-1.9-1.9-2.3-1.5-2.5-1-2.7-.1-2.6 .8-2.4 1.6-1.5 2.2-.2 2.5 1.4 2.6 3 2.5 4.1 2.4 4.6 2 4.8 1.5 4.6 1.3 4.3 1.1 4 1.2 4 1.1 4 .6 4.1 .1 4.4-.8 4.5-1.6 4.7-2.1 4.3-2.4 3.6-2.5 2.4-2.6 .9-2.6-.9-2.4-2.4-2.4-3.5-2.3-4-2.2-3.8-2.1-3.6-2.1-3.3-2-3-1.8-2.8-1.5-3-.7-3.4 .2-3.6 1-3.5 1.7-2.8 2.1-1.3 2.2 .2 2 1.8 2.2 3 2.4 3.9 2.9 4.2 3.2 4.2 3.3 4.2 3.5 4.1 3.4 4.1 3.3 4.1 3.1 4 2.9 3.7 2.6 3.1 2 2.4 1.3 1.7 .2 .9-.7 .5-1.5 .3-1.8 .4-2.2 .7-2.5 1-2.7 1.3-2.7 1.7-2.7 1.9-2.4 1.7-2.2 1.2-1.8 .3-1.6-.5-1.5-1.4-1.6-2-1.8-2.5-1.7-2.6-1.2-2.3-.4-2 .5-1.8 1.2-1.8 1.5-1.9 1.7-2 1.6-2 1.6-2.3 1.6-2.4 1.9-2.2 2.1-2.1 2.2-1.6 2-1.2 1.5-.5 .7 .1 0 .7-.2 .9-.3 .8 .1 .6 .5 .6 1.2 .7 1.3 .8 1.5 1 1.3 1 1.1 1 1.1 .7 .9 .4 .9-.1 .8-.4 .7-.8 .3-1.1-.1-1.5-.6-1.6-1-1.5-1.2-1.3-1.3-.9-1.2-.8-1.2-.8-1.2-1.1-1.1-1.3-1.1-1.3-1.3-1.4-1.5-1.5-1.6-1.4-1.6-1.2-1.4-1.1-1.2-1.2-.6-1.2 .3-1 1.1-.3 1.9 .5 2.3 .9 2.6 1.2 2.4 1.5 2.2 1.8 1.8 2.1 1.6 2.1 1.6 2 1.6 1.7 1.7 1.7 1.9 1.4 2.1 1 2.1 .7 2 .5 1.9 .3 1.7-.1 1.4-.5 .6-1.2-.3-1.9-1.2-2.5-1.6-2.7-1.9-2.9-2-2.9-2.2-2.6-2.3-2.5-2.4-2.3-2.4-1.8-2.5-1.5-2.4-1.4-2.1-1.6-1.7-1.8-1.5-2.2-1.4-2.2-1.7-2-1.7-1.5-1.4-.5-1.2 .6-.8 1.5-.7 1.8-.6 1.8-.4 1.5-.4 1.2-.5 1-.4 1.1-.5 1-.3 1.1-.2 1-.3 .9-.3 .7-.4 .6-.4 .3-.7 .3-.7 0-.7-.3-.3-.7 .2-1 .6-1 1.1-1.1 1.1-1.4 1-1.8 .6-2.2 .2-2.5 0-2.7-.1-2.8 0-2.5 .3-1.9 .3-1.2 .2-.9-.1-.9-.7-.8-1-.6-1.4-.2-1.5 .3-1.7 1.1-1.7 1.7-1.5 2-1.4 2.1-1.2 1.8-1.1 1.4-1 1.1-.9 1.1-.9 1.3-.9 1.5-1 1.9-.9 2.2-.8 2.2-.5 1.8-.2 1.1 0 .2 .1-.9 0-1.9-.1-2.6-.4-2.8-.7-2.7-1-2.2-1-1.6-1.1-.9-.8-.3-.6 0-.4 .1-.3 0-.2-.4 .1-.3 .4-.5 1-.5 1.4-.4 1.5 0 1.6 .3 1.3 .6 .8 .8 .5 .7 .3 .9 .4 .9 .5 1 .8 .9 .9 .9 .7 1 .2 1.3-.3 1.2-.8 1.1-1.2 .9-1.6 .8-1.6 .8-1.9 .9-1.9 .8-2 .7-2 .5-2.1 .2-2.3-.3-2.5-.7-2.5-.9-2.5-1.1-2.5-1.3-2.3-1.5-2.2-1.9-2-2.3-1.9-2.8-1.8-3.1-1.5-3.2-1.2-3.1-.6-2.7-.2-2.3 0-2.2 .1-2.2 0-2-.1-2-.1-1.8 0-1.7 .4-1.5 .7-1.4 .8-1.4 1-1.2 .7-1.2 .4-.9 0-.8-.2-.7-.5-.8-.6-1-.7-1.4-.8-1.5-.7-1.3-.8-.7-.8 .1-.9 .9-1 1.8-1 2.4-.9 2.9-.6 2.9-.2 2.8 .2 2.2 .7 1.8 .9 1.4 1.1 1.2 1.3 1 1.3 1 1.3 1.3 1.1 1.4 1.1 1.5 .9 1.4 .8 1.1 .7 .8 .8 .5 .6 0 .7-.2 .7-.1 .8 .4 .8 1 .7 1.2 .8 1.2 .7 1.1 .8 .6 .9 .1 .9 0 1.2 .2 1.2 .6 1.3 .8 1.2 .9 1 .8 .8 .3 .6-.1 .7-.3 .7-.2 .7 0 .9 .3 .7 .3 .6 .5 .5 .5 .1 .7-.1 .7-.2 1.1-.4 1.4-.4 1.5-.5 1.5-.7 1.1-1 .6-1.1 .1-1.3-.5-1.4-.8-1.5-1-1.3-1-1.1-.9-.6-1 .1-1.2 .6-1.5 1.3-1.6 2-2 2.6-2.3 2.6-2.4 2.6-2.7 2.2-2.8 2.1-3 2-3 2-2.6 2.3-1.7 2.5-.7 2.5 .4 2.3 1.2 2 1.5 1.4 1.5 1.2 1.4 1.1 1.5 1.2 1.9 1.4 2.1 1.6 2.5 1.6 2.6 1.4 2.6 .9 2.5 .5 2.2 .2 1.8 0 1.6-.1 1.4-.2 .9-.2 .5-.2 0-.1-.4-.3-.4-.4-.5-.3-.8-.4-1.4-.5-2.2-.9-2.8-1.1-3.3-1.3-3.5-1.2-3.5-.9-3.1-.8-2.7-.5-2.3-.1-2 .1-1.9 .2-1.8 .1-1.5 0-1.1-.1-.2-.2 .5-.3 1-.5 1.4-.3 1.5-.2 1.5 .2 1.6 .3 1.5 .3 1.4 .3 1.5 .3 1.8 .4 1.8 .3 1.7 .1 1.5 .1 1.2-.1 .9-.4 .5-.6 0-.9-.7-1.1-1.1-1-1.4-.8-1.6-.5-1.5-.3-1.5-.1-1.4-.2-1.2-.3-1-.4-1.1-.5-1.1-.5-1.2-.5-1.4-.5-1.5-.7-1.3-.8-.8-1.2-.4-1.5 0-1.7 .3-1.8 .2-1.8 .1-1.6-.2-1.7-.5-1.5-.5-1.5-.4-1.3-.1-1.2 .3-1.3 .5-1.3 .6-1.2 .6-1.2 .3-1.1 0-1-.3-1-.3-.9-.4-.8-.5-.7-.7-.7-1.2-.8-1.6-.6-2.4-.7-3.1-.9-3.5-1-3.4-1.1-3-.9-2.3-.5-1.7 0-1.3 .4-.9 .6-.4 .9 .4 .9 1.1 .9 2.1 .8 2.7 .7 3.2 .6 3.4 .3 3.4 0 3.1-.1 3.2-.1 3.5-.1 3.8-.3 3.8-.4 3.8-.9 3.6-1.4 3.4-1.7 3.2-2.1 2.6-2.3 1.6-2.3 .4-2.1-.8-2-1.7-1.9-2.3-1.9-2.5-2-2.6-2.1-2.3-2.1-2-2-1.8-1.8-1.8-1.4-2.1-.7-2.2 0-2 .6-1.3 1-.4 1.2 .6 1.3 1.4 1.2 2.1 1.1 2.3 1.1 2.2 .9 2.1 .9 2.2 .7 2.1 .4 2.1-.1 2.3-.8 2.5-1.4 2.3-1.8 1.9-2.1 1.1-2.3 .2-2.4-.7-2.6-1.5-2.5-2.4-2.5-2.9-2.1-2.9-1.7-2.6-1.1-2.3-.8-1.8-.6-1.3-.5-.5-.4 .5-.4 1.6-.5 2.3-.7 3-.9 3.4-1.2 3.2-1.4 2.9-1.7 2.7-1.8 2.3-1.5 2-.9 1.9-.3 2.1 .3 2.1 .7 1.9 1.2 1.6 1.6 .6 1.8-.4 2.2-1.5 2.3-2.1 2.4-2.5 2.5-2.2 2.5-2.1 2.5-2.3 2.6-2.6 2.5-2.9 2.5-3 2.3-2.7 2.3-2 2.3-.9 2.3 .4 2.1 1.6 2.2 2.3 2.4 2.6 2.4 2.9 2.3 3.2 2 3.3 1.7 3.4 1.5 3.2 1.4 2.9 1.5 2.4 1.4 2 1.2 1.8 1.1 1.5 1 1.3 1.1 1 1.2 .9 1.1 .7 .9 .6 .5 .4 0 .2-.8 .1-1.3-.2-1.7-.3-1.9-.5-2-.3-2.1-.1-2.1 .1-2 .3-2 .3-2 .2-1.9 .1-1.9-.3-1.5-.7-1.2-.9-.6-1.2-.1-1.4 .6-1.7 .9-1.9 1-1.9 1.4-1.6 1.4-1.3 1.3-1.1 1.2-.9 .9-1.1 .3-1.2-.3-1.3-.9-1.4-1.3-1.3-1.6-1.1-1.5-.8-1.5-.5-1.5-.2-1.7 .1-1.7 .2-1.8 .4-1.6 .6-1.5 .6-1.6 .7-1.8 .9-1.9 .8-2 .9-1.7 .5-1.4 .4-.8 .2-.4 .3 .1 .3 .1 .5-.1 .3-.3-.1-.3-.7-.1-1.2 .2-1.6 .4-1.6 .6-1.2 .7-.9 .6-.6 .3-.7-.1-1.1-.5-1.5-.8-1.8-.9-2-1.1-2.2-1.3-2.1-1.6-2-1.7-1.9-2.1-1.6-2.2-1.4-2.6-1.3-2.8-1.2-3-1.1-3.3-1-3.5-1.1-3.7-1-3.6-1-3.1-1.4-2.1-1.7-.9-2.2 .4-2.3 1.6-2.1 2.2-1.6 2.5-.9 2.5 .1 2.6 1 2.7 1.8 3 2.2 3 2.3 3.1 2.6 3.1 2.9 3.2 2.9 3.1 2.9 2.9 2.8 2.3 2.6 1.7 2.4 1 2.4 0 2.1-.6 1.9-.9 2-.6 1.9-.3 2 .1 2.1 0 2-.2 1.8-.4 1.5-.5 1-.3 .6 0 .2 .8 .1 1.6 .2 2 .6 2.4 1 2.6 1.3 2.8 1.6 3.1 1.9 3.4 1.9 3.9 1.6 4.2 1.4 4.2 1.3 4.2 1.2 3.8 1.2 3.3 1.2 2.6 1.4 1.8 1.7 1.1 2 .6 2 .5 1.7 .7 1.2 1.1 .6 1.4-.1 1.5-.5 1.2-.9 1-1 .6-.8 .1-.6-.6-.8-1.3-1.2-1.8-1.9-2.3-2.8-2.5-3.3-2.6-3.8-2.6-3.9-2.7-3.6-2.8-2.8-2.8-1.9-2.9-.9-2.8-.5-3-.6-3.1-.8-3.2-1.4-3.6-1.8-3.5-2-3.2-1.9-2.6-1.6-1.9-.9-1.3-.2-.7 .4-.3 .7-.1 .7 .1 .7 .3 .4 .6 0 .9-.5 1-.7 .7-.7 .3-.7-.2-.8-.5-.7-.8-.7-.8-1-.7-1.2-.5-1.8-.2-2.2 .2-2.3 .6-2.1 .8-2 1.1-1.6 1.2-1.3 1.4-.7 1.7-.3 1.9 .1 2 .4 2.1 .6 2.2 .7 2.3 .9 2.3 .9 2.2 1 2 1 2 1.2 1.8 1.4 1.6 1.3 1.3 1.2 .9 1.1 .6 .8 .5 .7 .3 .6 .6 .4 .7-.1 1-.3 1-.7 1-1 1-1.1 .8-1 .5-1 .5-.8 .4-.9 .5-1 .6-1.2 .7-1.4 .6-1.5 .3-1.4 .2-1.5 .1-1.9 .1-2.4 .1-2.8-.1-2.5-.1-2-.3-1-.5 0-.7 .8-.9 1.6-.9 1.7-.5 1.6-.4 1.5-.3 1.6-.2 1.8-.4 2.2-.6 2.3-.7 2.3-.8 2.3-.8 2.4-.8 2.9-.8 2.9-.8 2.8-.8 2.1-.9 1.2-.7-.1-.4-1.5-.1-2.4 .5-3.2 .7-3.7 .9-4 .9-4.4 .5-4.7 .3-5 .1-4.8-.1-4.5 0-3.6-.1-2.5-.1-1.2-.2 0-.3 .6-.5 .9-.6 .8-.8 .9-.8 1.1-.7 1.5-.4 1.6-.2 1.5 0 1 .2 .4 0 0 .1-.2-.1 0-.2 .4-.3 .7-.4 .9-.3 1-.5 .9-.7 .9-.8 1.3-.7 1.6-.5 1.9-.2 2.1 .1 2 0 2.1 .1 1.9-.1 1.9-.1 1.7 0 1.3 .3 .9 .7 .8 1.2 .9 1.5 1 1.6 1.1 1.5 1.4 1.4 1.4 1.3 1.4 1.3 1.1 1.4 1.1 1.2 1.1 1 1.1 .8 1.4 .5 1.4 .4 1.6 .4 1.6 .7 1.7 .9 1.8 1 1.7 .7 1.7 0 1.6-.6 1.6-1 1.5-1.4 1.6-1.3 1.9-1.3 2.3-1.2 2.6-1.1 2.5-1 2.3-1.1 1.9-1.3 1.2-1.5 .8-1.4 .6-1.5 .8-1.3 1.1-1.3 1.4-1.2 1.6-1.5 1.6-1.6 1.4-1.8 .9-1.8 .6-1.9 .2-1.8 .2-1.9 .3-2 .1-2.1-.5-2-1-1.9-1.5-1.4-2.1-.8-2.3 .2-2.5 1.2-2.2 1.9-2 2.3-1.8 2.6-1.8 2.6-1.9 2.8-2 2.9-2.1 3.1-2.1 3.1-2.1 3.2-2.1 3.3-2 3-1.6 2.5-1.2 1.9-.7 1-.2 .3-.2-.4-.2-.8-.4-1.2-.3-1.3 .1-1.4 .8-1.3 1.3-1.4 1.7-1.5 1.9-1.6 1.5-1.8 .8-1.7 .1-1.4-.2-.9-.2-.2-.2 .6-.4 1.2-.7 1.6-1.2 1.9-1.4 2.1-1.5 2.2-1.2 2.3-.9 2.4-.5 2.4-.3 2.4-.3 2.3-.3 2.3-.2 2.2-.1 2-.2 1.6-.2 1.4-.1 1.2 .1 1 .3 .8 .4 .1 .7-.8 1.2-1.5 1.5-2.1 1.3-2.4 .9-2.4 .7-2.1 .8-1.8 1.1-1.4 1.2-1.1 1.5-1.3 1.7-1.3 2.1-1.4 2.1-1.5 2.1-1.6 2.1-1.5 1.7-1.5 1.4-1.3 1-1.2 .6-1.1 .5-1.1 .7-.9 .8-.6 .8-.3 .4-.2-.3 .1-1 .3-1.7 .3-1.8 0-1.5-.3-1.2-.5-.7-.7-.3-1.1-.3-1.3-.4-1.4-.7-1.2-.9-.8-1-.2-1 .3-1 .5-1.2 .8-1.4 .9-1.6 .8-2 1-2.2 1.2-2.3 1.6-2 1.9-1.6 2.1-1 2.3-.7 2.2-.6 2.3-.6 2.2-.9 2-1 1.7-1.1 1.1-.8 .7-.4 .4 .1 .1 .6 .1 .8 0 .7 .1 .6 .1 .3 0 .1 .1-.1 .1 0 .2 .4-.1 .9-.1 1.4-.4 1.6-.6 1.6-.8 1.3-.9 .8-.7 .1-.8-.7-.7-1.2-.5-1.6-.7-1.7-.6-1.7-.5-1.5-.3-1.2-.1-1.1 .1-.9 .4-1.3 .7-1.4 .9-1.6 1.1-1.7 1.2-1.6 .9-1.3 .8-.8 .8-.5 .6-.2 .6 0 .8 0 1 0 1.1 .5 .8 .8 .2 1.3-.3 1.6-.7 1.8-.9 1.9-1 1.7-1.1 1.6-1.2 1.6-1.2 1.6-1.4 1.6-1.7 1.5-1.8 1.4-1.8 1.5-1.5 1.5-1.3 1.5-1 1.4-.9 1.5-.6 1.6-.3 1.5 0 1 0 .4-.1 .1 0 .1 0 .1-.1 .1-.3 .2-.3 .5-.2 .6-.4 .7-.5 .4-.7 .4-.8 .6-.7 .6-.6 .9-.4 .9 0 1 .1 1.2 .4 1.2 .2 1.3 .2 1.3 0 1 0 1-.1 .9 0 .8 .2 .9 .4 .9 .6 .8 .6 .9 .6 1 .3 1.2-.1 1.3-.6 1.4-1.1 1.4-1.4 1.3-1.4 1.1-1.2 1.2-1.1 1.2-.8 1.2-.6 1.1-.5 .6-.4-.3-.6-1.2-.5-2-.6-2.6-.6-2.9-.7-3-.7-3.1-.5-3.1-.4-3.2-.2-3.4-.1-3.4 .2-3.1 .4-2.5 .4-1.7 .2-1 .2-.3 0 .2-.1 .3-.2 .4-.2 .2-.1-.2-.2-.3-.1-.4-.1-.5-.1-.5 .1-.4 .2-.1 .3 0 .3 0 .2-.1 .1-.5-.1-.8-.4-1.1-.5-1.7-.3-2 .3-2.3 .6-2.1 .9-1.8 1.1-1.3 1.1-1 1.1-.7 1-.5 .8-.6 .7-.5 1.1-.1 1.4 .5 1.3 1.3 1.1 1.9 .6 2.2 .3 2.2 0 2.1-.3 2.1-.2 2.1-.2 2.1 .2 2 .5 1.9 .8 1.6 .9 1.2 .7 .8 .4 .6-.1 .5-.4 .4-.6 .6-.7 .3-.5 0-.2-.4 0-.6-.1-1-.6-.9-1-1-1.3-.7-1.6-.4-1.6-.2-1.5-.2-1.4-.7-1.4-1.1-1.3-1.4-1.3-1.5-1.2-1.3-1.2-.9-1-.3-.8 .2-.4 .8-.2 1-.1 .9 .1 .9 .4 .9 .9 .8 1.6 .9 2 1 2.2 .9 2.2 .7 2 .6 1.6 .4 1.5 .3 1.4 .4 1.5 .6 1.8 .4 2 .1 1.9-.3 1.8-.8 1.5-1.1 1.1-1.1 .8-1 .7-.8 .6-.6 .6-.8 .6-.9 .5-1 .4-.9 .2-.5-.1 .1-.3 .3-.6 .5-.6 .6-.6 .3-.6 .1-.4 0-.2 0-.1 .3 .1 .5 0 .9-.4 1.1-.9 1.5-1.3 1.9-1.5 2.1-1.8 2.2-1.7 2.1-1.8 2.1-1.6 2-1.3 1.9-.9 1.6-.7 1.4-.6 1.2-.5 .9-.7 .4-1.1-.2-1.8-.9-2.2-1.3-2.2-1.8-2-2-1.4-2-1-1.6-.4-1.3-.1-.9 .3-.7 .5-.6 .5-.6 .5-.8 .6-.7 .7-.8 1-.9 1-.8 1.2-.8 1-.6 .9-.2 .9 .5 .7 1.2 .6 1.5 .2 1.7 .1 1.4-.1 1.1-.4 .9-.4 .6-.4 .6-.1 .7 .1 .9 .1 1.1 0 1-.2 .6-.3 .2-.3-.2-.6-.3-.5" fill="none" stroke="#1b40a0" stroke-width="2.1" stroke-linejoin="round" stroke-linecap="round"/>
<rect x="1692" y="588.4" width="233.4" height="176.1" fill="none" stroke="#262424" stroke-width="1.85"/>
<path d="M1808.7 588.4v3.0M1808.7 764.5v-3.0M1692.0 676.5h3.0M1925.4 676.5h-3.0" stroke="#262424" stroke-width="1.3" fill="none"/>
<text transform="translate(1677.7 596.6) scale(1.045 1)" font-size="28" text-anchor="end">2.5</text>
<text transform="translate(1677.7 684.7) scale(1.045 1)" font-size="28" text-anchor="end">0</text>
<text transform="translate(1677.7 772.7) scale(1.045 1)" font-size="28" text-anchor="end">-2.5</text>
<text transform="translate(1691.2 798.3) scale(1.045 1)" font-size="28" text-anchor="middle">-2.5</text>
<text transform="translate(1805.9 798.3) scale(1.045 1)" font-size="28" text-anchor="middle">0</text>
<text transform="translate(1919.1 798.3) scale(1.045 1)" font-size="28" text-anchor="middle">2.5</text>
<text transform="translate(1653.3 563.3) scale(1.045 1)" font-size="28.7">(cm)</text>
<text transform="translate(1935.9 762.6) scale(1.045 1)" font-size="28.7">(cm)</text>
<path d="M1470.4 915l.6 1.2 .5 .3 .6 1.3 .5 3.2 .6 3.2 .5 2.6 .6-2 .6-2.3 .5-2.9 .6 .4 .5 1.1 .6-3.3 .6-4.4 .5-4.4 .6 6.7 .5 7.2 .6 6.3 .5 5.9 .6 6.3 .6-3.2 .5-4.6 .6-3.6 .5-2.7 .6-3.1 .5-3.5 .6-7 .6-7.3 .5 6.9 .6 8 .5 6.6 .6 5.8 .6 3 .5-6.6 .6-7.1 .5-6.1 .6-5.3 .5 1.9 .6 2.5 .6 3.3 .5 4.9 .6 4.3 .5 3.1 .6 2.1 .5 2.5 .6 2.1 .6 1.1 .5 .5 .6 .4 .5-1.1 .6-.8 .6-2.9 .5-5.7 .6-5.7 .5-4.4 .6-4.5 .5-4.6 .6-5.2 .6-4.7 .5-4 .6 4.6 .5 4.7 .6 8.9 .5 9.3 .6 6.6 .6 5.5 .5 4.5 .6 3.4 .5 .8 .6-3.8 .6-3.3 .5-2.9 .6-2.9 .5-3.5 .6-3.2 .5-2 .6-.4 .6-.7 .5-.3 .6-1.4 .5-1.7 .6-.7 .5 3.5 .6 4.9 .6-.5 .5 .1 .6-1.1 .5 2.4 .6 2.6 .6 3 .5 1.7 .6 2 .5 1.2 .6-1.2 .5-1.6 .6-1.9 .6-3.3 .5-3.6 .6-2.8 .5-.6 .6-.2 .5-.4 .6-2 .6-2.3 .5 1.8 .6 2.3 .5-1.2 .6-2.4 .6-3.4 .5-2.2 .6-3.6 .5 .5 .6 1.8 .5 3.6 .6-.8 .6-2.7 .5-7.1 .6-8.5 .5-5 .6 5.8 .5 6.7 .6 9.8 .6 10.7 .5 7.9 .6 7.3 .5 6.2 .6 6.1 .6 1.2 .5-6.1 .6-5.8 .5-10.1 .6-9.6 .5-8.6 .6-8 .6 4.2 .5 4.9 .6 4.5 .5 5.3 .6 5.4 .6 5.1 .5 4.7 .6 4.2 .5-2.3 .6-5 .5-5.6 .6-6.2 .6-6.5 .5-5.9 .6-6.5 .5-6.3 .6-2.2 .5 2.5 .6 2.2 .6 4.4 .5 6.7 .6 7.1 .5 7.5 .6 6.5 .6 5.2 .5 5 .6 .7 .5-4.1 .6-4.7 .5-6.4 .6-5.8 .6-5 .5-3.3 .6-3.7 .5-3 .6 .6 .5 1.1 .6-.1 .6-3.2 .5-3.4 .6-1.5 .5 2.2 .6 1.7 .6 3.1 .5 4.6 .6 5.2 .5 4 .6 4.3 .5 3.8 .6-.6 .6-5.3 .5-5.3 .6-5.5 .5-6.3 .6-6 .5-1.8 .6 1 .6-.1 .5-3 .6-5 .5-4.1 .6 3.2 .6 6.5 .5 6.3 .6 2.7 .5 1.6 .6 2 .5 2.9 .6 3.1 .6 2.9 .5 1.3 .6 1.1 .5 .7 .6 6.5 .5 6.4 .6 0 .6-4.8 .5-5.2 .6-6.8 .5-6.9 .6-7.1 .6-1.4 .5-.8 .6 .1 .5 1.6 .6 4.3 .5 3.6 .6 4.7 .6 3.6 .5 3.4 .6 3.3 .5 3.3 .6 3.9 .5 1.1 .6-3.2 .6-2.8 .5-1.5 .6-.6 .5-.7 .6-.5 .6 1.6 .5 1 .6-1 .5-3.9 .6-3.7 .5-.2 .6 2 .6 2 .5-3.2 .6-5 .5-4.9 .6-4.8 .5-3.4 .6 4.1 .6 4.7 .5 3.8 .6-.1 .5 .1 .6 1.7 .6 4.2 .5 4.4 .6 3 .5 1.3 .6 .4 .5 .4 .6-.5" fill="none" stroke="#0e0b0b" stroke-width="1.9" stroke-linejoin="round" stroke-linecap="round"/>
<rect x="1470.4" y="884.5" width="144.5" height="73.6" fill="none" stroke="#0e0b0b" stroke-width="1.85"/>
<path d="M1528.2 884.5v2.3M1528.2 958.1v-2.3M1586.0 884.5v2.3M1586.0 958.1v-2.3M1470.4 921.3h2.3M1614.9 921.3h-2.3M1470.4 945.9h2.3M1614.9 945.9h-2.3M1470.4 896.7h2.3M1614.9 896.7h-2.3" stroke="#0e0b0b" stroke-width="1.3" fill="none"/>
<text transform="translate(1454.9 893.8) scale(1.045 1)" font-size="24.3" text-anchor="end">2.5</text>
<text transform="translate(1454.9 930.6) scale(1.045 1)" font-size="24.3" text-anchor="end">0</text>
<text transform="translate(1454.9 967.4) scale(1.045 1)" font-size="24.3" text-anchor="end">-2.5</text>
<text transform="translate(1463.9 983.5) scale(1.045 1)" font-size="24.3" text-anchor="middle">0</text>
<text transform="translate(1522.8 983.5) scale(1.045 1)" font-size="24.3" text-anchor="middle">20</text>
<text transform="translate(1578.6 983.5) scale(1.045 1)" font-size="24.3" text-anchor="middle">40</text>
<text transform="translate(1603.3 983) scale(1.045 1)" font-size="24.3">(s)</text>
<text transform="translate(1429.7 862.3) scale(1.045 1)" font-size="24.900000000000002">(cm)</text>
<text transform="translate(1542.4 871.9) scale(1.045 1)" font-size="28" text-anchor="middle">AP</text>
<path d="M1470.4 1078.8l.6-4.4 .5-4.3 .6-4.2 .5-.6 .6-.7 .5-.8 .6-.8 .6 .1 .5 0 .6-.1 .5-.2 .6 .4 .6 1.9 .5 2.1 .6 2.1 .5 3.2 .6 2.9 .5 3.2 .6 .8 .6 1.2 .5-2.3 .6-6.1 .5-7.1 .6-4.7 .5-3.2 .6-2.8 .6-.9 .5 2.1 .6 2.6 .5 2.4 .6 3 .6 2.3 .5 2.4 .6 1.4 .5 1.7 .6-.5 .5-2 .6-2.1 .6-1.3 .5-.2 .6-.8 .5-.7 .6-.8 .5 0 .6 0 .6 .7 .5 .7 .6 1.6 .5 .3 .6 1.1 .6-1.8 .5-.2 .6-1 .5 2.1 .6 1 .5 2.1 .6-2.8 .6-2.5 .5-2.7 .6 2.1 .5 2.3 .6 1.7 .5-2 .6-2.4 .6-2.7 .5 .4 .6 2.4 .5 1.9 .6 .9 .6 .7 .5 1.6 .6 1.4 .5 1.9 .6 2.1 .5 1.9 .6 .4 .6 .1 .5-.2 .6 .6 .5 .6 .6 .5 .5 1.4 .6-.4 .6 .5 .5-.8 .6 1.8 .5 1.9 .6 .5 .6-2.2 .5-2.6 .6-1.1 .5-.9 .6-.2 .5-.9 .6-1.9 .6-2.4 .5-2.9 .6-2.3 .5-2.5 .6-2.3 .5-2.5 .6-2 .6-2.2 .5 .1 .6 1.7 .5 2.3 .6 2 .6 3.1 .5 3.4 .6 2.2 .5 1.6 .6 1.5 .5 1.1 .6-1.2 .6-3 .5-2.3 .6 .5 .5 1.8 .6 1.9 .5-1 .6-1.1 .6-1.9 .5 1.3 .6 1.8 .5 2.7 .6 2.3 .6-6 .5-6.4 .6-5.6 .5-.5 .6-.2 .5 .1 .6 2.1 .6 2.1 .5 1.9 .6 2.4 .5 2.6 .6 2.9 .6 2.4 .5 2.4 .6 1.1 .5-1.5 .6-1.6 .5-2.3 .6 .9 .6 2.1 .5 2.6 .6-.9 .5-2.6 .6-2.5 .5 1.3 .6 2.4 .6 2.2 .5-2.2 .6-2.6 .5-2.9 .6-2 .6-1.9 .5-.4 .6-1.6 .5-2.5 .6-3.7 .5-3 .6-1.4 .6-2.1 .5-1.5 .6-1.3 .5-.6 .6 1.8 .5 1.8 .6 3 .6 3.7 .5 3.6 .6 3.7 .5 3.6 .6 3.5 .6 2.3 .5 .8 .6 1.8 .5 2.4 .6 4 .5 3.6 .6-.2 .6-3.1 .5-3.5 .6-1.9 .5-1.6 .6-2.2 .5-1.9 .6-3.3 .6-2.6 .5-2.6 .6-.6 .5-.8 .6-1 .6-1.2 .5-1.2 .6-1 .5-1.1 .6 .8 .5 2.6 .6 2.5 .6 1.6 .5 .6 .6 .8 .5 0 .6-1.1 .5-1.1 .6-3.8 .6-5.2 .5-4 .6-2.3 .5-2.5 .6 4.3 .6 8.1 .5 1.6 .6-4.1 .5-4 .6-1.6 .5 1.2 .6 1.3 .6 1.9 .5 1.3 .6 1.5 .5-1.3 .6-1 .5-1.7 .6 .2 .6-1.3 .5-.9 .6 1.6 .5 2.5 .6 2.7 .6 1.8 .5 1.5 .6 1.2 .5 1.6 .6-1 .5-.1 .6-.8 .6-.3 .5-1.9 .6-.7 .5-.3 .6 .7 .5-.3 .6-1.6 .6-1.8 .5-1.2 .6 2.8 .5 3.2 .6 2.6 .6 1.1 .5 .5 .6 .9 .5 .3 .6 .1 .5 .3 .6-.3" fill="none" stroke="#0e0b0b" stroke-width="1.9" stroke-linejoin="round" stroke-linecap="round"/>
<rect x="1470.4" y="1029" width="144.5" height="73.6" fill="none" stroke="#0e0b0b" stroke-width="1.85"/>
<path d="M1528.2 1029.0v2.3M1528.2 1102.6v-2.3M1586.0 1029.0v2.3M1586.0 1102.6v-2.3M1470.4 1065.8h2.3M1614.9 1065.8h-2.3M1470.4 1090.4h2.3M1614.9 1090.4h-2.3M1470.4 1041.2h2.3M1614.9 1041.2h-2.3" stroke="#0e0b0b" stroke-width="1.3" fill="none"/>
<text transform="translate(1454.9 1035.2) scale(1.045 1)" font-size="24.3" text-anchor="end">2.5</text>
<text transform="translate(1454.9 1072) scale(1.045 1)" font-size="24.3" text-anchor="end">0</text>
<text transform="translate(1454.9 1108.8) scale(1.045 1)" font-size="24.3" text-anchor="end">-2.5</text>
<text transform="translate(1467.7 1128.9) scale(1.045 1)" font-size="24.3" text-anchor="middle">0</text>
<text transform="translate(1526.6 1128.9) scale(1.045 1)" font-size="24.3" text-anchor="middle">20</text>
<text transform="translate(1582.4 1128.9) scale(1.045 1)" font-size="24.3" text-anchor="middle">40</text>
<text transform="translate(1606.9 1128.4) scale(1.045 1)" font-size="24.3">(s)</text>
<text transform="translate(1429.7 1004.4) scale(1.045 1)" font-size="24.900000000000002">(cm)</text>
<text transform="translate(1542.4 1017.3) scale(1.045 1)" font-size="28" text-anchor="middle">ML</text>
<path d="M1780.2 980.1l1.9 .2 2 .2 1.8 .2 1.5 0 1.3-.2 1.3-.2 1.3 0 1.4 .3 1.5 .7 1.6 1 1.5 1.1 1.6 .9 1.5 .6 1.9 .3 2 .1 2.3-.1 2.4 0 2.1 .2 1.4 .5 .5 .8-.3 1-.9 1-1 1.1-.4 1.2 .1 1.1 .6 1.1 .9 1 .9 1 .8 .9 .6 .9 .6 .8 .9 .8 1 .8 .9 .8 .8 .8 .3 .5-.2 .3-.4 .1-.8-.1-.9-.2-1.2-.2-1.2-.3-1-.4-.6-.7-.2-.9-.2-.9-.4-1-.8-.9-1.3-.8-1.5-.8-1.3-.8-.9-.8-.2-.6 .6-.5 1-.4 1.2-.2 1.2-.1 1.3 .2 1.1 .4 .9 .7 .7 .9 .4 1.1 .1 1.4 0 1.3 0 1 .2 .5 .4 .1 .4-.5 .2-.9 0-1.4-.3-1.8-.5-1.8-.9-1.9-.8-2-.6-2.1-.6-2.2-.5-2.1-.4-1.9-.3-1.6-.1-1.5 .1-1.5 .4-1.8 .3-2.1 .3-2.4 .1-2.4-.2-2-.7-1.2-1.2 .1-1.8 1.3-1.9 2.6-1.9 3.6-1.6 3.9-1.5 3.9-1.4 3.8-1.5 3.5-1.5 3.1-1.6 2.9-1.8 2.6-2 2.7-2 2.7-2.3 3-2.5 3.1-2.7 3-2.7 3-2.4 2.9-2.1 2.7-1.8 2.6-1.5 2.4-1.4 2.2-1.3 2.2-1.3 2-1 2.1-.5 2 .2 2.1 .6 1.9 .7 1.7 .5 1.2 .4 .6-.1-.2-.5-1-.7-1.6-.7-1.7-.6-1.8-.3-1.7 .1-1.8 .5-2 1-2.1 1.4-2.1 1.7-2 1.8-1.7 2-1.3 2.4-.8 2.7-.6 2.9-.7 3.2-1 3-1.4 2.5-1.9 2.2-2.1 2-2.2 2.4-2.1 3-2 3.8-1.6 4.2-1.2 4.2-.9 3.9-.5 3.3-.6 2.9-.6 2.6-.9 2.5-1.4 2.5-1.5 2.5-1.6 2.2-1.5 1.7-1.6 1.3-1.6 .7-1.8 .6-2 .7-2.3 1.1-2.4 1.3-2.5 1.4-2.6 1.3-2.5 1-2.5 .5-2.4-.2-2.3-.9-1.9-1.4-1.4-1.8-.5-1.8 .6-1.9 1.5-1.8 2.1-1.6 2.4-1.2 2.5-1 2.3-.7 2.2-.8 2.1-.8 2.1-.6 2.3-.6 2.4-.5 2.7-.5 2.7-.6 2.8-.9 2.8-1.1 2.8-1.3 2.7-1.2 2.7-1.4 2.8-1.5 3-1.4 2.9-1.2 2.9-1.2 3.1-1.2 3-1.1 2.9-1.1 2.8-1.2 2.2-1.4 1.5-1.4 .6-1.3-.3-1.1-1.3-1.1-2-1.2-2.6-1.3-3.1-1.5-3.3-1.4-3.5-1.2-3.4-1-3-.7-2.6-.8-2.4-1.1-2.3-1.5-2.4-1.5-2.4-1.4-2.7-1-2.7-.3-2.6 .1-2.4 .3-2.4 .1-2.5 0-2.6 .1-2.8 .3-2.6 .8-2.1 1.5-1.4 2-.6 2.1 .1 2 .6 1.7 1 1.4 1.1 1.2 1.2 1 1.2 .9 1.2 1.1 1.4 1.2 1.4 1 1.4 .8 1.6 .4 1.7 .2 1.8 .3 1.7 .3 1.4 .3 .9 .3 .4 .1 .3-.1 .3-.4 .8-.5 1.4-.3 1.9-.2 2.1 .3 2.1 .7 1.9 .8 1.6 1 1.5 1.2 1.2 1.4 1.1 1.7 1.1 1.8 1.3 1.7 1.4 1 1.2 .5 1.1 0 1-.5 1-.5 .8-.2 .8 .2 .7 .6 .8 .6 1 .3 1-.2 .9-.6 .7-.8 .8-.8 .9-.8 1-.4 1.1 0 1 .1 1.1 .2 1 .1 .9 0 .7 .2 .5 .5 .6 .5 .5 .2 .6-.1 .6-.2 .7-.4 .7-.7 .5-.6 .3-.5-.1-.3-.1-.3-.1-.6 .1-.8 .4-.9 .6-.9 .7-.8 .8-.8 .8-1 .7-1 .4-.9 .2-.9 .1-.8 .2-.8 .1-.8 .1-.7 0-.8-.1-.8-.2-.8-.3-.6-.5 0-.3 .4-.2 .8 .3 .9 .4 .9 .1 .8-.2 .5-1 .4-1.7 0-2.3-.2-2.6 0-2.6 .3-2.5 .7-2.4 .9-2.5 1.1-2.6 1-2.7 .7-2.9 .1-2.6-.4-2.5-.8-2-1-1.7-.9-1.6-.6-1.4-.3-1.4 0-1.4 .3-1.5 .3-1.7 .1-1.8-.5-1.9-.9-2.2-1-2.3-.9-2.3-.9-2.2-.9-2-.8-1.6-.9-1.5-.9-1.3-.8-1.4-.3-1.4 .3-1.5 1-1.5 1.5-1.5 1.8-1.5 1.8-1.7 1.6-1.6 1.7-1.5 1.8-1.5 1.8-1.6 1.7-1.8 1.4-2 1.3-2.2 1.1-2.4 1.1-2.4 1.3-2.3 1.5-2 1.5-1.8 1.2-1.5 .5-1.3-.1-.6-.7 .4-1 1.5-.9 2.4-.8 2.8-.4 3-.3 2.7-.3 2.3-.3 1.7-.5 1.3-.6 1.2-.7 1.3-.9 1.4-1.2 1.8-1.2 2.1-1.1 2.5-.6 2.9-.3 3.2 .2 3.3 .3 3.2 .4 3 .5 2.7 .4 2.5 .2 2.3 .3 2.3 .3 2.4 .4 2.6 .3 2.8 .4 3 .5 3.2 .4 3.3 .4 3 .5 2.9 .7 2.5 1.1 2.2 1.4 2.1 1.9 2.1 2.1 2.5 1.9 2.7 1.2 2.9 0 2.7-1.1 2.3-1.7 2-1.9 1.7-1.7 1.7-1.5 1.8-1.3 2-1.3 2.2-1.4 2.4-1.6 2.1-1.8 1.9-1.8 1.4-1.8 .8-1.7 .1-1.8-.8-1.7-1.3-1.7-1.6-1.4-1.7-.9-1.8-.3-1.6 0-1.4 .1-1.4-.1-1.4-.5-1.5-1-1.5-1.2-1.5-1.1-1.5-.5-1.7 0-1.9 .3-1.9 .1-1.8-.4-1.8-1-1.8-1.5-1.7-1.5-1.7-1.3-1.5-.6-1.4-.1-1.4 .4-1.4 .6-1.3 .6-1.2 .1-1-.2-.9-.5-1.2-.5-1.4-.6-1.7-.5-1.8-.6-1.9-.6-1.6-.6-1.5-.6-1.1-.8-1-1-.9-1-1.1-1.2-1.1-1.3-.9-1.6-.7-1.7-.4-1.7-.1-1.6-.1-1.6-.1-1.5 0-1.4 .2-1.2 .3-.9 .3-.5 .2 .2 .2 .8 0 1.1-.1 1.5-.1 1.4-.1 1 .1 .5 .3 0 .3-.4 .1-.6-.3-.6-.6-.3-.6-.2-.6 .1-.4 .1-.1-.1-.2-.4-.2-.8-.3-1.1-.5-1.5-.6-1.5-.5-1.5-.5-1.2-.3-1 0-.5 .3-.1 .3-.1 .4-.3 .3-.4 .3-.4 .2-.4 .2-.2 .5-.1 .7 0 1.2-.3 1.3-.4 1.2-.8 1-.9 1.1-.5 1.1 .2 1.2 .5 1.3 .7 1.2 .9 .9 .9 .7 .8 .3 .8-.1 .9-.3 1.2-.3 1.3-.5 1.3-.6 .8-.8 .4-.9 .3-.8 .2-.7 .2-.6 .1-.4 .2-.4 .3-.5 .2-.4 0-.4-.4 .1-.9 .7-1.1 1.2-1.3 1.4-1.3 1.5-1.3 1.5-1.1 1.5-.8 1.3-.7 1.4-.5 1.4-.3 1.4-.1 1.4 .1 1.2 .1 1.1 .1 .8-.2 .7-.2 .6 .2 .6 .7 .5 1.1 .6 1.4 .6 1.4 .7 1.2 .6 .7 .6 .4 .6 .1 .6 .3 .8 .7 .9 1.1 1.1 1.4 1.2 1.5 1.2 1.3 1.1 1 .9 .5 .6-.1 .6-.6 .5-1 .3-1.2-.1-1-.5-.7-.9-.3-1-.1-1.1 .2-1 .6-.7 .8-.4 .9-.1 .9-.2 .9-.3 .9-.6 1.1-.8 1.3-.9 1.4-.8 1.7-.8 1.9-.7 1.7-.7 1.6-.7 1.4-.8 1.5-1.2 1.8-1.4 1.9-1.6 2.1-1.6 1.6-1.6 1.2-1.5 .8-1.3 .3-.9 .2-.5 .3-.3 .7-.4 .9-.3 1-.4 1-.4 .9-.4 .7-.2 .9-.1 1.1 .1 1.4 .1 1.5 0 1.5 0 1.6-.1 1.5-.2 1.6-.3 1.7-.3 1.7-.4 1.9-.6 2.3-.9 2.2-1 2-1.2 1.6-1.3 1.1-1.3 .8-1.3 .5-1 .3-.7 .2-.6 .2-.5 .4-.5 .5-.6 .7-.7 1.1-.8 1.6-.7 2-.4 2.1-.2 1.9-.4 1.4-.6 .6-1 0-1-.3-.8-.2-.2 .3 .3 .6 .9 .8 1.1 .7 1.1 .4 .9-.1 .6-.5 .6-.9 .7-.9 1-.6 1.1-.6 1.1-.7 .9-.8 .4-.7-.3-.6-.8-.7-1.4-1-1.5-1.1-1.3-1.2-1.2-1.2-1-1.1-.9-.9-1-.6-.9-.6-.9-1-.9-1.5-1.1-2.2-1.1-2.6-1.2-2.5-1.2-2.2-1.3-1.9-1.1-1.7-.9-1.7-.7-1.8-.6-1.8-.5-1.9-.5-1.9-.6-1.7-.6-1.8-.8-1.9-1-2-1.4-2.2-1.6-2.1-1.6-1.8-1.2-1.5-.9-1.1-.3-.8 .2-.6 .7-.6 1-.6 1.2-.6 1.4-.7 1.5-1 1.5-1 1.5-1 1.1-.9 .8-.6 .6-.4 .5 0 .7 .3 .6 .4 .5 .4 .4 .4-.1 .4-.7 .4-1.4 .3-2 .5-2.1 .8-1.8 1.2-1.4 1.5-1.2 1.4-.8 1.4-.6 1.1-.6 .8-.8 .4-1.3 .3-1.6 .4-1.9 .7-2.2 1-2.4 1.2-2.7 1.4-2.8 1.1-2.6 .8-2.6 .4-2.7-.3-2.8-.6-2.9-1-3-.9-3.1-.8-3.1-.8-2.5-.6-1.6-.7-.6-.8 .4-.7 1-.7 1.3-.7 1.4-.4 1.6 .2 1.9 .4 2 .7 2.4 .8 2.5 .8 2.8 .9 3 .9 3.3 1.1 3.5 1.3 3.5 1.4 3.8 1.2 3.9 1 3.9 .7 4 .5 3.9 .4 3.8 .2 3.8 .1 3.9 .1 4-.1 4-.4 3.8-.7 3.6-.9 3.3-1 3.1-.9 2.9-1.1 2.8-1 3-1.2 3.2-1.3 3.4-1.4 3.4-1.3 3.3-1.3 3.1-1.2 3-1.2 2.9-1.2 2.6-1.1 2.5-.9 2.3-.8 2.2-.7 2.2-.8 2.2-.9 2.2-1.1 2.4-.8 2.5-.3 2.7 .5 2.7 1.6 2.5 2.6 2.3 3.2 1.6 3.4 .5 3.2-.8 3-1.9 2.8-2.7 2.9-3 3-3.1 2.9-2.9 2.9-2.6 2.8-2.4 2.5-2.1 2.2-2 2.4-1.9 2.5-1.8 2.7-1.8 2.7-2 2.2-2.3 1.7-2.8 1.2-3.2 .5-3.4 .2-3.4-.2-3.3-.3-3.2-.2-3.3-.2-3.4-.2-3.5 0-3.8 .2-3.9 .3-4.2 .4-4.2 .3-3.9 .2-3.7 .1-3.6 .1-3.4 .1-3.1 0-2.8 .1-2.5 0-2.5 .1-2.4-.1-2.4-.3-2-.5-1.3-.9-.6-1.1 .2-1.3 .9-1.5 1.4-1.6 1.6-1.6 1.5-1.5 1.5-1.5 1.6-1.4 1.7-1.3 2-1.3 2.1-1.2 2.1-1.2 1.9-1.5 1.8-1.9 1.9-2.4 1.9-2.9 1.9-2.8 2-2.5 2-2.1 2.1-1.4 2-.7 1.8-.1 1.8 0 2.1-.4 2.2-.9 2-1.6 1.5-1.9 1.1-2 .9-1.7 .7-1.7 .7-1.5 .9-1.5 1.1-1.5 1.3-1.4 1.4-1.1 1.6-.7 1.7-.6 1.9-.7 2.1-1 2.3-1.6 2.3-1.9 2-2 1.9-1.8 1.8-1.2 1.7-.7 1.9 0 2.1 .5 2.2 .9 1.9 .9 1.3 .8 .3 .6-.4 .6-1.2 .4-1.7 .4-1.9 .6-1.7 .5-1.6 .3-1.5 .2-1.5 0-1.7-.3-1.5-.5-1.2-.4-1.1-.3-1.3-.3-1.4-.1-1.7-.3-1.8-.6-2-.8-2.2-.8-2.1-.7-2-.4-1.8 0-1.8 .3-2.2 .2-2.4 .2-2.4-.2-2.4-.5-2.2-.8-2.2-.9-2.3-1-2.5-1.1-2.7-1.1-3-1.1-3.2-.5-3.2 .4-3.2 1.3-2.9 2-2.6 2.1-2.7 1.9-2.6 1.4-2.6 .8-2.4 .4-2.3 .5-2.3 .6-2.4 1-2.6 1.3-2.9 1.5-3.1 1.4-3.3 1.5-3.2 1.3-2.4 1-1.6 .7-.6 .4 0-.1 .5-.3 .7-.4 .8-.3 1-.3 1.1-.4 1.3-.2 1.6-.4 1.8-.5 1.9-.8 1.8-1 1.6-1 1.6-.9 1.6-.7 1.7-.7 2-.7 2.2-.3 2.6-.1 2.8 .1 3 .4 2.9 .8 2.4 1.1 2.2 .9 2.1 .7 2 .4 2 .3 2 .2 2.1 .2 2.4 .1 2.5 .3 2.7 .5 2.8 .6 2.8 .8 2.7 1.2 2.8 1.5 2.5 1.7 2.4 1.5 2.2 1.2 2.2 .8 2 .6 2.2 .7 2.1 1 2 1.5 1.9 1.9 1.8 2 1.8 1.8 1.8 1.5 1.8 1.1 1.9 1 2 1 1.8 1 1.7 .9 1.4 .7 1.2 .3 1.1-.2 1.2-.5 1.3-.5 1.3-.1 1.4 .3 1.2 1 .6 1.4 0 1.4-.6 1.4-.9 1.1-1.1 .9-1.2 .9-1.2 1.1-1.2 1.4-1.2 1.7-1.4 1.8-1.4 1.9-1.6 2-1.6 1.9-1.7 2-1.8 2.3-1.9 2.6-1.7 2.8-1.6 2.9-1.5 2.6-1.6 2.4-1.6 1.9-2.1 1.8-2.4 1.6-2.8 1.5-3 1.4-3.1 1.2-3.1 1.1-2.9 1.2-2.8 1.1-2.4 1.2-2.2 1-2.1 1-1.7 .8-1.5 .5-1.2 0-1.1-.2-1.1-.3-1.2-.1-1.2 .1-1.2 .4-1.2 .4-1.1 .4-1.1 .5-1 .4-1.2 .3-1.3 .1-1.3 0-1.4-.2-1.1-.7-.7-1.1-.3-1.4 0-1.6 .2-1.6 .2-1.2 .2-1 .1-.8 .3-.5 .4-.5 .3-.4 .3-.4 .1-.6-.1-.8-.4-1.1-.5-1.3-.5-1.3-.4-1.2-.3-.9-.4-.9-.6-1-.9-1.3-.9-1.6-1-1.9-1-2-.9-2-.9-1.8-.9-1.7-1-1.5-.9-1.5-.9-1.6-.8-1.7-.8-1.8-.9-1.9-1.1-1.9-1.2-1.6-1.3-1.6-1-1.7-.5-1.8 .1-2 .6-2.4 .9-2.8 .8-3.1 .6-3.3 .1-2.9-.3-2.4-.5-1.9-.5-1.7 0-1.2 .3-.9 .6-1 .9-1 1.2-.9 1.1-.8 .9-.4 .8-.1 .8-.1 1-.4 1.2-.6 1.4-.9 1.6-1.2 1.7-1.4 1.9-1.6 1.9-1.3 2-1 2.1-.8 2.1-.6 2.2-.5 2.1-.5 2-.4 1.9-.1 1.6-.1 1.6-.1 1.3-.4 1.3-.7 1.5-1.3 1.8-1.7 2.3-2.1 2.7-2.3 2.8-2.5 3-2.4 2.9-2.2 2.6-2.1 2.3-2.1 1.8-2.2 1.7-2.2 1.5-2 1.6-1.6 1.6-1.7 1.6-1.8 1.6-1.8 1.4-1.5 1-.8 .2 .1-.9 1.1-2 2.2-2.7 2.8-3.1 3-3 2.6-2.5 2-2 1.3-1.7 .9-1.4 1.1-1.5 1.4-1.6 1.8-1.8 2.1-2 2.3-2.1 2.3-2.1 2.3-2.1 1.9-2 1.7-2 1.4-1.8 1.3-1.4 1.2-1.3 1.1-1.2 1-1.3 .9-1.5 1-1.8 1.3-2.3 1.8-2.7 1.9-2.9 2-3 1.7-2.8 1.4-2.5 1-2.3 .6-2.1 .2-2 0-1.9-.1-2 .1-1.9 .2-1.8 .3-1.7 .6-1.2 .8-.8 .9-.2 1 .1 1 .6 1.1 .9 1.2 1 1.5 1 1.8 .8 1.7 .6 1.5 .6 1.3 .4 1.1 .3 1-.1 1.2-.5 1.2-1.1 1.2-1.4 1.1-1.7 .9-1.9 .7-2 .4-2 .2-2.1 .3-2 .4-2 .6-1.9 .5-1.9 .5-1.9 .5-1.7 .3-1.7 .2-1.7 .3-1.9 .3-1.7 .3-1.2 .4-.5 .6 .5 .7 1.4 .8 2.2 .9 2.8 .7 2.9 .6 2.9 .5 2.7 .6 2.9 .7 3.1 .6 3.3 .7 3.5 .9 3.4 1.2 3.4 1.4 3.1 1.3 2.7 1.1 2.1 1 1.7 .6 1.4 .4 1.1-.1 .8-.4 .5-.5 .2-.4 0-.3-.3-.1-.5 .2-.3 .5 0 .9 .5 1 .8 .8 1.1 .6 1.2 .3 1.2-.2 .9-.5 .9-.7 .9-.7 .8-.4 .7-.3 .7-.6 .8-1 .7-1.3 .7-1.7 .5-2.2 .5-2.3 .5-2.1 .6-1.9 .9-1.4 1-1.1 1.4-.8 1.7-.2 2 .2 2.1 .4 2.1 .4 1.9 .3 1.7 0 1.3-.5 .9-.8 .3-.9 .1-1 .1-.9 .1-.9 .2-1.1 .1-1.3 .2-1.2 .1-1.1 .2-.8 .4-.1 .4 .6 .5 1.3 .6 1.5 .6 1.6 .5 1.4 .6 1 1 .4 1.7-.1 2.4-.3 3.2-.2 3.3-.1 3.1 0 2.7 0 2.3 0 1.9 .1 1.7 .2 1.8 .3 1.9 .7 2.2 1.3 2.1 1.8 1.8 2.3 1.2 2.6 .5 2.9-.1 3.1-.6 3.1-1.2 3.1-1.5 3.1-2.1 2.7-2.2 2.4-2.3 1.9-2.1 1.6-1.9 1.4-1.8 1.4-1.8 1.4-2 1.2-2.5 1.1-2.8 .9-3.1 .6-3 .5-2.8 .6-2.7 1-2.4 1.5-2.3 2.1-2.3 2.4-2.1 2.1-2.1 1.9-1.7 1.6-1.6 1.3-1.4 .9-1.5 .2-1.9-.7-2.4-2-2.9-3.3-3-4.5-2.9-5.4-2.4-5.6-1.6-5.5-1-5.1-.4-4.9-.2-4.6-.2-4.3-.2-3.6-.3-2.5-.4-1.2-.7 .2-.7 1.3-.9 2.1-.9 2.5-.7 2.7-.6 2.6-.5 2.8-.3 3.1-.3 3.2-.2 3.1 0 2.6 .2 2.2 .7 1.6 1.1 1.3 1.4 1.2 1.4 .9 1.2 .8 .8 .5 .5 .4 .3 .2 .3-.2 .5-.3 .7-.6 1.1-.7 1.5-.8 1.6-.7 1.7-.7 1.8-.7 2-.6 2.1-.4 2.1-.3 2.1-.2 1.8 0 1.6 0 1.5 0 1.4-.4 1.4-.6 1.5-1 1.6-1.4 1.4-1.5 1.3-1.5 1.2-1.6 1.2-1.7 1.1-1.5 1.1-1.2 1-.7 .9-.5 .8-.3 .9-.5 1-.6 1-.9 1.2-.9 1.2-.6 1.2-.1 1.3 .5 1.4 1.1 1.5 1.2 1.7 1.2 1.8 1.1 1.8 1 1.8 1 1.8 1.1 1.8 1.3 1.6 1.5 1.4 1.4 1.3 1.6 1 1.6 .9 1.7 .4 1.5 0 1.4-.5 1-.9 .9-1.4 .7-1.7 .4-1.7 0-1.6-.3-1.4-.2-1.2-.1-1 0-.7 .2-.4 .5-.5 .7-.5 .6-.9 .1-1.1-.8-1.2-1.4-1.2-1.5-1.1-1.2-.9-.7-.6-.2-.4 .4-.4 .7-.6 .6-.8 .1-.9-.4-.7-.5-.4-.8-.2-1 0-1.2-.1-1.3 0-1.5 0-1.4 .1-1.4 .2-1.4 .4-1.3 .6-1.3 .9-1.4 1.1-1.8 1.2-2 1.1-2.1 .8-1.9 .7-1.5 .5-1.1 .3-.9 .1-.7 0-.4 0-.6 .3-.6 .3-.8 .5-.8 .7-.5 .7-.3 .4-.1 .2-.2-.4-.4-1-.6-1.7-1-2-1.4-2.1-1.7-2.1-1.8-2.1-1.6-2.2-1.2-2.3-.9-2.3-.3-2.2 .2-2.1 .5-2 .5-1.7 .5-1.3 .4-.8 .4-.6 .5-.1 .5 .2 .6 .8 .9 1.1 1.2 1.4 1 1.5 .6 1.4 0 1.4-.5 1.6-.8 1.4-1 1.5-.8 1.3-.4 1.2 .2 .9 .7 .5 1.1 0 1-.3 .7-.6 .5-.7 .6-.9 .7-1.1 .9-1 .8-1.2 .8-1.5 .6-1.6 .6-1.8 .6-1.8 .6-1.8 .7-1.8 .7-1.8 .6-1.6 .2-1.5-.1-1.4-.3-1.4-.1-1.6 .1-1.8 .4-2.2 .4-2.5 .4-2.5 .2-2.4 0-2.2 0-2-.1-1.9 0-1.8 .1-1.9 .1-1.8 .3-1.4 .3-.8 .3 0 .3 .9 .1 1.7 .3 2.3 .4 2.7 .7 2.9 .9 2.8 1.3 2.4 1.3 2 1.2 1.6 .8 1.1 .5 1.1 .5 1.2 1.1 1.6 1.5 1.7 1.4 1.8 1.1 1.4 .8 1 .3 .6-.5 .2-.8-.2-1.1-.3-1.1-.3-1-.3-1.1 0-1.2 .2-1.4 .4-1.4 .6-1.6 .7-1.9 .6-2.1 .2-2.3-.2-2.4-.4-2.2 0-1.7 .5-1.2 1-.9 1.5-.5 1.7-.1 2 0 2.2 0 2.2-.3 2-.3 2-.4 1.9-.4 1.6-.5 1.4-.7 1.2-.6 1-.6 1-.5 .9-.6 1-.4 .8-.1 .8 .2 .6 .2 .6 .1 .5-.5 .6-.8 .6-1 .6-1 .4-.9 .2-.6 0-.4-.2-.5-.3-.7-.2-.9-.1-1.1 .2-1.4 .2-1.3 .1-1.4 .1-1.3 0-.8-.1-.5-.2-.1-.2 .4-.1 .6 0 1 .1 1.3 .2 1.4 .3 1.5 .5 1.5 .5" fill="none" stroke="#1b40a0" stroke-width="2.1" stroke-linejoin="round" stroke-linecap="round"/>
<rect x="1692" y="906.4" width="233.4" height="176.1" fill="none" stroke="#262424" stroke-width="1.85"/>
<path d="M1808.7 906.4v3.0M1808.7 1082.5v-3.0M1692.0 994.5h3.0M1925.4 994.5h-3.0" stroke="#262424" stroke-width="1.3" fill="none"/>
<text transform="translate(1677.7 914.9) scale(1.045 1)" font-size="28" text-anchor="end">2.5</text>
<text transform="translate(1677.7 1003) scale(1.045 1)" font-size="28" text-anchor="end">0</text>
<text transform="translate(1677.7 1091) scale(1.045 1)" font-size="28" text-anchor="end">-2.5</text>
<text transform="translate(1695.5 1116.3) scale(1.045 1)" font-size="28" text-anchor="middle">-2.5</text>
<text transform="translate(1810.2 1116.3) scale(1.045 1)" font-size="28" text-anchor="middle">0</text>
<text transform="translate(1923.4 1116.3) scale(1.045 1)" font-size="28" text-anchor="middle">2.5</text>
<text transform="translate(1657.4 881.3) scale(1.045 1)" font-size="28.7">(cm)</text>
<text transform="translate(1935.9 1081.8) scale(1.045 1)" font-size="28.7">(cm)</text>
<path d="M1470.4 1228.8l.6 5.2 .5 5.6 .6-3 .5-6.4 .6-.5 .5 4.5 .6 4.5 .6-.1 .5-2.3 .6-2.5 .5 .3 .6 1.7 .6 1.4 .5-.2 .6-1.6 .5-.6 .6 3.7 .5 6.2 .6-1.8 .6-3.6 .5-1 .6 2.7 .5 2.4 .6-5.2 .5-5.8 .6-2.7 .6-2.4 .5 2.2 .6 2.8 .5-3.6 .6-7.5 .6-5.5 .5 2.2 .6 1.2 .5-3.6 .6-2 .5 6.4 .6 6.1 .6 4.3 .5 3.2 .6 .2 .5-3.9 .6 .3 .5 8.4 .6 3.7 .6-9.1 .5-1.5 .6 4.8 .5 5.3 .6 4.3 .6 1.3 .5-5.6 .6-4.6 .5 7.6 .6 7.5 .5 5.3 .6 4.5 .6-3.2 .5-7 .6-4.7 .5-2.8 .6-2.2 .5 5.2 .6 4.9 .6-2.4 .5-3.8 .6-3.3 .5 2.5 .6 3 .6-1 .5-1.5 .6-1.7 .5 4.1 .6 4.4 .5-2.3 .6-3.1 .6-2.8 .5-.8 .6-1.7 .5-1.4 .6 3.2 .5 4.3 .6-1 .6-5.2 .5-4.7 .6-3.9 .5-2.2 .6-1.9 .6 1.7 .5 2.8 .6 1.7 .5 3.1 .6 3.8 .5 4.3 .6 .2 .6-.7 .5-1.4 .6-1.4 .5-1.7 .6-1.5 .5 1.9 .6 2.5 .6 2.2 .5 1.3 .6 .5 .5 1.1 .6 2 .6 2.1 .5-1.6 .6-3.5 .5-3.2 .6-5.6 .5-6 .6 2.8 .6 7 .5-.5 .6-4.8 .5-1.5 .6 5.1 .5 5.5 .6-6.4 .6-6.9 .5 2.7 .6 5.1 .5-4.1 .6-6.2 .6-1.2 .5 4.3 .6 4.2 .5 3.6 .6 3.5 .5 3.6 .6-1.2 .6-1 .5-2.1 .6-1.9 .5-1.9 .6-.3 .6 3.5 .5 3.7 .6 1 .5-4.2 .6-4.7 .5-1.4 .6 1.7 .6 1.5 .5-1.4 .6-4.1 .5-1.2 .6 5.4 .5 2.8 .6-2.9 .6-3 .5-2.6 .6-1.2 .5-1.9 .6 2.8 .6 3.2 .5 2.4 .6-2.8 .5-3.1 .6 1.3 .5 3.3 .6 .7 .6-2.7 .5-3.3 .6 7.7 .5 12.3 .6 1.7 .5-3.8 .6-3.3 .6 .1 .5 1.3 .6 .9 .5-1.8 .6-2.7 .6-3.1 .5 2.9 .6 5.2 .5 5.5 .6-4.6 .5-6.9 .6-6.5 .6-3 .5-2.1 .6-2.2 .5-1.1 .6-1.5 .5-2.1 .6 3.2 .6 2.8 .5 3.6 .6 4.1 .5 4.4 .6 2.3 .6-3.7 .5-3.6 .6-3 .5-2.2 .6-2 .5-.4 .6 3.7 .6 4.3 .5-3.1 .6-3.7 .5-.7 .6 1.5 .5 1.4 .6-2.5 .6-3.7 .5 .9 .6 5.2 .5 4.2 .6-1.1 .6-6.4 .5-5.7 .6-2.1 .5-.3 .6 2.5 .5 3.7 .6 3.3 .6 1.6 .5 1.2 .6 1.8 .5 4.8 .6 6.5 .5 6.3 .6 3.1 .6 1.1 .5 .9 .6-7 .5-8.3 .6-5.3 .6-3.5 .5-2.7 .6-3.1 .5-2.4 .6 4.7 .5 4.6 .6-4 .6-3.4 .5 4.4 .6 8.7 .5 3.9 .6-4.9 .5-3.6 .6 2.5 .6 2 .5-1 .6-7.9 .5-4.8 .6 3.9 .6 4.4 .5-3.8 .6-4.5 .5 1.2 .6 6.7 .5 3.5 .6-.2" fill="none" stroke="#0e0b0b" stroke-width="1.9" stroke-linejoin="round" stroke-linecap="round"/>
<rect x="1470.4" y="1202.7" width="144.5" height="73.6" fill="none" stroke="#0e0b0b" stroke-width="1.85"/>
<path d="M1528.2 1202.7v2.3M1528.2 1276.3v-2.3M1586.0 1202.7v2.3M1586.0 1276.3v-2.3M1470.4 1239.5h2.3M1614.9 1239.5h-2.3M1470.4 1264.1h2.3M1614.9 1264.1h-2.3M1470.4 1214.9h2.3M1614.9 1214.9h-2.3" stroke="#0e0b0b" stroke-width="1.3" fill="none"/>
<text transform="translate(1454.9 1208.9) scale(1.045 1)" font-size="24.3" text-anchor="end">2.5</text>
<text transform="translate(1454.9 1245.7) scale(1.045 1)" font-size="24.3" text-anchor="end">0</text>
<text transform="translate(1454.9 1282.5) scale(1.045 1)" font-size="24.3" text-anchor="end">-2.5</text>
<text transform="translate(1468.9 1301.8) scale(1.045 1)" font-size="24.3" text-anchor="middle">0</text>
<text transform="translate(1527.8 1301.8) scale(1.045 1)" font-size="24.3" text-anchor="middle">20</text>
<text transform="translate(1583.6 1301.8) scale(1.045 1)" font-size="24.3" text-anchor="middle">40</text>
<text transform="translate(1608.6 1301.3) scale(1.045 1)" font-size="24.3">(s)</text>
<text transform="translate(1429.7 1181.7) scale(1.045 1)" font-size="24.900000000000002">(cm)</text>
<text transform="translate(1542.4 1191.4) scale(1.045 1)" font-size="28" text-anchor="middle">AP</text>
<path d="M1470.4 1390.4l.6-.9 .5-1.2 .6-.5 .5 0 .6 .4 .5-.2 .6-.1 .6-.5 .5-.4 .6-1.1 .5-.6 .6 .1 .6 .6 .5 0 .6-.3 .5-.8 .6-.1 .5 .2 .6 .3 .6 2 .5 2.5 .6 3 .5-2.6 .6-3.2 .5-3.3 .6 1.8 .6 1.6 .5 1.5 .6-2.1 .5-1.9 .6-2.5 .6-1.5 .5 3.1 .6 4.1 .5 2.6 .6-1 .5-2.1 .6-1.7 .6-1.7 .5-.8 .6-.6 .5-.3 .6 .8 .5 1.2 .6 1.6 .6 2 .5 2.1 .6 2 .5 .6 .6-1 .6-.2 .5 .2 .6 .7 .5 .4 .6 0 .5 .2 .6-.5 .6-.2 .5 .4 .6 3.2 .5 2.9 .6 2.9 .5 .4 .6 .9 .6-.2 .5-1.2 .6-2.5 .5-2.3 .6-1.2 .6-1.2 .5-.1 .6-.5 .5 .1 .6-.8 .5-.6 .6-.1 .6-.6 .5-.4 .6-1 .5-.2 .6 .3 .5 1.4 .6 1.8 .6 .1 .5-1.1 .6-1.7 .5-.8 .6 .4 .6 1.3 .5 1.3 .6 1.5 .5-.8 .6-.6 .5-1.3 .6 1 .6 1.1 .5 1.6 .6-.2 .5 .2 .6-1 .5-.5 .6-1.1 .6 .9 .5 .4 .6 .7 .5-1 .6 1.5 .6 .7 .5 1.3 .6-.6 .5-1.8 .6-2.2 .5-2.7 .6-2.1 .6-1.3 .5-.3 .6 1 .5 1.2 .6 .8 .5 1.2 .6 .8 .6 1.1 .5 .7 .6 0 .5-1.1 .6-.8 .6-1 .5-.8 .6-1.6 .5-1.6 .6-1.2 .5-.7 .6 1.6 .6 .6 .5 .9 .6 .4 .5 .1 .6 0 .6 .4 .5-.2 .6 .4 .5-.8 .6-.2 .5-.8 .6 .7 .6 .9 .5 .4 .6 .9 .5 .3 .6 .2 .5-.3 .6 1 .6 2.1 .5 .9 .6 .1 .5 .2 .6 .9 .6 1.2 .5 .3 .6-1.6 .5-1.9 .6-.6 .5-1.3 .6-.9 .6-2.7 .5-2.4 .6-1 .5 .7 .6 1.3 .5 1 .6-.5 .6-.1 .5-.5 .6 .4 .5 .1 .6 .6 .6 .6 .5 1 .6 .3 .5-.7 .6-1.2 .5-1 .6 .1 .6 1.4 .5 .3 .6 .5 .5-.2 .6 .4 .5 .6 .6 .7 .6 .5 .5-1.5 .6-.7 .5-1.2 .6-.5 .6-.9 .5 1 .6 .9 .5 .7 .6-.4 .5-1.6 .6-1.9 .6-1.2 .5 1.5 .6 1.2 .5 1.7 .6 1.5 .5 .8 .6-1.2 .6-.7 .5-1.2 .6-1 .5 .3 .6 .9 .6 .6 .5 .9 .6 1.1 .5 1.1 .6 1 .5 .3 .6 .3 .6 .3 .5 .9 .6-1.7 .5-2.1 .6-2.3 .5-2.7 .6-2.9 .6-2.8 .5-1.5 .6-.8 .5-.4 .6 3.4 .6 3.5 .5 2.4 .6-1.2 .5-1.5 .6-.9 .5 .2 .6 1.5 .6 1.1 .5-.6 .6-1.7 .5-1.8 .6-1.1 .5-.9 .6-.5 .6-.7 .5-.7 .6-.1 .5 .3 .6 .8 .6-.4 .5-.6 .6-.8 .5-.9 .6 1.3 .5 1.5 .6 .9" fill="none" stroke="#0e0b0b" stroke-width="1.9" stroke-linejoin="round" stroke-linecap="round"/>
<rect x="1470.4" y="1352.3" width="144.5" height="73.6" fill="none" stroke="#0e0b0b" stroke-width="1.85"/>
<path d="M1528.2 1352.3v2.3M1528.2 1425.9v-2.3M1586.0 1352.3v2.3M1586.0 1425.9v-2.3M1470.4 1389.1h2.3M1614.9 1389.1h-2.3M1470.4 1413.7h2.3M1614.9 1413.7h-2.3M1470.4 1364.5h2.3M1614.9 1364.5h-2.3" stroke="#0e0b0b" stroke-width="1.3" fill="none"/>
<text transform="translate(1454.9 1360.3) scale(1.045 1)" font-size="24.3" text-anchor="end">2.5</text>
<text transform="translate(1454.9 1397.1) scale(1.045 1)" font-size="24.3" text-anchor="end">0</text>
<text transform="translate(1454.9 1433.9) scale(1.045 1)" font-size="24.3" text-anchor="end">-2.5</text>
<text transform="translate(1468.9 1449.6) scale(1.045 1)" font-size="24.3" text-anchor="middle">0</text>
<text transform="translate(1527.8 1449.6) scale(1.045 1)" font-size="24.3" text-anchor="middle">20</text>
<text transform="translate(1583.6 1449.6) scale(1.045 1)" font-size="24.3" text-anchor="middle">40</text>
<text transform="translate(1608.6 1449.1) scale(1.045 1)" font-size="24.3">(s)</text>
<text transform="translate(1429.7 1329.2) scale(1.045 1)" font-size="24.900000000000002">(cm)</text>
<text transform="translate(1542.4 1341.2) scale(1.045 1)" font-size="28" text-anchor="middle">ML</text>
<path d="M1804.3 1289.7l1.1 .9 1.2 1.2 1.1 1.3 1.2 1.5 1.2 1.9 1.4 2.3 1.4 2.7 1.6 3 1.5 3.1 1.2 3 .6 2.8 0 2.4-.5 1.9-.7 1-.6 .1-.5-1-.3-2-.1-2.8-.2-3.4-.4-3.6-.4-3.7-.3-3.6 0-3.4 .1-3.1-.1-2.4-.4-1.5-.6-.5-.6 .2-.7 .8-.6 1.3-.8 1.5-.9 1.6-1.3 1.8-2 2-2.5 2.3-2.6 2.5-2.3 2.4-1.5 2.2-.8 1.9-.1 1.5 .4 1.4 .8 1.2 1.2 1.2 1.6 1.2 1.8 1.3 1.9 1.3 2 1 1.7 .7 1.4 .1 .9-.6 .6-1.3 .4-1.6 .6-1.8 .4-1.6 .5-1.2 .4-.9 .2-.7 .2-.9 .2-.9 .4-1.2 .5-1 .5-.5 .4-.1 .2 .2-.1 .4-.3 .2-.4 .2-.2 0-.2-.1-.1 .1-.1 .5-.1 .8-.1 1 .1 .9 .3 .7 .5 .7 .7 .9 .9 .9 .9 .7 .9 .4 1.1 .2 1.3-.1 1.6-.5 1.5-.7 1.4-.8 1-.8 .5-.7 .4-.5 .4-.3 .5 0 .4 .2 .4 .3 .2 .2-.2-.1-.6-.4-1.1-.4-1.5-.1-1.8 .7-2 1.2-1.9 1.5-1.5 1.6-.7 1.7 .1 1.8 .7 1.9 .6 2.2 .1 2.3-.5 2.7-.8 2.7-.9 2.3-.7 1.8-.4 .8-.2 .1-.1-.8-.3-1.4-.4-1.7-.6-1.7-.6-1.6-.6-1.8-.7-2.2-1-2.6-1.4-2.8-1.5-2.9-1.4-2.8-1.1-2.2-1.1-1.3-1-.2-.8 .6-.9 1.1-1 1.4-1 1.3-.7 1.2-.4 1.3-.2 1.4-.1 1.5-.3 1.7-.1 1.7 .2 1.5 .6 1.2 1.1 .7 1.6 .1 1.9-.6 2.1-1.2 1.8-1.7 1.6-2 1.5-2.2 1.7-2.2 1.9-2.3 2.3-2.3 2.5-2.4 2.4-2.3 2.2-2 1.5-1.9 .8-1.3-.1-.8-.8-.5-1.6-.4-1.8-.6-1.8-1-1.2-1.6-.7-2 0-2 .5-1.9 .4-1.8 .1-1.3-.4-.8-.6-.1-.6 .5-.5 1-.1 1.4 .3 1.5 .5 1.4 .8 1.1 .7 .6 .8 .4 .8 .4 .5 .6 .2 .8-.3 .9-.5 .8-.3 .3 .1-.5 .5-1.5 .7-2.5 .9-3 .9-3.2 1-3.1 1.1-3.1 1.2-2.9 1.4-2.9 1.4-3 1.3-3.1 .7-3.2 0-3.2-.6-2.8-1.1-1.7-1.3-.7-1.6 .5-1.7 1.2-2 1.4-2.1 1.3-2.3 1.1-2.4 .9-2.3 .8-1.9 .9-1.5 1.3-1.1 1.4-.8 1.1-.7 .6-.9-.4-1.1-1.2-1.2-1.6-1.2-1.9-.9-2.1-.3-2.2 .4-2.2 .7-2.1 .8-2 .6-1.7 .3-1.1 .1-.4 .1 .6 .5 1.4 1.3 1.8 2 2.1 2.6 2.2 2.9 2 2.5 1.8 1.9 1.8 1.1 2 .6 2.4 .4 2.6 .2 2.8 .1 2.8 .1 2.7 .1 2.5 .4 2.1 .4 1.7 .4 1.2 .3 1 .1 .9 .2 .8 .1 1.1 0 1.4 0 2.1 0 2.5 .1 2.7 .2 2.4 .3 1.7 .3 .9 .4-.1 .6-.9 .7-1.3 .7-1.5 .9-1.4 .9-1 .8-.7 .7-.6 .7-.5 .7-.4 .3-.3-.3-.2-.9 .3-1 .8-1 1.5-1.1 1.9-1.1 2.1-1 2.5-.8 2.6-.7 3-.7 3.2-.9 3.3-.9 3.1-.7 2.5-.3 1.5-.3 .2-.4-1-.6-2.2-.6-3-.5-3.4-.3-3.5-.2-3.6 .1-3.5 .3-3.4-.1-3.1-.6-2.5-1.4-1.6-2.3-.6-2.6 .3-2.5 1.1-1.9 1.7-1.1 1.9-.3 1.9 .2 1.8 .5 1.7 .3 1.5-.2 1.6-.7 1.9-1.3 2.2-1.4 2.5-1.1 2.6-.6 2.7 .1 2.5 .6 2.3 1.1 2.1 1.3 1.8 1.3 1.7 1 1.6 .3 1.6-.3 1.7-.6 1.5-.6 1-.3 .5-.1-.4 .4-1 1-1.6 1.1-1.7 1.2-1.6 1-1.5 .9-1.6 .7-1.8 .7-2.1 .7-2.2 0-2.3-.6-2.1-1.2-1.3-1.8-.2-2.3 1.2-2.7 2.2-2.5 2.9-2.1 3.2-1.3 3-.5 2.8-.1 2.7 .1 2.7 0 2.8-.2 2.8-.7 2.9-1 2.7-1.1 2.4-.9 2.1-.7 1.8-.5 1.7-.4 1.8-.3 2.1 0 2.2 .4 2.3 .6 2.5 .7 2.7 .9 2.9 .9 2.9 .9 2.6 .8 2 .8 1.1 .7 .1 .9-1.2 1.1-2.2 1.2-2.7 1.4-2.8 1.6-3.1 1.5-3.2 1-3.4 0-3.6-1.2-3.5-1.9-3.3-2.3-3.3-2.4-2.8-2.3-2.5-2.2-2-2.1-2-2.2-2.2-2.6-2.3-2.9-2.2-3-2-2.8-1.8-2.3-1.5-1.8-1.3-1.4-1.1-.9-1-.7-.8-.7-.5-.6 .1-.5 .8-.1 1.5 .2 1.7 .1 1.8-.2 1.7-.5 1.5-.6 1.6-.4 1.9 0 2.2 .8 2.8 1.6 3 2 3.2 2 2.8 1.6 1.8 .8 .7 .2-.6-.1-1.6-.4-2.3-.4-2.6-.3-2.5 .2-2.4 .5-2.1 1-1.7 1.3-1.2 1.4-1 1.2-.9 1-.9 .9-1 .7-1 .7-1.1 .9-1.1 1.3-.9 1.6-.6 1.5-.2 1.2 0 .7 .3 .3 .3 0 .5-.1 1.2 .1 1.9 .5 2.1 1 2.4 1.1 2.3 1.1 1.8 .9 1.2 .6 .4 .2 0-.1-.4-.3-.5-.3-.5 0-.5 .4-.8 1-.9 1.4-1.2 1.6-1.4 1.4-1.4 .7-1.5-.2-1.3-.8-1.3-1.3-1-1.5-.8-1.3-.4-.9 .2-.1 .9 .6 1.8 1.2 2.6 1.6 3.3 1.9 3.4 2 3.2 1.8 3 1.3 2.5 .8 2 .5 1.5 .2 1 .1 .6 .1 .1 0-.6 .1-1 .1-1.2 .2-1-.1-.8-.3-.7-.7-.9-.9-1.1-1-1.2-.8-1.4-.6-1.6-.2-1.4 .2-1.2 .6-.9 .6-.6 .5-.6 .4-.6 .3-.7 .3-.9 .2-1.2 .3-1.5 .3-1.6 .1-1.6 0-1.6 0-1.3 0-1.2 0-1.1 .2-1 .5-1 .5-1 .5-.9 .4-1 0-.7-.1-.6-.2-.2-.3 .6-.3 1.2-.2 1.8-.1 2.1-.3 2.3-.6 2-.9 1.7-.9 1.4-.6 1.4-.1 1.5 .3 1.6 .3 1.6 0 1.4-.8 1-1.5 .2-2.3-.5-2.4-1.3-2.2-1.7-1.8-1.5-1.5-1.2-1-.7-.8-.5-.6-.6-.3-.8 0-1.2 .5-1.7 1.1-1.9 1.6-1.9 1.7-1.8 1.9-1.6 2.1-1.5 2.3-1.5 2.2-1.3 2.3-1 2.2-.6 2.2-.4 1.8-.5 1.1-.9 .3-1.3-.6-2-1.1-2.3-1.4-2.4-1.3-1.9-1.1-1.1-1-.4-1-.1-1.1-.3-1.5-.7-1.8-1-1.9-1.3-1.6-1.4-1.2-.9-.6-.2 0 .4 .3 1 .4 1.1 .4 1 0 .7-.6 .4-1.3 .1-1.6-.1-1.6-.1-1.5-.1-1.3 .2-.9 .3-.5 .7-.2 1 .2 1.2 .4 1.4 .6 1.7 .8 2 .9 2.3 .9 2.2 .5 2 .2 1.5-.1 1.2 0 1 .5 .8 1 .9 1.4 1.1 1.9 1.5 1.9 1.9 1.4 2.1 .8 2.1 .1 1.6-.4 1.3-.7 .7-1.1 .2-1.4-.2-1.5-.3-1.2-.4-1.1-.4-.8-.3-.7-.3-.4-.3-.3-.2-.3 .1-.3 .1 0 .2 .3 0 .2-.3 .2-.5-.2-.5-.3-.3-.4 0-.7 0-.8-.2-.9-.5-1.1-.8-1.1-1.2-.9-1.4-.8-1.6-.5-1.6-.1-1.6 0-1.6 0-1.2-.2-.9 0-.6 .4-.6 .7-.5 1-.8 1.1-1 .7-.9 .3-.6-.3-.1-.6 .6-.7 1.2-.4 1.4 .1 1.4 .7 1.3 1.2 1.4 1.2 1.4 .6 1.4-.2 1.3-.6 1.3-.9 1.4-.7 1.6-.3 1.7 .5 1.9 1.2 1.7 1.6 1.5 1.6 1.3 1.2 .9 .6 .6 .3 .4 .1 .4 .2 .5 .1 .4 .4 .5 .4 .6 .5 .6 .3 .6 .2 .6 0 .8-.2 .6-.1 .5-.1 .5-.1 .3 0 .2-.1 .4-.3 .5-.6 .7-.7 .8-1.1 .9-1.4 .9-1.6 .5-1.5 .2-1.1 .1-.6 .1 0 .4 .2 .9 .3 1.2 0 1.2-.1 1.1-.4 .6-.4 0-.3-.6 .1-1.1 .1-1.1 0-1.1-.6-1-.9-1.3-1-1.7-.7-1.8-.2-1.7 .4-1.8 .7-1.5 1-1.3 .7-.9 .4-.7 .1-.7 .2-1.1 .3-1.5 .5-1.7 .6-2 1.1-2.2 1.4-2.6 1.6-2.6 1.6-2.5 1.6-2.4 1.6-2.3 1.8-2.4 2-2.5 2.1-2.3 2-1.9 2-1.1 1.8-.3 1.3 .6 .8 1.4 .5 2 .4 2.2 .4 2.2 .4 2.4 .4 2.6 .4 2.8 .6 3 .5 2.8 .4 2.3 .3 1.6 .4 .7 .3-.1 .4-1 0-1.7-.5-2.2-.8-2.5-.9-2.7-.9-2.9-.8-2.6-.5-2.5-.1-2.4 .2-1.9-.1-1.3-.6-.4-1.2 .5-1.4 1.3-1.2 2-.8 2.4-.5 2.4-.2 2.1-.4 1.7-.4 1.7-.8 2-1.2 2.4-1.6 2.8-1.5 2.9-1.2 2.6-.9 2-.6 1.1-.3-.2 .1-1.4 .6-2.3 .9-2.9 .8-3.3 .5-3.5 .2-3.6 .2-3.5 0-3.2-.1-2.8 0-2.1 0-1.3-.1-.4-.6 .7-.9 1.4-1 1.8-.9 2.1-.5 2.1-.3 2.3-.1 2.3-.1 2.5 0 2.7 0 2.4 .2 2.1 .3 1.2 .6 .2 .7-1 .2-1.9-.2-2.5-.5-2.8-.6-2.8-.4-2.6 0-2.4 .7-2.3 1.3-2.2 1.8-2.2 2.2-2.4 2.1-2.5 2-2.3 1.8-1.6 1.4-.8 1 .1 .6 .7 .3 1.2 .4 1.4 .3 1.5 .5 1.7 .5 1.6 .6 1.5 .5 1.5 .4 1.5 0 1.6-.2 1.7-.2 1.7 0 1.8 .2 1.6 .5 1.4 .6 1.3 .6 1.1 .5 1.2 .3 1.4 0 1.5 0 1.4-.1 1.1 0 .8 .1 .6 0 .7 0 .9-.2 1.3-.1 1.5-.1 1.5 .1 1.4 .2 1-.1 .8-.2 .6-.2 .4-.3 .3-.3 .2 .2 0 .5-.3 .6-.5 .5-.5 .2-.4-.3-.3-.8-.2-1.1-.3-1.3-.3-1.3-.5-1.2-.5-1.1-.6-1-.5-.7-.7-.1-.8 .5-.9 1-.9 1.3-.9 1.2-.9 1.1-.9 .7-1 .1-.9-.5-.9-.6-.9-.8-1.1-.7-1.4-.7-1.7-.5-1.9-.2-2 .2-1.8 .4-1.1 .6-.4 .7 .3 .9 .9 .5 1.1-.2 1.2-.9 1.2-1.5 1.3-1.4 1.6-1.2 1.9-.9 2-.7 2.2-.4 2.3-.2 2.3-.3 2.4-.4 2.3-.6 1.9-.7 1.4-.9 .8-.9-.1-.5-.8-.2-1.5 .5-1.8 1.4-2 1.9-1.9 2-2 1.8-1.7 1.4-1.5 1.2-1.4 1.3-1.2 1.2-1.3 1.2-1.3 .7-1.5 0-1.4-.4-1.4-.9-1.1-.7-.7-.5-.2-.2 .1-.1 .2-.1 .4-.6 .4-1.4 .5-1.9 .6-1.9 .8-1.6 .7-1.3 .7-1 .7-.6 .5-.6 .4-.6 .3-.8 .1-1.1-.3-1-.4-.7-.5-.3-.7 .1-1 .3-1.2 .7-1.4 .7-1.4 .7-1.4 .5-1.6 .4-1.7 .6-1.6 .5-1.3 .4-.8 .4-.5 .5 .1 .5 .8 .7 1.4 .8 1.9 .6 2.1 .5 2.1 0 2.1-.3 1.9-.9 1.9-1.1 1.8-1.4 1.8-1.5 1.9-1.5 1.7-1.3 1.2-1 .6-.8-.1-.3-.8 .5-1.1 1.1-1.1 1.3-1.1 1.1-1 .5-1-.1-1-.8-1-1.3-1.1-1.4-1-1.4-1.1-.9-1.1-.5-1.2 0-1.5 .3-1.8 .4-1.8 .3-1.6-.1-1.5-.5-1.3-.6-1.2-.6-1.1-.8-1.1-1-1-.9-1-1-.8-.9-.6-1-.4-1.1-.2-1.1 .1-1.2 .3-1.3 .8-1.4 .9-1.3 1.1-1 .7-.6 .4-.2 .1 0 .1 .1 .3 .1 .7 .3 1 .3 1.2 .5 1.4 .5 1.3 .4 1.4 .2 1.3 0 1.3-.1 1.3 0 1 .1 .6 .7-.1 1.2-.6 1.7-1 1.9-1.2 1.8-1.2 1.3-1.2 .9-1.1 .5-.8 .2-.8 .2-.9 .5-1.2 .5-1.4 .3-1.3-.1-1-.6-.4-1.2 .4-1.5 1.2-1.2 1.8-1 1.9-.5 1.6 .2 1.1 .8 .8 1.4 .7 1.9 .7 2 .9 1.9 1.2 1.5 1.4 .7 1.5-.1 1.1-.6 .5-.6-.3-.3-.7 .3-1 .6-1 .8-1.2 1.1-1.4 1.2-1.5 1.3-1.4 1.6-1.5 1.9-1.3 2.1-1 2.1-.7 1.7-.5 1 .1 .4 1 .1 1.8 .2 2.9 .6 3.7 1.1 4.3 1.7 4.7 2 4.7 1.8 4.7 1.2 4.4 .5 4.3-.1 4.2-.2 3.7-.2 3.1-.2 2-.1 1-.1 0-.2-.7-.5-1.2-.8-1.2-.9-1.1-.7-1-.7-1-.9-1.2-1.3-1.2-1.9-1.3-2.2-1.4-2-1.4-1.6-1.3-.8-1.3 0-1.1 .8-.9 1.1-.7 1-.1 .8 .5 .6 1.1 .5 1.4 .6 1.5 .9 1.3 .9 1 .9 .5 .7 .1 .4-.2 .2-.2 .1 .2 .3 .6 .3 .8 .3 .7 .3 .5 .3 .2 0-.1-.2-.6-.4-1-.3-1.1-.2-1.2 .2-1.4 .2-1.5 .2-1.5-.2-1.4-.5-1.2-.8-.9-1-.8-1.2-.7-.9-1-.8-1.2-.5-1.3-.4-1.4-.4-1.2-.7-.7-.6-.1-.4 .7-.2 1.5 0 1.9 .2 2 .6 1.8 .7 1.5 .7 1.3 .4 1.4 .2 1.6 .1 1.8 .3 2.2 .6 2.5 .5 2.8 .4 2.8 .3 2.3 0 1.5-.5 .7-.9-.5-1.2-1.7-1.1-2.7-1.3-3.3-1.1-3.3-.9-3.1-.8-2.7-.4-2.3 .1-2 .9-1.8 1.6-1.6 2.1-1.6 2.1-1.8 2-2.3 1.4-2.6 .8-2.9 .2-2.7-.2-2.5-.1-2.3 0-1.8 .1-1.3-.1-.9 0-.5 0-.2-.1 0-.3 .1-.5 .1-.6-.2-.5-.7-.5-1.1-.3-1.4-.3-1.8-.2-2-.4-2-.5-1.9-.8-1.5-1.2-1-1.4-.5-1.3-.1-.9 .2-.6 .1-.1-.1 .1-.4 .1-.8-.1-1.1-.5-1.4-1.2-1.3-1.8-1-1.9-.8-1.7-.4-1.1-.1-.4 0-.1 .1 .2 .2 .3 .4 .5 .7 .5 1 .3 1.1 .2 1 0 .9-.2 .7-.4 .5-.8 .5-1.1 .4-1.1 .5-.7 .6-.4 .7 .1 .7 .6 1 .8 1.2 1.1 1.8 1 2.3 .8 2.6 .4 2.8 .3 3 .1 3 .2 2.6 .5 2.1 .8 1.5 1.2 1.1 1.7 .6 2 .4 2 .2 1.8 .2 1.5 .4 1.1 .5 .8 .4 .5 .7 .1 .9-.2 1.1-.3 .9-.5 .7-.7 .3-.5 0-.5-.2-.1-.3 0-.4 .1-.5 .2-.5 .2-.7 .4-.9 .4-1.1 .4-.9 .4-.8 .4-.7 .5-.7 .5-1 .8-1.4 .9-1.7 .7-1.9 .4-1.6-.1-1.4-.5-1-.8-.9-.8-.8-.6-1.1-.2-1.3 .2-1.4 .6-1.4 .6-1.1 .7-.7 .9-.5 1.1-.4 1.2-.3 1-.4 .6-.5 .3-.3 0 .1-.2 .7-.4 1.1-.2 1.4 .2 1.4 .8 1.2 1 .9 1 .7 .7 .5 .3 .6-.1 .9-.6 1.3-.8 1.5-.8 1.6-.5 1.3-.3 .5-.1-.4 0-1.2-.1-1.8-.5-2.4-1.1-2.4-1.7-2.3-2.1-2-2.1-1.6-1.8-1.3-1.1-1.3-.5-1.3 .1-1.3 .2-1.2-.1-1-.8-.6-1-.4-1-.1-.6 .2-.3 .6-.2 1-.1 1.2-.1 1.6 0 1.5-.1 1.3 .1 .9 .3 .6 .6 .4 .6 .5 .5 .7 .2 .7 0 .3 .1-.4 .2-1.1 .4-1.7 .8-2 1.4-2 1.5-2 1.3-1.9 .7-1.9 0-1.9-.6-2.1-1.1-2-1-1.6-.7-1 0-.2 .7 .7 1.3 1.3 1.6 1.7 1.7 1.9 1.7 2.1 1.7 2.1 1.8 1.9 1.7 1.9 1.6 1.6 1 1.4 .3 1.3-.3 1.3-.7 1.4-1.1 1.6-1.4 1.8-1.7 1.8-1.7 1.3-1.8 .7-1.6-.2-1.5-.9-1.3-1.3-1.1-1.5-.7-1.3-.6-1.4-.5-1.6-.4-1.6-.4-1.9-.7-1.9-.8-1.8-1.1-1.4-1.4-1.2-1.6-1.1-1.6-1.1-1.1-1.2-.7-1.3-.2-1.1 0-.8-.3-.4-.7-.2-.9-.1-1-.3-1-.6-.8-.8-.5-.6-.3-.7-.5-.6-.5-.7-.5-.5-.5-.5-.4-.5-.1-.2 .1 .1 .2 .4 .2 .4-.1 .7-.4 .7-.6 .9-.9 1.3-1 1.7-1.1 1.8-.9 1.8-.7 1.8-.7 1.6-.4 1.3 0 1.2 .5 1.4 .9 1.7 1.4 1.8 1.5 1.7 1.2 1.6 .9 1.5 .2 1.5-.3 1.3-.5 1.2-.2 .9 .2 .8 .8 .5 1.2 .3 1.6 0 1.7 0 1.8 .2 1.7 .4 1.4 .7 .9 .7 .7 .8 .6 1.1 .5 1.3 .5 1.5 .8 1.7 .9 1.8 1.1 2.1 .8 2.4 .3 2.7-.1 2.7 0 2.4 0 2.1 .2 1.7 .4 1.2 .7 .9 1 .7 1.2 .9 1.3 1.2 1.5 1.7 1.6 1.9 1.9 2 1.8 2.2 1.7 2.1 1.7 1.9 1.7 1.5 1.5 1.2 1.4 .8 1.4 .7 1.2 .8 1 .9 .8 .9 .8 1 .8 .7 .7 .3 .7 .1 .7-.4 .6-.8 .7-1.3 .8-2 1.2-2.8 1.2-3.3 1.3-3.5 .9-3.3 .4-2.9-.1-2.5-.6-2.1-.8-2.1-.8-2.3-.8-2.7-.7-3-.9-3.1-1.2-2.7-1.3-2.2-1.4-1.7-1.8-1-1.9-.5-1.8-.1-1.4 0-1.1-.5-.6-.9 0-1.4 .4-1.8 .7-1.9 .8-1.8 .6-1.3 .3-.9 .3-.7 .2-.7 .3-.9 .2-1.4 .2-1.5 0-1.7 .1-1.4 .5-1.4 .9-1.2 1.2-1.1 1.4-1 1.4-.8 .8-.4-.1 0-.9 .4-1.4 .8-1.7 1-1.7 1.2-1.5 1.3-1.1 1.5-.9 1.6-.5 1.8-.3 1.7-.1 1.5 .3 1 .6 .2 .8-.3 .7-.7 .5-.8 .3-.7 .2-.6 .2-.6 .1-.6 .4-.9 .4-1.1 .5-1.2 .3-1.1 0-1-.4-.6-.8 0-1.1 .7-1.6 1.7-1.6 2.4-1.3 2.9-.8 3.1-.3 3.1 .2 3.1 .6 3 1 3.2 1.5 3.3 1.8 3.6 1.6 3.6 1.6 3.4 1.6 2.8 1.5 1.7 1.2 .5 .7-.7 .1-1.8-.2-2.4-.1-2.8 .1-2.9 .2-3.1 .2-3 .5-2.7 .5-2.5 .4-2 .2-1.5 0-1 .1-.3 .2 .1 .5 .5 .6 .5 .4 .8 0 1.3-.4 1.6-.9 1.9-1.2 1.8-1.1 1.7-1 1.4-.8 1-.6 .7-.1 .2 .1 0 .5 .2 .5 0 .6-.4 .6-1.1 .4-1.8 .4-2.5 .5-3.1 .9-3.4 1.4-3.4 1.9-3.3 2-3 1.6-2.7 1-2.5 .4-2.2-.2-1.8-.6-1.1-.7-.2-.4 1 0 1.9 .4 2.5 .2 2.9 .2 2.9 .1 2.7 .1 2.2-.3 1.6-.5 1-.6 1-.4 .9 0 .8 .2 .3 .2-.2 .1-.8 .1-1.5 .1-2.1-.2-2.5-.3-2.7-.4-2.7-.2-2.7 .1-2.7 .3-2.5 .3-2.3 .1-2 0-1.4 0-.7-.1 .2 0 1 .3 2 .4 2.7 .7 2.9 .7 2.8 .6 2.6 .6 2.2 .6 1.9 .4 1.8-.1 1.8-.8 1.7-1.3 1.6-1.6 1.4-1.4 .9-.9 .4-.2 .2 .5-.1 .8 0 .5 .2 0 .3-.5 .3-.8 .2" fill="none" stroke="#1b40a0" stroke-width="2.1" stroke-linejoin="round" stroke-linecap="round"/>
<path d="M1803.9 1291.6l.9 1.3 .9 1.7 .9 1.8 .9 2 .7 1.8 .9 1.8 1 1.8 1.1 1.9 .9 2.1 .7 2.1 .5 2.1 .1 1.9 .1 1.4-.1 .7-.1-.2 0-1 .3-1.9 .4-2.3 .5-2.4 .5-2.5 .4-2.6 .2-2.4 0-2.5-.3-2.6-.3-2.2-.4-1.8-.4-1.1-.4-.2-.3 .7-.2 1.3-.2 1.7-.1 1.8-.3 2-.5 2-.6 1.9-.7 1.9-.7 2-.5 1.9-.3 1.9 .1 1.8 .5 1.7 .7 1.6 .9 1.6 1 1.4 1.1 1.2 1.1 .7 1.1 .3 1-.2 1.1-.6 .9-.8 .7-.9 .4-.8 .3-.7 .2-.6 .2-.6 .1-.6-.1-.7-.1-.9-.2-1-.1-1-.1-1-.1-.8 .2-.5 .4-.4 .4-.2 .3 0 .1-.1-.1 0 0 .1 .3 .1 .5 .1 .7-.1 .7-.1 .4-.1 .2-.1 .1 0-.2 .2-.3 .4-.4 .6-.5 .6-.6 .5-.5 .6-.3 .3 0 .2 .4 0 .7 0 .8 0 .6 .1 .3 0 0-.1-.2-.4-.2-.4 0-.5 .1-.6 .2-.5 .1-.3-.3 .5-.3 .9-.6 1.5-.6 1.8-.8 2.2-.6 2.3-.6 2.2-.7 2.1-.7 2.2-.7 2.1-.8 2-.8 1.7-.8 1.2-.9 .5-.6-.2-.4-1.1-.2-1.6-.2-1.8-.5-1.9-.5-1.8-.6-1.9-.7-1.8-.8-1.9-.9-1.8-.7-2-.6-1.9-.8-1.5-1.1-.9-1.4-.3-1.6 .2-1.4 .7-1.3 .9-1.1 .9-.7 .9-.2 .9 .1 .9 .6 .9 .8 1 1.3 1 1.6 .8 1.7 .6 1.8 .3 1.5-.3 1.2-.6 .8-1.2 .5-1.5 .5-1.8 .6-2.1 1-2.2 1.3-2.4 1.8-2.5 2-2.5 2-2.3 1.7-2 1.2-1.9 .6-1.5-.1-1.4-.6-1.2-.9-1.1-1-1-.9-.9-.5-.9-.2-.6 0-.4-.2-.2-.4-.1-.7 .1-1.1 .2-1.1 .4-1.1 .4-1.1 .5-.8 .5-.5 .7-.1 .8 .3 .9 .5 1 .7 1 .7 1.1 .6 1.2 .5 1 .5 .8 .5 .2 .6-.6 1-1.5 1.2-2.1 1.4-2.7 1.3-3.2 1.4-3.3 1.3-3.3 1.2-3.3 1.4-3.2 1.2-3.1 1.2-2.9 1-2.5 .7-2.2 .4-1.8 0-1.2-.6-.6-1 .1-1.5 .8-1.6 1.1-1.7 1.4-2 1.5-2.2 1.5-2.2 1.5-2.1 1.4-1.9 1.1-1.7 .7-1.7 .3-1.6 0-1.5-.4-1.6-.6-1.7-.8-1.6-1-1.3-1.3-.8-1.4-.3-1.7 .1-1.8 .2-1.8 .5-1.7 .6-1.1 .8-.5 .9 .2 1 .8 1.3 1.4 1.7 1.8 1.8 2.1 2.1 2.2 2 2.5 1.9 2.6 1.5 2.5 1.1 2.6 .9 2.5 .7 2.4 .5 2.4 .6 2.3 .6 2.4 .5 2.3 .4 2.1 .3 1.9 .2 1.6 .4 1.5 .7 1.3 .8 1.3 .8 1.5 .9 1.5 .6 1.5 .4 1.5 .1 1.2-.1 .8 0 .2 .1-.3 .2-.8 .5-1.1 .6-1.2 .7-1.1 .5-1.2 .1-1-.4-1.1-.6-1.3-.9-1.4-1-1.5-1.1-1.1-1-.6-1 .2-.9 1-.8 1.9-.8 2.6-.9 2.9-.7 3.2-.4 3.3-.2 3.3-.1 3.3-.2 3.1-.2 2.6-.6 1.7-.9 .7-1.2-.6-1.3-1.7-1.2-2.4-.8-3-.4-3.1-.2-3.3-.3-3.4-.5-3.5-.7-3.4-1-2.6-1-1.6-.8-.5-.6 .5-.4 1.1-.3 1.4-.3 1.4-.4 1.5-.6 1.7-.8 2-.9 2.2-1.1 2.3-1.2 2.2-1.3 2-1.2 1.7-1.1 1.7-.9 1.8-.4 2 0 2.1 .5 2.4 .9 2.4 1 2.5 1 2.5 1 2.6 .8 2.5 .6 2 .3 1.5 .2 .5 .2-.5 .2-1.4 .3-2.1 .3-2.3 .3-2.2 .4-2.1 .5-2 .4-1.8 .4-1.7 .2-1.9-.1-1.9-.3-2-.6-1.6-.6-.9-.8 .2-.6 1.4-.4 2.2-.1 2.8 .3 2.9 .5 2.9 .4 3 .4 3.1 .5 3.3 .3 3.4 0 3.4-.4 3.4-.6 3-.8 2.6-.9 2-.9 1.8-.9 1.7-.8 1.9-.8 2.1-.7 2-.8 2.1-.5 2-.2 2 .1 1.8 .2 1.5 .3 .9-.3-1-.2-2 0-2.7 .6-3.2 1-3.4 1.2-3.4 1-3.3 .3-3.4-.5-3.4-1.1-3.3-1.7-3.1-1.8-2.6-1.7-2-1.7-1.5-1.5-1.1-1.5-1-1.4-.9-1.5-1-1.5-1.1-1.6-1.2-1.8-1.2-1.9-1.1-1.8-1-1.6-1-1.3-1-1-.7-.6-.3-.5 .4-.3 1.1-.4 1.4-.4 1.6-.4 1.8-.3 1.7-.3 1.7-.2 1.8-.1 1.8-.2 2-.3 2-.5 2-.5 1.7-.6 1.1-.7 .2-.8-.6-.7-1.2-.6-1.6-.6-1.6-.3-1.5 0-1.2 .4-1.2 1.1-1.1 1.5-1.2 1.8-1.4 1.8-1.3 1.5-1.2 1.1-1 .9-1 .8-.8 1-.8 1.2-.8 1.5-.7 1.8-.4 1.9 0 2 .2 2 .5 1.9 .6 1.6 .8 1.4 .7 1 .7 .6 .6 .4 .7 .3 .6 .2 .5 .5 .4 .7 .2 .9 .2 .9 .2 .7 .1 .7-.1 .4-.3 .4-.6 .2-.7 .2-.9 .1-.8 .2-.5 .2-.5 .1-.3-.1-.5 0-.5-.1-.6-.1-.4-.3 0-.4 .6-.6 1.2-.5 1.6-.6 2.2-.6 2.4-.4 2.6-.2 2.4 .2 2.3 .4 2 .4 1.6 .3 1.1 .1 .7-.2 .2-.2-.2-.3-.5-.2-.8-.2-.9 .2-.8 .5-.9 .7-.9 1-.8 1-.8 1.1-1.1 .8-1.3 .5-1.5 .2-1.7 0-1.7-.1-1.5 .1-1.2 .1-1 .1-.6 0-.4 0-.4-.1-.5-.2-.8 0-.9 .1-1.1 .3-.9 .4-.8 .4-.6 .2-.5 .2-.4 .1-.3 0-.3-.2-.4-.2-.6-.4-.5-.4-.3-.5 .1-.5 .7-.6 1.1-.5 1.7-.4 2.1-.3 2.2-.2 2.1-.1 2.1-.1 2 0 2-.1 1.8 0 1.5-.2 1.4-.1 1-.2 .5-.2-.1-.1-.7-.3-1.2-.4-1.5-.6-1.5-.7-1.6-.5-1.7-.2-1.8 .2-1.8 .4-1.7 .8-1.7 1-1.6 1.1-1.5 1-1.3 .9-1.1 .7-1.2 .8-1.2 .8-1.3 .8-1.4 .8-1.4 .5-1.3 .5-1.3 .4-1.4 .2-1.4 0-1.5-.2-1.6-.3-1.7-.6-1.9-.9-1.9-1.1-1.8-1.2-1.6-1.1-1.3-.8-.9-.8-.7-.7-.5-.8-.2-.6-.1-.5-.1-.4-.2-.3-.2-.1 .2-.3 .5-.6 .9-.9 1-.9 1.1-.7 1.1-.7 1-.6 .9-.4 .8-.3 .7-.2 1-.1 1.1 .1 1.2 .2 1.4 .6 1.4 .7 1.4 .9 1.2 .8 1.1 .9 1.1 .7 1.4 .6 1.6 .4 1.9 0 2-.3 2-.5 1.8-.5 1.7-.2 1.5 0 1.5 .2 1.3 .4 1.2 .4 1 .1 .6-.2 0-.7-.6-.6-.8-.5-.9-.3-.8-.1-.5-.2-.4-.2-.5-.2-.4-.2-.7-.3-.9-.4-.9-.4-1-.5-.8-.5-.7-.8-.6-.9-.5-1-.5-.8-.6-.5-.6-.1-.6 .3-.4 .6-.4 .8-.5 .7-.4 .6-.3 .5-.1 .4-.1 .4-.3 .5-.4 .6-.6 .5-.7 .3-1 0-.9-.1-.8-.3-.4-.5 0-.5 .4-.4 .5-.3 .7-.1 .9 0 1.1 .1 1.3 .1 1.5 .2 1.5 .4 1.5 .5 1.5 .4 1.5 .6 1.5 .6 1.7 .5 1.7 .3 1.8 .3 1.6 .1 1.2 .2 .8 .1 .5 .2 .4 0 .4 .1 .3 .1 .3 .2 .2 .3 .3 .4 .2 .4 0 .4-.2 .3-.3 .1-.3 0-.1-.1 0-.2 .2-.1 .5-.1 .7-.2 .8-.3 .8-.3 .7-.5 .7-.6 .7-.9 .8-1.1 .8-1.4 1-1.4 1.1-1.4 1-1.2 .8-.9 .6-.7 .4-.6 .1-.5-.1-.6-.2-.6-.4-.8-.3-1-.4-1.2-.6-1.1-.8-.8-1-.3-1.4 .5-1.7 1.3-1.8 1.9-1.8 2.3-1.6 2.2-1.5 1.9-1.3 1.6-1.2 1.3-1.3 1.2-1.6 1.2-2 1.2-2.2 1.3-2.3 1.1-2.2 .9-2 .9-2 .8-1.8 .8-1.9 1-1.9 1.2-2 1.4-2.1 1.4-1.8 1.4-1.1 1.2-.3 .9 .8 .6 1.5 .1 2.2-.2 2.4-.4 2.3-.2 2.3 .3 2 .6 1.9 .9 1.8 1.3 1.9 1.4 1.8 1.5 1.6 1.2 1.2 1.1 .6 .8 0 .8-.4 .7-.9 .6-1 .4-1.4 .2-1.6-.1-1.9-.5-1.9-.7-1.9-.9-1.6-1-1.4-1-1-1-.4-1 .1-1.1 .6-1.3 .9-1.6 1.2-1.7 1.5-2 1.7-1.8 2-1.5 2.2-1.2 2.3-1 2.3-.7 2.1-.6 2-.6 1.7-.5 1.1-.6 .6-.6-.3-.6-1-.6-1.8-.6-2.3-.6-2.5-.5-2.7-.4-2.7-.1-2.7 .1-2.8 .1-2.8 .3-2.7 .4-2.2 .3-1.3 .3-.3 .2 .7 0 1.5-.1 1.8-.1 1.9-.1 1.7 0 1.6 .2 1.5 .2 1.5 .2 1.6 .1 1.4 .3 1 .3 .3 .5-.3 .6-.8 .6-1.2 .4-1.5 .2-1.7-.1-1.9-.3-2.2-.2-2.3 .2-2.6 .4-2.7 .5-2.8 .5-2.8 .3-2.5 .2-1.9 .3-1.1 .4-.2 .5 .6 .6 1 .4 1.3 .3 1.3 .2 1.3 .1 1.3 .3 1.2 .6 1.1 .8 1.1 1.2 1.3 1.2 1.5 1.3 1.8 1.3 2.2 1.1 2.3 1 2.4 .9 2.1 .8 1.7 .7 1.4 .9 1.2 .7 1.2 .8 1.5 .8 1.9 .8 2.1 .8 2.3 .9 2.1 .7 2.1 .6 1.8 .4 1.6 .2 1.1 0 .6-.3 .4-.5 0-.5-.3-.6-.5-.7-.6-.7-.6-.7-.6-.7-.5-.8-.6-.8-.5-.8-.7-.8-.7-.9-.8-1-.9-.9-.8-.7-.6-.6-.4-.5-.1-.6 .1-.7 .1-.7 0-.6-.3-.5-.7-.3-.9 0-1.1 .3-1.3 .3-1.1 .2-1-.3-.9-.6-.8-.6-.8-.6-.8-.2-.8 0-.7 .4-.6 .5-.3 .3 .1-.1 .5-.2 .8-.3 1.1 0 1.3 .2 1.3 .6 1.5 .6 1.7 .6 1.8 .4 2 .3 2 .1 1.8-.1 1.8-.3 1.6-.2 1.4-.3 1.2-.1 1 0 .8 0 .2 .2-.4 .2-1.1 .2-1.7 .1-2 .1-2.1 .1-2.1 .1-2 0-1.8 0-1.8-.1-1.7-.2-1.4-.1-1.2 .1-1.1 .1-1 .3-1.1 .4-1 .4-1.1 .4-1 .4-.8 .4-.3 .2 .1 .1 .5-.2 .7-.3 .8-.4 1-.3 .9 .1 .9 .3 .8 .4 .7 .4 .7 .1 .5-.2 .5-.5 .5-.7 .7-.9 .4-1 0-.9-.5-.7-1.1-.7-1.7-.4-1.9-.3-2-.2-2-.1-1.9-.1-1.9-.1-1.9-.2-1.9-.2-1.9-.2-1.5 0-1.1 0-.3-.2 .6-.2 1.2-.4 1.9-.4 2.2-.2 2.3-.1 2.5 .1 2.4 .5 2.4 .6 2.3 .5 2.2 .3 2 .2 1.5 0 1 .1 .2 .2-.5 .1-1.1 .1-1.5-.1-1.7-.4-1.5-.9-1.4-1.1-1.4-1.3-1.3-1.3-1.2-1.2-1.2-1.2-1.3-.9-1.2-.7-1.2-.4-1.2-.3-1.2-.2-1-.3-.8-.3-.7-.3-.7-.2-.6-.2-.6-.2-.6-.2-.9-.5-1-.6-1.1-.6-1.1-.6-.9-.4-.9-.3-.7-.1-.5 0-.2 0 .2 .2 .4 .2 .6 .4 .6 .4 .8 .2 1 0 1.1-.3 1.2-.5 1.3-.6 1.4-.4 1.3-.5 1.2-.5 1.1-.7 1.1-.8 1-.9 .9-.8 .9-.4 .6 .1 .3 .6 .1 .8-.2 1-.4 .9-.5 .7-.8 .4-.9 .1-1.2-.1-1.2-.1-1.3 0-1.3 .3-1.5 .6-1.3 .7-1 .9-.5 .9 .3 .7 .8 .7 1.3 .6 1.4 .6 1.4 .8 1.3 .9 1 1 .9 .9 .9 .8 1.1 .6 1.2 .8 1.1 .9 1 1.2 .6 1.3 .2 1.2-.2 1.2-.6 .9-1 .7-1.2 .4-1.3 .4-1.1 .7-.9 .9-.7 1-.3 .8-.2 .6-.1 .2-.2 .1-.2-.2 0-.3 .5-.4 1.3-.3 2.2-.3 3.1-.1 3.7-.2 4.2-.1 4.5-.1 4.8-.2 4.9-.3 5-.2 5-.3 4.6-.1 4.1 0 3.3 0 2.2 .1 1-.1 0 0-.9 0-1.4 .1-1.7 .4-2 .7-2.2 .9-2.2 1.1-2.2 1.3-2 1.2-2 1.1-2 .8-2.2 .5-2.4 .3-2.3 .1-2-.1-1.6-.3-.9-.1-.3-.1 .2 .1 .5 .2 .4 .3 .2 .3 .2 .5 .4 .4 .6 .2 .8 0 1-.3 1.1-.5 1-.5 .9-.5 .7-.6 .7-.4 .6-.2 .6 .1 .4 .2 .2 .2-.1 .4-.3 .3-.6 .4-.8 .2-1 0-1.1-.2-1.3-.4-1.3-.5-1.5-.7-1.4-.8-1.5-.9-1.5-.8-1.5-.9-1.2-.8-.7-.8-.3-.7 .4-.7 1-.8 1.4-.9 1.8-.8 2-.7 1.9-.3 1.8 .1 1.7 .5 1.6 .8 1.6 1 1.5 .8 1.5 .5 1.5 0 1.7-.4 1.9-.6 2.1-.6 2-.4 1.7 0 1 .3 .1 .4-.9 .4-1.8 .2-2.4 .1-2.8-.2-3-.2-3-.1-3 .1-3 .4-2.9 .6-2.8 .6-2.8 .7-2.8 .5-2.7 .3-2.6 .1-2.5-.2-2.2-.4-2-.4-1.7-.3-1.7-.1-1.5 .1-1.3 .1-1.1 0-1-.1-.8-.2-.7-.3-.8-.5-.9-.5-.8-.4-.8-.2-.8-.1-.6-.2-.5-.3-.6-.4-.6-.6-.8-.6-.9-.6-.9-.4-1 0-.8 .3-.7 .4-.5 .2-.3-.3-.3-.8-.3-1.3-.4-1.6-.4-1.6-.5-1.3-.2-1-.1-.5-.1-.1 0 .1 0 .3 .3 .3 .5 .2 .9 .1 1.1 0 1.3-.1 1.3-.2 1.2-.2 1.1-.1 1.1-.1 1.1-.1 1.1-.2 1.2 0 1.1 .2 1.1 .4 1.1 .7 1.2 .8 1.2 .9 1.2 .9 1.3 .8 1.3 .5 1.4 .4 1.4 .5 1.4 .6 1.6 .4 1.6 .3 1.5 .2 1.4 .2 1.3 0 1.3-.1 1.3-.5 1.3-.7 1.2-.6 1.1-.6 1-.6 .9-.5 .8-.1 .6 .2 .3 .6-.2 .7-.6 .7-1.2 .6-1.6 .4-1.9 .4-2 .3-2 .3-1.7 .5-1.5 .6-1 .6-.6 .4-.4 .2-.3 .2-.4 .2-.5 .4-.7 .5-1 .4-1.2 .2-1.3 .1-1.3 0-1.3-.1-1.2-.1-1.1 0-.9 .2-.7 .2-.6 .3-.3 .2-.3 .2-.1 .1 0 .2-.2 .1-.5 .2-.5 .3-.6 .5-.5 .6-.3 .5 .2 .5 .6 .5 1 .5 1.3 .7 1.4 .9 1.4 1.1 1.3 1.1 1.1 1.1 1 .8 .9 .6 .7 .4 .7 .1 .4 0 .2-.2-.3-.2-.7-.3-1.2-.3-1.4-.2-1.5-.1-1.5-.2-1.5-.2-1.7-.4-1.7-.5-1.8-.6-1.7-.7-1.7-.7-1.4-.6-.9-.6-.5-.5 0-.5 .4-.6 .5-.6 .6-.9 .5-1.1 .5-1.3 .5-1.3 .5-1.3 .5-1.1 .7-1.1 .7-1 .7-.6 .8-.3 .7-.2 .9 .1 .8 .4 .7 .6 .4 .8-.2 .8-.7 .9-1 .8-1.4 .9-1.6 .9-1.7 .8-1.6 .7-1.4 .7-1.3 .7-1.3 .8-1.1 1-.8 1-.5 .8 .1 .7 .4 .7 1 .6 1.3 .7 1.6 .6 1.8 .4 2 .1 2.1-.1 1.9-.7 1.9-1.1 1.8-1.4 1.8-1.5 1.9-1.6 2-1.5 2-1.3 1.7-1 1.1-.7 .4-.4-.5-.2-1.2-.2-1.7-.4-2.1-.7-2-.9-2-.9-1.8-.7-1.7-.6-1.7-.5-1.7-.3-1.8-.4-2-.3-2.3-.4-2.5-.4-2.4-.3-2.2-.3-1.8-.3-1.4-.4-1-.3-.8-.4-.6-.3-.5 0-.5 .3-.6 .5-.6 .4-.5 .3-.5-.2-.5-.4-.4-.8-.2-.9 0-.8 .4-.7 .6-.6 .9-.4 1.1-.1 1.2 .1 1.2 .2 1.3 .2 1.3-.2 1.4-.6 1.4-1 1.5-1.2 1.5-1.5 1.3-1.2 1.1-.8 1-.4 .9-.1 .9 .1 .8 .1 .9 .1 .8 0 .8 0 .6 0 .6 0 .6 .1 .6 .2 .6 .3 .7 .6 .6 .8 .7 1 .5 1.1 .5 1.2 .5 1.2 .6 1.2 .7 1 1 .9 1.3 .7 1.8 .6 2.1 .7 2.5 .8 2.7 .8 3 .9 3.1 .8 2.8 .7 2.6 .5 2.4 .3 2.2 .2 2.3 .2 2.4 .4 2.6 .9 2.7 1.4 2.7 1.9 2.5 2.5 2.2 2.6 1.5 2.6 1.1 2.5 .6 2.3 .3 1.9 .2 1.8 .1 1.7 .3 1.7 .6 1.7 .7 1.6 .9 1.6 1.1 1.4 1 1.4 .9 1.2 .8 1 .7 .7 .7 .3 .5 .3 .1 .4-.5 .5-1.2 .6-2 .7-2.6 .6-3 .5-3.1 .4-3.1 .4-3.1 .5-3.1 .5-3.1 .6-3.1 .6-3.1 .3-2.9 0-2.6-.3-2.2-.9-1.8-1.1-1.5-1.5-1.3-1.7-1.3-1.9-1.2-2-1.4-2.1-1.5-2.2-1.6-2.2-1.4-2.3-1.5-2.3-1.4-2.2-1.4-2.1-1.4-1.9-1.3-1.5-1.1-1.1-1-.8-1.1-.4-1.1 0-1.2 .2-1.2 .3-1.4 .2-1.4 .4-1.4 .4-1.6 .4-1.6 .6-1.6 .7-1.3 .8-.8 1.1 0 1.2 .9 1.2 1.6 1.2 1.9 1 2.1 .6 1.9 .4 2.1 .2 2.1 .2 2.3 .3 2.3 .2 2.3 .1 2 0 1.5-.5 .5-1-.3-1.4-1-1.6-1.4-1.6-1.6-1.2-1.6-.8-1.4-.5-1.3-.3-1.3-.3-1.2-.5-1.4-.6-1.6-.6-1.4-.5-1-.4-.2-.1 .7 .2 1.8 .3 2.5 .4 2.9 .4 3.1 .4 3.1 .4 3.1 .6 3.4 .6 3.4 .8 3.6 1 3.6 1.1 3.4 1 2.9 1 1.9 .7 .9 .6-.2 .4-1.1 .4-1.6 .4-1.9 .6-1.9 .6-1.8 .5-1.6 .4-1.7 .4-1.6 .2-1.6 .1-1.3 0-.9 0-.5-.1-.1-.1 .5 .3 .6 .6 .7 1.2 .8 1.4 .7 1.6 .6 1.3 .4 .9 .4 .4 .3-.1 .4-.1 .6 .1 .9 .4 1.1 .8 1.3 1 1 1.1 .5 .9-.3 .5-1.2 .4-2 .2-2.5 .3-2.8 .5-3 .7-2.8 .6-2.8 .4-2.7 .2-2.8 .1-2.7 0-2.3-.2-1.7-.2-.8-.3 .2-.2 1-.4 1.3-.5 1.6-.5 1.5-.4 1.5-.2 1.4-.1 1.4-.2 1.4-.3 1.4-.3 1.3-.1 1 .1 .4 .4-.2 .7-.8 .8-1.3 .8-1.6 .5-1.9 .2-2 .1-2.1 .2-2.2 .5-2.3 .7-2.3 .8-2.2 .8-2 .9-1.6 .8-1 .6 0 .4 .7-.1 1.5-.6 2-1.1 2.2-1.4 2.4-1.5 2.5-1.4 2.6-1.1 2.6-.9 2.6-.8 2.6-.9 2.2-1.1 1.8-1 1.1-1 .7-.9 .3-.9-.1-.8-.1-1.1-.1-1.2-.2-1.2-.1-.9-.1-.6 .1" fill="none" stroke="#1b40a0" stroke-width="2.1" stroke-linejoin="round" stroke-linecap="round"/>
<rect x="1692" y="1229.2" width="233.4" height="176.1" fill="none" stroke="#262424" stroke-width="1.85"/>
<path d="M1808.7 1229.2v3.0M1808.7 1405.3v-3.0M1692.0 1317.2h3.0M1925.4 1317.2h-3.0" stroke="#262424" stroke-width="1.3" fill="none"/>
<text transform="translate(1677.7 1238.1) scale(1.045 1)" font-size="28" text-anchor="end">2.5</text>
<text transform="translate(1677.7 1326.2) scale(1.045 1)" font-size="28" text-anchor="end">0</text>
<text transform="translate(1677.7 1414.2) scale(1.045 1)" font-size="28" text-anchor="end">-2.5</text>
<text transform="translate(1695.5 1443.2) scale(1.045 1)" font-size="28" text-anchor="middle">-2.5</text>
<text transform="translate(1810.2 1443.2) scale(1.045 1)" font-size="28" text-anchor="middle">0</text>
<text transform="translate(1923.4 1443.2) scale(1.045 1)" font-size="28" text-anchor="middle">2.5</text>
<text transform="translate(1653.3 1204.3) scale(1.045 1)" font-size="28.7">(cm)</text>
<text transform="translate(1935.9 1406.1) scale(1.045 1)" font-size="28.7">(cm)</text>
</svg>
</body></html>
